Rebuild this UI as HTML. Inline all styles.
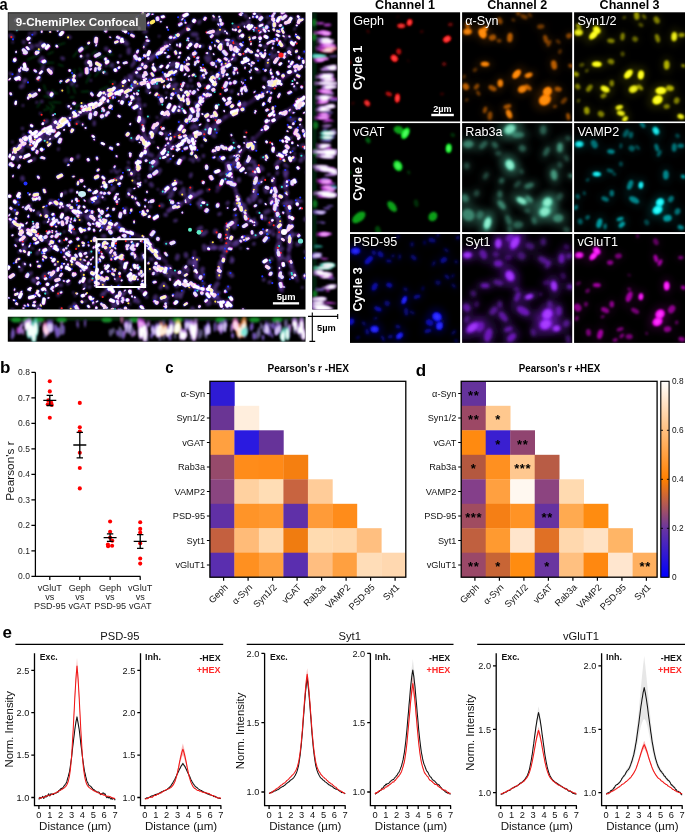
<!DOCTYPE html><html><head><meta charset="utf-8"><title>9-ChemiPlex figure</title>
<style>html,body{margin:0;padding:0;background:#fff}svg{display:block}text{font-family:'Liberation Sans', sans-serif}</style></head><body>
<svg width="685" height="833" viewBox="0 0 685 833">
<defs><filter id="b05" x="-5%" y="-5%" width="110%" height="110%"><feGaussianBlur stdDeviation=".45"/></filter>
<filter id="b07" x="-5%" y="-5%" width="110%" height="110%"><feGaussianBlur stdDeviation=".7"/></filter><filter id="b1" x="-5%" y="-5%" width="110%" height="110%"><feGaussianBlur stdDeviation=".9"/></filter>
<filter id="b15" x="-5%" y="-5%" width="110%" height="110%"><feGaussianBlur stdDeviation="1.3"/></filter><filter id="b3" x="-5%" y="-5%" width="110%" height="110%"><feGaussianBlur stdDeviation="3"/></filter><filter id="b2" x="-5%" y="-5%" width="110%" height="110%"><feGaussianBlur stdDeviation="1.8"/></filter></defs>
<rect width="685" height="833" fill="#fff"/>
<text x="-0.5" y="9.8" font-size="17" font-weight="bold" textLength="8.2" lengthAdjust="spacingAndGlyphs">a</text>
<clipPath id="cm"><rect x="7.8" y="12.3" width="297.7" height="297.2"/></clipPath>
<rect x="7.8" y="12.3" width="297.7" height="297.2" fill="#000"/>
<g clip-path="url(#cm)" fill="none" stroke-linecap="round">
<path d="M40.6 102.5l-3.4 4.8M79.4 68.2l3.4 5.5M77.5 51.4l-4.2 5.4M88.7 91.4l-7.4 .3M52.2 92.1l5.4 1.5M114.3 81.5l-4.7 .2M72.4 84l2.8 9.2M96.5 50.6l-4.8 3.6M74.1 97l-4 .5M53.2 51.7l-5.1 2.6M76.6 76.8l-6.3 4.3M74.8 69.5l-3.4 8.8M52.7 89.8l-1 4.4M113.8 83.4l-.2 4.3M43.9 84.9l1.8 5.5M111.3 98.3l-1.3 10.6M53.8 62.8l-9.8 .1M89.6 108.3l-1.4 5.4M37.3 55.4l-9.9 4.3M101.2 69.1l-6.2 7.3M52.5 102.1l8.4 .7M83.6 111.5l-9.8 .4M97.7 70.5l8.1 .5M88.1 46.7l-8.2 3.7M43.5 48l-5.4 2.5M43.9 96.2l9.2 1.4M39.9 61.4l2.3 4.9M46.4 105.9l4.4 3.5M109.3 111.1l-6.4 7.9M58.3 64.5l4.7 1.5M90 100.6l4.2 4M104.7 56.6l-8.8 .8M99.4 100.3l-3.4 2.4M54.3 106.1l-3.7 6.9M76.6 106.8l-1.6 7.4M67.8 86l.8 7.3M89.7 106.5l4.6 .4M107.7 53.8l5.3 .9M83 104.2l-6.9 1.7M64.9 43l-9.3 3.1M107.9 86.6l-8.1 3.7M48 109l-4.5 1.2M49.4 102.1l3.8 5.1M112.4 65l-5.5 .8M90.3 74l-4 8.9" stroke="#0f6a22" stroke-width="1.1" opacity=".75" filter="url(#b1)"/>
<path d="M12 150L30 137L52 128L74 115L96 104L117 93L139 84L158 80L175 72M36 143L62 121L84 113M273.2 177.5L275.4 203.8L279.8 230L277.6 247.6L279.8 269.5L282 291.4M286.4 171L286.4 203.8L290.8 225.7L288.6 258.5L297.3 280.4M227.3 164.4L238.2 199.4L247 219.1L255.7 223.5M255.7 166.6L255.7 181.9L253.5 199.4M227.3 223.5L227.3 243.2L220.7 262.9L218.5 278.2M155 265.1L172.5 273.9L190 284.8L207.6 291.4L220.7 300.1L229.4 308.9M194.4 252L194.4 265.1L198.8 278.2M207.6 247.6L229.4 247.6L238.2 241L260.1 234.4L273.2 230M161.6 192.8L170.3 186.3L176.9 181.9M168.1 210.4L181.3 203.8L194.4 195L198.8 192.8M139 100L141 118L144 138L147 150M151 166L191 116L217 76L242 45M166 151L212 126L252 101L302 65M217 191L242 151L272 121L302 101M101 101L131 76L166 45L191 25M10 222L50 242L91 272L121 302M50 201L101 222L141 237L166 262M133.5 175.5L154 128.8L171.5 108" stroke="#5a2c92" stroke-width="4" opacity=".42" stroke-linejoin="round" filter="url(#b15)"/>
<g filter="url(#b1)">
<path d="M148 23.4l.6 -.8M152.7 14.2l-.1 .1M160.8 21.6l.1 -.1M182.1 19.6l.7 -.8M180.8 16.4l.7 -.3M180.1 19.7l.2 -.5M185.3 22.9l.3 -.5M213.2 15.9l.8 .9M219.4 16.6l0 .2M218.1 24.1l.5 .9M222.1 23.8l.3 .3M235.7 26.6l.2 .6M244.5 26.3l0 .6M241.7 12.4l.5 1M233.6 24.9l-.1 .5M258.4 25l.4 .3M252.9 16.9l.1 -.2M249.7 18.1l0 0M274.6 20.7l-1 .6M273 21.8l-.3 .2M274.9 23.3l-.3 .7M273 16.4l0 0M287.8 21.5l.5 -.8M278.6 23.8l0 0M284.2 16.9l.7 .6M296.4 25.5l.6 -.1M29.8 33.2l-.4 .6M41.6 31l.1 1.1M50.1 31.7l0 0M57.9 30.4l-.5 .4M110.2 37.3l0 0M131.7 30.9l-.1 .7M146.3 36.8l.6 .5M167 27.3l.1 .1M159.1 36.2l0 0M175 37.3l-1.1 .5M187.8 38.8l.2 -.4M188.2 40.4l.1 -.1M207.3 32.6l.4 -.1M214.5 33.5l.6 -.3M215.7 40.8l.5 -.6M226.7 32.8l.4 .7M232.7 29.2l.4 .7M228.4 34l.3 .2M225 31.3l.2 0M233.2 29.3l0 .5M240.8 35.2l-.7 .8M249.6 39.5l.3 -.5M253.3 29.6l.1 0M254.8 27.7l0 -.1M258.9 34l1 -.4M259.8 41.6l0 .2M259.8 32.6l1 -.6M276.8 39.4l1.1 .3M268.4 30.7l.6 .2M270.2 41.8l.3 .4M283.1 36l.8 .3M282.7 28.5l-1 .6M285.2 39.4l.1 .2M289.1 36.5l.7 .2M295 28.7l-.7 .5M296 34.6l0 0M12.7 42.1l0 .1M16.1 51.7l0 .5M29.5 42.8l.3 .1M39.7 49.3l.7 -.7M96 45.5l.4 -.6M120.3 55.8l-.1 .4M143.7 46.6l.2 .4M144.5 45l-.2 .2M154.9 55.7l.8 -.8M144.8 48.8l0 .1M164.8 53l.7 -.2M169.4 47.6l.1 -.1M160 53.7l.3 -.4M170.7 48.9l.3 -.6M177 44.5l0 .9M179.2 56.6l-.4 1M191.3 55l-.6 .2M195.5 45.2l-.6 .8M202.9 45.8l-.2 .6M193.9 55.7l-.2 .2M209.1 53.1l-.1 .7M214.8 45.3l.2 .6M207.2 52.8l-.1 .6M210 45.8l-.2 1M213.6 54.1l.1 .2M219.1 48l.6 .8M222.4 48.2l.1 .2M245.1 51.7l.3 .2M244.6 54.4l.1 0M238.7 49.2l.2 .4M260.4 54l-.2 .1M251.2 43.5l-.4 .8M273.9 50.1l.2 0M272.6 47.8l-.2 .4M265.2 50.2l-.1 .4M273.4 43.9l-.1 .1M270.7 53.3l.5 -1.1M287.6 48.8l.4 .5M290.9 54.5l0 0M278 51.9l.8 .3M294.8 42.8l.8 -.8M303.8 52.6l.7 -.7M20.9 67.5l-.3 .9M42.8 66.8l.9 -.4M81.4 57.2l1.1 -.3M91.2 68.8l-.8 .8M88.3 67.7l-.4 .9M106 61.1l0 .8M105.8 65.2l-.1 .8M134.6 58.4l.3 .2M134.3 59.4l-.1 .3M153.4 64l-.1 .9M147.3 66.5l0 .4M169.8 62.8l0 0M168.9 66.4l.5 -.9M178.7 67.7l-.3 .9M186.6 59.8l-.1 .2M195.4 62.2l.5 .9M200.7 67.6l.7 .3M215.9 66.1l.2 .5M215.5 63.1l0 .1M217.6 61.3l-.8 .6M228.8 61.1l-.1 .4M219.3 61.6l.7 .1M227.3 67.5l-.2 .8M221.7 63.7l-.2 1.2M231.9 59.5l.7 -.9M244.9 67.9l.2 -.3M234.9 70.9l-.4 .8M234.1 67.7l.8 .3M251.1 69.9l0 0M248.8 63.7l.8 .5M249.6 71.8l.2 .2M251.3 65.4l.2 .5M248.2 60.6l.2 .1M268.5 59.6l-.4 .6M272.6 57.7l-1 .5M270.7 69.9l-.2 .8M276.1 59.5l-.1 1.2M283 57.4l-.1 .5M288.9 61.2l-.2 .3M279.7 57.1l-.9 .7M306.7 58.3l-.9 .6M294.3 71.5l.6 .3M305.9 66.8l0 .1M295.9 67.7l.6 .9M19.7 79.6l-.2 .2M10.1 78.7l-.8 .8M25.2 80l.6 .7M60.5 81.1l1 .2M76.7 85.6l-.3 .3M70.1 78.8l.7 .5M90.8 80.4l.1 0M103.2 72.1l.3 1M105.6 73l.7 .6M114.7 82.7l-.2 .2M125.3 77.6l-.1 .2M142 78.2l.3 .2M135.7 80.8l.7 .9M128.9 75.3l0 0M128.7 79.9l.6 .5M135.1 85.5l.9 .2M167 79.6l.5 .9M168.4 79.2l-.1 .6M169.7 83.7l0 .2M170.9 79.1l.3 1M163.7 86.4l.3 .9M173.5 79.5l.6 -.5M185.2 74l-.4 .9M176.7 83.9l.8 .5M189 76.3l.1 -.1M201 76.4l-.2 .2M192.3 86.1l-.4 .5M204.3 77.2l-.1 .6M204.3 85.3l-.1 0M211.6 72.8l-.1 .1M215.5 81.3l0 0M223.1 76l.5 -.3M223.6 75l-.1 .1M228.9 78.5l.7 -.1M242.7 79.4l0 .1M241.6 82.1l0 0M243.1 83.1l0 .1M237.6 72.8l0 .1M251 77.5l.1 .9M276.5 78.4l0 0M268.6 84.9l-.2 .5M292.1 84.2l.4 -.3M296.8 83.1l.8 -.1M305.6 82.4l.8 .9M294.4 86.1l-.4 .5M294.4 79.4l.2 .3M61.6 90.4l.1 .3M99.7 101.1l0 .2M98.1 95.2l.2 -.2M113.2 96.7l0 .1M118.8 100.9l.1 .1M120.2 94.2l-.1 1M126.8 94.5l.2 0M136.6 90.3l.6 .3M132.7 96.4l.7 .9M131.6 100.3l.1 0M133.9 93.6l.6 .3M153.5 87.1l0 0M150 92.8l-.3 .2M166.2 92.5l.3 .2M166.4 97.4l-.5 .6M160.7 96.4l.9 .5M183.4 91.1l-.2 .3M187.6 91.6l.2 1M197.7 89.4l.3 .5M195.9 93.2l0 .1M209.1 96.1l.1 0M205.5 94.2l.7 .9M204 96.8l.9 .5M206.3 97.2l.5 .6M220.3 94.3l.4 -.3M241.8 93l.3 1.1M238.4 93.7l-.2 .9M254.8 91.8l-.4 .2M269.8 101.9l.4 -.3M268.5 101l.5 -.7M267.2 92.1l.2 -.2M270.9 93.4l.5 -.9M300.5 100.1l.2 -.3M37.1 102.2l-.5 .2M23.1 105.4l-.3 .2M40.2 113.2l.1 .7M53.1 115l.1 .1M82.5 103.7l.6 .2M71 108.4l-.1 .2M93.4 113.7l-.3 .9M83.3 107l-.1 1.1M89.7 111.3l.4 -.2M148.4 116.9l.2 -.1M179 106.4l.5 .8M200.6 103.6l.3 1M202.3 113.9l.3 .4M217.5 105.3l.5 -.4M224.1 110.9l.2 .3M240.1 103.4l.2 -.6M243.4 110.5l.3 -.2M254.9 112.7l0 .1M255.3 110.9l.4 .7M291.2 111.6l.5 -.8M289.4 110.6l.4 -.9M291.4 112.5l.9 -.2M293.5 112.8l.3 -.2M295.8 106.8l.2 .1M304.2 112.5l-.1 .3M52.4 130.9l.2 -.2M64.2 129.6l-.1 .3M73.3 129.8l0 .7M82.6 124.6l.1 .1M85.5 127.7l.2 .4M136.7 119l.6 -.3M130.1 124.4l.3 -.5M143.1 125.9l.1 .4M157 117.1l.3 .6M180.2 127.8l-1 .4M179.6 121.7l.2 .3M197.2 118.8l0 0M199.6 124.9l.8 -.4M193 119.4l.7 -.6M191.4 120.9l1.1 -.3M245.5 131.8l-.2 .1M268.9 120.6l.2 .2M287.3 131.2l.3 .1M295.6 118.2l0 .1M300.1 124.4l0 .2M307.1 130.6l0 .1M12.3 141.8l.3 .4M30.2 144.1l0 .3M26.9 138.6l-.3 .9M27.5 146l-.1 .8M23.6 134.3l-.1 1.1M35.6 138.4l-.4 .6M26.6 139.9l-.1 .1M49.5 134.5l1 -.6M49.8 139.3l.4 -.5M94.1 139.6l.1 0M139.5 142.5l0 0M153.2 141.9l.1 .1M170.2 132.3l.2 -.4M170.4 133.6l0 .4M176.2 145.9l.5 .2M175.5 135.4l.3 -.5M179.7 136.6l-.3 .3M201.9 145.3l-.2 .6M195.5 140.9l.1 .2M232.5 139.6l.5 .8M231.3 134.9l.3 .4M234.8 142.8l.4 .1M247.6 143.3l.7 .8M244.4 136.8l.6 .1M244.2 143l0 0M246.4 139.9l.2 .4M254.6 141.8l.5 .4M272 143.5l.5 1M289.3 139.2l.3 .5M291.1 137.6l.6 -.3M297.9 145.5l0 0M13.2 151.7l-.5 1M24.4 157.7l-.8 .6M23.5 157.3l.1 .1M58.2 149.5l.5 -.9M116.5 155.8l0 .8M143.5 154l.8 .4M150.4 161.3l.9 .2M157.6 147.6l.9 .5M164.3 149.1l.7 -.3M171.1 148.2l.6 .7M161.2 152.4l.1 0M171.4 148.9l.9 -.8M173 156.1l.2 -.2M177.5 150.7l.3 -.5M189.9 158.7l-.2 1M192.3 152.8l-.1 1.1M216 149l1 -.6M216 147.6l.9 -.7M213.9 157.7l.8 -.7M222.6 161.2l.1 -.2M234.2 155.8l.1 -.1M236.9 155.4l.5 -.2M241.3 150l-.1 .2M261.9 157.7l.6 -.4M248.7 161.1l0 .1M250 149.7l.2 .5M248.6 156l-.1 1.1M265.6 159.2l.5 1M272.7 151.5l.5 .4M277.4 153.2l.9 .5M277.1 155.6l.2 .1M290.7 152.2l-.4 .3M286.4 154.5l-.4 .7M294.8 153.6l-.4 .3M9.5 164.6l0 .1M12.9 176.2l.2 -.3M73.1 176.7l.7 -.3M68.1 165.2l.6 -.2M111.1 171.1l.3 .6M115 166.4l-.7 .9M119.9 170.7l-.5 .3M114.4 168.6l-.2 .8M139.7 165.9l.3 .5M128.2 162l.7 1M129.5 169.9l0 .3M136.7 162.7l.2 .4M138.4 174.7l.4 -.2M129.5 174.4l.1 .5M156.9 162.7l.5 -.4M175.7 162.5l.5 .6M245.6 173l.2 -.3M249 162.4l.2 .1M269.4 174.4l-1 .4M71.8 190.5l.3 -.2M90.6 190.3l-.2 .1M84.7 186.4l-.2 .2M101.5 186.7l.3 -.2M116.8 178.1l-.4 1.1M134.3 188.5l.1 0M138.3 186.4l.1 .3M140.4 182.5l-.2 .1M137.9 178.3l1.1 .4M157.9 189.3l.2 .1M145.8 180.4l-.4 1M146.7 191.9l.4 .2M168.9 191.8l-.1 .3M231.7 177.1l.3 .1M230.2 184.6l.5 .2M258.6 182l-.3 .8M261.2 182.1l.5 -.3M280.8 186.6l.3 1.1M19.5 197.5l.6 -.3M30 205l.8 -.2M32.6 198.1l-.1 .2M23.1 207l-.1 .1M29.7 194.2l-.2 .5M46.3 206.6l0 .1M44 206.5l0 0M61.7 202.7l.6 1M69.9 205l-.3 .4M81.9 195.8l-.1 1M77.6 201.1l-.6 .4M75.9 203.8l0 .3M72.2 200.9l-.3 .4M93.1 193.2l.2 .3M84.5 200.2l.2 .5M93.8 201.1l.2 .3M94.7 203.5l.8 -.6M102.3 197l.6 .3M104.3 199.1l.5 -.1M103.9 193.7l.2 .2M98.2 194.9l.9 -.3M117.2 202.9l.1 -.1M119 199.1l-.1 .2M118 200.3l-.2 .3M116.9 193.9l-.7 .6M118 194l-.2 .4M127.7 196.1l.7 -.8M136.2 202.9l.2 .6M135.3 198l.4 .8M139.3 203.2l0 0M144.9 206.7l.3 -.4M148.7 202.3l.2 -.3M145.1 200.3l.7 -.6M178.4 203.1l.4 .1M237.8 205.3l.5 -.2M251.3 195.5l.5 .9M273.5 197.1l0 0M265.5 203.8l.3 .6M277.5 204.8l0 1M278.4 200.1l.6 .6M286 193.4l.9 .7M301.2 200.5l.5 1.1M14.8 211.3l.1 .2M15.2 210.6l1 -.5M9.6 214.7l-.5 .5M31.1 210.6l0 0M34 210.3l-.5 .4M28.5 215.7l-.4 .9M51 219.4l-.3 1.1M40.2 214.7l-.1 .3M48.7 219.2l0 .2M44.5 214.4l-.2 .9M38.5 212.4l-.2 .7M45 221.7l-.8 .6M59.7 207.7l.6 -.8M66 210.5l-.4 .4M74.4 220.4l.6 -.4M71.3 218.5l-.1 1.1M74.3 220.2l1 .4M70.5 221.8l.1 .6M79.9 215.5l.3 -.4M79 216.9l.7 -.3M81.2 212.6l0 .3M94.7 219.8l-.4 .7M86.8 216.3l-.5 .4M92.8 213.5l-.6 .3M90.3 213.7l-.1 .7M107.3 208.6l.7 -.5M98.3 216.5l1.2 .1M125.2 213l-.1 .4M126 213.9l-.1 .1M142.1 213.2l.1 1.1M134 221.4l.2 1.1M182.2 212.6l.2 -.2M227.6 207.9l.1 0M257.6 212l.7 .3M270.5 218.7l.2 -.1M274 211l.9 -.3M282.9 212.4l.7 .6M300.2 208l-.2 .6M21.4 235l-.4 .4M12.8 235.1l-.6 .3M26.7 223l-.3 .4M33.4 223.4l-.1 .4M27.5 229.5l-.7 .5M52.2 230.8l.1 -.1M47.7 222.2l.6 -1M52.3 232.4l0 0M38.2 224.6l0 -.1M52.9 224.5l.1 -.1M55.8 226.4l.6 .2M56.1 231.3l.4 .4M64.1 231.8l.2 -.3M60 233.9l-.2 .6M56.5 225.9l-.1 .9M70.6 231.6l.7 .7M72.7 229.9l.3 -.1M92.8 223.5l1 .6M87.1 229.8l0 .1M96.7 225.6l.1 -.1M85.8 236.8l.1 .6M100.7 229.9l-.6 .9M102.7 222l-.3 .9M101.9 224.2l.1 -.1M104.3 235.1l.2 .1M118.2 224.1l.2 -.5M122.6 235.6l.7 -.5M120.3 230.1l.4 -.3M113.4 231.1l.3 -.3M118.3 228.4l.1 -.2M228.2 228l-.5 .5M254.4 222.4l.2 -.1M254.3 225.3l.1 -.1M267.4 229.8l-.6 .6M291.9 225.1l0 0M281.1 224.5l0 .1M15.3 245.1l.5 1M22.5 244.6l.2 .1M23.2 244.4l-.3 .3M32.7 248.3l-.4 .2M29.6 245.4l-.3 1.2M51 246.4l.4 -.2M39.4 249.9l.2 -.1M60.4 240.2l.1 .1M65.7 248.1l.9 .4M59.3 240.7l.5 .4M61.3 242.2l.1 .1M77.1 247l.2 -.1M68.2 245.8l0 0M78.1 246.1l.1 .8M78.6 238.6l.1 -.2M82.9 245.7l1 -.2M92.2 241.2l-.3 .2M88.8 245.2l-.3 .4M97.9 248.6l-.5 .9M96.1 246.9l-.7 .6M93.7 247.1l-.4 .8M110.5 246.4l-.9 .7M111.8 250.3l-.3 .2M99 250l-.2 .8M127.2 240.8l.4 1.1M114.9 247.7l.5 .8M140.9 240.7l-.2 .6M132.1 241.7l-.8 .6M135.2 242.9l-.1 .1M151.5 246.8l0 .5M221.7 239.4l-.3 1.1M247.4 248.5l.6 .2M240.5 248.1l.1 .1M8.3 266.6l0 .1M16.5 260l-.2 1.1M19.3 266.7l.1 .2M18.9 252.3l.1 0M16.1 261.9l-.1 .5M24.9 263.6l.1 .8M30.4 264.6l0 1.2M37.5 261.4l.1 .4M43.9 253.1l.6 .4M40.2 264.7l.4 .1M50.9 258l.8 .4M42.7 259.4l.6 .4M55.1 264l-.1 1M63.8 263.8l.5 -.1M67.8 264.4l.4 .6M64.2 256.4l.2 .9M66.3 259.4l.1 .1M74.8 259.2l.1 .7M91 264.1l.1 -.1M84 260.1l1.1 .2M93.1 257.3l-.3 .3M90.8 259.9l.3 -.6M86.6 256.7l.6 -.2M101.7 253.8l.3 -.1M104.6 266l.4 -.5M111.2 259.1l.4 -.1M100 261.1l.4 -.4M99.3 259l.9 .6M115.4 255.3l.2 -.4M122.2 264.7l0 .1M125.1 263.3l.6 .1M134.8 257.8l.2 -.1M137.8 265.1l-.8 .3M148.1 263.1l.4 -.4M198.4 259.2l-.9 .6M19.2 267l.1 -.1M28.1 273.9l0 .1M53 273.7l-.2 .6M50.7 272.4l-.1 0M49.2 272.5l-.8 .9M55.8 275.7l-.3 .6M65.6 268.2l.7 .8M63.8 280.9l-.1 .1M73.2 273.1l-.3 .2M80.9 270.6l-.2 .3M68.9 268.4l-.1 .1M94 279.5l0 .2M91.5 279.2l-.1 .2M108.1 277.7l.7 .4M107.4 269.6l.6 1M112.3 269l.6 .4M101 280.4l0 0M108.8 271.3l.1 .1M120.2 267.8l.4 .2M114.8 278.9l0 .1M114.6 270.1l.5 .5M118.4 276.9l1 .5M113.9 270.9l.3 .1M121.6 280.2l.2 .4M118.7 278.7l1.1 .2M136.2 277l.3 -.5M137.5 274.4l.4 -.7M142.2 281.1l.4 -.4M137.9 279.4l0 .1M130.8 281.9l.4 .9M130.5 269.3l.7 .9M132.6 279.7l0 .3M171.9 271.5l0 1.1M169.9 278.7l.1 1.2M270.9 267.5l.1 0M14.6 289.3l-.1 .5M21.5 291.5l-.2 .5M30.3 295.6l-.1 0M29.9 290.4l.3 -.7M35.4 296.3l.1 0M36.8 294.6l-.3 1.1M52.5 290.2l.4 .7M45.5 289.9l.2 .4M60.8 292.5l.9 -.3M77 293.9l.2 -.4M73.3 292.7l.2 -.1M75.2 295.8l0 0M95 285.7l-.1 .1M84.3 288.5l-.6 .5M86.1 293.7l-.3 .6M112.7 291.3l-.3 .2M104.6 294l-.1 .8M101.1 295.2l0 0M109.2 289.5l-.1 .7M122.3 293.5l-.5 .8M125 290.4l-.2 .3M138.5 288.4l.4 .5M132 296.3l0 .4M164.4 285.7l.2 .2M163.8 283l0 .9M183.7 290.3l-.1 .1M173 295.2l-.4 .4M182.6 283.3l-.2 .6M190.2 288l-.3 .6M208.6 286.6l-.6 .9M302.3 287.2l-.1 .6M13.7 300.2l.5 .1M8.7 297.8l.2 .1M23.5 308l.1 .1M27.9 304.7l.6 .8M24.7 305.3l.4 .7M40.5 304.8l-.1 .3M48.7 297.8l-.5 .2M60.5 309.2l.4 -.6M76.4 305.7l-.2 .2M74.2 303.4l.3 .4M86.1 301l-.9 .3M93.6 298.6l-1 .5M97.4 301.3l-.7 .4M93.5 302.3l-.8 .6M103.9 308.4l0 .2M106.8 308l.3 -.3M101 310.5l1.1 -.2M118 304l-.2 1M113.2 308.8l-.3 .7M118.2 297.5l-.1 1.1M136.4 298.4l0 0M129.3 303.2l.6 .9M134.2 300.7l-.1 .6M134.6 297.3l.5 .1M146.4 297.6l.7 -.6M168 303l-.1 .2M164.4 306.6l.3 -.1M170.5 309.3l-.3 1M174.4 310.4l-.3 .3M217.7 302l1 .2M215.3 302.2l-.4 .9M222.9 309.7l.3 -.3M226.4 301.1l.4 -.3M26.3 139.8l.3 -.3M21.6 141.4l.6 -.4M20.6 145.6l.5 -.3M27.4 139.2l.8 -.4M23.1 142.3l.4 -.3M63.7 121.1l0 0M57.2 124l.6 -.2M57.8 123.2l.9 -.3M83.5 108.8l0 0M84.6 106.2l.8 -.6M84.7 109.2l.3 -.3M75.1 115.8l.1 0M102.4 101.8l.7 -.2M104.7 102.5l.8 -.2M112.9 97.8l.3 -.2M128.1 89.4l.3 -.1M132.3 87.8l.3 0M127.5 91.1l.7 -.1M132.5 85.6l.6 -.1M155.6 78.8l0 0M152.2 83.9l.5 0M150 80.7l.8 -.2M149.4 83l.1 0M147.1 81.5l.1 0M163 77.5l.8 -.4M175.4 73.7l1 -.2M161.4 80l.9 -.3M50.1 132.2l0 -.1M50.8 129.6l.1 -.1M57.7 124.5l.7 -.3M48.8 134.2l.8 -.6M62.5 121.8l.3 -.4M53.8 130.3l.4 -.4M73.7 117.8l.4 0M69.6 117.9l.7 -.1M69.8 118.4l.1 0M78.7 115.1l.1 -.1M273.8 178.2l0 .3M275.4 197.9l0 .1M280.5 229.3l0 1.1M279.3 230.7l-.1 .6M280.8 231.7l0 .1M279.2 237.1l-.1 .7M279.4 267.8l.1 .4M277.9 249.7l0 .7M284 286.9l0 .1M286.7 185.7l-.1 .3M291.4 220.1l0 0M287.5 237.7l0 .1M291.2 246.6l0 .3M293.4 271.7l.3 .3M295.4 275.9l.4 .6M235.8 190l.1 .9M229 171.2l.2 .8M237.4 195.9l0 .2M229.9 174.5l.5 .8M236.8 196.2l.2 1.1M252.3 221.8l.5 .3M254.5 179.2l0 .3M254.5 180.6l0 0M255.9 181.1l0 .8M255.8 178.5l0 .2M253.6 191l-.1 1M227.3 237.3l-.1 .7M227.3 237.6l0 .3M221.2 255.9l0 .1M219.1 267.6l0 .8M170.3 268.1l.2 .2M186.4 279.9l.8 .7M219.2 303.9l1 .6M193.3 257.9l0 .3M193.7 262.9l0 0M194.5 258.4l-.2 1.1M193.5 265.5l0 .1M194.6 270.5l.3 .6M244.2 238.3l.4 0M247 238.6l1.1 -.2M243.5 239.9l.8 -.1M268.9 232.4l.9 -.5M169.4 187.1l.4 -.2M165 191.9l.7 -.3M175.3 207.4l.6 -.4M173.1 208l.7 -.3M192.3 195.2l.7 -.6M185.4 200.3l.1 -.1M185.5 202l.3 -.2M140.4 108.6l0 .3M142.5 129.4l0 .5M145 134.2l0 .2M145 147.6l.2 1M167.9 143.7l.5 -.6M160.4 155.1l.2 -.4M165.6 145.5l.2 -.2M179.4 133l.6 -.4M153.1 165.3l.5 -.4M160 156.4l.3 -.5M189.9 113.5l.5 -.9M209.3 85.6l0 0M203 98.7l.4 -.5M220.2 73.1l.3 -.3M221.6 71.3l.1 -.2M224.6 66.9l.8 -.8M206.5 129.5l.2 -.1M202.4 133.5l.6 -.4M172.6 146.8l.9 -.4M235.6 113.2l.1 -.1M224.7 117.1l.9 -.6M218.2 120.1l.3 -.2M298.6 69.4l.4 -.4M275.6 85.8l.3 -.2M273.6 86.8l.2 -.2M262.5 93.8l.6 -.3M255.5 96.8l.8 -.6M269.1 88.9l.8 -.6M239.4 152l.7 -.9M236.8 161l.1 -.2M236.2 156.5l.3 -.6M227.1 175.8l.2 -.5M224.6 180.9l.3 -.4M239.2 156l0 0M217.4 187.2l.2 -.7M252.1 138l.5 -.3M251.4 143.6l.1 -.1M261.7 130.3l.4 -.4M105.6 94.4l.1 -.1M103.7 99.7l.6 -.8M164.8 46.3l0 0M161 49.2l.4 -.3M169.9 44.5l0 0M68.6 251.5l.8 .7M88.7 267.9l.1 0M82.5 263.9l.1 .1M103.9 286.4l.5 .3M101.4 278.4l.4 .2M62.6 206.3l.4 .2M50.6 202.7l.9 .3M146.9 245.8l.7 .5M143.4 236.8l.1 .1M143.7 239.3l.6 .4M135.7 163.2l.2 -1M146.6 141.7l.1 -.5" stroke="#5c3c96" stroke-width="2.6" opacity=".65"/>
<path d="M84.9 25.9l1 -.7M136.4 17.8l-.2 .7M143 13.1l-.5 .6M148.5 14.3l-1.8 1.4M162 16.9l1.7 -.4M179.3 25l2.1 -1.3M199.7 21.4l-.8 1.5M214.1 18.9l-.5 .2M205.4 17.9l-.9 1.4M218.3 19.5l0 .6M220.3 19.5l.2 1.7M245.4 15.2l.5 1.5M240.4 14.4l.4 .3M238.9 26.1l.4 -.2M242.6 23.6l2 .5M256.9 17l.3 -.2M258.7 15.3l.6 -.7M254.2 13.8l.5 -.2M248.3 26.3l1.1 -1.2M259.8 25.9l2.2 -.9M269.4 22.4l-.5 .7M267.6 17l-.4 .3M273 15.5l-.7 1.1M274.5 12.7l-.2 .7M281.5 13.9l.4 -.2M278.8 17.7l2.2 -.7M289.8 19.3l2 -1.4M280.1 25.8l.8 -.6M298.1 16.4l.3 .4M300.7 20.3l1.6 -.7M307.5 18.3l1 1.2M16.5 29.7l.1 0M35 32.7l-1.5 1.4M23.6 41.5l.2 1.2M29 38.3l1.3 .3M68.3 36.7l1.6 .7M106.1 28.9l-.6 2.3M122.6 41.2l.5 .4M122.9 30.4l.6 -.6M117.2 37.1l1.9 1M139.1 27.7l.2 1M131.4 35l2.1 1.1M144 32l2.1 -.4M147.4 40.6l.9 .2M187.7 28.9l.1 .7M197.6 39l.2 -.3M211.1 36.8l1.3 -1.5M217.1 40.7l1.3 .8M226.5 39.9l2.1 .3M223.4 30.4l.9 1.7M222.6 41.7l.5 2M233.3 39.9l-1.4 1.4M247.4 27l1 -1.6M240.1 30.6l-.8 .9M235.7 29.8l-.2 .1M262.4 31.4l1.8 -.6M249.9 37.1l.1 .3M253.2 38.1l1.8 -.6M277 39.2l-.1 .3M277.3 31l1.6 .5M277.1 34.8l1.5 .9M273.7 29.4l.2 .2M271.6 41.2l2.1 .2M263.9 29.5l1.2 1.9M280 41.9l-.5 1.7M286.1 36.5l-.3 .2M282.3 30.3l1.1 2.1M291 40.8l.6 .3M297.3 36.9l1.7 1.1M27.1 47.5l1.4 1.6M36.2 45.5l2.2 .4M23.9 52.9l1 .3M40.9 42.6l-.7 .6M38.3 52.4l-1.8 1.1M44.4 44.3l-1.5 2M56.8 46.1l-.1 .1M81 56.1l0 .1M88.5 43.2l.4 -.2M87.6 55.9l.3 -.4M110.1 51.2l-.4 .4M115.3 42.5l2.2 -.8M137.9 50.9l-.7 1.1M145.2 55l-.1 1.2M144.2 55.5l1.2 .4M165.6 47.1l1.9 -1.2M159 52.5l-.5 1.4M165.4 42.7l.1 0M175.4 51.6l.7 1.8M180 44.5l-.1 1.4M180 53l0 .1M187.8 47.7l0 .2M200.1 45.9l-.3 .7M192 42.4l-.2 .5M193.7 53.2l-.2 1.1M189.6 44.3l-.2 .4M210.2 47.2l.3 1.5M228.5 42.2l0 1.6M227.7 43.4l0 1.5M246 51.1l.3 .2M239.2 54.1l.9 .3M247.6 49.1l1.3 1.3M240.6 44l1.4 1.3M239.6 49.5l.3 .3M251.3 51.7l.5 .5M260 45.2l.7 .2M260.5 53.4l.4 .3M257.8 50.6l.3 .2M249.6 51.3l1.1 .6M256 55l1.9 .7M271.8 55.2l-.2 .1M264.8 46.4l1.2 .2M276.1 54.8l-1 .8M265.1 53.7l-.5 1.7M269.7 42.2l-1.9 1.1M283.2 55.6l1.1 1.8M285.1 55.1l1.2 .9M289.7 48.2l1.7 1.6M284.5 54.2l.4 -.3M296.1 51.5l.6 -.2M19.3 70.1l.3 1M34.9 70.7l.9 .5M42 69.2l.4 -.2M49.8 71.6l1 -.2M62 58l1.2 .6M69.7 70.4l0 .2M95.6 68.5l-.3 2.1M105.5 58.8l.1 .7M118.8 67.7l.3 -.1M124 63.1l2.3 -.6M118 62.4l0 0M134.1 62.5l-.3 .6M132.3 65l-.4 .9M142.3 64.2l0 .7M134 63.2l-.7 .7M167.9 57l.7 -.7M167 67.5l1.2 -1.9M160.6 67l1.2 -1.1M159.1 69.3l.5 -1.2M176.4 63.4l.4 1.5M185.4 65.2l.5 -.5M187.2 64.4l1.4 -.2M195 64.4l0 0M188.3 57.8l.7 .9M197.4 61.3l.7 .6M201.4 70.2l1.3 .3M195.5 62.7l0 .1M197.4 57.9l.5 .1M204.6 69.7l.4 1.3M213.5 63.2l-.1 .6M223.5 68.8l1.2 -2M221.3 69.6l0 1.8M225.1 58.4l1.6 1M226.7 63l1.3 .4M218.5 59.8l1.8 1M224 66.2l.2 .4M234.9 69.8l1.2 -1.3M244.2 59.1l2.1 -1M234.6 59.6l.9 -1.2M243 63.4l.8 -.3M255.8 68.8l1.2 .5M257.1 71l1.8 .5M252.2 62.6l1.3 .5M265.6 70.3l-.2 .1M267.8 59.9l-.5 1M279.8 64.5l1.2 -1.1M292.5 62l-1.4 2.1M289.8 66.3l-.8 .5M299.3 57.4l-.2 .7M297.5 57.4l.4 .7M303.2 60.9l.1 1.9M295.5 70.5l-.1 .3M10.3 73.5l1.1 .7M38 78.3l1 -1M40.2 73.2l1.6 -1.7M80.6 74.7l-1 .6M74.3 75.6l-.5 1.1M68.4 79.9l-1.9 1.5M72.5 83.3l-1 .8M137.8 83.7l2 .6M155.5 81.4l-.5 .8M151.8 73.5l1.3 2M148.1 86.3l.6 1M147.1 85.1l.8 1.8M144 79.8l.8 1.3M150 78.4l-.4 1.2M145.9 78.9l0 0M165 74.1l.9 2.2M161.9 81.8l1.8 -.8M171.8 72.8l0 .1M187.8 85.6l-.2 1M182.9 85l-.8 1.2M173.6 72.8l-.4 .2M183.3 83.3l.3 -.4M190.5 80.6l.4 -.7M201.4 77.4l-.5 1.4M193.7 74.7l-.6 .4M203.5 75.1l-.4 .2M214.7 82.6l-1.5 1.8M214.6 77.9l0 .3M215.9 83.8l-1.2 1.1M206.3 72.8l-.4 .6M230 83.4l.5 -.5M226.9 74.7l.2 -.2M233.8 72.5l.3 .9M277.2 72.3l1.1 1.8M272.8 77l-.2 .1M270.9 72.7l.4 .8M268.1 85.9l1 -.7M281.3 84.1l-.1 .3M279.9 81.2l-.6 2.4M307.9 76.9l.2 .3M297.2 75.3l1.9 1.1M10.8 93.7l.1 .4M15.9 101.9l-.3 1.8M28.1 98.2l.3 -.8M32.5 93.6l.4 -.8M48.2 93l.9 .6M41.8 101.4l0 .1M39.2 90l.1 0M91.3 93.4l1.2 1.5M102.2 100l.1 1.1M101.7 94.8l2.3 .4M108.1 100.5l-.2 .9M103.5 93l.6 -.2M106.8 91.5l.3 1M119.8 93.6l-1.1 .6M117.9 91.5l2.3 .7M125.9 92.7l-1 1.8M127.4 96l-.8 .5M134.4 98.8l-.1 .2M137.1 93.5l.5 .6M138.3 98.4l.3 .5M157 93.7l-1.2 1.4M146.9 90.9l2.2 1.1M171.1 98.1l.1 0M181 89.3l.3 .7M185.3 92.7l1 -1M183.5 95.7l-.3 1.1M178.9 97.4l.5 .6M183 99.2l.7 1.7M178.4 95.5l.2 1.1M173.9 89.5l1.5 -1.7M190.2 91.4l0 0M189.2 100.6l-.1 .9M204 94.2l.5 .4M207.7 87.1l.5 .5M209.2 94.7l1.5 .2M225.3 90.5l1.4 -.8M224.2 87.2l1.3 -1.4M223.3 98.6l1.5 1.8M231.4 91.7l.4 -.7M242 88.7l-.3 1.1M245.1 87l-2 1.2M241.5 89.9l-.2 1M269.3 100l.9 -2.1M263.6 87.1l.6 .4M278.5 96.4l.9 -2M288.6 93.1l2.2 -1.1M295.5 88.9l.1 0M299.1 100.1l-.2 2.1M301.6 87.3l.1 -.2M307.4 90.7l.9 -1.3M81.7 106.3l.2 .4M68.7 106.3l0 0M68.1 106l1.1 1.4M73.5 103.3l1 .4M92 115.2l-.9 1.2M86.5 112.6l1.1 -1.9M86.3 106.8l0 0M107.6 112.8l.9 -.3M105.9 115.3l.8 -1.1M103.2 111.3l1.1 -.5M102.6 108.6l1.3 1.9M118.8 115.9l.8 .5M129.6 104.5l1.3 -1.8M130.5 103.6l.8 -.4M144.6 105.2l.2 -.2M160.3 103.2l.2 -.1M173.1 111.7l1.4 .3M178.6 110.4l0 .3M183.8 110.6l1.3 2.1M195.3 103l.7 1.2M191.6 110l.1 .2M193.9 109.9l-1.3 1.8M211.4 116.2l0 .5M213.3 115.4l.4 .6M273.2 111.4l-.2 1M263.7 103.5l-.5 1.2M274.2 114.9l-.1 .3M267.5 109.8l-1 .6M273 107.7l-.3 1.3M302.7 102.6l-.4 2M296.3 104.3l0 1.8M296.8 106.5l-.1 1.9M295.9 104.4l-.7 1M22.4 128.4l0 .1M31.1 125.5l1 .6M45.2 128.5l-1.9 1.4M42.9 123.5l-.1 .4M62 124.6l-.4 .7M66 120.7l-1.7 1.6M55.9 122.7l-.4 .8M62.4 121.8l1.8 1.5M82.4 124l0 0M76.2 123.1l1.8 -1.2M72.1 129.7l-.5 2M72.4 130l-.2 .8M68.6 119.8l.4 1.5M68.7 123.4l.5 2.1M94.3 122l-.1 2.5M162.4 128.6l1.1 -.3M196.4 126.8l.6 .9M215 131.6l.6 .8M207.3 124.8l0 0M206.4 127.1l.4 1.5M208.1 120l.1 .6M216.3 129.7l1.3 -.3M289.3 127.1l1.4 .4M295 129.7l1 .7M300.7 125.8l.5 1M293.4 123.5l-.1 .4M303.1 130.3l.3 1M22.2 142.9l1.2 .7M27.5 137.9l-1.6 1.8M34.2 142.1l-1 1.3M30.5 146.2l1.6 -1M45.1 140l1.6 -1.5M38.4 133.7l2.3 -.5M48.5 135.3l.6 -.2M48 143.2l1.3 -1.5M48.4 145.4l1.7 -1.6M54.2 136.9l-1.8 1.1M92.9 136.3l.8 .4M101.9 143.2l1.9 .9M117.8 144.4l.3 -.1M130.8 138.9l.3 -.7M132.1 139.5l.4 .2M152 137.3l-.1 .2M166.2 133.1l.1 1.9M170.8 137.8l-.4 1.3M166.7 138.4l.2 .2M179.6 137.6l1.2 -.5M179 144.6l.1 -.1M184.1 136.2l1.7 -.5M180.2 144.9l.9 -1.8M190.4 136l0 0M204.7 139.5l1.1 1M212.9 135.4l1.7 1M203.4 134.5l1.2 1.2M238.5 146.5l.7 .4M255 145.1l-.3 1.6M266.5 141.7l.2 .3M292.3 142.9l0 0M287.3 146.8l.3 .1M286.2 141.2l.7 .7M282.5 140.7l.4 .7M306.4 133.1l.7 -1.5M307 138.1l2.4 -.6M294.9 133.8l1 -1.7M299.4 137.5l-1.1 1.1M22.5 147.1l.1 0M10.1 155l-.5 1.6M20.9 156.7l-.6 .4M17.8 159.9l0 .1M37.2 151.1l-.6 1.6M29 161.5l2 -.9M34.4 158.5l-.5 1M41.9 157.5l2.2 .7M77.7 157.4l.7 -1.4M88 159.2l.5 .9M96.9 158l.2 .5M110.2 147.9l1.7 .6M130 153.7l.4 .1M130.2 155.6l.1 -.2M145.9 160.7l.4 -.3M146 159.2l1 1M167.8 154.6l-.4 .3M163.2 157.6l2.1 -.7M170 153.9l0 .2M168 160.8l1.9 -1.3M181.9 158.6l2.2 -.8M184.7 148.6l2.2 -.8M177 149.7l2 -.7M192.9 159.6l.3 1.8M194.6 147.2l.2 2.1M195.5 155.8l.9 1.5M191.3 153.7l.7 -1.2M213.2 150.4l-.1 .1M214.7 152.6l1 -1.8M203.5 155.6l-.1 .7M213.3 151.2l1.8 -.5M225.9 147.8l.5 .7M230.5 157.5l1.8 -1.1M233.1 148.9l.9 -.5M237.9 152.8l.9 -1.4M254.6 147.7l.3 1M266.1 155.8l1.1 2M283.4 153.5l.4 2M285.7 152.8l.8 -.9M283.7 160.1l.1 -.1M292.9 157.5l-1.3 .9M294.7 158.1l-.5 1.9M301.3 154.7l.3 1.2M305.7 157.4l1.7 .8M304.9 147l0 1.1M294 148.6l-.7 .4M18.6 167.4l.8 -1.8M38.1 176.9l.5 .6M97.9 170.2l.3 -.4M121.9 176.7l-1 1.6M115.9 171.7l1 .8M131.3 173.3l.3 .5M137 162.1l.1 1.6M149.9 176l.8 .4M150.7 169.5l.7 -1.6M191.1 174.2l-.6 2.2M229.5 171.7l2 -1.1M220.6 174.8l1.1 -.9M225.3 172.7l.3 .6M245.2 163.8l.9 -2.2M249.9 174.2l2.4 .4M254.9 171.8l.3 .3M277.1 173.7l.5 -1.2M287.2 166.4l0 .1M284.8 165.1l.6 -.5M297.7 167.5l.7 .9M44 189.9l.7 2.1M78.1 182.4l-.2 1.6M70.6 191l.9 -.5M89.2 189.8l-.4 .3M105.6 187.1l.7 -.3M109.3 181.9l2 -1.2M102.6 177.1l1.5 1.4M119.1 177.4l-.5 2.1M113.4 180.3l-1.2 .9M115.5 179.6l0 .2M118.6 184l1.2 -.6M139.3 184l.6 1M133.3 180.4l1.3 1.8M138 183.7l1.9 .6M180.7 182.7l.3 .2M173.1 190.3l-.3 .3M191.1 188l-1.4 1.9M208.4 189.7l-.3 .4M203.5 182.1l-.4 .8M225.9 180.3l-.1 .3M260.8 181l.1 1M271.5 190.5l-.5 1.7M263.2 178.3l0 .3M286.9 181.7l.1 0M36.9 198.6l-1.7 .9M33.3 199.6l.7 -.5M39.2 197.5l.3 1.6M50.1 203l-.3 .5M65.2 192.8l.2 -.5M56.5 202.4l0 .1M61.6 194l-.3 2M77.2 192.3l0 0M76.4 199l-.1 .9M79.1 206.5l-.6 1.4M97.6 202l.9 -.2M83.9 206.8l.4 .2M108.6 192.8l.7 .5M104.7 193.1l.1 .2M101.1 192.6l.4 .3M116.9 201.4l-.1 .4M116.9 197.5l-.4 .3M115.8 196.7l-1 2.2M128.6 193.8l.2 .3M134.5 197.9l.2 .7M132.4 196.8l.1 .4M137.6 203l1.3 1.9M150.4 206.5l.1 .1M200.4 199.6l1.4 1M200.2 203.2l-.9 1.4M202.6 202.6l1.4 .2M207 203.7l-.1 .5M228 202.5l-.7 .9M236.9 194.7l1.1 1.5M237.7 199l.6 1.2M236.7 203.5l.9 .1M248.8 198.6l0 1M255.1 205.9l.6 -.3M270.5 200.8l.6 2.1M270.5 198.8l.9 1.3M272.2 201.8l-1.2 1.6M283.4 203.3l.5 .7M298.1 200.5l.4 .6M12.8 210.5l0 .1M10.7 208.1l.6 .5M15.9 218.3l.1 .1M10.1 219l.5 .5M16.7 214l.5 -1.2M30.2 208.7l1.1 1.2M37.9 213.6l.8 -.9M67.3 220.6l-.7 2.3M53.1 214l-.5 .6M53.9 218.2l-1 1.4M80.4 220.4l.4 -.2M77.5 215.9l.5 -.5M88.3 216.8l1.5 -1.9M92.1 211.5l.1 1.2M87.1 210.7l-1.2 1M99.5 215.9l-.4 .7M98.8 209.6l.5 1.3M99.7 219.9l1.2 1.4M102.1 211.1l.4 .5M108.3 215.3l-1.8 .8M103.1 219.7l.7 .1M113.5 209.6l.3 -.5M125 210.8l-.4 .4M124.6 211.7l-.1 .2M124.9 209.2l.9 -.7M124.9 210.7l-.7 .6M131.2 210.2l0 .3M142.8 211.3l.9 1.8M147.5 210.7l.1 .2M149.4 216.4l-.4 .4M143.8 215l1.8 -.8M174.8 220.8l1.3 -.4M219 214.3l1 -.6M236.4 219.5l-1.6 1.5M234.8 215.5l1.2 -.8M234.6 209.6l.8 -.6M254.2 219.2l-.1 .3M261.7 215.7l0 1.7M275.8 217l.4 -.6M272.3 220.3l.2 -.1M280.3 222l.3 -.1M278 218l1.5 1M19.3 228.6l.9 -1.9M11.9 226.2l-.3 .4M19.3 224.7l.7 .7M36.9 226.1l-.4 1.4M32.4 230.6l-1.4 1.1M37.7 227.2l.2 -.2M34.1 226.5l-1.4 .9M47.8 233.2l1.6 -1.3M51.6 236.7l.6 -.6M58.8 222.5l-.2 .2M70.5 228.7l-.3 .1M69.5 230.3l.3 .1M73.3 232.2l1.7 .9M72 227l.6 .2M82.6 229.8l2.2 .5M89.4 228.5l-.1 .5M88.8 228.7l.2 .5M88.6 223.3l1.4 1.5M94 230l.1 .3M107.3 228.8l.4 -.1M102.5 236.1l2.3 .6M115.2 224.9l1.5 -1.5M130.8 233.2l1.8 .6M151.4 235.9l.2 -.1M202 233l-.3 1.9M216.3 230.7l-.5 1.7M215.2 230.4l-.5 1.8M242.3 237l-.1 .2M252 231.4l.2 1.9M263 231.5l-.1 .1M275.3 226l-.2 .5M292.8 235.6l-1.9 1.1M291.8 226.1l-.1 .1M298.4 236.1l.8 -.8M296.8 234.9l.4 -.6M19.9 240l.6 -.6M16.6 239.8l1.1 1M20.3 250.6l.2 .3M22.9 242.1l-.1 .3M24 251l.7 .6M35.9 243.3l2.1 -1.1M49.9 244l1.4 -1.5M48.8 250.2l.6 -1.5M63.6 249.7l.2 .3M66.1 239l.3 .2M82.7 242.8l1.1 .6M78.3 238.7l-.7 .5M69.8 242.3l1.2 -.9M90.5 251.6l-.2 .9M108.7 250l-1.9 .9M107.3 243.4l-.2 .1M111.6 250.5l-1.2 2M104.1 242.6l-1 1.4M103 245.8l-.1 .8M109.2 248.5l-1.1 1.3M114.4 241.6l1.5 -1M127.2 248.1l0 1M113.7 238.8l-.5 1.6M118.1 238.5l1.4 -.7M126.8 245.5l.2 0M128.3 245.4l-1.6 1M137.6 244l-.7 1.7M128.8 238l-.1 .1M148.7 248.7l1.7 -1.8M152.1 244.6l.1 .1M150.4 246.9l.7 1.4M166 243.5l.5 -.2M211.9 242.9l.1 .2M221.3 247l-.9 2.2M240.5 240.9l.2 .3M254.1 243.7l-.4 .3M276.1 249.5l.9 -2M289.7 242.5l1.9 .3M282.1 239l1.4 1M299.6 244.1l.4 -.4M297.1 243.1l0 2M307.8 240.9l1.8 -1M305.6 251.5l.3 1M18.6 259.1l.2 -.1M23.5 263.5l.6 1.3M37.6 252.5l-.3 .9M29.1 252.5l-.5 2.2M38.5 266.1l1.2 .2M43.8 256.3l2.1 1.1M42.3 253.1l1.9 .5M61.5 266.4l.1 .9M57.3 261.9l-.2 1.7M67 266.3l.5 .8M72.4 263.7l.2 1M75.6 255.1l1 1.4M72.2 258.2l-.1 .8M68 252.3l1.3 -.7M71.1 260.8l1 1.2M87.8 264.3l.8 -1.4M84.8 253.6l1.1 -.5M110.4 254.9l.5 -.3M101.5 256.6l1.7 1M101 256.6l.8 -1.8M114.8 252.8l0 0M120.9 260.1l-.3 2.1M114.4 253.1l1 1.6M115.2 258.8l1.9 -1.5M126.8 262.9l0 .3M142.4 255.1l.4 -.8M136.6 257.3l.5 2M134.7 254.9l.4 1.6M143 258l-1.5 1.4M150.5 258.8l1.9 .7M143.6 255.2l.7 2.2M157.7 257.9l2.2 .6M165.5 253.5l1.1 1.5M186.1 266.5l-.6 .8M197.7 258.9l-1.9 1.5M231.8 258l1.1 1.7M271.4 258.7l.3 .4M286.8 260.3l.5 .1M283.3 258.6l1.2 .2M288.2 256.9l.9 .8M280.5 253.5l1.2 2M307.7 256.4l2.4 .5M21 270.2l.7 -1.2M34.2 280.6l.3 1.2M37.4 277.9l.4 .4M31.2 272.9l-.7 1.1M46.1 278.5l-1 .4M58.3 268.2l-.6 2.2M61.5 274l-1.2 1.8M56.8 271.1l-1.7 1.1M68.6 280.6l-1.2 .9M82.9 274.3l-.3 .2M94.1 273l-.2 1M90 280.3l-.7 1.5M101.5 272.9l.6 -.8M102.2 280.5l1.8 1.7M112.5 273.9l1.4 .8M108 271.3l.1 0M124.8 270.7l0 0M116.4 280l.4 .5M119.4 273.6l.3 -.4M137.7 267.5l.5 1M141.3 271.1l.1 1.6M129.7 278.4l.1 1.1M139.3 273.6l.2 .8M150.2 269.8l-.1 .1M143.5 274.4l-1.8 1.8M153.6 273l-.2 1M169.6 275.8l-.4 1.3M170.2 267.7l.1 1.5M169.9 268.3l0 1.3M175.1 272.5l.8 -.1M182.5 274.2l.5 -1.2M185.1 275.5l1.5 -1M174.7 281.8l1.4 -.8M188.2 269.5l-.6 1.9M270 281.9l-.7 .4M263.8 279.3l-.2 .6M292.4 277.6l.2 .1M289.8 273.4l1.8 1.4M304.7 275.6l0 0M17.4 293.7l-.1 .3M15.6 294.2l-.1 .5M30.4 288.3l-1.8 1M38.1 291.2l-1.2 1.8M38.6 282.5l-1.1 1.4M38.5 294.7l.9 1M43.8 288.6l.9 .2M51.5 288.8l1.4 -1.8M46.1 292.4l1.1 .7M60.1 292.6l.5 -.8M55.9 285.9l1.5 -1.2M67.9 283.7l.8 -1M58.1 295.2l.6 -1.3M60.6 285.4l.8 -.5M79.8 282.3l.4 -.9M85 284.6l-.6 1.7M89.8 286.8l-.6 .4M111.4 286.8l1 2.2M103 293l-.5 1.9M108.5 289l1.5 -1.6M106.8 290.2l-.8 1.4M117 296l-1 .9M119.5 285.3l-1.6 1.8M124.8 293l-1.7 1.8M119.9 292.3l-.5 .3M141.6 290.5l.5 .3M130.4 292.9l0 0M153.8 282.3l1.5 -.4M161.9 285l2.2 -1M161.1 286.9l-.3 1.1M160.2 287.5l.2 .5M165.8 286l1.3 1.8M176.7 286.4l.1 .4M182.8 292l-1 1.4M178.5 282.8l-.7 .6M202.6 283.3l1.3 .3M198.6 287.4l.2 .4M196.5 286.9l.5 .1M217.5 294.4l1.6 -1.7M209.5 286l-.6 1.6M212.2 292.6l-.2 .2M225.1 291.1l.2 .2M16.4 303.5l.5 .4M12.3 309.5l1.1 1M33.2 305.4l1.3 .3M34.5 302.2l-.2 .1M38.2 309.6l-.2 .2M38.3 306.3l-.9 1.5M79.5 311.3l1.3 1.6M81.8 301.7l.4 .4M94.9 310.9l-.1 .3M93.3 303.8l.4 -.1M96.4 307.8l-.1 .1M88.3 306.1l.4 .6M112 309.4l.2 .5M111.3 310.3l.2 .1M101.4 303.9l.2 .3M117.4 302.1l.4 1.4M118.8 310.2l-.2 1M119.3 310.2l-.6 2.3M117.1 300.9l.5 .8M122.5 298.1l.6 1.9M141.2 307.3l2 1.2M128.3 310.3l.7 .4M140.9 306.4l1.2 .8M139.9 309.5l1.3 .8M154.8 301.3l.1 -.1M165.6 299l2 -1.4M166 306.3l-.1 .9M165.5 303.8l.1 0M165.8 300.6l.2 -.2M186.6 303.6l-1.9 1.2M189.8 311.6l-.5 .6M199.6 306.4l-.3 .3M205.6 301.2l1.2 -1M220.2 302.2l-1.3 .5M226.3 304.3l.3 .2M243.2 309.7l.9 1.9M23 138.4l2.1 -1.2M43.9 131.7l1.7 -1M46.1 131.3l1.9 -.3M31.5 134.7l2.4 -.3M60.8 119.6l.7 -.5M51.6 125.7l1.1 -.9M59.2 125.5l.6 -.2M72.4 113.7l1 -.6M77.4 113.2l1.1 -.4M74.5 114.6l1.2 -.3M102.3 100.9l1.9 -1.5M111.6 94.3l.8 -.6M109.9 96.3l1.9 -1.3M129.3 90.3l1.7 -.4M129.1 90.2l1.9 -.6M128.8 90.5l2.1 -.8M133.4 85.9l1.6 -.6M117.9 93l1.9 -1.1M160.1 79.6l1 -.5M171.9 70.7l1.2 -.5M174.3 72.6l1.7 -1.4M56.7 126.3l2.2 -1.1M73.9 116.3l1.6 -.3M79.9 112.3l.8 0M64.9 119.9l0 0M272.3 180.4l0 .4M273 179l.5 2.4M276 198.8l.4 1M277.2 213.9l.1 1.9M275.6 206.4l.1 .6M276.3 204.1l0 .2M278.2 221.3l.9 2.3M279.5 229.1l.2 .6M279 236.2l-.5 1.1M277.5 245.5l-.2 .8M279.7 242.8l.2 2.4M277.6 248.9l0 .1M280.7 272.7l-.1 1.2M280.3 276.7l-.3 1.9M286.2 203.2l-.1 .5M285.1 174.8l.2 1.3M288.8 213.3l0 .8M289.4 216.4l.2 1.2M289 248.8l-.2 1.2M289.5 236.2l-.5 2M290.1 242.9l-.4 2.1M290.7 264.8l.7 2.2M290.9 261.3l.4 1.2M288.8 260.7l.7 1M294.9 275l.1 .3M234.1 183l.1 1.6M226.9 170.9l0 0M230.1 168.8l.2 .4M231.1 176.6l.9 2M227.3 167.4l.4 .8M228.8 174.6l.3 1.4M240.9 203.9l.5 .6M244.9 216l.4 .5M239.4 202.9l.3 1.2M239 205.6l.5 .9M244.8 212.4l.5 .8M250.6 220.8l.6 .1M256.3 169.9l0 .8M255.7 194.2l.2 2M254.6 190l.1 1M227.7 228.8l-.3 1.4M227.6 235l-.1 .3M227.2 234.3l.6 1.9M228.1 225.1l-.4 1.2M227 250.5l-.8 1.7M219.4 275.2l-.3 1.8M162 271.5l.4 .1M163.7 271.8l.4 .3M178.2 281l1.8 1.4M198.3 290.1l.1 0M198.4 288.3l1.8 .1M213.8 294.8l.3 .3M212 294.3l.9 .3M226.7 307.4l.6 .5M196 261.8l-.2 1.8M195.9 272.8l.7 2.2M195.6 270.2l1 2.1M196 275.8l.3 1.2M229 248.6l2.1 .5M214 248.4l.4 -.1M208.3 248.6l.7 .2M208.6 247.6l.2 0M209.3 248.1l1.8 .1M236.1 242l.1 -.1M254.8 236.5l1 -.2M246.6 239.4l1.7 -.9M263.6 231.7l1.9 -.6M163.8 191.5l.7 -.8M164.4 192.7l.7 -.5M174.5 181.8l1.2 -1.4M177 207.3l1.8 -.7M171.5 208.7l.1 -.1M168.5 210.9l1.5 -1M192.2 197l1.5 -1.5M192.9 195.9l.3 -.2M195 195.7l1 -.4M139.4 105.2l.1 .4M139.8 112.2l0 .8M136.9 103.6l.5 1.5M143.4 128.1l.1 .7M143.8 119.6l.4 2M143.6 130.1l0 .4M146.5 149.1l.5 1.3M145.6 143l0 .1M185.9 120.7l.2 -.5M154.9 161.7l.9 -.8M154.7 164.2l1 -1.9M162.5 152.8l1.5 -1.1M207.3 88l.3 -.9M235.4 51.1l.1 -.2M233.6 55l.3 -.3M178.5 145.1l2.2 -.5M169.5 145.9l.5 -.4M203.3 132.9l1.2 -.7M185.7 138.5l1 -.2M217.7 122.7l.7 -.7M236.6 110.6l1 -.8M214 127.6l2.1 -1.3M277.6 83.7l.1 -.1M237.3 159.4l.2 -.5M236.3 160.3l1.4 -2M266.6 120.9l.3 -.5M247.3 144.8l2.1 -1.1M279.9 113.3l1.2 -.4M284.4 114.5l1.6 -1.3M108.7 95.9l1.6 -.7M102.7 98.3l.6 -.9M140.6 66.3l1.3 -1.4M138.2 69.1l.9 -.6M163.2 48.3l.6 -.5M160.2 52.3l1.1 -1.5M156.7 54.4l1.1 -1.5M148.3 58.5l0 0M140 69l.4 -.4M136.4 72.6l.3 -.2M187.7 27l.1 0M170 37.4l.2 -.2M188.2 29.8l.8 -.5M174.4 37.2l.4 -.3M171 37.5l.2 -.1M20.9 224.5l1.9 .9M36.2 235l1.3 1M82.6 268.4l1.6 1.7M84.6 268.3l.1 .1M102.2 284.6l.2 .3M121.9 301.1l.6 .8M74.6 212.9l1.4 .6M67.6 205.3l.8 .4M69.5 206.8l1 .1M102.7 222.6l1.7 .6M126.3 231.8l2.2 .7M123.3 230.8l.8 .4M120.7 230.6l.3 .1M157.3 250.2l.8 1.6M150.7 136.3l.5 -2.4M141.8 155.2l0 -.1M132.2 173.5l.3 -1.2" stroke="#5c3c96" stroke-width="3.5" opacity=".65"/>
<path d="M17.5 19.2l-1.6 1.2M51.8 22.4l.7 1.4M157.4 18.1l.1 1.3M149.1 23.1l-1 2.3M184.2 15.7l2.8 -1.4M193.8 21.2l.4 -.7M221.4 24l.2 -.2M248.1 22l.6 -.4M260.2 19.2l1.3 -1.4M261.5 24.7l-.9 1.6M273.4 19.2l-.5 .3M266.7 27l-.3 .6M274.2 23.8l0 1.9M282.2 12.1l1.6 -.7M282.6 18.5l2.6 -2.2M285.8 22.8l3.6 -1.2M299.4 20l-.9 2.3M298.1 18.4l-.6 .6M10.6 35.7l1.9 1.3M60.7 34.4l1.5 -1.8M96.2 38.4l-.3 3.5M124.9 41.7l2.1 2.2M124.8 30.8l.7 .6M192.7 34.2l3.7 .4M209.6 32.3l3.4 -.9M217.6 33.6l1.7 -2.6M219.6 30l-.2 1.3M242.1 35.6l-2.5 1.9M242.5 35.5l-.1 .5M259.8 30.8l3 -1M256.5 29.9l3.6 -.7M265.4 36.6l1.3 .7M31.5 45.9l.2 1.6M23.5 50l2.6 2.5M48.2 45.9l-1.9 2M80 50.2l1.7 -1.4M99.2 54.1l-3.3 1.7M106.1 48.8l.1 0M136 54.6l.1 0M128.8 49.5l0 3.1M135 56.4l1.5 2.1M146.1 43.5l.1 0M163.6 48.6l-1.9 1.7M196.8 44.7l-1 1.5M190.6 44.4l-1 1M229.5 43.6l.8 3.2M230.8 46.2l.3 3M223.8 51.6l2.2 2.5M220.6 46.4l-.3 2.4M235.2 43.8l2.9 1.6M236.3 48.9l.7 2.3M291.6 42.7l1.5 1.4M280.5 43.8l1 1.5M289 52.1l.2 .3M282.6 44.6l.6 .8M14.7 59.9l.1 .3M23.7 68.8l3.2 .7M43.3 61.7l1.2 -.5M40.2 60.7l1.9 -2.7M49.1 70.7l2.3 -1.5M89.3 61.9l-.3 .6M86.6 63.1l.6 -1.5M90.3 62.2l.3 2.8M99.2 68.3l.2 .4M112.3 65l-.5 .6M100.1 64.6l-.4 3.5M153.3 67.9l1.3 1.8M145.1 67.2l.5 -.7M173.5 63.3l-1.4 1.8M181.9 66.2l-.4 3.4M185.5 66.9l2.1 2.9M212.2 63.3l.7 1M209.2 57.4l.1 1.7M206.3 57.5l1.6 3.3M245 61.3l2.8 -1.3M257.6 58.3l.8 .5M274.9 62.1l2 -2.9M267.9 62.8l-.5 2.7M18.6 75.2l-.1 .1M22.6 85.8l-1.4 .9M25.1 80.5l-.7 .8M38.2 78.8l.6 .4M131.1 77.2l0 2.1M137.8 75.7l2.6 .4M156.5 84.4l.2 2.6M144 75.3l-.3 1M145.4 72.8l.6 1.4M174.9 84.9l-2.8 1.5M216.9 76.4l.6 .6M210.8 79.5l2.2 2.6M224.9 86.3l1.6 -3.3M235 82l-.3 .6M264.5 78.6l0 .4M272 81.2l1.4 2.5M268.9 81.9l1.6 3.2M32.9 95.9l2.7 -1.7M124.4 97.8l-1.1 .8M122.2 102l-.3 .9M131.7 97.1l.6 1M161.7 99.2l.1 1.9M161 99.4l.5 .8M172.4 94.3l.1 .1M160.5 97.2l-.8 .4M177 92.2l1.4 -.8M187.4 99.6l.4 1.4M199.4 97.2l1.8 3M200.5 98.1l1.8 3.2M188.2 93.7l-.6 1.1M193.3 92.8l.8 -.9M213 89.9l.5 -.3M229 98.9l.8 -.4M245.4 88.9l.4 1.3M303.1 98.6l.8 -1.2M90.4 107.6l-.1 3.2M95.7 112.7l-.5 1.6M90.4 114.4l-.3 3.3M89.5 108.5l.4 .7M102.4 116l-.8 .4M110.2 107.3l.7 -1M134.3 107.8l2.4 -1.5M168 113.4l-.3 3.3M179.8 110.8l.3 0M181 104.9l-1.3 2.7M188.4 102.2l-.3 1.4M197.9 113.5l-.1 2.5M191.6 109.1l1.5 2.5M216.4 106.3l0 1.4M215 115l0 3.3M214.7 112.9l1.5 2.4M231.8 106.4l.5 -.5M227.3 103.7l2.5 -1.7M243.9 104.4l.6 -1M269.7 115.1l2 -1.2M300.9 104.3l-1.9 3.2M45.4 121.7l1.3 -.5M56 121.5l-2.1 1.8M67 121.3l-2 1.1M57.9 127.3l3.1 -1.8M53.5 131.1l.4 -.2M55.6 122.1l-.2 .2M54.2 120l-.1 .8M156.5 127.5l-.7 3.5M192 127.9l2.2 -2.1M194.3 120.2l1.5 -.8M189.6 118.6l1.1 -2.4M210.1 129.2l-.7 3.7M266.3 121.4l.5 -.3M289.4 118.9l3.3 1.1M300 119.4l0 .1M20.7 140.2l.8 .8M30.4 132l0 0M39.1 138.3l2.4 -2.6M56.2 135.9l2.6 -2.6M60.3 139.5l-.8 2.3M137.4 138.3l1 -1.4M145.8 137.9l.4 1.1M160.8 133.3l.6 .2M181.6 144.1l.6 -.8M192.6 139.3l-.4 1.4M193.4 142.6l.4 1.4M190.9 146.2l1.2 2.8M195.5 135.4l.4 1.1M188.3 140.6l.6 1.5M221.9 146.5l2 1.8M252.8 146l0 2.5M286.4 146.2l1.4 1.5M286.3 137.6l1.8 1.3M303 145.7l-.7 .4M305.6 134.1l-.6 1.3M295.3 133.2l1.5 -3M22.1 150.1l-.9 1.2M16.9 155.5l-.5 .8M13.2 157.5l-.6 1.2M33.2 148.6l-.3 .2M41.5 149.3l.2 .3M65.8 160.6l1 -.8M71.6 159.5l-.1 .3M148.3 154.1l3.5 1.3M179.9 160.4l-1.4 2.7M194.4 147.7l-.1 .4M197.9 158.8l.4 .8M217.9 149.3l.8 -1.4M229.7 149.3l1.9 -1.9M222.4 158.4l1.2 -.5M219.5 158.6l2.1 -1.2M247.8 161l1.4 -2.6M251.8 161.6l2.3 .6M273.2 148.4l-.2 1.6M278.4 161.7l-2.1 3.2M279.4 154.7l2.8 1.5M280.3 160.4l-.6 .3M289.6 158l.9 2.1M300.6 160.5l.9 -1M307.2 156.4l.3 1.8M10.8 163.9l-.1 .5M61.4 175.3l-3.3 1.7M128 168.3l-.2 .7M154.9 162.9l1.6 -.4M152.3 162.7l1.2 -1.1M150 175.7l-.8 .4M154 173.7l2.6 -2.1M158.1 172.8l1.6 -2.6M206.6 166.5l0 1.5M210.9 176.8l1 1.8M226.8 163.9l1.9 -.8M241 170.3l2 -1.6M236.6 168.2l1.6 -2M233.7 163.2l-.8 .8M238.1 166.8l1.3 -1.2M255 165.7l.1 0M260.3 167.1l1.9 2M248.9 168.4l1.7 .2M277 167.7l.3 -.2M307.7 172.1l1 .5M22.4 177.7l.2 1.5M96.3 191.5l-1.1 .9M103.8 182.9l.1 -.1M104.9 186.1l.8 -1.1M113.3 187.7l-1.1 1.6M129.7 190.3l-.1 .1M150.9 184.2l.8 1.1M183.4 191.4l-2.6 1.5M174.9 188.9l-.1 .2M183.5 189.2l-.1 .8M231.1 184l1.2 1M232.2 184.3l2.4 .4M228.1 182.4l3.1 .4M238.8 179.4l-.1 1.1M256.2 178.3l-.3 2.8M258.8 183l-.6 .3M255.9 189.5l-1.1 2.1M265.3 188.1l.8 3.5M266.4 187.5l1.2 .4M292.1 181.8l0 2.1M286.6 183.9l-2.1 3M294.2 180.3l.7 1.6M19.2 193.8l-1.2 2.2M17.5 203.2l-.1 .1M9.5 196.1l0 .1M90.3 200.9l2.6 -2.3M92.5 199.2l2.9 -1.1M99.4 195.2l-.7 2.1M151.3 201.3l1.3 -.3M171.7 202.2l.9 .2M161.3 205.4l.9 .2M171.9 194.2l-2.2 2.9M182.1 193.9l2.2 .8M188.6 202.1l.1 0M198.4 203.3l.2 -.2M189.9 193.8l2.9 .3M200.5 206.9l0 .1M217.6 204.9l0 1.1M235.9 203.7l1.2 .8M243.9 204.8l.5 .9M248.5 200l1.2 2.1M260.1 201l.2 .4M290.3 203.8l-.6 3.6M279.9 196.1l1.4 .7M291.3 202.1l.3 .2M297.5 200.8l.1 1M297.2 204l0 .1M26.3 208.4l2.1 -2M46.5 216.1l-.1 .2M44.8 210.3l2.4 2.7M56.5 220.5l-1.5 .5M62.3 214.8l-.9 2.2M67.3 218.1l-1 .6M87.7 218.5l2.9 -1.4M105 221.8l.5 -1.1M101.4 212.3l.5 .9M120.6 213.9l-.5 2.6M157.2 216.4l-2.8 1.7M165.5 214.8l.3 0M206.3 211l.8 -1.1M245 210.2l.7 -.5M248.5 219l1 2.2M268.6 210.9l-3.1 1.5M264.5 217.8l.7 .8M291.7 217.7l.7 .8M305.8 219.1l-.2 .4M20.6 231.7l1 -.7M37.3 224.2l-.2 .6M51.7 224.4l2.6 -2.7M62.1 222.2l.5 2.2M57.5 234.5l-1.3 1.8M80.3 229l1.1 2.1M109.8 231.3l1.1 1.4M102.8 226.6l1.6 1M124.7 235.6l-.2 .4M153.6 232l-2 2.7M201 227.9l-2.3 1.4M204.1 233.8l1.8 -2M229 225.1l-2.6 2.7M219.7 234.9l-.3 1.9M232.1 222.6l-2.3 1.9M235.2 223.9l-1 3.4M243.8 226.3l2.3 -1.5M270.6 223.3l-.7 .7M273.4 234.3l0 -.1M292.7 234.1l-.4 .6M291.9 226.4l-2.4 1.7M280.1 225l-1.5 1.6M279.8 233.3l-.7 3.3M24.9 247.8l-1.4 2.8M23.9 237.1l-1.9 1.8M25.2 238.4l-.1 .6M44.1 250.6l1.5 -.8M45.1 237.3l.7 -.4M94.8 238.5l-.4 1.6M96.7 246.4l1.9 -1.5M103.9 243.5l1.1 -1M113 243l-.3 2.5M132.8 249.2l.8 .3M132.9 245.7l-1.6 2.2M157.9 238.6l-.1 .5M147.2 239.9l.9 2.3M171.3 243.4l2.5 -1M204.1 245.9l.4 3M229.4 242.6l-.4 .4M231.5 237.2l-.6 1.4M264.4 240.6l1.9 -2.6M267.2 239.2l.3 -.3M286.6 237.4l3.1 1.1M279.3 251.1l2.6 -2.4M81.3 259.7l.3 1.4M80.7 252.4l.3 .6M97 261.6l.7 -1.1M108 266l-1.8 2.2M112.2 255.7l3.1 -1.1M125.5 264l-.7 3.4M121.8 257.9l-.3 .3M134.5 265.6l.6 1.7M132.3 253.6l0 .1M156 263.5l.1 0M157.5 256.2l.6 .3M166.6 266.5l2.7 .7M177.7 255.8l-.7 2.6M185.8 254.2l.3 1.7M189.9 260.8l-.5 2.3M194.9 262.1l-1.6 1.2M223.9 256.9l-.4 2.4M231.6 261.3l.1 .2M266.8 266.6l1.7 1.2M266 260.4l-1.8 1.3M267.8 262.5l.5 .2M283.2 263.8l.2 1.4M8.2 268.1l.4 -.9M10.4 277l2.8 -2M27.6 274.9l-.6 1.3M33.4 279.7l-.3 .4M51.3 276.7l-.8 1.5M44.9 274.7l-1.3 1.9M66.8 267.2l2.7 2.2M53.4 272.3l-2 2.3M74.8 274.4l-1.3 .5M83.9 278.5l-1.1 2.5M97.2 269.6l-.8 2.8M106.9 278.3l.4 .1M101.6 278.3l2.5 1.7M134.6 277.1l.1 1.5M131.5 276.2l-1 3.5M156.4 271.5l.2 1.7M166.3 273.1l-.4 1.3M184.5 268.6l.7 -.9M200.7 276.9l-.4 1M202.9 274.1l-.4 2.7M202.7 268.8l-.8 1.8M218.7 270.3l1.3 .8M229.5 273.3l2.4 2.4M270.8 273.4l-.3 .7M281.9 277.2l.2 -.1M291.4 272.7l1.4 1.1M306 275.9l-1.6 1.2M21.1 294.1l-1.4 2.9M47.5 284.2l.1 .1M95.6 282.7l2.5 .9M119.9 293.5l-.2 1M119.4 294.6l-.2 .8M142.1 284.5l2.1 1.3M129.7 291.4l.2 .1M145.6 293.1l-1.1 1.3M177.4 293.4l-1.4 2.7M180.9 295.4l-.5 1.3M193.8 285l.4 .3M194.8 293.4l1.1 1.5M217.5 283.6l-1.8 2.7M215.8 285.6l-1.3 3.4M228.3 287.9l.2 .1M29.6 297.6l3.6 -.9M44 299.2l-.6 3.8M40.4 310.6l-1.1 2.7M70.7 307.7l1.2 2.2M77.8 311.6l2.6 1M76 307l1.3 2.4M74.5 305.4l1.6 1.3M90.3 297.5l.6 1.2M103.7 305.6l1.1 1.3M113 304.9l2.3 .7M120.8 310.6l1 .5M125.5 308.5l0 .2M135.7 300.2l2.6 1.5M156.6 302.9l.2 -.3M154.9 298.4l.7 -1.8M161.4 299.7l1.1 -.6M174.6 311.3l-.8 3.5M176.5 302l-1.1 1M192.5 308.5l.6 1.7M194.3 311.6l-1.3 2.4M207.8 303.9l0 0M214.8 297.6l-1.1 .5M208.9 301.4l.8 1.7M230.7 298l.8 1.1M230 302.1l.5 -.3M25.1 139.2l1.1 -1.1M23.5 144.1l1.2 -.8M20 145.9l.7 -.6M31 141.6l.2 -.1M17.4 149.3l2.1 -1.8M35.2 132.4l1.1 -.6M50.4 130.9l.9 -.6M32.5 133.6l2.6 -.3M39 134.4l2.3 -1.7M47.3 128.6l3.3 -1.6M42.8 131l.3 0M40.4 133.1l.1 0M35.3 136.7l1.3 -.5M63.2 123.7l.2 -.2M60.6 126.2l2.3 -1.6M63.4 120.3l.3 -.1M62.1 121.6l2.8 -2.5M61.5 123.5l.3 -.2M93.3 107.6l.2 0M95.6 106.2l1.1 -1M83.3 110.3l1.9 -1.1M89.6 105.1l2.7 -.9M93.5 105.4l2.6 -2.1M86.8 109.6l1.6 -.7M98.9 104.8l2 -1.7M109.3 94.6l1.5 -1.2M112.6 95.1l1 -.9M108.7 90.4l2.7 -.6M101.1 100.5l.3 -.1M115.8 93.4l2.4 -1.1M120.5 91.3l1.4 -.4M125.6 92.2l3 -2M133.2 84.1l1.1 -.5M156.6 80l3.6 -.2M141.3 83.2l3.5 -.4M152.9 80.9l1 -.4M152.1 82.5l1.9 -.8M141.9 83.8l2.6 -1.4M167.5 75.3l1 -.4M169.8 72.6l1.9 -.5M169.6 73.9l.2 -.2M37.3 141.6l2.7 -2.1M47.4 132.6l2.1 -2.3M60.3 121.6l2.6 -2.7M276.5 201.4l.6 1.5M274.7 188.7l1.2 3.2M273.5 198.9l-.1 1.7M274.8 194.8l.3 .9M275.2 205.5l-.5 3.7M277.4 213.6l.4 .8M276.7 209.9l1 3.6M277.3 251.9l.2 3.3M278.3 252.7l.4 2.2M279.1 255.4l.9 3.3M279.3 252.1l-.5 3M280.4 283.7l.7 2.7M280.4 274.8l.3 .7M280.9 288.8l.1 .2M280.3 274l-.3 1.9M286.9 192.6l0 .1M286.4 172.5l0 .4M285.6 183.2l-.2 3.2M288.9 202.7l.3 1.9M284.9 171.8l.1 1.1M287.3 206.9l1.1 3.5M289.4 206.9l.3 1.1M289.1 226.1l-1 3.6M289.8 238.2l-.3 3.5M289 227.7l-.6 1.8M228.8 165.9l.9 2.9M227.4 167.6l1 2.8M238.2 197l1 2.1M238.5 197l.1 .3M241 207.5l.4 2.5M244.8 213.7l2.3 2.7M239.3 199.7l.7 2.6M245.5 217.5l.4 1M254.9 223l.6 .4M253.8 170.7l.7 3.7M255 182.4l-.2 .7M255.6 186.5l-1.1 3.4M255.3 195l-.3 2.1M253.9 198.6l-.3 .9M227.3 243.8l-1.7 3.3M223.5 259.6l-.3 1.2M225 249.1l-.1 1.4M220.2 262.7l-.4 2M220.3 267.6l-.4 2M217.9 272.3l0 0M219.2 275l-.4 1.6M159.7 268.1l2.6 .5M158.3 266.8l.5 .1M159.1 269l.2 .1M154.7 267.5l2.8 2.6M158.4 268.8l2.3 1.7M185 281.3l.1 .1M179.6 283.7l.4 .5M183.6 284.3l2.1 1.2M179.5 272.3l.1 0M190.9 283.1l1.8 2M187.5 284.5l.8 .5M185.2 280.9l.7 .7M202 288.8l1 .3M195 286.4l2 .7M198 287.4l0 0M197.3 288.6l.8 .2M205.7 291.8l3.7 .3M201.8 293.1l.2 0M210.4 289.6l1.3 1M207.1 294l2 2.5M213 290.5l2.2 1.3M215.9 296.4l1.4 1.1M211.5 293.4l1 .7M226.7 304.9l.6 .9M228 302.9l2.7 2.5M223.2 302l0 .1M195.2 263.7l.7 2.6M213.6 247.2l1.4 .3M224.1 247.4l.8 -.1M234.2 243.9l1.8 -1.1M235.4 244.6l1.6 -.9M245.1 238.1l2.3 -.7M243.8 238.3l.2 0M268.3 232.4l.3 -.2M261 232.9l.2 -.1M166.1 189.2l1.7 -1.4M175 182.9l.9 -.7M173.4 184.3l1.9 -.9M173.7 207.2l1.4 -.7M179.6 204.5l.4 -.3M189.4 198.6l.3 -.3M187.1 199.2l2.7 -1.9M198.7 193.2l2.6 -1.7M139.4 117.6l-.3 2.5M141.7 120.2l1.1 2.4M143.2 140.2l1 3.5M162.6 153.4l.7 -.6M179.6 129.4l1.9 -3M186.3 121l.3 -.8M183.5 131.6l.7 -1.1M154.6 165l.9 -.7M162.3 153.2l2.1 -2.5M197 106.1l.7 -.8M208 87.4l.8 -.9M199.9 102.3l.5 -1.5M214.8 84.5l.2 -.5M219 77.9l1.2 -2.4M197.9 110.5l.4 -1.1M206.9 95.3l.6 -.8M196.9 106.8l1.1 -1M222.9 72.5l1 -1.6M222.4 69.2l.6 -1.3M217.5 75.2l.2 -.3M217.2 76.2l0 0M234.5 49.7l.9 -1.9M198.2 134l1.9 -.5M194.9 133l2.2 -.8M182.9 141.3l1.6 -.9M187.9 140.1l2.9 -2.4M177.8 146.3l1.6 -1.4M182.2 142.6l1.4 -.5M239.1 104.6l.3 -.4M233.2 114.4l3.1 -1.5M231.6 112.4l3 -1M235.4 111.3l1.2 -.3M217.8 122l1.9 -.9M242.3 109.5l.3 -.2M288.8 72.3l1.3 -.5M299 68.7l1.6 -1.9M261.5 96.2l1.1 -.5M257.7 98.2l1.9 -2.3M272.8 85.3l2.3 -1.4M294.9 66.8l2.3 -.9M283 75.8l.1 -.1M277.6 81.3l.3 -.3M299.4 67.4l1.9 -.9M229.6 174.9l.8 -1.2M221.3 183.6l1 -2.8M248 145.7l1.3 -1.5M265.7 127l.4 -.5M249.7 145.1l1.5 -1.3M248 146.8l.5 -.6M265.8 128.8l1.6 -1.3M273 120.5l1 -.5M298.7 105.1l2.1 -2.3M297.9 99.9l1.5 -.8M282.6 113.5l3.2 -1.6M300.9 99.8l1.6 -.9M301.9 104.9l1.4 -1.3M102.5 99.9l1.7 -1.3M103.2 101.7l.4 -.2M123.5 82.2l1.1 -.9M123.3 86l1.6 -1.8M112.6 90l1.5 -1.8M151.1 58.7l1.3 -1.8M175.6 36.9l.8 -.7M177.8 35.2l.2 -.2M30.5 234.3l.4 .1M34.4 238.5l.8 .7M28.6 230.5l2.2 1.5M28.1 233l1.8 1.2M32.2 230l2.2 .5M41.4 239.6l.4 .3M33.9 231.4l1.4 .4M13.8 222l.4 .2M15 223.6l3 1.6M80.6 265.7l2 .9M66.8 253.7l2.1 1.4M77.3 263.3l2.2 1.2M54.8 248.1l2.5 1.5M55.2 246.5l.6 .7M74.1 258.5l.3 .2M85.5 267.2l.5 .3M51.4 241.9l1 .4M98.3 277.9l.2 .2M91.8 273.2l1.2 .7M110.7 288.9l2.3 2.6M101.5 278l.9 .8M96.7 277.1l.7 .8M97.4 275.8l1.6 1.7M92 272.8l0 0M60.9 203.8l.4 .2M97.2 223.3l1.9 .5M90.8 216.5l2.6 1.9M91.9 216.8l.1 0M73.3 211.2l2.5 .3M71.1 207.6l.4 0M55.2 202.2l1.7 1.4M77.7 211.4l1.4 1.1M51.5 201.6l3.4 1.2M121.6 229.3l1.6 .2M104.1 222.8l.1 .1M131.6 233.2l.2 .1M108.9 227.2l.9 .2M109.6 223.2l1.9 1M130.5 232.6l1.7 .9M116.8 225.4l2.5 .7M154.8 250.5l1.6 1.6M148.6 243.2l1.4 1.4M145.9 241.6l.4 .4M155.3 254.2l1.2 1.8M150.6 248.9l2.2 2.4M145 152.6l.2 -.9M139.9 162.2l0 -.1M137.8 166.9l.3 -.5M140.9 155.6l1.2 -2M144.8 143.5l.7 -1.1M137.5 164.6l.7 -3M152.2 135.8l.3 -1.6M137.8 169.3l1.3 -1.5M151 133.4l.4 -.7M168.2 107.3l1.4 -2.5M156.1 125l1.2 -1.2M162.1 113.3l.4 -.8M173.2 110.4l1.7 -3.2M164.4 114.3l3 -2.2M168.1 114.3l.2 -.5M153.3 127.7l1.3 -2.7M28.8 38.3l-.5 .5M36.5 52.5l0 .2M43 45.9l1.3 -.9M48.5 70l2.3 2.7M73.7 79.9l.6 .8M86.8 68.9l.1 3.8M96.7 63.5l3.2 1.9M106.5 62.4l1.1 -.8M115.3 70l.1 .2M121.9 39.4l-.3 1.8M139.4 59.1l.2 .2M148.1 54.7l1.1 -2.7M98.9 95.2l1.6 -2.2M18.9 77.7l-2.9 1.2M24.4 64.6l.5 2.3M51.8 94.1l-.5 .9M29.9 95.2l.4 .7M14.6 148.9l.6 3.1M25.5 156.5l3.2 -1.5M29.9 136.8l.3 2.2M36.5 143.4l-1.2 2.6M51.8 130.2l.1 .7M60.6 121.5l1.9 -1.5M73.7 112.7l2.3 2.8M89 108.4l.4 .3M117.5 93l.8 .5M135 82.1l0 0M148.1 84.3l.7 2.8M141.6 137.9l-.1 1.3M146 145.6l2.8 -2.3M127.3 134.6l.7 -.8M139.4 119.3l-.7 1.6M12.4 165.5l0 0M81.4 180.8l.1 -.1M95.6 177.5l2 -.9M133.9 276.1l-1.2 2.3M130.6 273.9l-2.2 2.1M105.4 247.6l.2 -.1M119.7 257.4l2.2 -1.9M97.8 223.5l1.4 2.2M70.4 225.7l0 2.1M34.3 195l3.1 -.6M14.6 201.6l.5 .5M22.2 232.3l-2.3 1.6M40.8 236.6l-.9 1.1M54 259.6l-.8 .9M80.3 254.2l.5 1.3M43 289.2l-.2 .2M56.2 280.4l2.6 -.9M82.5 295.8l.7 -.3M110.9 300.1l2.6 1.1M127.3 300.1l.1 -.2M284.2 232.3l1.8 -1.1M218.5 170.9l-2.6 .9M238.2 163.3l.1 3.2M257.9 168.8l.7 2.5M190 197.2l.8 -.8M238.2 199.4l-.3 .5M176.9 282.6l-1.6 1.9M161.6 298l3.2 -1.1M214.1 295.8l.7 -.8M165.9 268.4l-.9 3.5M194.4 285.9l-.2 .7M207.6 289.2l1.8 .2M220.7 302.3l.7 3.7M211.9 77.7l.9 -.6M274.3 82.1l2 -1.1M297.3 101.8l1.5 2M229.5 64.6l-2.3 1.5M194.4 53.6l.5 -.5M181.3 99.6l1 -.5M168.1 86.5l.6 -.6M262.3 55.8l1.3 .6M249.2 28.4l2.4 -2.4M277.6 20.8l1.2 -1.9M290.8 18.6l-2 3M220.7 44.8l-1.5 2.2M207.6 114.9l-1.7 1.2M284.2 152.1l1.8 -1.1M297.3 134.6l1.2 1.5M176.9 66.7l.9 -2.4M198.8 84.3l.7 1.3M242.6 62.4l.3 -.1M161.6 51.4l-.3 .6M260.1 38.3l.1 -.1" stroke="#5c3c96" stroke-width="4.5" opacity=".65"/>
</g><g filter="url(#b07)">
<path d="M86.3 24.9h0M184.6 15h0M238.4 27.1h0M279.8 19.7h0M307 17.8h0M11.3 37h0M206.5 32.3h0M233 41.8h0M256.5 28h0M258.9 30.7h0M269 43h0M278.7 41h0M194.3 56.7h0M233.5 43.3h0M243.4 53.7h0M250.7 41.7h0M296.6 43.4h0M25.6 69.9h0M107.6 62h0M107.4 63.2h0M134.3 58.8h0M185.1 66.2h0M198.7 60.9h0M203.5 68.1h0M221.9 67.8h0M236.8 69.8h0M275.9 61.1h0M280.1 62.8h0M306.8 67.1h0M296.9 69.5h0M18.7 78.4h0M38.4 79.7h0M112.7 84h0M145.6 73.9h0M166.8 79h0M169.5 85.5h0M181.2 84.4h0M217.2 74.6h0M307 76.8h0M158.7 95h0M222.6 87.8h0M220.4 94h0M245.1 88.3h0M302.3 86.6h0M41.6 114.8h0M81.4 108h0M90.7 108.4h0M84.6 110.9h0M90.7 110.6h0M103.4 107.7h0M190.1 108.4h0M268.8 109.8h0M268.2 115.7h0M297.3 105.9h0M44.3 120.5h0M55.3 131.8h0M76.7 123.9h0M70.7 130.7h0M142.3 125.1h0M161.1 127.3h0M246.4 132.5h0M266 122.2h0M31.3 145.3h0M174.6 136.7h0M192.4 143.4h0M270.2 142.5h0M13.2 150.4h0M24.4 158.5h0M173 148.9h0M195.1 147h0M273.6 149.7h0M280.4 158.9h0M303.1 146.8h0M131.2 173.5h0M258.8 165.4h0M95.3 192.7h0M114.5 179h0M190.3 187.6h0M209.4 189.5h0M202.4 181.4h0M265.2 179.9h0M81.9 195.2h0M78.8 200.9h0M117.1 203.9h0M153.1 200.5h0M159.5 205.9h0M93.5 211.7h0M150.1 217.2h0M248.2 218.7h0M293.6 217.7h0M302 208.4h0M46.6 231.3h0M51.2 231.7h0M51.7 226.2h0M57.7 236.4h0M80.6 229.3h0M71.9 226.2h0M74.1 229.2h0M108.7 229h0M201.9 231.1h0M216.6 232.4h0M269.4 222.6h0M273.7 225.2h0M22.8 241.5h0M25 237.3h0M64.3 240.2h0M76.1 248.9h0M104.7 243.8h0M103.5 246.5h0M116 243.4h0M125.8 241.1h0M141.8 241.4h0M131.8 247.6h0M68.4 253.8h0M101.3 252.4h0M100.6 256.5h0M111.1 259.7h0M114.3 252.8h0M120.1 259h0M123.5 259.4h0M133.9 267h0M46.1 279.2h0M44.9 276.1h0M75 273.3h0M92.2 279.7h0M119.9 276.5h0M140.9 271.3h0M58.1 293.6h0M102.7 297h0M177 281.4h0M195 284h0M44.1 298.8h0M61.7 308.3h0M141.8 307.3h0M44.3 132h0M85.2 108.1h0M76 115.8h0M110.1 97.9h0M128.3 90h0M149 83.3h0M161.1 78.6h0M49.7 131.1h0M59.9 120.3h0M275.5 202.2h0M275.6 198.3h0M275.1 211.1h0M279.2 232.3h0M277.8 247.8h0M280.7 252.9h0M279.6 276h0M288.2 206.1h0M289.5 261.5h0M253.5 222.2h0M255 181.4h0M253.1 171.6h0M226 234.7h0M225.6 238.6h0M226.6 223.5h0M226.3 243.3h0M226.7 251.4h0M157.7 270h0M199.4 288.3h0M176.1 183.8h0M175 207.6h0M179.9 134.7h0M205.5 88.2h0M204.3 134.2h0M186.4 139h0M239.9 106.5h0M215.8 120.2h0M274.6 88.5h0M238.7 159.2h0M220.1 185.5h0M102.5 101h0M110.2 96.5h0M140.9 67.7h0M164.7 49.6h0M186.9 28.4h0M38.1 233.9h0M102.9 223.9h0M122.4 228.9h0M150.6 250.3h0M174.2 109.7h0M108 62.1h0M121.3 39.1h0M80.1 179.8h0M105.2 246.3h0M120.9 258.8h0M41.8 288.7h0M256.3 169.4h0M190.6 197.8h0M296.4 133.3h0" stroke="#ff2020" stroke-width="2.1"/>
<path d="M241.2 12.2h0M50.1 32h0M68.1 37.4h0M220 29.8h0M249.4 37.6h0M253.9 37.8h0M38.8 49.4h0M81.3 56.2h0M231.3 46.1h0M152.9 64.7h0M168 66.6h0M212.9 63h0M225.7 63.7h0M244.7 61.9h0M275.7 62.5h0M267.8 62.7h0M282.1 56.5h0M37.4 79.1h0M137.5 83.8h0M147.4 85.5h0M171 78.6h0M164.4 85.6h0M269 84.8h0M62.3 90.6h0M133.7 98.4h0M179.3 97.2h0M173.7 89h0M226.2 90.4h0M81.5 103.1h0M55.4 121.8h0M29.9 144.8h0M34.9 139.3h0M47.4 142.4h0M137.3 138.7h0M180.4 136.9h0M178.8 135.8h0M244 136.8h0M294.7 133.6h0M284.6 161h0M11.3 164.6h0M297.6 168.1h0M116.3 180.3h0M132.4 180.6h0M255.5 178.5h0M43.2 207.3h0M182.2 194.6h0M237.2 203.4h0M273.5 196.3h0M286.4 192.5h0M31.1 210.7h0M40.9 215.5h0M79.6 220h0M78.3 217.1h0M100.3 219.3h0M113.1 208.7h0M124.3 213.1h0M245.6 210.6h0M280.2 221.2h0M33.1 231.1h0M37.4 227.9h0M229 227.4h0M266.7 230.8h0M66.4 247.7h0M78.7 245.9h0M91.2 241h0M110.2 247.4h0M111.5 251.2h0M212.8 242.2h0M278.9 251.8h0M64.9 257.3h0M57.9 261.8h0M71.7 264.4h0M72.6 258.6h0M80.5 259.5h0M86.5 257.3h0M112.9 256.2h0M148.8 263.5h0M165.4 252.8h0M197 259.6h0M51.2 272.5h0M83.8 274.9h0M115.5 269.2h0M149.9 269h0M166.4 273.3h0M270.5 274.1h0M37.2 290.5h0M60.7 292.5h0M76.2 293.2h0M86.9 293h0M163.9 285.9h0M189.3 287.3h0M41.1 305.8h0M70.7 308.7h0M110.8 310h0M125.8 307.7h0M128.4 303.2h0M215.3 301.6h0M89.6 105.5h0M93 105.4h0M173.7 73.2h0M36.8 142.4h0M73.6 117.1h0M79.1 111.8h0M277.8 251.4h0M278.9 253h0M289.3 238.2h0M294.2 275.4h0M238.5 197.4h0M244.2 211.5h0M253.9 181.2h0M257 169.7h0M253.9 189.8h0M227.1 229.6h0M219.2 275.4h0M218.5 266.9h0M178.1 281.3h0M194.4 271.4h0M246.1 238.4h0M175 180.9h0M144 128.6h0M145.9 147.4h0M221.8 68.8h0M216.9 74.4h0M233.5 113.9h0M272.8 84.3h0M238.4 155h0M298.2 99.1h0M103.3 102.3h0M122.9 86h0M102.8 284.8h0M61.1 204.1h0M123.8 231.1h0M129.8 233.1h0M142.5 235.9h0M154.8 254.1h0M97.3 62.9h0M24.1 63.7h0M59.9 121.2h0M88.1 109h0M140.8 138h0M33.7 195.7h0M213.8 296.3h0M181.1 99.1h0" stroke="#ffe040" stroke-width="2.1"/>
<path d="M149.4 13.8h0M219 16.8h0M232.5 23.5h0M256.9 16.1h0M283.4 18.3h0M299.4 21.2h0M16.9 30.3h0M146.1 37h0M187 40.3h0M253.9 30.7h0M263.5 27.7h0M282.9 27.6h0M245.9 52.1h0M244.3 58.1h0M249.9 71.3h0M251.5 64.1h0M60.3 82.5h0M104.5 71.9h0M157.3 81.8h0M156.9 83.8h0M195.5 76.3h0M227.9 74.5h0M292.5 81h0M138.5 90.8h0M214.6 91.9h0M228.6 100.8h0M55 114h0M102 111.1h0M147.9 116.5h0M162.3 104.6h0M182.3 108.8h0M198.4 112.6h0M218.6 104.7h0M189.5 121.5h0M33.3 141.9h0M44.7 140.7h0M131.3 138.1h0M233.6 142.8h0M13.2 156.9h0M40.7 157.9h0M149.9 162.7h0M168.3 152.1h0M191.5 154.5h0M234.4 148h0M263.3 157.2h0M301.4 155.8h0M128.2 170h0M149.9 176.3h0M105.6 188.5h0M281.9 186.9h0M170 200.3h0M201.1 205.5h0M207.3 204.7h0M52.5 219.1h0M74.8 218.5h0M101.1 217.6h0M259.5 212.9h0M279.7 216.6h0M32.8 221.7h0M60.5 233.6h0M88.6 228.6h0M103.2 223.8h0M91.4 251.6h0M132.7 243.4h0M166.2 243.8h0M30.9 252.6h0M42.3 253.1h0M75.3 254.8h0M114.1 253.6h0M126.3 265h0M269.7 260.4h0M19.1 266.9h0M27.8 273.5h0M92.6 278.6h0M139.6 267.1h0M175 270.5h0M269.6 268.1h0M292 274.5h0M45.2 293.6h0M38 309.9h0M115 309.2h0M175.7 301.1h0M228.9 297.2h0M227.4 305.3h0M29.3 140.8h0M100.9 99.2h0M131.4 86h0M153.9 84h0M47.9 131.8h0M65.1 121h0M279.1 246.1h0M288.4 227.3h0M291.6 273h0M230.6 169.3h0M219.4 271.9h0M189.1 284.2h0M197.3 290.6h0M255.6 235.3h0M267.4 234.2h0M162.8 191.6h0M152.6 166.6h0M160.2 158.3h0M198.6 106.1h0M219.3 78.6h0M223.8 72.4h0M205.4 129.5h0M183.1 140.7h0M179.3 144.4h0M215.1 129.4h0M226.5 174.2h0M225.4 179.1h0M266.4 120.8h0M302.8 101.8h0M302.8 106.1h0M175.9 35.1h0M43.2 238.1h0M67.4 252.3h0M73.8 259.7h0M143.4 144.2h0M38.4 50.8h0M72.1 226.2h0M229.5 65.6h0M262.4 55.8h0M290.8 19.5h0" stroke="#30e0d0" stroke-width="2.1"/>
<path d="M138.4 15.8h0M157.7 17.7h0M148.5 25.3h0M158.8 19.7h0M184.8 20.2h0M178.1 17.3h0M204.5 18.7h0M220.3 26.6h0M255.2 17h0M269.8 16h0M268.5 27.6h0M299.6 21.2h0M32.3 34.8h0M128.5 33.4h0M168.2 29.9h0M175.7 38h0M188.7 38.4h0M216.5 41.5h0M209.7 32.2h0M254.1 29.4h0M274.4 38.9h0M279.7 29.5h0M295.7 35.9h0M13 39.4h0M137.9 50.9h0M134.6 58.6h0M143.1 57.8h0M157.5 57.7h0M168.2 50.1h0M195 51.4h0M212 42.5h0M209.2 48.2h0M232.5 40.7h0M243.1 42.3h0M240.4 46.6h0M261.5 52.6h0M246.7 49.3h0M269.5 54.5h0M277.8 45.1h0M304.3 51.6h0M19.5 69h0M13.5 61.2h0M41.4 61.7h0M51.2 73.4h0M72.1 73.1h0M101.3 64.8h0M117.5 68.4h0M136.6 57.7h0M136.8 60.4h0M184.4 62.1h0M197.4 62h0M197.2 60.4h0M203 64.8h0M216.3 61.1h0M221.9 62.3h0M258.1 60.7h0M246.1 62.3h0M263.4 69.2h0M279.4 54.6h0M307 59.9h0M302.2 58.5h0M297.3 68.5h0M12.5 74.3h0M28 82.4h0M71.3 80.1h0M162.7 72.4h0M174.2 75h0M205.9 72.2h0M201.8 76h0M245.3 80h0M233.8 71.2h0M244.9 85.1h0M108.5 93.2h0M158.5 97.3h0M175.7 93.1h0M182.6 99.1h0M199.5 97.6h0M209.9 86.8h0M203 95.6h0M269.2 91.5h0M112.1 109.1h0M132.1 107.4h0M128.8 101.9h0M202.7 102.2h0M215.1 114h0M225.8 104.9h0M239.3 101.3h0M265 103.9h0M275.4 106.2h0M293.8 105.2h0M67.5 124.3h0M63.7 125h0M178.8 122h0M197.6 120.4h0M216.7 132.8h0M290.6 117.2h0M287.7 124.9h0M297.8 127.5h0M295.2 121.5h0M28.6 132.5h0M168.7 135.1h0M192.6 140.3h0M204 137.9h0M210.4 133.8h0M253.9 144.6h0M288.8 147.1h0M280 140.6h0M307.4 138.1h0M303.4 134h0M32.2 150.3h0M44 149.3h0M112.2 150h0M182.4 151.1h0M170.5 158.9h0M197.4 150.1h0M212.8 157.6h0M220.1 156.7h0M235.7 156.5h0M250.2 147.1h0M256.3 150.7h0M293.6 158.5h0M292.5 151.3h0M62.5 175.7h0M68.2 164.2h0M122.9 172.7h0M229.8 172.2h0M230.9 164.8h0M235.4 167.1h0M104.2 187.3h0M111.6 184.8h0M119.5 186h0M228.1 180.5h0M258.8 183.3h0M271.9 187.9h0M289 180.3h0M18.8 204.8h0M17.9 198.2h0M39.7 198.2h0M28 193h0M46.6 205.8h0M58.6 199.5h0M76.9 205.1h0M92.4 202.5h0M90.4 191.3h0M103.7 193.6h0M97.7 196.5h0M190.5 204.5h0M188.9 196.2h0M295.8 200.3h0M300.2 197.6h0M13.1 219.5h0M15 210.1h0M28.7 217.1h0M49.4 217.7h0M54.5 215.7h0M89.7 210.5h0M106.8 210.5h0M110.4 216.2h0M123.2 208.3h0M130.2 213.1h0M139.9 212.1h0M235.8 215.3h0M262.1 219.3h0M38.1 226.9h0M55 224.5h0M71.1 230.5h0M85.1 228.8h0M102.2 227.5h0M119.1 227.2h0M125 235h0M238.1 225.3h0M290 234.8h0M34.1 243.6h0M30.5 243.5h0M53 248.6h0M46.1 236.2h0M42.2 252.1h0M61.1 252.4h0M58.6 241.4h0M88.3 242.3h0M97.3 250.1h0M109.7 246h0M99.1 252.9h0M115.5 245.8h0M130.1 236.5h0M146.2 240.6h0M147.5 246.5h0M268.7 237.8h0M13.7 263.3h0M43.2 252.4h0M40.4 266.2h0M51.7 257.2h0M43.3 260.7h0M62.1 263.6h0M107.7 266.2h0M98.1 262.4h0M113.5 257.4h0M270.4 262.4h0M304.8 257.9h0M49.7 277.3h0M61.1 270.5h0M71.7 269h0M94.2 266.9h0M110.3 271.3h0M99.5 276.1h0M168.3 268.6h0M204.1 274.5h0M218.6 268.4h0M230.5 273.1h0M272.3 283.1h0M262.3 276.4h0M289.9 279.2h0M305.4 278.1h0M34.6 295h0M40.4 283.6h0M94.6 281.2h0M118.4 285.9h0M181.8 290.8h0M173.3 294.5h0M202.5 281h0M195.2 290.4h0M218.1 294.4h0M210.9 284.7h0M226.6 292h0M228.1 286.6h0M15.6 300.6h0M30.1 297.7h0M27.5 306h0M73.8 306.3h0M88.1 306.7h0M89.8 297.8h0M92.1 300.5h0M101.7 311.5h0M141.8 305.9h0M154 300.5h0M165 309.4h0M173.4 310.6h0M23.6 145.9h0M18.5 146.6h0M49.4 132.3h0M46.9 130.8h0M47.1 131.4h0M60.8 127.3h0M62.6 121.4h0M75.2 110.8h0M101.1 102.8h0M115.2 97.6h0M130.9 91.1h0M131.7 84.5h0M119 90.4h0M154 78.8h0M141.1 83.4h0M149.6 79.8h0M169.5 73.7h0M70.3 120.1h0M276.3 190.1h0M273.4 203.4h0M280.6 227.8h0M285.3 193.1h0M285.3 170h0M284.2 205.8h0M287.7 185.3h0M289.8 211.1h0M289 237.2h0M292.9 278.2h0M228.2 165.1h0M227.7 173.5h0M228.2 175.2h0M228.2 173.1h0M241.3 204.6h0M258 194.3h0M225 248.6h0M157 268.2h0M203.3 286.2h0M198.3 285.6h0M225.3 302.3h0M192.6 257.6h0M244.6 236.2h0M245.5 241h0M263 229.2h0M267.1 234.2h0M177.5 203.2h0M187.3 123.1h0M218.9 72.7h0M243.8 108h0M261.5 94.6h0M261.9 92.6h0M257.2 95.4h0M280.1 80.8h0M296.1 64.9h0M249.2 143.1h0M261.7 129.4h0M248.2 145.8h0M115.1 90.5h0M161.4 51.8h0M156.9 56.4h0M171.8 37.9h0M15.6 222.6h0M53.9 248h0M53.8 241.1h0M99.9 275h0M104.7 220.3h0M110.8 220.5h0M156.3 250.2h0M146 243.5h0M143.9 242.3h0M140.8 162h0M148.6 141.6h0M145.8 55.6h0M17.5 201.7h0M208.1 291.8h0M273.6 80.9h0M179.8 66.3h0M162.3 50.1h0" stroke="#2030ff" stroke-width="2.1"/>
<path d="M147.7 22.9l.6 -.8M151.8 14.3l-.1 .1M160.2 21.6l.1 -.1M182.5 19l.7 -.8M186 23.3l.3 -.5M213.3 16.6l.8 .9M218.6 16.5l0 .2M218.4 24.6l.5 .9M244.9 26.8l0 .6M240.9 12.3l.5 1M253.1 17.7l.1 -.2M249.3 17.9l0 0M273.8 20.6l-1 .6M274.5 23.7l-.3 .7M296.4 25l.6 -.1M42.1 30.6l.1 1.1M50.9 32.1l0 0M57.6 30.1l-.5 .4M109.5 36.9l0 0M146.5 37.2l.6 .5M166.9 26.8l.1 .1M174.6 37.9l-1.1 .5M187.3 38.6l.2 -.4M188.7 40.6l.1 -.1M207 33.2l.4 -.1M226.6 33.3l.4 .7M233.1 29.2l.4 .7M224.9 30.9l.2 0M240.4 35.6l-.7 .8M249.6 39.9l.3 -.5M254.2 29.9l.1 0M254.3 27.7l0 -.1M260.1 41.1l0 .2M260.2 32.1l1 -.6M268 30.4l.6 .2M269.8 41.7l.3 .4M283.5 36.6l.8 .3M282.1 28.5l-1 .6M289 35.8l.7 .2M295.6 34.1l0 0M16.3 51.2l0 .5M28.9 43.1l.3 .1M96.2 44.9l.4 -.6M143.4 47.4l.2 .4M164 52.7l.7 -.2M159.7 53l.3 -.4M177.2 45l0 .9M178.5 56.8l-.4 1M195.2 44.8l-.6 .8M214.9 45.9l.2 .6M206.3 52.7l-.1 .6M213.4 53.6l.1 .2M219.1 47.6l.6 .8M244.7 51.5l.3 .2M239.2 49.9l.2 .4M261 54.5l-.2 .1M251.3 44l-.4 .8M272.5 48.5l-.2 .4M264.8 50.2l-.1 .4M272.7 43.8l-.1 .1M290.3 54l0 0M277.9 52.3l.8 .3M294.3 42.6l.8 -.8M20.7 68l-.3 .9M91.6 69.1l-.8 .8M105.8 61.6l0 .8M153.1 64.5l-.1 .9M169.4 63.2l0 0M186.8 60.7l-.1 .2M195.1 62.7l.5 .9M201.2 68.3l.7 .3M216.1 66.9l.2 .5M229.2 60.4l-.1 .4M219.6 61.1l.7 .1M222.2 63.5l-.2 1.2M231.2 60l.7 -.9M245.1 68.8l.2 -.3M234.7 68l.8 .3M251.1 70.8l0 0M249.4 63.9l.8 .5M249.8 72.2l.2 .2M251.7 64.9l.2 .5M248.6 60.2l.2 .1M268.9 59.3l-.4 .6M270.9 69.1l-.2 .8M275.4 59.1l-.1 1.2M289.1 61.8l-.2 .3M279.6 56.7l-.9 .7M306.2 66l0 .1M20.4 79.9l-.2 .2M9.5 79.2l-.8 .8M59.7 81.5l1 .2M103.6 71.7l.3 1M128.7 80.5l.6 .5M167.8 78.6l-.1 .6M169.4 84.1l0 .2M170.1 79.2l.3 1M164 85.7l.3 .9M186 73.7l-.4 .9M189.5 76l.1 -.1M203.5 77l-.1 .6M215.9 81.5l0 0M222.8 76.9l.5 -.3M223.1 75.4l-.1 .1M228.5 78.9l.7 -.1M242 82.6l0 0M242.6 83.8l0 .1M237.5 71.9l0 .1M250.5 78.1l.1 .9M276.8 78.9l0 0M268.6 84.4l-.2 .5M292.9 84.2l.4 -.3M296.9 83.6l.8 -.1M294.1 85.8l-.4 .5M294.7 80.1l.2 .3M97.5 95.4l.2 -.2M113.7 97.1l0 .1M119.3 100.5l.1 .1M120.1 94.6l-.1 1M126.3 94.2l.2 0M132.1 96.6l.7 .9M130.9 100.5l.1 0M133.7 92.8l.6 .3M150.5 92.4l-.3 .2M166.1 97.7l-.5 .6M188 90.9l.2 1M198.3 89.9l.3 .5M208.9 96.6l.1 0M242 92.5l.3 1.1M239 94.1l-.2 .9M254.3 92.4l-.4 .2M269.9 101.5l.4 -.3M268.9 100.7l.5 -.7M267.1 92.6l.2 -.2M270.3 93l.5 -.9M53.7 114.5l.1 .1M71.1 107.8l-.1 .2M83.3 107.5l-.1 1.1M179.5 106.3l.5 .8M201.3 103.9l.3 1M202 114.1l.3 .4M224.2 111.4l.2 .3M239.8 102.8l.2 -.6M255.2 113.3l0 .1M255.8 110.5l.4 .7M290 110.3l.4 -.9M292.7 113l.3 -.2M296.1 106.1l.2 .1M303.5 112.9l-.1 .3M51.8 131.2l.2 -.2M63.7 129.8l-.1 .3M73 130.1l0 .7M82.7 123.9l.1 .1M85 127.9l.2 .4M130.1 124l.3 -.5M143.5 125.4l.1 .4M196.8 119.1l0 0M200.2 124.5l.8 -.4M192.6 119.3l.7 -.6M191.2 121.4l1.1 -.3M269.5 120l.2 .2M287.9 131.5l.3 .1M299.8 124.9l0 .2M29.6 144.2l0 .3M26.8 140.6l-.1 .1M49.1 134.5l1 -.6M50.1 139l.4 -.5M94.5 139.9l.1 0M140 142.5l0 0M169.9 133.4l0 .4M176.3 146.4l.5 .2M178.9 136.7l-.3 .3M195.4 141.6l.1 .2M231.1 135.6l.3 .4M248.3 143.6l.7 .8M245.2 136.9l.6 .1M244.8 143.3l0 0M253.9 141.6l.5 .4M272.1 143l.5 1M289.2 139.8l.3 .5M297.6 145.1l0 0M13.2 152.4l-.5 1M24.8 157.7l-.8 .6M117.1 156.1l0 .8M157.6 146.9l.9 .5M164.6 148.8l.7 -.3M170.8 148.5l.6 .7M161.8 152.5l.1 0M171.9 149.2l.9 -.8M173.4 155.8l.2 -.2M177.8 150.2l.3 -.5M191.8 153.2l-.1 1.1M215.3 149.6l1 -.6M215.4 147.7l.9 -.7M213.4 157.4l.8 -.7M235 155.5l.1 -.1M236.2 155.3l.5 -.2M241.5 149.5l-.1 .2M248.9 156.3l-.1 1.1M265.2 158.9l.5 1M273.5 151.6l.5 .4M276.7 155.3l.2 .1M291 152.7l-.4 .3M285.7 154.4l-.4 .7M9.6 164l0 .1M12.9 177l.2 -.3M73.9 176.8l.7 -.3M68.7 164.9l.6 -.2M114.8 165.7l-.7 .9M139.2 166.2l.3 .5M129.1 170.4l0 .3M137.2 162.4l.2 .4M245.1 172.9l.2 -.3M90 189.9l-.2 .1M84 186l-.2 .2M101.1 187.2l.3 -.2M135.1 188.3l.1 0M137.7 186.2l.1 .3M140.9 182.4l-.2 .1M147 191.2l.4 .2M232 176.7l.3 .1M229.6 184.1l.5 .2M261.4 181.7l.5 -.3M19.4 196.9l.6 -.3M33.4 197.8l-.1 .2M22.5 207.3l-.1 .1M30.3 194.2l-.2 .5M43.1 206.5l0 0M69.3 204.4l-.3 .4M81.4 196l-.1 1M77.7 200.3l-.6 .4M72.3 201.7l-.3 .4M93.2 193.7l.2 .3M85.1 200.8l.2 .5M94.1 200.4l.2 .3M102.1 197.7l.6 .3M103.2 193.7l.2 .2M119.3 198.8l-.1 .2M117.1 194.3l-.7 .6M117.9 194.5l-.2 .4M135.1 198.6l.4 .8M145.2 207.5l.3 -.4M148.5 202.6l.2 -.3M144.5 199.7l.7 -.6M177.6 203l.4 .1M273.1 196.5l0 0M266 204.1l.3 .6M277.9 205.2l0 1M278.3 199.3l.6 .6M286.5 194.2l.9 .7M9.1 215.5l-.5 .5M30.4 210.4l0 0M33.9 209.9l-.5 .4M28.6 216.5l-.4 .9M40.8 214.1l-.1 .3M48.8 218.7l0 .2M60 208.1l.6 -.8M73.9 221.1l.6 -.4M71.1 218.9l-.1 1.1M74.8 219.6l1 .4M70.2 221l.1 .6M80.4 212.4l0 .3M94.2 220.1l-.4 .7M107.2 209.2l.7 -.5M125.9 212.8l-.1 .4M142.1 212.4l.1 1.1M134.2 220.6l.2 1.1M182.4 213.1l.2 -.2M227.1 207.9l.1 0M282.5 213l.7 .6M300.9 207.4l-.2 .6M22.3 235l-.4 .4M12.8 235.5l-.6 .3M27.2 222.4l-.3 .4M33.4 223l-.1 .4M27.9 228.7l-.7 .5M52.7 231.1l.1 -.1M48.3 221.8l.6 -1M51.9 231.8l0 0M38.2 225.2l0 -.1M53.5 225l.1 -.1M55.5 226.7l.6 .2M55.6 231.7l.4 .4M59.4 233.2l-.2 .6M70.7 232.2l.7 .7M92.3 223.7l1 .6M96.2 226.1l.1 -.1M101 229.4l-.6 .9M102.2 221.3l-.3 .9M102.3 223.8l.1 -.1M122.1 235l.7 -.5M120.6 229.6l.4 -.3M253.7 222.5l.2 -.1M253.8 225.3l.1 -.1M266.8 229.5l-.6 .6M15.9 245.4l.5 1M22.2 243.9l.2 .1M22.8 245.2l-.3 .3M30.1 244.6l-.3 1.2M51.6 246.9l.4 -.2M39.1 250.6l.2 -.1M65.2 248.6l.9 .4M59 241.5l.5 .4M68.6 245.1l0 0M82.6 245.2l1 -.2M88.4 244.5l-.3 .4M97.4 248.1l-.5 .9M95.5 247.1l-.7 .6M93.6 246.6l-.4 .8M111.3 250.1l-.3 .2M99.7 250l-.2 .8M115.5 248l.5 .8M140.5 240.4l-.2 .6M131.7 241l-.8 .6M248.1 248.5l.6 .2M8.4 267l0 .1M16.3 260.5l-.2 1.1M19 266.2l.1 .2M16.8 261.9l-.1 .5M24.4 263.4l.1 .8M30.7 265l0 1.2M36.7 261.6l.1 .4M43.3 253.4l.6 .4M50.3 257.7l.8 .4M42.8 258.5l.6 .4M55.9 264.1l-.1 1M63.5 264.2l.5 -.1M68 263.6l.4 .6M63.4 256.5l.2 .9M65.7 258.9l.1 .1M75.1 258.7l.1 .7M90.9 264.5l.1 -.1M84.6 260.7l1.1 .2M93 257.7l-.3 .3M91.6 259.6l.3 -.6M87 256.9l.6 -.2M102.1 254.3l.3 -.1M104.6 265.4l.4 -.5M111.4 259.9l.4 -.1M99.6 260.3l.4 -.4M99.1 259.9l.9 .6M115.2 254.6l.2 -.4M135 257.4l.2 -.1M137.1 265.1l-.8 .3M147.8 263.8l.4 -.4M20 267.3l.1 -.1M28.5 274.6l0 .1M53 274.2l-.2 .6M50.4 272.7l-.1 0M49.5 273.2l-.8 .9M66.2 267.9l.7 .8M64.5 281.3l-.1 .1M72.8 273l-.3 .2M81.1 271.4l-.2 .3M68.4 268.3l-.1 .1M112.2 269.6l.6 .4M101.2 279.8l0 0M115.1 279.4l0 .1M114.9 270.7l.5 .5M114.6 270.5l.3 .1M121.1 280.6l.2 .4M135.7 276.9l.3 -.5M142.5 280.5l.4 -.4M138 278.5l0 .1M131 269.2l.7 .9M170.4 278.9l.1 1.2M14.5 290l-.1 .5M20.7 291.7l-.2 .5M29.5 289.8l.3 -.7M35.1 296.1l.1 0M53.2 290.3l.4 .7M45.5 289.2l.2 .4M60.7 293.3l.9 -.3M76.4 293.9l.2 -.4M95.4 285.9l-.1 .1M83.7 288.8l-.6 .5M85.9 294.1l-.3 .6M112.3 291.5l-.3 .2M109.8 289.1l-.1 .7M124.4 290.8l-.2 .3M139.3 288.3l.4 .5M131.9 295.6l0 .4M173.3 295.9l-.4 .4M13.2 299.8l.5 .1M8.1 297.6l.2 .1M22.7 308.2l.1 .1M27.8 303.9l.6 .8M23.9 305.3l.4 .7M40.6 304l-.1 .3M49.1 297.7l-.5 .2M76.2 305l-.2 .2M93.4 299.3l-1 .5M96.7 301.5l-.7 .4M93.7 303.1l-.8 .6M104.3 307.9l0 .2M106.4 307.7l.3 -.3M112.7 308.1l-.3 .7M118.4 298.3l-.1 1.1M134.5 297.7l.5 .1M163.8 306.2l.3 -.1M218.2 302.6l1 .2M222.6 310.4l.3 -.3M21 141.3l.6 -.4M21.3 146.1l.5 -.3M23.1 142.8l.4 -.3M63.3 121.3l0 0M57.2 123.6l.6 -.2M57.9 123.9l.9 -.3M84.8 106.6l.8 -.6M84.3 108.9l.3 -.3M74.5 116.2l.1 0M102 102.5l.7 -.2M113 98.6l.3 -.2M132.1 87.4l.3 0M127.6 90.2l.7 -.1M152.6 84.2l.5 0M147.9 81.2l.1 0M161.5 79.4l.9 -.3M50 131.4l0 -.1M51.2 130.1l.1 -.1M58.4 124.3l.7 -.3M48 134.1l.8 -.6M62.6 122.6l.3 -.4M70.1 117.7l.7 -.1M69.6 118l.1 0M78.6 114.5l.1 -.1M274.3 178.5l0 .3M275 197.5l0 .1M279.3 268.4l.1 .4M278.6 249.7l0 .7M283.2 286.6l0 .1M287 186l-.1 .3M236.8 195.8l0 .2M236.2 196.2l.2 1.1M252.2 221.2l.5 .3M254.9 179.1l0 .3M256 180.5l0 .8M255.4 178l0 .2M253.2 190.9l-.1 1M226.8 237.6l0 .3M218.3 267.2l0 .8M170.9 268.1l.2 .2M193.5 257.4l0 .3M193.9 265.9l0 .1M195.1 270.3l.3 .6M243.9 240.4l.8 -.1M165.3 191.1l.7 -.3M175.2 208l.6 -.4M185.3 200.8l.1 -.1M186 202.6l.3 -.2M140.6 109.2l0 .3M142 129l0 .5M145.1 148.3l.2 1M167.3 143.2l.5 -.6M165.1 146.1l.2 -.2M202.5 98.2l.4 -.5M221.5 71l.1 -.2M224.2 67.1l.8 -.8M172.1 146.7l.9 -.4M218.6 120.3l.3 -.2M276 86.5l.3 -.2M261.7 93.9l.6 -.3M255 96.6l.8 -.6M240.1 152.5l.7 -.9M236.3 161.1l.1 -.2M236.5 155.7l.3 -.6M227.2 175.4l.2 -.5M239.6 156.6l0 0M251.8 143.2l.1 -.1M261 130.2l.4 -.4M105.5 94.9l.1 -.1M165.3 46.7l0 0M160.9 48.4l.4 -.3M169.5 44.2l0 0M68.1 251.9l.8 .7M103 286.1l.5 .3M101.9 279l.4 .2M62.8 206.8l.4 .2M51.5 202.9l.9 .3M146.1 245.5l.7 .5M143.6 236.3l.1 .1M135.2 163.1l.2 -1" stroke="#d040e8" stroke-width="1.5" opacity=".8"/>
<path d="M148.2 24l.6 -.8M153.5 14.1l-.1 .1M161.4 21.6l.1 -.1M181.6 20.1l.7 -.8M184.5 22.4l.3 -.5M213.2 15.3l.8 .9M220.2 16.8l0 .2M217.8 23.6l.5 .9M244.1 25.9l0 .6M242.6 12.5l.5 1M252.8 16.1l.1 -.2M250.2 18.3l0 0M275.3 20.8l-1 .6M275.3 22.9l-.3 .7M296.5 25.9l.6 -.1M41.1 31.3l.1 1.1M49.3 31.3l0 0M58.3 30.8l-.5 .4M111 37.7l0 0M146.1 36.4l.6 .5M167.1 27.8l.1 .1M175.4 36.7l-1.1 .5M188.3 39l.2 -.4M187.8 40.2l.1 -.1M207.6 32l.4 -.1M226.8 32.2l.4 .7M232.3 29.1l.4 .7M225.1 31.7l.2 0M241.3 34.7l-.7 .8M249.6 39.1l.3 -.5M252.5 29.3l.1 0M255.2 27.6l0 -.1M259.5 42.1l0 .2M259.4 33.1l1 -.6M268.8 30.9l.6 .2M270.6 42l.3 .4M282.6 35.4l.8 .3M283.2 28.4l-1 .6M289.1 37.2l.7 .2M296.4 35.2l0 0M15.9 52.2l0 .5M30.2 42.5l.3 .1M95.9 46.1l.4 -.6M144.1 45.9l.2 .4M165.7 53.2l.7 -.2M160.3 54.5l.3 -.4M176.9 43.9l0 .9M179.9 56.4l-.4 1M195.7 45.5l-.6 .8M214.8 44.6l.2 .6M208 53l-.1 .6M213.9 54.6l.1 .2M219 48.4l.6 .8M245.5 51.8l.3 .2M238.1 48.6l.2 .4M259.9 53.5l-.2 .1M251 43l-.4 .8M272.7 47.1l-.2 .4M265.6 50.1l-.1 .4M274.1 43.9l-.1 .1M291.5 55.1l0 0M278.2 51.5l.8 .3M295.3 43l.8 -.8M21 67l-.3 .9M90.7 68.4l-.8 .8M106.2 60.6l0 .8M153.6 63.5l-.1 .9M170.2 62.4l0 0M186.4 59l-.1 .2M195.8 61.6l.5 .9M200.2 66.9l.7 .3M215.8 65.2l.2 .5M228.3 61.8l-.1 .4M219.1 62.1l.7 .1M221.2 64l-.2 1.2M232.7 59.1l.7 -.9M244.7 67l.2 -.3M233.5 67.5l.8 .3M251 69.1l0 0M248.1 63.5l.8 .5M249.3 71.3l.2 .2M250.9 65.9l.2 .5M247.8 61l.2 .1M268.1 59.8l-.4 .6M270.5 70.7l-.2 .8M276.7 59.9l-.1 1.2M288.7 60.6l-.2 .3M279.9 57.5l-.9 .7M305.6 67.5l0 .1M19 79.3l-.2 .2M10.6 78.2l-.8 .8M61.3 80.6l1 .2M102.9 72.4l.3 1M128.7 79.3l.6 .5M169 79.7l-.1 .6M170 83.3l0 .2M171.7 79l.3 1M163.4 87.2l.3 .9M184.5 74.4l-.4 .9M188.5 76.6l.1 -.1M205.1 77.5l-.1 .6M215 81l0 0M223.4 75.2l.5 -.3M224.1 74.7l-.1 .1M229.2 78.1l.7 -.1M241.3 81.6l0 0M243.5 82.5l0 .1M237.7 73.6l0 .1M251.4 76.9l.1 .9M276.2 77.9l0 0M268.6 85.3l-.2 .5M291.3 84.2l.4 -.3M296.7 82.6l.8 -.1M294.7 86.5l-.4 .5M294.1 78.8l.2 .3M98.7 95l.2 -.2M112.7 96.4l0 .1M118.2 101.3l.1 .1M120.3 93.7l-.1 1M127.2 94.7l.2 0M133.4 96.1l.7 .9M132.3 100l.1 0M134 94.4l.6 .3M149.5 93.1l-.3 .2M166.7 97l-.5 .6M187.3 92.3l.2 1M197.2 88.8l.3 .5M209.4 95.7l.1 0M241.7 93.4l.3 1.1M237.8 93.3l-.2 .9M255.4 91.1l-.4 .2M269.8 102.3l.4 -.3M268.1 101.3l.5 -.7M267.4 91.5l.2 -.2M271.5 93.8l.5 -.9M52.5 115.4l.1 .1M70.9 109.1l-.1 .2M83.2 106.5l-.1 1.1M178.4 106.5l.5 .8M200 103.3l.3 1M202.6 113.6l.3 .4M224.1 110.4l.2 .3M240.3 104.1l.2 -.6M254.5 112.1l0 .1M254.8 111.4l.4 .7M288.8 111l.4 -.9M294.4 112.7l.3 -.2M295.5 107.5l.2 .1M304.9 112l-.1 .3M53 130.6l.2 -.2M64.6 129.5l-.1 .3M73.6 129.5l0 .7M82.5 125.4l.1 .1M86.1 127.4l.2 .4M130.2 124.9l.3 -.5M142.7 126.5l.1 .4M197.5 118.5l0 0M199 125.4l.8 -.4M193.5 119.6l.7 -.6M191.6 120.4l1.1 -.3M268.3 121.2l.2 .2M286.7 130.8l.3 .1M300.4 123.9l0 .2M30.9 144.1l0 .3M26.5 139.2l-.1 .1M49.9 134.5l1 -.6M49.4 139.6l.4 -.5M93.7 139.4l.1 0M139 142.5l0 0M170.8 133.8l0 .4M176 145.4l.5 .2M180.5 136.4l-.3 .3M195.7 140.2l.1 .2M231.4 134.2l.3 .4M247 142.9l.7 .8M243.7 136.8l.6 .1M243.6 142.8l0 0M255.4 142l.5 .4M271.9 144.1l.5 1M289.4 138.6l.3 .5M298.3 145.9l0 0M13.3 151l-.5 1M24 157.7l-.8 .6M115.9 155.6l0 .8M157.7 148.3l.9 .5M164 149.3l.7 -.3M171.4 147.9l.6 .7M160.6 152.2l.1 0M170.9 148.6l.9 -.8M172.7 156.5l.2 -.2M177.2 151.2l.3 -.5M192.8 152.3l-.1 1.1M216.7 148.5l1 -.6M216.6 147.4l.9 -.7M214.5 158l.8 -.7M233.4 156.2l.1 -.1M237.6 155.4l.5 -.2M241.2 150.5l-.1 .2M248.3 155.7l-.1 1.1M265.9 159.5l.5 1M272 151.4l.5 .4M277.5 155.8l.2 .1M290.3 151.7l-.4 .3M287 154.6l-.4 .7M9.4 165.1l0 .1M13 175.4l.2 -.3M72.3 176.5l.7 -.3M67.4 165.5l.6 -.2M115.2 167.1l-.7 .9M140.3 165.5l.3 .5M130 169.3l0 .3M136.3 163.1l.2 .4M246.1 173.2l.2 -.3M91.2 190.7l-.2 .1M85.4 186.8l-.2 .2M101.9 186.2l.3 -.2M133.5 188.7l.1 0M139 186.7l.1 .3M139.9 182.7l-.2 .1M146.5 192.6l.4 .2M231.3 177.4l.3 .1M230.8 185.1l.5 .2M261 182.5l.5 -.3M19.5 198.1l.6 -.3M31.8 198.4l-.1 .2M23.7 206.7l-.1 .1M29 194.3l-.2 .5M44.8 206.4l0 0M70.5 205.5l-.3 .4M82.3 195.5l-.1 1M77.4 201.8l-.6 .4M72.1 200l-.3 .4M93.1 192.6l.2 .3M83.9 199.7l.2 .5M93.5 201.9l.2 .3M102.4 196.4l.6 .3M104.6 193.8l.2 .2M118.6 199.3l-.1 .2M116.6 193.6l-.7 .6M118 193.5l-.2 .4M135.5 197.4l.4 .8M144.6 205.8l.3 -.4M148.9 201.9l.2 -.3M145.7 200.9l.7 -.6M179.3 203.2l.4 .1M273.8 197.6l0 0M265 203.5l.3 .6M277.1 204.4l0 1M278.5 200.9l.6 .6M285.5 192.7l.9 .7M10 214l-.5 .5M31.8 210.7l0 0M34 210.8l-.5 .4M28.5 214.9l-.4 .9M39.7 215.4l-.1 .3M48.6 219.7l0 .2M59.4 207.3l.6 -.8M74.9 219.6l.6 -.4M71.5 218.1l-.1 1.1M73.8 220.7l1 .4M70.8 222.6l.1 .6M82.1 212.9l0 .3M95.2 219.6l-.4 .7M107.5 208l.7 -.5M124.5 213.2l-.1 .4M142 214l.1 1.1M133.8 222.2l.2 1.1M182 212.2l.2 -.2M228.1 208l.1 0M283.3 211.7l.7 .6M299.6 208.5l-.2 .6M20.5 235.1l-.4 .4M12.7 234.7l-.6 .3M26.2 223.6l-.3 .4M33.5 223.8l-.1 .4M27.1 230.3l-.7 .5M51.6 230.6l.1 -.1M47 222.6l.6 -1M52.7 233.1l0 0M38.3 223.9l0 -.1M52.4 224.1l.1 -.1M56.1 226.1l.6 .2M56.6 230.8l.4 .4M60.6 234.5l-.2 .6M70.6 231l.7 .7M93.4 223.4l1 .6M97.1 225l.1 -.1M100.3 230.3l-.6 .9M103.1 222.7l-.3 .9M101.5 224.5l.1 -.1M123.2 236.1l.7 -.5M120 230.6l.4 -.3M255 222.3l.2 -.1M254.8 225.4l.1 -.1M267.9 230.1l-.6 .6M14.6 244.7l.5 1M22.7 245.2l.2 .1M23.6 243.7l-.3 .3M29.1 246.1l-.3 1.2M50.4 245.9l.4 -.2M39.7 249.1l.2 -.1M66.1 247.6l.9 .4M59.5 239.9l.5 .4M67.7 246.5l0 0M83.1 246.3l1 -.2M89.2 245.9l-.3 .4M98.4 249.2l-.5 .9M96.6 246.6l-.7 .6M93.8 247.6l-.4 .8M112.3 250.5l-.3 .2M98.3 250.1l-.2 .8M114.3 247.5l.5 .8M141.2 240.9l-.2 .6M132.4 242.5l-.8 .6M246.7 248.5l.6 .2M8.2 266.2l0 .1M16.6 259.5l-.2 1.1M19.6 267.1l.1 .2M15.3 261.9l-.1 .5M25.4 263.8l.1 .8M30.2 264.1l0 1.2M38.3 261.2l.1 .4M44.5 252.8l.6 .4M51.5 258.3l.8 .4M42.5 260.3l.6 .4M54.3 263.9l-.1 1M64.1 263.5l.5 -.1M67.5 265.1l.4 .6M64.9 256.2l.2 .9M66.9 260l.1 .1M74.5 259.6l.1 .7M91.2 263.6l.1 -.1M83.4 259.5l1.1 .2M93.2 256.9l-.3 .3M90.1 260.2l.3 -.6M86.2 256.5l.6 -.2M101.2 253.2l.3 -.1M104.6 266.5l.4 -.5M110.9 258.3l.4 -.1M100.3 262l.4 -.4M99.4 258.1l.9 .6M115.5 256l.2 -.4M134.6 258.2l.2 -.1M138.6 265.2l-.8 .3M148.4 262.3l.4 -.4M18.5 266.8l.1 -.1M27.8 273.2l0 .1M53 273.2l-.2 .6M50.9 272.1l-.1 0M48.9 271.8l-.8 .9M65.1 268.5l.7 .8M63.1 280.4l-.1 .1M73.6 273.1l-.3 .2M80.6 269.8l-.2 .3M69.3 268.6l-.1 .1M112.5 268.3l.6 .4M100.8 281l0 0M114.4 278.3l0 .1M114.3 269.4l.5 .5M113.2 271.2l.3 .1M122.1 279.9l.2 .4M136.7 277.1l.3 -.5M141.8 281.7l.4 -.4M137.9 280.3l0 .1M130 269.5l.7 .9M169.4 278.6l.1 1.2M14.7 288.5l-.1 .5M22.2 291.2l-.2 .5M30.3 291l.3 -.7M35.8 296.6l.1 0M51.9 290.1l.4 .7M45.5 290.6l.2 .4M60.8 291.7l.9 -.3M77.5 293.8l.2 -.4M94.6 285.4l-.1 .1M85 288.1l-.6 .5M86.2 293.3l-.3 .6M113.1 291.1l-.3 .2M108.6 290l-.1 .7M125.5 290l-.2 .3M137.7 288.5l.4 .5M132.2 296.9l0 .4M172.7 294.6l-.4 .4M14.1 300.6l.5 .1M9.2 298l.2 .1M24.3 307.8l.1 .1M28 305.4l.6 .8M25.6 305.3l.4 .7M40.5 305.7l-.1 .3M48.3 297.9l-.5 .2M76.5 306.4l-.2 .2M93.8 297.8l-1 .5M98.1 301.1l-.7 .4M93.3 301.5l-.8 .6M103.5 308.8l0 .2M107.3 308.3l.3 -.3M113.8 309.4l-.3 .7M118.1 296.8l-.1 1.1M134.8 296.8l.5 .1M165 307l.3 -.1M217.3 301.4l1 .2M223.1 309l.3 -.3M22.2 141.5l.6 -.4M20 145l.5 -.3M23.1 141.9l.4 -.3M64.1 121l0 0M57.2 124.5l.6 -.2M57.8 122.5l.9 -.3M84.3 105.7l.8 -.6M85.1 109.5l.3 -.3M75.7 115.5l.1 0M102.7 101.1l.7 -.2M112.8 97l.3 -.2M132.6 88.2l.3 0M127.3 92l.7 -.1M151.8 83.6l.5 0M146.3 81.7l.1 0M161.2 80.7l.9 -.3M50.2 133l0 -.1M50.4 129.1l.1 -.1M56.9 124.7l.7 -.3M49.6 134.4l.8 -.6M62.4 121l.3 -.4M69.1 118.1l.7 -.1M70 118.8l.1 0M78.7 115.6l.1 -.1M273.2 177.9l0 .3M275.8 198.4l0 .1M279.5 267.2l.1 .4M277.3 249.8l0 .7M284.8 287.2l0 .1M286.3 185.4l-.1 .3M237.9 196.1l0 .2M237.3 196.2l.2 1.1M252.4 222.4l.5 .3M254.1 179.2l0 .3M255.9 181.7l0 .8M256.2 178.9l0 .2M254 191.2l-.1 1M227.8 237.5l0 .3M219.9 268l0 .8M169.7 268.2l.2 .2M193.1 258.4l0 .3M193.1 265.2l0 .1M194.1 270.8l.3 .6M243.1 239.5l.8 -.1M164.7 192.7l.7 -.3M175.3 206.8l.6 -.4M185.5 199.9l.1 -.1M185 201.4l.3 -.2M140.2 108l0 .3M142.9 129.8l0 .5M145 147l.2 1M168.5 144.2l.5 -.6M166.1 144.9l.2 -.2M203.4 99.2l.4 -.5M221.8 71.7l.1 -.2M225.1 66.7l.8 -.8M173.2 147l.9 -.4M217.8 120l.3 -.2M275.3 85.2l.3 -.2M263.4 93.6l.6 -.3M256 97l.8 -.6M238.8 151.5l.7 -.9M237.3 160.9l.1 -.2M235.9 157.3l.3 -.6M227 176.2l.2 -.5M238.8 155.4l0 0M250.9 143.9l.1 -.1M262.4 130.5l.4 -.4M105.6 93.9l.1 -.1M164.2 45.9l0 0M161.1 50l.4 -.3M170.3 44.8l0 0M69.1 251.1l.8 .7M104.8 286.6l.5 .3M100.9 277.8l.4 .2M62.3 205.8l.4 .2M49.8 202.5l.9 .3M147.8 246.1l.7 .5M143.1 237.2l.1 .1M136.2 163.2l.2 -1" stroke="#5048ff" stroke-width="1.5" opacity=".7"/>
<path d="M136.1 18.4l-.2 .7M142.8 12.7l-.5 .6M148.1 14.1l-1.8 1.4M162.5 17.5l1.7 -.4M178.9 24.2l2.1 -1.3M205.9 18.3l-.9 1.4M220.6 19.9l.2 1.7M239.6 14.3l.4 .3M256.7 16.5l.3 -.2M253.6 13.7l.5 -.2M247.7 26.5l1.1 -1.2M260.4 25.4l2.2 -.9M272.6 15.2l-.7 1.1M273.8 13.1l-.2 .7M279.4 17.3l2.2 -.7M279.6 25.7l.8 -.6M297.7 16.1l.3 .4M300 20.8l1.6 -.7M307 17.9l1 1.2M106.8 29.3l-.6 2.3M122.6 41.7l.5 .4M123.1 30.7l.6 -.6M117.8 36.5l1.9 1M139.6 27.6l.2 1M131.4 35.6l2.1 1.1M146.6 40.5l.9 .2M187.2 29.4l.1 .7M211.6 37.3l1.3 -1.5M217.2 41.1l1.3 .8M225.7 40.1l2.1 .3M247.9 26.4l1 -1.6M239.5 30.3l-.8 .9M235.2 30l-.2 .1M253.3 37.7l1.8 -.6M277.3 39.9l-.1 .3M277.9 31.4l1.6 .5M276.3 34.6l1.5 .9M273.9 30.1l.2 .2M272.4 40.9l2.1 .2M263.3 29.3l1.2 1.9M280.2 41.1l-.5 1.7M282.4 30.9l1.1 2.1M297.4 37.6l1.7 1.1M26.3 47.3l1.4 1.6M23.9 53.6l1 .3M38.4 51.8l-1.8 1.1M57.4 46.8l-.1 .1M81.3 55.7l0 .1M88.7 42.7l.4 -.2M109.5 50.6l-.4 .4M115.3 42l2.2 -.8M137.8 51.7l-.7 1.1M144.2 56l1.2 .4M164.8 46.8l1.9 -1.2M158.7 51.8l-.5 1.4M174.9 52.2l.7 1.8M179.9 45.4l-.1 1.4M180.4 52.7l0 .1M187.1 47.1l0 .2M199.4 45.7l-.3 .7M193.3 53.2l-.2 1.1M210.1 46.7l.3 1.5M228 43.8l0 1.5M246.6 51.4l.3 .2M239.9 54.2l.9 .3M247.2 49.5l1.3 1.3M240.2 43.9l1.4 1.3M250.8 51.4l.5 .5M259.5 45.5l.7 .2M260 53.5l.4 .3M257.7 51.2l.3 .2M249.8 50.8l1.1 .6M256.2 55.6l1.9 .7M265 53.2l-.5 1.7M269.3 42.8l-1.9 1.1M283.8 55l1.1 1.8M284.1 54.7l.4 -.3M296.3 50.7l.6 -.2M19.4 69.5l.3 1M34.4 70.1l.9 .5M50.4 71.6l1 -.2M69 70.4l0 .2M95.2 68.5l-.3 2.1M106.2 58.5l.1 .7M119.2 67.2l.3 -.1M124.6 63.2l2.3 -.6M118.6 62.5l0 0M142.6 63.4l0 .7M168.7 57.1l.7 -.7M166.6 67.6l1.2 -1.9M161.3 67l1.2 -1.1M176.6 62.9l.4 1.5M186.9 64l1.4 -.2M195 63.9l0 0M188.3 58.2l.7 .9M197.8 60.9l.7 .6M201.9 69.9l1.3 .3M195.4 61.9l0 .1M198 57.4l.5 .1M205.2 69.9l.4 1.3M212.9 63l-.1 .6M224.4 58.7l1.6 1M218.4 59.4l1.8 1M235.4 70.1l1.2 -1.3M244.2 59.5l2.1 -1M256.5 69.4l1.2 .5M252.7 62.5l1.3 .5M265.3 70.7l-.2 .1M279.2 64.5l1.2 -1.1M293.1 62.4l-1.4 2.1M289 66.2l-.8 .5M299 56.6l-.2 .7M303.7 60.6l.1 1.9M295.4 69.7l-.1 .3M37.2 78.5l1 -1M39.7 73.3l1.6 -1.7M74.9 76.1l-.5 1.1M68.8 80.2l-1.9 1.5M155.9 81l-.5 .8M151 73.5l1.3 2M143.9 79.4l.8 1.3M145.5 78.8l0 0M165.6 74.3l.9 2.2M161.7 82.1l1.8 -.8M171.5 72.5l0 .1M183 85.4l-.8 1.2M173.1 73l-.4 .2M183.9 83.5l.3 -.4M192.9 75l-.6 .4M203.7 75.6l-.4 .2M215.4 82.1l-1.5 1.8M215.3 78.5l0 .3M215.6 84.2l-1.2 1.1M206.3 72.4l-.4 .6M230.5 84.1l.5 -.5M226.6 74.4l.2 -.2M233.9 71.6l.3 .9M277.9 71.7l1.1 1.8M273 77.7l-.2 .1M271.3 73.4l.4 .8M281.1 84.5l-.1 .3M279.5 81.2l-.6 2.4M308.3 77.3l.2 .3M296.8 76l1.9 1.1M10.4 93.2l.1 .4M15.9 102.3l-.3 1.8M28.2 98.7l.3 -.8M39.4 90.5l.1 0M91.2 94l1.2 1.5M102.5 99.3l.1 1.1M107.5 100l-.2 .9M103.3 92.4l.6 -.2M120.7 93.8l-1.1 .6M127 96.4l-.8 .5M136.7 93.7l.5 .6M156.6 93.4l-1.2 1.4M171.2 98.5l.1 0M180.6 88.9l.3 .7M184.8 93.1l1 -1M183.7 96.2l-.3 1.1M178.9 96.8l.5 .6M183.1 99.7l.7 1.7M179.1 95.8l.2 1.1M190.3 91l0 0M203.7 94l.5 .4M209 95.2l1.5 .2M225.4 90l1.4 -.8M223.6 98.1l1.5 1.8M241.5 87.9l-.3 1.1M245.3 86.5l-2 1.2M242 89.9l-.2 1M270 99.8l.9 -2.1M263.3 86.6l.6 .4M278.2 97.2l.9 -2M288 92.7l2.2 -1.1M298.8 99.5l-.2 2.1M301.2 86.6l.1 -.2M82.2 106.5l.2 .4M69.3 106.1l0 0M74 102.7l1 .4M86.2 107.5l0 0M107.3 112.4l.9 -.3M106.5 115.6l.8 -1.1M102.3 109l1.3 1.9M118.4 115.8l.8 .5M129.8 104l1.3 -1.8M179.5 110.4l0 .3M184.5 110.7l1.3 2.1M210.8 116.4l0 .5M213 116.1l.4 .6M273.9 111.1l-.2 1M264 102.9l-.5 1.2M273.6 115.5l-.1 .3M267.1 109.6l-1 .6M272.8 107.1l-.3 1.3M303.1 102.7l-.4 2M295.9 104.1l0 1.8M297.1 107l-.1 1.9M295.4 103.8l-.7 1M31.1 124.9l1 .6M44.5 128.1l-1.9 1.4M42.5 123.7l-.1 .4M61.4 124.7l-.4 .7M65.2 120.6l-1.7 1.6M62.5 121.3l1.8 1.5M72.4 129.3l-.5 2M71.7 130.6l-.2 .8M69.1 123l.5 2.1M162.3 129.1l1.1 -.3M208.9 120.2l.1 .6M288.6 126.9l1.4 .4M293 123.7l-.1 .4M302.7 130.6l.3 1M22.7 142.8l1.2 .7M26.8 138l-1.6 1.8M34.7 142.3l-1 1.3M48.2 145.7l1.7 -1.6M92.3 135.7l.8 .4M102.2 143.4l1.9 .9M118.4 144.6l.3 -.1M151.5 137.2l-.1 .2M170.6 138.4l-.4 1.3M166.4 139.1l.2 .2M179 137.8l1.2 -.5M179.1 145l.1 -.1M183.4 135.8l1.7 -.5M179.9 145.6l.9 -1.8M204.5 139.1l1.1 1M238.8 146l.7 .4M266.7 142.1l.2 .3M292.3 142.2l0 0M287.9 147.4l.3 .1M285.7 141.3l.7 .7M283 140.8l.4 .7M306.8 133.5l.7 -1.5M307.1 138.8l2.4 -.6M294.8 134.5l1 -1.7M299.3 138l-1.1 1.1M10.2 155.7l-.5 1.6M21.3 157l-.6 .4M37.9 151.7l-.6 1.6M29.8 161.4l2 -.9M41.3 157.5l2.2 .7M87.4 159.5l.5 .9M97 158.9l.2 .5M110 148.4l1.7 .6M130.3 154.1l.4 .1M130.2 156.5l.1 -.2M146.1 161l.4 -.3M168.1 155l-.4 .3M162.7 157.8l2.1 -.7M184.8 149.3l2.2 -.8M177.6 149.5l2 -.7M195.1 146.9l.2 2.1M195.9 156.1l.9 1.5M191.9 153.4l.7 -1.2M213.4 149.9l-.1 .1M212.5 151.4l1.8 -.5M226 148.6l.5 .7M265.6 156.3l1.1 2M286.1 152.3l.8 -.9M283.9 159.7l.1 -.1M293.7 157.1l-1.3 .9M305.4 146.6l0 1.1M18.8 167l.8 -1.8M38.4 177.6l.5 .6M98.6 169.8l.3 -.4M121.7 176.1l-1 1.6M131.2 174.1l.3 .5M137.8 162.3l.1 1.6M149.3 175.4l.8 .4M254.8 172.2l.3 .3M298.3 167.2l.7 .9M44.7 190l.7 2.1M78.3 181.7l-.2 1.6M89.6 190l-.4 .3M105.2 186.9l.7 -.3M109.5 181.5l2 -1.2M102.5 177.8l1.5 1.4M113 180.6l-1.2 .9M119 184.1l1.2 -.6M139.1 183.7l.6 1M137.7 184.1l1.9 .6M203.9 182.3l-.4 .8M271.8 189.8l-.5 1.7M287.2 181l.1 0M36.6 198.1l-1.7 .9M33.2 198.8l.7 -.5M38.9 197.9l.3 1.6M49.7 203.7l-.3 .5M56.1 201.7l0 .1M61.9 193.5l-.3 2M77.1 192.8l0 0M77 199.3l-.1 .9M79.4 205.9l-.6 1.4M84.3 207.3l.4 .2M109.3 192.4l.7 .5M104.1 192.9l.1 .2M100.5 193l.4 .3M116.4 200.7l-.1 .4M115.5 195.9l-1 2.2M129.1 194.5l.2 .3M132.2 196.2l.1 .4M136.9 202.4l1.3 1.9M203 202.2l1.4 .2M254.5 206.2l.6 -.3M272.1 200.9l-1.2 1.6M10.7 208.6l.6 .5M16 218.8l.1 .1M9.5 218.9l.5 .5M17.3 213.9l.5 -1.2M30 209.2l1.1 1.2M67.1 221.2l-.7 2.3M53.9 214.2l-.5 .6M54.3 218.9l-1 1.4M78.3 216.2l.5 -.5M91.5 211.7l.1 1.2M86.6 210.8l-1.2 1M99.4 215.4l-.4 .7M98.6 209.1l.5 1.3M99.9 219.3l1.2 1.4M101.4 210.6l.4 .5M108.3 214.7l-1.8 .8M103.5 219.3l.7 .1M113.9 209.3l.3 -.5M124.9 209.9l-.4 .4M125.1 212l-.1 .2M124.5 211.5l-.7 .6M131.4 209.3l0 .3M143.4 210.8l.9 1.8M147.5 210l.1 .2M149.8 216.1l-.4 .4M143.2 215.2l1.8 -.8M235.1 209.4l.8 -.6M261.7 216.5l0 1.7M272.1 220.8l.2 -.1M19 228.3l.9 -1.9M19.6 225l.7 .7M36.2 225.9l-.4 1.4M32.4 229.8l-1.4 1.1M37.2 227.3l.2 -.2M33.5 227l-1.4 .9M47.7 232.6l1.6 -1.3M52.3 236.6l.6 -.6M58.9 223.1l-.2 .2M69.7 228.6l-.3 .1M69.6 229.9l.3 .1M71.4 227.6l.6 .2M81.9 229.9l2.2 .5M89 228.1l-.1 .5M88.5 229.1l.2 .5M88.2 223.7l1.4 1.5M94.2 230.7l.1 .3M106.9 229.5l.4 -.1M114.7 225.3l1.5 -1.5M130.7 233.7l1.8 .6M243 236.5l-.1 .2M251.5 231.6l.2 1.9M291.5 226.3l-.1 .1M298 235.4l.8 -.8M20.1 240.8l.6 -.6M20.9 250.9l.2 .3M24.4 251.3l.7 .6M35.6 242.8l2.1 -1.1M49.5 244.4l1.4 -1.5M63.6 250.4l.2 .3M66.2 238.4l.3 .2M82.3 242.2l1.1 .6M77.7 238l-.7 .5M69.2 241.8l1.2 -.9M106.7 243.1l-.2 .1M112.3 250.1l-1.2 2M104.4 243l-1 1.4M103.9 245.7l-.1 .8M114.7 241.2l1.5 -1M126.7 248l0 1M114.3 239.2l-.5 1.6M118.3 238.1l1.4 -.7M126.6 245.9l.2 0M127.8 246l-1.6 1M136.8 244.3l-.7 1.7M149.4 249.1l1.7 -1.8M241 241.1l.2 .3M282.4 239.3l1.4 1M17.7 259.2l.2 -.1M28.8 252.1l-.5 2.2M38.1 266.7l1.2 .2M43.4 256.1l2.1 1.1M61.1 267.2l.1 .9M75.8 254.7l1 1.4M71.9 257.7l-.1 .8M70.8 260.5l1 1.2M87.7 263.5l.8 -1.4M84.4 253.9l1.1 -.5M102 256l1.7 1M114.3 253.1l0 0M114.2 253.6l1 1.6M114.9 258.3l1.9 -1.5M127.5 262.4l0 .3M135 254.6l.4 1.6M144.2 254.6l.7 2.2M157.7 257.3l2.2 .6M164.8 252.9l1.1 1.5M186.1 267l-.6 .8M36.6 277.8l.4 .4M45.6 278l-1 .4M59.1 268.1l-.6 2.2M62 273.8l-1.2 1.8M69.3 280.7l-1.2 .9M93.8 273.3l-.2 1M101.1 273.3l.6 -.8M112.1 273.1l1.4 .8M108.5 271.1l.1 0M119.7 274.3l.3 -.4M137.7 266.7l.5 1M140.7 271l.1 1.6M128.9 278.6l.1 1.1M138.9 273.4l.2 .8M143.9 274.6l-1.8 1.8M153 273.1l-.2 1M185.7 275.3l1.5 -1M292.1 277.3l.2 .1M304.7 276.4l0 0M16.9 293.8l-.1 .3M15.1 294.4l-.1 .5M30.8 288l-1.8 1M37.4 291.6l-1.2 1.8M38.2 282.2l-1.1 1.4M38.3 294.1l.9 1M43.3 288.2l.9 .2M52.1 289l1.4 -1.8M56.4 285.7l1.5 -1.2M80.1 281.7l.4 -.9M111.1 287.2l1 2.2M109.3 288.8l1.5 -1.6M116.9 296.6l-1 .9M119.7 293.1l-.5 .3M129.9 293.3l0 0M154.4 282.5l1.5 -.4M209.9 285.8l-.6 1.6M224.9 292l.2 .2M16.7 303.7l.5 .4M33.4 305l1.3 .3M35.2 301.7l-.2 .1M38.6 308.8l-.2 .2M80 311.8l1.3 1.6M81.8 301.2l.4 .4M95.1 310.5l-.1 .3M96.3 307.1l-.1 .1M88.9 306.5l.4 .6M111.5 309.2l.2 .5M101.4 304.6l.2 .3M117.7 302.3l.4 1.4M118.2 309.7l-.2 1M119.3 310.7l-.6 2.3M117.9 301l.5 .8M123.2 297.9l.6 1.9M140.8 306.6l2 1.2M128.7 310.7l.7 .4M141.7 306.3l1.2 .8M153.9 301.5l.1 -.1M165.9 305.7l-.1 .9M165.3 304.2l.1 0M187 303.1l-1.9 1.2M190 312.4l-.5 .6M199.7 306l-.3 .3M205.8 301.8l1.2 -1M242.7 309.5l.9 1.9M23.5 137.8l2.1 -1.2M44.1 131.3l1.7 -1M45.9 131.9l1.9 -.3M31.9 135l2.4 -.3M58.4 125.5l.6 -.2M74 113.9l1.2 -.3M101.6 101.4l1.9 -1.5M112.2 94.4l.8 -.6M128.7 90.8l1.7 -.4M160.3 79.2l1 -.5M174.5 72.3l1.7 -1.4M73.9 116.8l1.6 -.3M80.3 112.2l.8 0M272.5 180l0 .4M275.9 199.6l.4 1M276.7 213.5l.1 1.9M275.7 204.2l0 .2M280.4 273.1l-.1 1.2M288.8 216.6l.2 1.2M289.6 237l-.5 2M290.5 260.8l.4 1.2M294.6 274.7l.1 .3M229.4 174.4l.3 1.4M245.2 215.3l.4 .5M239.7 203.4l.3 1.2M239.7 205.8l.5 .9M245.3 213.1l.5 .8M251.1 220.9l.6 .1M227.2 224.9l-.4 1.2M163.2 271.1l.4 .3M178.1 280.2l1.8 1.4M198.1 288l1.8 .1M213.5 295.4l.3 .3M196 270.8l1 2.1M229.6 248l2.1 .5M208.4 249.3l.7 .2M247.1 239.2l1.7 -.9M177.7 207.3l1.8 -.7M143.4 127.5l.1 .7M143.4 130.7l0 .4M146.1 143.2l0 .1M186.1 120.2l.2 -.5M162.9 152.4l1.5 -1.1M206.9 87.5l.3 -.9M236 50.7l.1 -.2M233.7 55.8l.3 -.3M178.5 145.6l2.2 -.5M185.3 138.6l1 -.2M236 110.4l1 -.8M277.2 83.1l.1 -.1M236.6 160.8l1.4 -2M266.1 120.4l.3 -.5M246.8 144.9l2.1 -1.1M280.2 112.8l1.2 -.4M284.9 114.8l1.6 -1.3M109.4 95.7l1.6 -.7M102.1 98.4l.6 -.9M138.8 69.6l.9 -.6M160.4 52.9l1.1 -1.5M157.2 53.6l1.1 -1.5M148.6 58.7l0 0M139.5 69.2l.4 -.4M135.9 72.3l.3 -.2M170.4 36.8l.2 -.2M187.6 29.6l.8 -.5M171.2 36.8l.2 -.1M20.8 223.8l1.9 .9M37.1 235l1.3 1M83.2 268.1l1.6 1.7M84 268l.1 .1M122.1 301.6l.6 .8M75 213.1l1.4 .6M68.4 205.1l.8 .4M102.1 222.7l1.7 .6M125.9 232.1l2.2 .7M123.6 230.2l.8 .4M120.1 231.2l.3 .1" stroke="#d040e8" stroke-width="2.4" opacity=".8"/>
<path d="M136.7 17.2l-.2 .7M143.3 13.5l-.5 .6M148.9 14.6l-1.8 1.4M161.4 16.3l1.7 -.4M179.7 25.8l2.1 -1.3M204.8 17.5l-.9 1.4M220 19.1l.2 1.7M241.2 14.6l.4 .3M257.2 17.5l.3 -.2M254.8 14l.5 -.2M249 26l1.1 -1.2M259.3 26.4l2.2 -.9M273.5 15.8l-.7 1.1M275.1 12.3l-.2 .7M278.1 18.1l2.2 -.7M280.7 25.8l.8 -.6M298.6 16.7l.3 .4M301.3 19.8l1.6 -.7M308.1 18.6l1 1.2M105.4 28.5l-.6 2.3M122.6 40.8l.5 .4M122.6 30l.6 -.6M116.7 37.7l1.9 1M138.7 27.8l.2 1M131.5 34.3l2.1 1.1M148.2 40.7l.9 .2M188.2 28.5l.1 .7M210.5 36.3l1.3 -1.5M217 40.2l1.3 .8M227.2 39.6l2.1 .3M247 27.6l1 -1.6M240.6 30.8l-.8 .9M236.2 29.5l-.2 .1M253.2 38.5l1.8 -.6M276.7 38.4l-.1 .3M276.8 30.5l1.6 .5M278 35l1.5 .9M273.4 28.6l.2 .2M270.9 41.5l2.1 .2M264.5 29.8l1.2 1.9M279.8 42.6l-.5 1.7M282.2 29.6l1.1 2.1M297.2 36.2l1.7 1.1M27.9 47.6l1.4 1.6M24 52.3l1 .3M38.2 53l-1.8 1.1M56.3 45.4l-.1 .1M80.7 56.5l0 .1M88.2 43.7l.4 -.2M110.7 51.8l-.4 .4M115.2 43l2.2 -.8M138.1 50.1l-.7 1.1M144.2 54.9l1.2 .4M166.4 47.4l1.9 -1.2M159.2 53.2l-.5 1.4M175.8 51.1l.7 1.8M180.2 43.6l-.1 1.4M179.6 53.3l0 .1M188.5 48.2l0 .2M200.8 46l-.3 .7M194.1 53.2l-.2 1.1M210.3 47.6l.3 1.5M227.3 43l0 1.5M245.5 50.7l.3 .2M238.4 54.1l.9 .3M247.9 48.7l1.3 1.3M241.1 44l1.4 1.3M251.8 52l.5 .5M260.5 45l.7 .2M260.9 53.3l.4 .3M257.9 50.1l.3 .2M249.4 51.8l1.1 .6M255.7 54.4l1.9 .7M265.3 54.2l-.5 1.7M270.2 41.5l-1.9 1.1M282.7 56.1l1.1 1.8M285 53.6l.4 -.3M295.9 52.3l.6 -.2M19.3 70.7l.3 1M35.3 71.3l.9 .5M49.2 71.7l1 -.2M70.3 70.4l0 .2M96.1 68.5l-.3 2.1M104.8 59.2l.1 .7M118.4 68.2l.3 -.1M123.5 62.9l2.3 -.6M117.5 62.2l0 0M141.9 65l0 .7M167.2 57l.7 -.7M167.4 67.4l1.2 -1.9M160 66.9l1.2 -1.1M176.3 64l.4 1.5M187.6 64.8l1.4 -.2M195 65l0 0M188.3 57.4l.7 .9M196.9 61.7l.7 .6M200.9 70.5l1.3 .3M195.6 63.5l0 .1M196.7 58.4l.5 .1M204 69.5l.4 1.3M214 63.5l-.1 .6M225.8 58l1.6 1M218.6 60.3l1.8 1M234.4 69.4l1.2 -1.3M244.2 58.6l2.1 -1M255.2 68.2l1.2 .5M251.7 62.7l1.3 .5M265.9 69.9l-.2 .1M280.3 64.5l1.2 -1.1M291.8 61.6l-1.4 2.1M290.6 66.4l-.8 .5M299.5 58.2l-.2 .7M302.6 61.1l.1 1.9M295.6 71.3l-.1 .3M38.8 78.2l1 -1M40.8 73.2l1.6 -1.7M73.7 75.1l-.5 1.1M68.1 79.7l-1.9 1.5M155.2 81.8l-.5 .8M152.6 73.5l1.3 2M144.1 80.3l.8 1.3M146.3 79l0 0M164.4 73.9l.9 2.2M162.2 81.4l1.8 -.8M172.1 73.1l0 .1M182.8 84.5l-.8 1.2M174 72.7l-.4 .2M182.8 83.1l.3 -.4M194.4 74.5l-.6 .4M203.4 74.7l-.4 .2M214 83.1l-1.5 1.8M214 77.4l0 .3M216.2 83.3l-1.2 1.1M206.3 73.2l-.4 .6M229.5 82.7l.5 -.5M227.3 75l.2 -.2M233.7 73.3l.3 .9M276.6 72.9l1.1 1.8M272.7 76.3l-.2 .1M270.6 72.1l.4 .8M281.5 83.7l-.1 .3M280.3 81.3l-.6 2.4M307.4 76.5l.2 .3M297.6 74.5l1.9 1.1M11.1 94.3l.1 .4M15.9 101.5l-.3 1.8M28 97.7l.3 -.8M39 89.5l.1 0M91.5 92.8l1.2 1.5M101.9 100.8l.1 1.1M108.6 101.1l-.2 .9M103.8 93.5l.6 -.2M119 93.5l-1.1 .6M127.8 95.5l-.8 .5M137.5 93.4l.5 .6M157.5 93.9l-1.2 1.4M171 97.7l.1 0M181.3 89.6l.3 .7M185.7 92.3l1 -1M183.3 95.1l-.3 1.1M178.9 98l.5 .6M182.9 98.7l.7 1.7M177.7 95.2l.2 1.1M190.1 91.8l0 0M204.4 94.4l.5 .4M209.4 94.2l1.5 .2M225.3 91l1.4 -.8M223 99l1.5 1.8M242.4 89.5l-.3 1.1M244.9 87.6l-2 1.2M241.1 89.9l-.2 1M268.5 100.3l.9 -2.1M263.9 87.5l.6 .4M278.8 95.7l.9 -2M289.3 93.6l2.2 -1.1M299.5 100.7l-.2 2.1M302 88l.1 -.2M81.2 106l.2 .4M68.2 106.5l0 0M73 103.9l1 .4M86.4 106l0 0M108 113.3l.9 -.3M105.4 114.9l.8 -1.1M102.9 108.3l1.3 1.9M119.3 116.1l.8 .5M129.4 105l1.3 -1.8M177.8 110.4l0 .3M183.1 110.4l1.3 2.1M212.1 116l0 .5M213.6 114.7l.4 .6M272.5 111.7l-.2 1M263.4 104.1l-.5 1.2M274.8 114.3l-.1 .3M267.9 110.1l-1 .6M273.3 108.3l-.3 1.3M302.2 102.4l-.4 2M296.7 104.4l0 1.8M296.6 106l-.1 1.9M296.3 105.1l-.7 1M31.1 126.1l1 .6M45.9 128.9l-1.9 1.4M43.3 123.3l-.1 .4M62.6 124.4l-.4 .7M66.8 120.9l-1.7 1.6M62.3 122.3l1.8 1.5M71.7 130l-.5 2M73.1 129.5l-.2 .8M68.4 123.8l.5 2.1M162.5 128.1l1.1 -.3M207.4 119.7l.1 .6M290 127.3l1.4 .4M293.8 123.4l-.1 .4M303.4 129.9l.3 1M21.6 143.1l1.2 .7M28.2 137.8l-1.6 1.8M33.8 142l-1 1.3M48.6 145l1.7 -1.6M93.4 136.8l.8 .4M101.5 143l1.9 .9M117.1 144.3l.3 -.1M152.4 137.4l-.1 .2M171 137.2l-.4 1.3M166.9 137.8l.2 .2M180.3 137.3l1.2 -.5M178.8 144.2l.1 -.1M184.7 136.6l1.7 -.5M180.6 144.3l.9 -1.8M204.8 139.9l1.1 1M238.3 146.9l.7 .4M266.2 141.3l.2 .3M292.2 143.6l0 0M286.8 146.2l.3 .1M286.7 141.1l.7 .7M282 140.5l.4 .7M306 132.7l.7 -1.5M306.9 137.4l2.4 -.6M295.1 133.1l1 -1.7M299.5 137.1l-1.1 1.1M10 154.4l-.5 1.6M20.5 156.4l-.6 .4M36.6 150.5l-.6 1.6M28.1 161.6l2 -.9M42.4 157.4l2.2 .7M88.5 159l.5 .9M96.8 157.1l.2 .5M110.4 147.3l1.7 .6M129.8 153.3l.4 .1M130.2 154.7l.1 -.2M145.6 160.3l.4 -.3M167.5 154.3l-.4 .3M163.6 157.4l2.1 -.7M184.6 147.8l2.2 -.8M176.4 149.9l2 -.7M194 147.5l.2 2.1M195.1 155.5l.9 1.5M190.6 153.9l.7 -1.2M213 150.9l-.1 .1M214 150.9l1.8 -.5M225.9 147l.5 .7M266.5 155.3l1.1 2M285.3 153.2l.8 -.9M283.5 160.5l.1 -.1M292.2 158l-1.3 .9M304.5 147.4l0 1.1M18.3 167.8l.8 -1.8M37.8 176.2l.5 .6M97.1 170.7l.3 -.4M122.2 177.2l-1 1.6M131.5 172.6l.3 .5M136.3 161.9l.1 1.6M150.5 176.5l.8 .4M255.1 171.4l.3 .3M297.1 167.8l.7 .9M43.3 189.8l.7 2.1M77.8 183.1l-.2 1.6M88.8 189.6l-.4 .3M105.9 187.3l.7 -.3M109 182.4l2 -1.2M102.7 176.3l1.5 1.4M113.8 179.9l-1.2 .9M118.2 183.9l1.2 -.6M139.6 184.4l.6 1M138.3 183.4l1.9 .6M203.1 182l-.4 .8M271.2 191.2l-.5 1.7M286.7 182.4l.1 0M37.2 199l-1.7 .9M33.4 200.3l.7 -.5M39.5 197.1l.3 1.6M50.5 202.4l-.3 .5M57 203.1l0 .1M61.4 194.5l-.3 2M77.4 191.7l0 0M75.7 198.8l-.1 .9M78.8 207l-.6 1.4M83.5 206.4l.4 .2M107.9 193.3l.7 .5M105.3 193.3l.1 .2M101.6 192.3l.4 .3M117.3 202.1l-.1 .4M116.1 197.5l-1 2.2M128.2 193.1l.2 .3M132.7 197.4l.1 .4M138.3 203.5l1.3 1.9M202.2 203.1l1.4 .2M255.7 205.6l.6 -.3M272.3 202.7l-1.2 1.6M10.7 207.6l.6 .5M15.8 217.8l.1 .1M10.7 219.1l.5 .5M16 214.1l.5 -1.2M30.4 208.3l1.1 1.2M67.5 219.9l-.7 2.3M52.4 213.8l-.5 .6M53.4 217.5l-1 1.4M76.7 215.5l.5 -.5M92.6 211.2l.1 1.2M87.5 210.5l-1.2 1M99.6 216.4l-.4 .7M99 210.1l.5 1.3M99.6 220.5l1.2 1.4M102.7 211.6l.4 .5M108.3 215.8l-1.8 .8M102.6 220.1l.7 .1M113.1 209.9l.3 -.5M125.2 211.6l-.4 .4M124.1 211.4l-.1 .2M125.3 210l-.7 .6M131.1 211l0 .3M142.1 211.8l.9 1.8M147.6 211.3l.1 .2M149 216.6l-.4 .4M144.4 214.9l1.8 -.8M234.1 209.9l.8 -.6M261.6 214.9l0 1.7M272.4 219.8l.2 -.1M19.6 228.9l.9 -1.9M18.9 224.3l.7 .7M37.6 226.4l-.4 1.4M32.4 231.4l-1.4 1.1M38.2 227.2l.2 -.2M34.7 225.9l-1.4 .9M48 233.8l1.6 -1.3M50.9 236.9l.6 -.6M58.7 222l-.2 .2M71.4 228.8l-.3 .1M69.4 230.8l.3 .1M72.6 226.4l.6 .2M83.2 229.8l2.2 .5M89.8 228.8l-.1 .5M89 228.4l.2 .5M88.9 222.8l1.4 1.5M93.8 229.4l.1 .3M107.7 228.1l.4 -.1M115.7 224.5l1.5 -1.5M131 232.7l1.8 .6M241.7 237.4l-.1 .2M252.4 231.2l.2 1.9M292.2 225.9l-.1 .1M298.8 236.9l.8 -.8M19.8 239.1l.6 -.6M19.8 250.3l.2 .3M23.7 250.6l.7 .6M36.1 243.8l2.1 -1.1M50.2 243.6l1.4 -1.5M63.6 249l.2 .3M66 239.6l.3 .2M83.1 243.4l1.1 .6M78.9 239.3l-.7 .5M70.4 242.9l1.2 -.9M108 243.8l-.2 .1M111 250.9l-1.2 2M103.7 242.3l-1 1.4M102.1 245.8l-.1 .8M114 241.9l1.5 -1M127.7 248.1l0 1M113 238.3l-.5 1.6M118 238.9l1.4 -.7M126.9 245.1l.2 0M128.7 244.7l-1.6 1M138.3 243.7l-.7 1.7M147.9 248.3l1.7 -1.8M240.1 240.6l.2 .3M281.8 238.7l1.4 1M19.4 259l.2 -.1M29.5 252.8l-.5 2.2M38.8 265.5l1.2 .2M44.2 256.6l2.1 1.1M61.9 265.6l.1 .9M75.5 255.5l1 1.4M72.6 258.6l-.1 .8M71.3 261.1l1 1.2M87.8 265.1l.8 -1.4M85.3 253.4l1.1 -.5M101 257.2l1.7 1M115.3 252.5l0 0M114.5 252.5l1 1.6M115.5 259.2l1.9 -1.5M126.1 263.4l0 .3M134.3 255.3l.4 1.6M142.9 255.8l.7 2.2M157.6 258.5l2.2 .6M166.1 254l1.1 1.5M186.1 266.1l-.6 .8M38.3 278l.4 .4M46.5 279l-1 .4M57.4 268.4l-.6 2.2M61 274.1l-1.2 1.8M67.9 280.4l-1.2 .9M94.3 272.6l-.2 1M101.9 272.6l.6 -.8M112.9 274.7l1.4 .8M107.5 271.5l.1 0M119.1 272.9l.3 -.4M137.6 268.2l.5 1M142 271.2l.1 1.6M130.5 278.2l.1 1.1M139.6 273.9l.2 .8M143.1 274.1l-1.8 1.8M154.2 272.9l-.2 1M184.5 275.6l1.5 -1M292.8 277.9l.2 .1M304.8 274.8l0 0M17.9 293.6l-.1 .3M16.1 294.1l-.1 .5M30 288.6l-1.8 1M38.7 290.8l-1.2 1.8M39.1 282.7l-1.1 1.4M38.7 295.3l.9 1M44.3 288.9l.9 .2M50.9 288.7l1.4 -1.8M55.4 286l1.5 -1.2M79.5 282.9l.4 -.9M111.6 286.4l1 2.2M107.6 289.2l1.5 -1.6M117 295.3l-1 .9M120.1 291.5l-.5 .3M131 292.5l0 0M153.3 282l1.5 -.4M209 286.2l-.6 1.6M225.3 290.3l.2 .2M16 303.2l.5 .4M32.9 305.9l1.3 .3M33.8 302.7l-.2 .1M37.7 310.4l-.2 .2M79 310.7l1.3 1.6M81.7 302.3l.4 .4M94.6 311.4l-.1 .3M96.6 308.5l-.1 .1M87.6 305.8l.4 .6M112.5 309.5l.2 .5M101.4 303.3l.2 .3M117 301.8l.4 1.4M119.5 310.7l-.2 1M119.2 309.7l-.6 2.3M116.4 300.9l.5 .8M121.8 298.3l.6 1.9M141.7 308l2 1.2M127.9 310l.7 .4M140.1 306.6l1.2 .8M155.6 301.2l.1 -.1M166.1 307l-.1 .9M165.7 303.3l.1 0M186.2 304.1l-1.9 1.2M189.7 310.8l-.5 .6M199.4 306.9l-.3 .3M205.3 300.5l1.2 -1M243.6 309.9l.9 1.9M22.5 138.9l2.1 -1.2M43.6 132l1.7 -1M46.4 130.8l1.9 -.3M31 134.5l2.4 -.3M60 125.5l.6 -.2M75.1 115.3l1.2 -.3M103.1 100.4l1.9 -1.5M110.9 94.1l.8 -.6M129.9 89.8l1.7 -.4M159.9 80l1 -.5M174 73l1.7 -1.4M73.9 115.9l1.6 -.3M79.5 112.4l.8 0M272.1 180.8l0 .4M276 197.9l.4 1M277.7 214.3l.1 1.9M276.8 204.1l0 .2M280.9 272.3l-.1 1.2M290 216.3l.2 1.2M289.3 235.4l-.5 2M291.2 261.9l.4 1.2M295.2 275.4l.1 .3M228.1 174.8l.3 1.4M244.6 216.7l.4 .5M239.2 202.4l.3 1.2M238.3 205.4l.5 .9M244.3 211.7l.5 .8M250 220.7l.6 .1M228.9 225.4l-.4 1.2M164.1 272.5l.4 .3M178.3 281.8l1.8 1.4M198.8 288.6l1.8 .1M214.1 294.2l.3 .3M195.1 269.6l1 2.1M228.3 249.2l2.1 .5M208.3 247.9l.7 .2M246.1 239.5l1.7 -.9M176.4 207.3l1.8 -.7M143.4 128.7l.1 .7M143.7 129.4l0 .4M145.1 142.8l0 .1M185.8 121.3l.2 -.5M162.1 153.3l1.5 -1.1M207.7 88.6l.3 -.9M234.7 51.6l.1 -.2M233.5 54.2l.3 -.3M178.6 144.6l2.2 -.5M186.1 138.4l1 -.2M237.1 110.8l1 -.8M278.1 84.2l.1 -.1M236 159.7l1.4 -2M267.2 121.3l.3 -.5M247.8 144.6l2.1 -1.1M279.6 113.8l1.2 -.4M283.9 114.2l1.6 -1.3M108 96l1.6 -.7M103.3 98.3l.6 -.9M137.6 68.6l.9 -.6M159.9 51.6l1.1 -1.5M156.3 55.1l1.1 -1.5M147.9 58.3l0 0M140.5 68.8l.4 -.4M136.9 73l.3 -.2M169.7 38.1l.2 -.2M188.8 30.1l.8 -.5M170.8 38.1l.2 -.1M21.1 225.3l1.9 .9M35.4 234.9l1.3 1M82 268.8l1.6 1.7M85.2 268.6l.1 .1M121.7 300.6l.6 .8M74.1 212.8l1.4 .6M66.9 205.5l.8 .4M103.3 222.4l1.7 .6M126.7 231.4l2.2 .7M123 231.4l.8 .4M121.3 230l.3 .1" stroke="#5048ff" stroke-width="2.4" opacity=".7"/>
<path d="M18 19.2l-1.6 1.2M158 17.8l.1 1.3M183.6 15.4l2.8 -1.4M194.4 21.6l.4 -.7M222.2 24l.2 -.2M259.8 18.8l1.3 -1.4M273 18.5l-.5 .3M266.6 27.7l-.3 .6M274.8 23.7l0 1.9M282.1 12.9l1.6 -.7M283.3 18.2l2.6 -2.2M285.4 23.1l3.6 -1.2M299.2 20.5l-.9 2.3M61.4 34.1l1.5 -1.8M96.7 38.7l-.3 3.5M125 31.2l.7 .6M210 32.4l3.4 -.9M242.8 34.9l-.1 .5M264.7 36.3l1.3 .7M23.6 50.4l2.6 2.5M48.8 46.6l-1.9 2M80.1 51.1l1.7 -1.4M98.6 54.5l-3.3 1.7M135.2 56l1.5 2.1M163.1 48.2l-1.9 1.7M197 45.2l-1 1.5M190.1 44.8l-1 1M230.8 45.6l.3 3M224.4 51.3l2.2 2.5M221.3 46.5l-.3 2.4M235.9 48.1l.7 2.3M291.8 43.4l1.5 1.4M280.9 44.1l1 1.5M289.5 52.2l.2 .3M15.1 59.1l.1 .3M24.1 68.5l3.2 .7M42.5 61.4l1.2 -.5M88.9 61.4l-.3 .6M90.3 62.7l.3 2.8M99.5 67.6l.2 .4M153.4 68.8l1.3 1.8M145.3 67.6l.5 -.7M182.5 66.6l-.4 3.4M186.3 67.1l2.1 2.9M211.4 63.4l.7 1M244.3 61.6l2.8 -1.3M275 61.7l2 -2.9M143.8 75.7l-.3 1M144.8 72.8l.6 1.4M211.2 79.9l2.2 2.6M224.5 85.9l1.6 -3.3M234.3 82.1l-.3 .6M272.4 80.8l1.4 2.5M269.4 81.6l1.6 3.2M33.3 96l2.7 -1.7M121.7 102.1l-.3 .9M131.4 96.4l.6 1M161.5 99.7l.1 1.9M161.4 99.2l.5 .8M173 93.8l.1 .1M187.9 98.8l.4 1.4M201.1 97.6l1.8 3.2M188.9 94.3l-.6 1.1M192.7 93.1l.8 -.9M213.5 90.2l.5 -.3M228.6 99.1l.8 -.4M245.1 88.1l.4 1.3M303.6 98.4l.8 -1.2M96.2 113l-.5 1.6M90.5 113.6l-.3 3.3M89.1 108.1l.4 .7M102.3 115.4l-.8 .4M109.7 107.4l.7 -1M133.5 107.6l2.4 -1.5M188.8 101.8l-.3 1.4M197.8 114.3l-.1 2.5M192.5 108.9l1.5 2.5M216.5 106.7l0 1.4M215 112.2l1.5 2.4M232.4 105.9l.5 -.5M227 104l2.5 -1.7M269.5 115.6l2 -1.2M300.4 103.7l-1.9 3.2M66.4 121l-2 1.1M57.4 127.4l3.1 -1.8M53.9 130.5l.4 -.2M55.2 122.2l-.2 .2M193.5 120.6l1.5 -.8M189.1 118.7l1.1 -2.4M210.6 129.3l-.7 3.7M266.3 122.1l.5 -.3M300.6 119.8l0 .1M21 140.9l.8 .8M29.9 131.4l0 0M55.8 135.6l2.6 -2.6M60.9 139.3l-.8 2.3M137.8 137.5l1 -1.4M161.5 133.6l.6 .2M180.9 143.8l.6 -.8M193 140l-.4 1.4M193.7 142.1l.4 1.4M190.9 146.7l1.2 2.8M195.6 135.8l.4 1.1M188.6 140.9l.6 1.5M222.5 146.6l2 1.8M252.5 146.5l0 2.5M286.8 145.6l1.4 1.5M286.1 138l1.8 1.3M305.4 134.8l-.6 1.3M294.6 133.1l1.5 -3M12.6 157.4l-.6 1.2M33.7 148.9l-.3 .2M41.6 149.7l.2 .3M71.9 158.8l-.1 .3M180.8 160.5l-1.4 2.7M195.1 147.9l-.1 .4M218.4 149.3l.8 -1.4M229.1 148.8l1.9 -1.9M221.7 158l1.2 -.5M248.2 160.5l1.4 -2.6M273.1 147.8l-.2 1.6M279.3 155.5l2.8 1.5M289.7 158.6l.9 2.1M11.4 163.6l-.1 .5M61.6 175.7l-3.3 1.7M152.8 162.8l1.2 -1.1M149.8 176.4l-.8 .4M154 174.5l2.6 -2.1M206.4 165.9l0 1.5M210.1 176.8l1 1.8M240.8 169.7l2 -1.6M238.4 166.2l1.3 -1.2M277.1 167l.3 -.2M96.7 191.3l-1.1 .9M103.6 182.1l.1 -.1M104.8 186.5l.8 -1.1M175.4 188.4l-.1 .2M232.8 183.8l2.4 .4M227.5 182.8l3.1 .4M256.3 177.7l-.3 2.8M266.8 187.7l1.2 .4M292.6 182.1l0 2.1M293.5 180.6l.7 1.6M18.9 193.5l-1.2 2.2M10.3 196.1l0 .1M91.7 198.8l2.9 -1.1M151.8 200.9l1.3 -.3M171.6 201.3l.9 .2M218.2 204.3l0 1.1M279.2 196.5l1.4 .7M297.6 204.7l0 .1M26.7 208.1l2.1 -2M45.9 216.2l-.1 .2M56 220.7l-1.5 .5M62.2 214.1l-.9 2.2M68.1 217.8l-1 .6M104.3 222.3l.5 -1.1M101.8 211.7l.5 .9M120.4 213.2l-.5 2.6M157.2 217.1l-2.8 1.7M205.5 210.7l.8 -1.1M292 217.9l.7 .8M20.7 230.9l1 -.7M37.4 224.7l-.2 .6M50.9 224.5l2.6 -2.7M62.4 222l.5 2.2M57.4 235.1l-1.3 1.8M80.4 229.5l1.1 2.1M109.9 230.5l1.1 1.4M124 235.2l-.2 .4M153 231.7l-2 2.7M220.3 234.9l-.3 1.9M232.8 222.9l-2.3 1.9M244.3 226.3l2.3 -1.5M291.5 227l-2.4 1.7M280.5 225.1l-1.5 1.6M23.7 237.8l-1.9 1.8M43.8 250.1l1.5 -.8M45.8 237l.7 -.4M95.1 238.8l-.4 1.6M95.9 246.8l1.9 -1.5M104 244l1.1 -1M113.2 242.3l-.3 2.5M133.6 249l.8 .3M133 246.4l-1.6 2.2M158.3 239l-.1 .5M146.8 240l.9 2.3M170.9 243.2l2.5 -1M231.9 237.3l-.6 1.4M264.2 240.1l1.9 -2.6M107.7 266.5l-1.8 2.2M125.8 264.6l-.7 3.4M121.8 258.4l-.3 .3M135.2 265.9l.6 1.7M133.2 253.3l0 .1M156.1 262.9l.1 0M266.4 266.4l1.7 1.2M266.7 260.2l-1.8 1.3M282.7 263.5l.2 1.4M8.1 268.5l.4 -.9M9.9 276.9l2.8 -2M27.1 275l-.6 1.3M67.2 267.3l2.7 2.2M53.7 271.5l-2 2.3M74.9 273.8l-1.3 .5M84.2 279l-1.1 2.5M97.3 270.1l-.8 2.8M106.4 277.6l.4 .1M101.7 277.9l2.5 1.7M134.2 277.5l.1 1.5M132 276l-1 3.5M200.9 277.5l-.4 1M218.3 270.2l1.3 .8M270.2 273.8l-.3 .7M281.7 276.9l.2 -.1M20.9 293.5l-1.4 2.9M46.9 284.4l.1 .1M95.7 283.1l2.5 .9M120.2 294.4l-.2 1M118.9 295.3l-.2 .8M141.7 285.2l2.1 1.3M129.9 290.7l.2 .1M145.5 292.4l-1.1 1.3M194.5 284.5l.4 .3M194.9 294l1.1 1.5M29.5 298.1l3.6 -.9M44.3 299.8l-.6 3.8M40.4 311.3l-1.1 2.7M77.8 312.1l2.6 1M76.8 306.8l1.3 2.4M89.5 297.1l.6 1.2M104.1 305.8l1.1 1.3M121.1 311.1l1 .5M125.7 309.1l0 .2M157.2 302.8l.2 -.3M175.7 302.2l-1.1 1M230.8 298.7l.8 1.1M25.5 140l1.1 -1.1M23.5 144.7l1.2 -.8M20.4 145.7l.7 -.6M31.7 141l.2 -.1M18.3 149.2l2.1 -1.8M35.8 132.5l1.1 -.6M50.1 131.5l.9 -.6M31.8 133.9l2.6 -.3M39.6 134.7l2.3 -1.7M47.1 128.2l3.3 -1.6M43.2 131.4l.3 0M40.1 132.8l.1 0M34.9 136l1.3 -.5M63.7 123.5l.2 -.2M59.9 125.9l2.3 -1.6M63.9 120.4l.3 -.1M62.7 122.1l2.8 -2.5M62 124l.3 -.2M92.7 107.4l.2 0M95.1 106l1.1 -1M82.5 110l1.9 -1.1M88.8 104.9l2.7 -.9M94 105.5l2.6 -2.1M86.7 110l1.6 -.7M99.4 104.6l2 -1.7M109 94.1l1.5 -1.2M108.5 90.9l2.7 -.6M100.9 101l.3 -.1M115.2 93.8l2.4 -1.1M121.1 91.4l1.4 -.4M125 92.3l3 -2M156.9 79.5l3.6 -.2M142.1 83.2l3.5 -.4M153.7 80.4l1 -.4M151.4 82l1.9 -.8M141.5 84l2.6 -1.4M167.9 75.1l1 -.4M169.4 73.2l1.9 -.5M168.8 73.7l.2 -.2M36.7 141.2l2.7 -2.1M47.5 132l2.1 -2.3M59.9 121.3l2.6 -2.7M276.2 201.7l.6 1.5M274.9 187.9l1.2 3.2M275.4 194.8l.3 .9M274.7 205.1l-.5 3.7M277.9 213.4l.4 .8M278.8 253.3l.4 2.2M281.1 283.5l.7 2.7M280.1 273.2l-.3 1.9M289.6 206.5l.3 1.1M289.9 225.8l-1 3.6M289.8 238.7l-.3 3.5M288.6 228.3l-.6 1.8M228.3 165.7l.9 2.9M240.3 206.9l.4 2.5M245.5 218.2l.4 1M255.3 181.8l-.2 .7M223.6 258.8l-.3 1.2M159.5 268.7l2.6 .5M158.3 266.1l.5 .1M159.1 269.9l.2 .1M154.4 267.8l2.8 2.6M158.1 269.3l2.3 1.7M185.5 281.9l.1 .1M179.2 283.8l.4 .5M183.8 283.9l2.1 1.2M178.9 272.7l.1 0M190.4 283.4l1.8 2M186.7 284.2l.8 .5M185.4 281.3l.7 .7M202.9 288.7l1 .3M194.3 286.2l2 .7M198.3 287l0 0M201.6 292.5l.2 0M210 289l1.3 1M207.3 293.2l2 2.5M211.5 293.9l1 .7M226.4 304.7l.6 .9M227.4 302.2l2.7 2.5M222.7 302.1l0 .1M261.4 232.9l.2 -.1M166.4 189.8l1.7 -1.4M173.9 183.7l1.9 -.9M173.7 207.6l1.4 -.7M139 117.1l-.3 2.5M142.9 139.7l1 3.5M162.1 153.4l.7 -.6M180.5 129.5l1.9 -3M186.8 121.3l.3 -.8M183.9 131.5l.7 -1.1M162.1 152.8l2.1 -2.5M197.4 106.9l.7 -.8M207.6 86.8l.8 -.9M199.4 102.3l.5 -1.5M214.7 83.9l.2 -.5M198.4 110.3l.4 -1.1M206.3 95.9l.6 -.8M197.3 106.4l1.1 -1M222.9 71.7l1 -1.6M222.1 68.4l.6 -1.3M217.9 75.5l.2 -.3M217.2 76.7l0 0M233.9 49.7l.9 -1.9M197.8 133.9l1.9 -.5M194.1 133.3l2.2 -.8M182.9 142l1.6 -.9M178.2 146l1.6 -1.4M239.5 105.2l.3 -.4M233.4 114.8l3.1 -1.5M231.7 111.8l3 -1M235.7 111.8l1.2 -.3M217.7 122.6l1.9 -.9M241.9 109.4l.3 -.2M289.4 72.4l1.3 -.5M299.6 68.4l1.6 -1.9M261.3 95.5l1.1 -.5M257.4 97.9l1.9 -2.3M272.2 85.6l2.3 -1.4M295.1 67.4l2.3 -.9M282.8 76.7l.1 -.1M278 81l.3 -.3M299.4 67.8l1.9 -.9M230.4 175.2l.8 -1.2M220.8 184.2l1 -2.8M248.3 145.2l1.3 -1.5M265 127.1l.4 -.5M249.1 144.5l1.5 -1.3M247.5 146.5l.5 -.6M265.5 129.4l1.6 -1.3M272.7 120.7l1 -.5M299.2 105.5l2.1 -2.3M283.1 113.6l3.2 -1.6M300.5 99.5l1.6 -.9M301.7 104.4l1.4 -1.3M102.7 99.6l1.7 -1.3M123 82.4l1.1 -.9M112.2 90.6l1.5 -1.8M178.2 34.8l.2 -.2M30 234.8l.4 .1M33.9 238.6l.8 .7M28.3 229.8l2.2 1.5M28.1 232.4l1.8 1.2M31.5 229.8l2.2 .5M40.7 239.2l.4 .3M34.3 231.1l1.4 .4M14.6 221.6l.4 .2M14.5 223.3l3 1.6M80.1 265.9l2 .9M67.5 254l2.1 1.4M77.1 262.8l2.2 1.2M54.2 247.9l2.5 1.5M54.4 246.7l.6 .7M74 259.2l.3 .2M85.8 267.5l.5 .3M51.2 241.4l1 .4M97.7 278.1l.2 .2M91.7 272.5l1.2 .7M110.2 289.5l2.3 2.6M101.8 277.5l.9 .8M96.6 276.5l.7 .8M97.7 276.5l1.6 1.7M92.7 273l0 0M61 204.6l.4 .2M97.4 222.7l1.9 .5M91.2 216.6l2.6 1.9M91.9 217.3l.1 0M72.7 210.7l2.5 .3M70.4 207.2l.4 0M55.7 201.8l1.7 1.4M77.1 212l1.4 1.1M122.2 229.9l1.6 .2M103.5 222.7l.1 .1M131.1 233.5l.2 .1M108.1 227.2l.9 .2M109.8 223.7l1.9 1M130.3 232l1.7 .9M154 250.3l1.6 1.6M148.9 242.7l1.4 1.4M145.8 242.3l.4 .4M155.4 253.8l1.2 1.8M150.8 248.1l2.2 2.4M144.9 151.8l.2 -.9M140.4 161.8l0 -.1M137.1 167.2l.3 -.5M141.1 155.3l1.2 -2M145 142.8l.7 -1.1M137.5 165.2l.7 -3M152.1 136.4l.3 -1.6M138.3 170l1.3 -1.5M151.6 133.8l.4 -.7M168.4 107.8l1.4 -2.5M156.2 124.6l1.2 -1.2M162.5 113.3l.4 -.8M173 109.7l1.7 -3.2M163.7 114.3l3 -2.2M168.4 114.9l.2 -.5M152.7 127.7l1.3 -2.7M28.3 38.6l-.5 .5M36.1 53.3l0 .2M43.3 46.7l1.3 -.9M48.8 70.5l2.3 2.7M73.5 79.2l.6 .8M86 69l.1 3.8M96.6 62.9l3.2 1.9M106.5 63.2l1.1 -.8M115.9 70.3l.1 .2M121.6 40l-.3 1.8M139.1 59.7l.2 .2M148.2 54.3l1.1 -2.7M98.6 95.5l1.6 -2.2M19.6 78.2l-2.9 1.2M24.4 63.8l.5 2.3M51.6 93.3l-.5 .9M29.4 95.6l.4 .7M15 148.9l.6 3.1M26 156.6l3.2 -1.5M30.3 137l.3 2.2M36.5 143.9l-1.2 2.6M51.5 130.6l.1 .7M60.3 121.8l1.9 -1.5M74 113l2.3 2.8M89.4 108.2l.4 .3M117 93.2l.8 .5M135.5 82.1l0 0M148.4 83.7l.7 2.8M142.2 138.4l-.1 1.3M146.3 146.3l2.8 -2.3M127.3 135.2l.7 -.8M139.7 119.8l-.7 1.6M13.2 165.1l0 0M81.9 180.7l.1 -.1M95.8 176.7l2 -.9M133.1 276.3l-1.2 2.3M130.9 274.4l-2.2 2.1M105.7 247.9l.2 -.1M120.4 257.6l2.2 -1.9M97 223.8l1.4 2.2M70.9 226.4l0 2.1M34.1 195.9l3.1 -.6M14.6 200.8l.5 .5M22.5 231.7l-2.3 1.6M40.2 236.6l-.9 1.1M53.7 260l-.8 .9M80.5 254.6l.5 1.3M43.7 289l-.2 .2M55.6 280.3l2.6 -.9M83.1 295.8l.7 -.3M110.4 300.4l2.6 1.1M128.2 300.2l.1 -.2M284.7 232.4l1.8 -1.1M219.3 170.9l-2.6 .9M238.6 163.2l.1 3.2M258.6 169.2l.7 2.5M190.7 197.6l.8 -.8M237.3 199.5l-.3 .5M177.1 282.2l-1.6 1.9M162 297.7l3.2 -1.1M213.8 295.2l.7 -.8M165.2 268.1l-.9 3.5M193.7 285.9l-.2 .7M208.1 288.7l1.8 .2M221 302.7l.7 3.7M211.6 78.3l.9 -.6M274.5 82.9l2 -1.1M296.7 101.3l1.5 2M229 64l-2.3 1.5M193.6 53.7l.5 -.5M181.9 99.6l1 -.5M168.5 86.9l.6 -.6M262.3 56.3l1.3 .6M248.8 28.8l2.4 -2.4M278.1 21.4l1.2 -1.9M290.4 18.8l-2 3M220.3 45.5l-1.5 2.2M207.8 115.5l-1.7 1.2M284.4 151.5l1.8 -1.1M296.6 134.8l1.2 1.5M177.3 66l.9 -2.4M198.5 83.6l.7 1.3M243.4 62.5l.3 -.1M161.2 51.8l-.3 .6M259.9 37.4l.1 -.1" stroke="#d040e8" stroke-width="3.4" opacity=".8"/>
<path d="M17 19.2l-1.6 1.2M156.7 18.4l.1 1.3M184.8 16l2.8 -1.4M193.2 20.8l.4 -.7M220.6 24.1l.2 -.2M260.6 19.7l1.3 -1.4M273.7 19.9l-.5 .3M266.8 26.2l-.3 .6M273.5 24l0 1.9M282.3 11.2l1.6 -.7M281.9 18.8l2.6 -2.2M286.2 22.6l3.6 -1.2M299.5 19.6l-.9 2.3M60 34.7l1.5 -1.8M95.6 38.2l-.3 3.5M124.5 30.3l.7 .6M209.1 32.3l3.4 -.9M242.2 36.1l-.1 .5M266.2 36.8l1.3 .7M23.5 49.6l2.6 2.5M47.6 45.3l-1.9 2M80 49.4l1.7 -1.4M99.8 53.7l-3.3 1.7M134.9 56.9l1.5 2.1M164.1 49l-1.9 1.7M196.6 44.2l-1 1.5M191 44.1l-1 1M230.9 46.7l.3 3M223.1 52l2.2 2.5M219.9 46.3l-.3 2.4M236.7 49.6l.7 2.3M291.4 41.9l1.5 1.4M280 43.4l1 1.5M288.6 52l.2 .3M14.3 60.7l.1 .3M23.4 69.1l3.2 .7M44.1 62.1l1.2 -.5M89.7 62.5l-.3 .6M90.3 61.7l.3 2.8M98.9 69l.2 .4M153.2 67.1l1.3 1.8M144.9 66.8l.5 -.7M181.3 65.8l-.4 3.4M184.7 66.8l2.1 2.9M212.9 63.2l.7 1M245.7 61l2.8 -1.3M274.8 62.5l2 -2.9M144.3 75l-.3 1M146 72.9l.6 1.4M210.4 79.1l2.2 2.6M225.3 86.7l1.6 -3.3M235.7 82l-.3 .6M271.5 81.7l1.4 2.5M268.5 82.1l1.6 3.2M32.5 95.8l2.7 -1.7M122.7 101.9l-.3 .9M132 97.7l.6 1M161.9 98.8l.1 1.9M160.5 99.6l.5 .8M171.7 94.9l.1 .1M187 100.3l.4 1.4M199.9 98.6l1.8 3.2M187.5 93.2l-.6 1.1M193.9 92.5l.8 -.9M212.6 89.6l.5 -.3M229.4 98.7l.8 -.4M245.7 89.7l.4 1.3M302.6 98.9l.8 -1.2M95.2 112.4l-.5 1.6M90.2 115.2l-.3 3.3M89.9 109l.4 .7M102.6 116.5l-.8 .4M110.6 107.2l.7 -1M135 108l2.4 -1.5M188.1 102.7l-.3 1.4M198.1 112.7l-.1 2.5M190.8 109.2l1.5 2.5M216.4 105.8l0 1.4M214.4 113.6l1.5 2.4M231.2 107l.5 -.5M227.5 103.4l2.5 -1.7M270 114.7l2 -1.2M301.3 104.9l-1.9 3.2M67.7 121.5l-2 1.1M58.4 127.1l3.1 -1.8M53.2 131.6l.4 -.2M56 122l-.2 .2M195.2 119.9l1.5 -.8M190.1 118.4l1.1 -2.4M209.6 129.1l-.7 3.7M266.4 120.7l.5 -.3M299.4 119l0 .1M20.4 139.5l.8 .8M30.9 132.6l0 0M56.6 136.1l2.6 -2.6M59.7 139.7l-.8 2.3M137 139l1 -1.4M160 133l.6 .2M182.3 144.4l.6 -.8M192.1 138.7l-.4 1.4M193 143.1l.4 1.4M191 145.7l1.2 2.8M195.4 134.9l.4 1.1M188.1 140.2l.6 1.5M221.3 146.4l2 1.8M253 145.6l0 2.5M286.1 146.7l1.4 1.5M286.5 137.2l1.8 1.3M305.7 133.4l-.6 1.3M295.9 133.3l1.5 -3M13.8 157.6l-.6 1.2M32.7 148.3l-.3 .2M41.4 148.9l.2 .3M71.3 160.2l-.1 .3M179.1 160.4l-1.4 2.7M193.6 147.6l-.1 .4M217.5 149.3l.8 -1.4M230.2 149.7l1.9 -1.9M223.1 158.9l1.2 -.5M247.3 161.5l1.4 -2.6M273.4 148.9l-.2 1.6M279.6 153.8l2.8 1.5M289.5 157.3l.9 2.1M10.2 164.3l-.1 .5M61.2 174.9l-3.3 1.7M151.8 162.6l1.2 -1.1M150.3 175l-.8 .4M154.1 173l2.6 -2.1M206.8 167.1l0 1.5M211.6 176.8l1 1.8M241.1 171l2 -1.6M237.8 167.5l1.3 -1.2M276.9 168.3l.3 -.2M95.9 191.7l-1.1 .9M104 183.8l.1 -.1M104.9 185.6l.8 -1.1M174.4 189.3l-.1 .2M231.6 184.8l2.4 .4M228.8 181.9l3.1 .4M256.1 178.9l-.3 2.8M266.1 187.3l1.2 .4M291.6 181.5l0 2.1M294.9 180.1l.7 1.6M19.5 194.2l-1.2 2.2M8.8 196.1l0 .1M93.3 199.6l2.9 -1.1M150.9 201.7l1.3 -.3M171.8 203l.9 .2M217 205.5l0 1.1M280.5 195.7l1.4 .7M296.9 203.3l0 .1M25.9 208.7l2.1 -2M47 216l-.1 .2M57 220.3l-1.5 .5M62.4 215.5l-.9 2.2M66.5 218.3l-1 .6M105.6 221.3l.5 -1.1M100.9 212.9l.5 .9M120.7 214.5l-.5 2.6M157.2 215.6l-2.8 1.7M207 211.4l.8 -1.1M291.3 217.5l.7 .8M20.5 232.6l1 -.7M37.3 223.7l-.2 .6M52.5 224.3l2.6 -2.7M61.7 222.5l.5 2.2M57.5 233.9l-1.3 1.8M80.2 228.5l1.1 2.1M109.7 232.1l1.1 1.4M125.3 236.1l-.2 .4M154.2 232.2l-2 2.7M219.2 235l-.3 1.9M231.3 222.2l-2.3 1.9M243.3 226.4l2.3 -1.5M292.3 225.7l-2.4 1.7M279.7 225l-1.5 1.6M24 236.4l-1.9 1.8M44.5 251l1.5 -.8M44.4 237.7l.7 -.4M94.5 238.1l-.4 1.6M97.5 246.1l1.9 -1.5M103.9 242.9l1.1 -1M112.9 243.8l-.3 2.5M132 249.5l.8 .3M132.8 245.1l-1.6 2.2M157.5 238.2l-.1 .5M147.7 239.8l.9 2.3M171.7 243.5l2.5 -1M231 237.1l-.6 1.4M264.7 241.1l1.9 -2.6M108.2 265.6l-1.8 2.2M125.2 263.4l-.7 3.4M121.8 257.4l-.3 .3M133.7 265.2l.6 1.7M131.5 254l0 .1M156 264l.1 0M267.2 266.8l1.7 1.2M265.3 260.5l-1.8 1.3M283.6 264.2l.2 1.4M8.3 267.7l.4 -.9M10.8 277.1l2.8 -2M28.1 274.9l-.6 1.3M66.5 267.1l2.7 2.2M53.1 273l-2 2.3M74.7 275l-1.3 .5M83.5 278l-1.1 2.5M97.1 269.2l-.8 2.8M107.4 279l.4 .1M101.6 278.7l2.5 1.7M134.9 276.8l.1 1.5M130.9 276.4l-1 3.5M200.4 276.4l-.4 1M219.1 270.5l1.3 .8M271.4 273.1l-.3 .7M282.2 277.5l.2 -.1M21.2 294.7l-1.4 2.9M48.1 284l.1 .1M95.4 282.3l2.5 .9M119.7 292.6l-.2 1M119.9 294l-.2 .8M142.5 283.8l2.1 1.3M129.6 292.1l.2 .1M145.7 293.7l-1.1 1.3M193.1 285.4l.4 .3M194.8 292.7l1.1 1.5M29.6 297.2l3.6 -.9M43.7 298.6l-.6 3.8M40.4 309.8l-1.1 2.7M77.7 311l2.6 1M75.3 307.2l1.3 2.4M91.1 297.8l.6 1.2M103.3 305.4l1.1 1.3M120.5 310.2l1 .5M125.2 307.8l0 .2M156 303.1l.2 -.3M177.2 301.8l-1.1 1M230.6 297.3l.8 1.1M24.8 138.5l1.1 -1.1M23.5 143.5l1.2 -.8M19.5 146.1l.7 -.6M30.3 142.2l.2 -.1M16.5 149.4l2.1 -1.8M34.6 132.4l1.1 -.6M50.7 130.3l.9 -.6M33.2 133.4l2.6 -.3M38.4 134l2.3 -1.7M47.6 129l3.3 -1.6M42.5 130.6l.3 0M40.8 133.4l.1 0M35.7 137.5l1.3 -.5M62.8 124l.2 -.2M61.4 126.4l2.3 -1.6M62.9 120.3l.3 -.1M61.5 121.1l2.8 -2.5M61.1 122.9l.3 -.2M94 107.7l.2 0M96.2 106.3l1.1 -1M84 110.5l1.9 -1.1M90.5 105.2l2.7 -.9M93 105.2l2.6 -2.1M87 109.2l1.6 -.7M98.3 105l2 -1.7M109.7 95.1l1.5 -1.2M108.8 90l2.7 -.6M101.3 100l.3 -.1M116.4 92.9l2.4 -1.1M119.8 91.1l1.4 -.4M126.2 92.1l3 -2M156.2 80.5l3.6 -.2M140.4 83.2l3.5 -.4M152.2 81.3l1 -.4M152.7 83l1.9 -.8M142.3 83.5l2.6 -1.4M167.1 75.4l1 -.4M170.3 71.9l1.9 -.5M170.5 74.1l.2 -.2M37.8 142l2.7 -2.1M47.3 133.2l2.1 -2.3M60.6 122l2.6 -2.7M276.8 201.1l.6 1.5M274.6 189.6l1.2 3.2M274.2 194.8l.3 .9M275.8 206l-.5 3.7M276.9 213.9l.4 .8M277.9 252.1l.4 2.2M279.7 283.9l.7 2.7M280.4 274.9l-.3 1.9M289.2 207.3l.3 1.1M288.4 226.4l-1 3.6M289.9 237.6l-.3 3.5M289.5 227.1l-.6 1.8M229.3 166l.9 2.9M241.6 208.1l.4 2.5M245.4 216.8l.4 1M254.6 182.9l-.2 .7M223.3 260.4l-.3 1.2M159.9 267.4l2.6 .5M158.3 267.6l.5 .1M159.2 268.1l.2 .1M155.1 267.2l2.8 2.6M158.7 268.4l2.3 1.7M184.5 280.8l.1 .1M180 283.6l.4 .5M183.3 284.7l2.1 1.2M180.1 271.8l.1 0M191.4 282.9l1.8 2M188.3 284.8l.8 .5M184.9 280.4l.7 .7M201.1 288.8l1 .3M195.7 286.6l2 .7M197.7 287.7l0 0M202 293.7l.2 0M210.9 290.3l1.3 1M206.8 294.8l2 2.5M211.5 293l1 .7M227.1 305.1l.6 .9M228.7 303.5l2.7 2.5M223.7 301.9l0 .1M260.5 233l.2 -.1M165.8 188.5l1.7 -1.4M172.9 184.9l1.9 -.9M173.7 206.8l1.4 -.7M139.7 118.1l-.3 2.5M143.6 140.6l1 3.5M163.2 153.4l.7 -.6M178.8 129.3l1.9 -3M185.7 120.8l.3 -.8M183.1 131.6l.7 -1.1M162.6 153.6l2.1 -2.5M196.7 105.3l.7 -.8M208.4 87.9l.8 -.9M200.5 102.3l.5 -1.5M214.9 85.1l.2 -.5M197.5 110.6l.4 -1.1M207.5 94.7l.6 -.8M196.6 107.2l1.1 -1M222.8 73.2l1 -1.6M222.6 70.1l.6 -1.3M217.1 74.9l.2 -.3M217.2 75.6l0 0M235 49.8l.9 -1.9M198.6 134l1.9 -.5M195.6 132.6l2.2 -.8M182.8 140.5l1.6 -.9M177.4 146.5l1.6 -1.4M238.7 104.1l.3 -.4M233 114l3.1 -1.5M231.6 113.1l3 -1M235.1 110.7l1.2 -.3M217.9 121.5l1.9 -.9M242.8 109.6l.3 -.2M288.1 72.1l1.3 -.5M298.3 69.1l1.6 -1.9M261.6 97l1.1 -.5M258 98.6l1.9 -2.3M273.4 85l2.3 -1.4M294.7 66.1l2.3 -.9M283.2 75l.1 -.1M277.1 81.6l.3 -.3M299.4 66.9l1.9 -.9M228.8 174.5l.8 -1.2M221.7 182.9l1 -2.8M247.8 146.1l1.3 -1.5M266.5 127l.4 -.5M250.2 145.7l1.5 -1.3M248.5 147.1l.5 -.6M266 128.1l1.6 -1.3M273.3 120.3l1 -.5M298.2 104.6l2.1 -2.3M282.1 113.4l3.2 -1.6M301.3 100.2l1.6 -.9M302 105.5l1.4 -1.3M102.3 100.3l1.7 -1.3M124 81.9l1.1 -.9M113 89.5l1.5 -1.8M177.5 35.7l.2 -.2M31 233.7l.4 .1M35 238.4l.8 .7M28.8 231.3l2.2 1.5M28.1 233.7l1.8 1.2M33 230.2l2.2 .5M42 240l.4 .3M33.5 231.7l1.4 .4M13.1 222.4l.4 .2M15.5 224l3 1.6M81 265.4l2 .9M66.1 253.5l2.1 1.4M77.4 263.7l2.2 1.2M55.3 248.4l2.5 1.5M55.9 246.3l.6 .7M74.1 257.7l.3 .2M85.1 266.8l.5 .3M51.6 242.3l1 .4M98.9 277.7l.2 .2M92 273.9l1.2 .7M111.1 288.4l2.3 2.6M101.2 278.4l.9 .8M96.7 277.8l.7 .8M97.1 275l1.6 1.7M91.4 272.6l0 0M60.8 203.1l.4 .2M97 223.8l1.9 .5M90.4 216.5l2.6 1.9M92 216.2l.1 0M73.8 211.8l2.5 .3M71.8 207.9l.4 0M54.7 202.7l1.7 1.4M78.3 210.8l1.4 1.1M121 228.7l1.6 .2M104.8 223l.1 .1M132.2 232.9l.2 .1M109.8 227.3l.9 .2M109.3 222.8l1.9 1M130.6 233.2l1.7 .9M155.5 250.7l1.6 1.6M148.2 243.7l1.4 1.4M146 240.8l.4 .4M155.1 254.5l1.2 1.8M150.3 249.6l2.2 2.4M145.1 153.4l.2 -.9M139.3 162.6l0 -.1M138.4 166.5l.3 -.5M140.7 156l1.2 -2M144.6 144.3l.7 -1.1M137.4 164.1l.7 -3M152.3 135.2l.3 -1.6M137.3 168.6l1.3 -1.5M150.4 133l.4 -.7M168 106.8l1.4 -2.5M156 125.4l1.2 -1.2M161.6 113.4l.4 -.8M173.4 111.2l1.7 -3.2M165.2 114.3l3 -2.2M167.7 113.8l.2 -.5M154 127.7l1.3 -2.7M29.3 38l-.5 .5M36.8 51.8l0 .2M42.8 45.1l1.3 -.9M48.3 69.5l2.3 2.7M73.9 80.6l.6 .8M87.7 68.8l.1 3.8M96.8 64l3.2 1.9M106.5 61.5l1.1 -.8M114.7 69.8l.1 .2M122.1 38.8l-.3 1.8M139.7 58.5l.2 .2M148.1 55.1l1.1 -2.7M99.2 94.9l1.6 -2.2M18.2 77.2l-2.9 1.2M24.4 65.3l.5 2.3M52 94.9l-.5 .9M30.4 94.8l.4 .7M14.1 148.8l.6 3.1M25 156.4l3.2 -1.5M29.5 136.7l.3 2.2M36.4 142.9l-1.2 2.6M52.1 129.9l.1 .7M60.8 121.2l1.9 -1.5M73.4 112.4l2.3 2.8M88.6 108.5l.4 .3M118 92.9l.8 .5M134.5 82l0 0M147.9 84.8l.7 2.8M140.9 137.4l-.1 1.3M145.6 144.8l2.8 -2.3M127.4 134l.7 -.8M139.1 118.8l-.7 1.6M11.6 165.8l0 0M80.8 180.9l.1 -.1M95.4 178.4l2 -.9M134.7 275.8l-1.2 2.3M130.4 273.4l-2.2 2.1M105.2 247.3l.2 -.1M118.9 257.3l2.2 -1.9M98.5 223.2l1.4 2.2M69.9 225l0 2.1M34.5 194.2l3.1 -.6M14.5 202.4l.5 .5M22 232.8l-2.3 1.6M41.5 236.7l-.9 1.1M54.3 259.3l-.8 .9M80 253.8l.5 1.3M42.3 289.4l-.2 .2M56.8 280.6l2.6 -.9M81.8 295.8l.7 -.3M111.4 299.9l2.6 1.1M126.5 300l.1 -.2M283.7 232.1l1.8 -1.1M217.7 171l-2.6 .9M237.8 163.3l.1 3.2M257.3 168.3l.7 2.5M189.4 196.8l.8 -.8M239.1 199.3l-.3 .5M176.7 283.1l-1.6 1.9M161.1 298.2l3.2 -1.1M214.5 296.4l.7 -.8M166.7 268.7l-.9 3.5M195.1 285.9l-.2 .7M207 289.7l1.8 .2M220.4 301.9l.7 3.7M212.3 77.1l.9 -.6M274.2 81.2l2 -1.1M297.9 102.2l1.5 2M229.9 65.1l-2.3 1.5M195.2 53.5l.5 -.5M180.7 99.6l1 -.5M167.8 86l.6 -.6M262.3 55.3l1.3 .6M249.6 28.1l2.4 -2.4M277.2 20.1l1.2 -1.9M291.1 18.3l-2 3M221 44.2l-1.5 2.2M207.3 114.3l-1.7 1.2M284 152.8l1.8 -1.1M298 134.4l1.2 1.5M176.5 67.4l.9 -2.4M199.1 84.9l.7 1.3M241.8 62.3l.3 -.1M162 51l-.3 .6M260.3 39.1l.1 -.1" stroke="#5048ff" stroke-width="3.4" opacity=".7"/>
<path d="M148 23.4l.6 -.8M152.7 14.2l-.1 .1M160.8 21.6l.1 -.1M182.1 19.6l.7 -.8M185.3 22.9l.3 -.5M213.2 15.9l.8 .9M219.4 16.6l0 .2M218.1 24.1l.5 .9M244.5 26.3l0 .6M241.7 12.4l.5 1M252.9 16.9l.1 -.2M249.7 18.1l0 0M274.6 20.7l-1 .6M274.9 23.3l-.3 .7M296.4 25.5l.6 -.1M41.6 31l.1 1.1M50.1 31.7l0 0M57.9 30.4l-.5 .4M110.2 37.3l0 0M146.3 36.8l.6 .5M167 27.3l.1 .1M175 37.3l-1.1 .5M187.8 38.8l.2 -.4M188.2 40.4l.1 -.1M207.3 32.6l.4 -.1M226.7 32.8l.4 .7M232.7 29.2l.4 .7M225 31.3l.2 0M240.8 35.2l-.7 .8M249.6 39.5l.3 -.5M253.3 29.6l.1 0M254.8 27.7l0 -.1M259.8 41.6l0 .2M259.8 32.6l1 -.6M268.4 30.7l.6 .2M270.2 41.8l.3 .4M283.1 36l.8 .3M282.7 28.5l-1 .6M289.1 36.5l.7 .2M296 34.6l0 0M16.1 51.7l0 .5M29.5 42.8l.3 .1M96 45.5l.4 -.6M143.7 46.6l.2 .4M164.8 53l.7 -.2M160 53.7l.3 -.4M177 44.5l0 .9M179.2 56.6l-.4 1M195.5 45.2l-.6 .8M214.8 45.3l.2 .6M207.2 52.8l-.1 .6M213.6 54.1l.1 .2M219.1 48l.6 .8M245.1 51.7l.3 .2M238.7 49.2l.2 .4M260.4 54l-.2 .1M251.2 43.5l-.4 .8M272.6 47.8l-.2 .4M265.2 50.2l-.1 .4M273.4 43.9l-.1 .1M290.9 54.5l0 0M278 51.9l.8 .3M294.8 42.8l.8 -.8M20.9 67.5l-.3 .9M91.2 68.8l-.8 .8M106 61.1l0 .8M153.4 64l-.1 .9M169.8 62.8l0 0M186.6 59.8l-.1 .2M195.4 62.2l.5 .9M200.7 67.6l.7 .3M215.9 66.1l.2 .5M228.8 61.1l-.1 .4M219.3 61.6l.7 .1M221.7 63.7l-.2 1.2M231.9 59.5l.7 -.9M244.9 67.9l.2 -.3M234.1 67.7l.8 .3M251.1 69.9l0 0M248.8 63.7l.8 .5M249.6 71.8l.2 .2M251.3 65.4l.2 .5M248.2 60.6l.2 .1M268.5 59.6l-.4 .6M270.7 69.9l-.2 .8M276.1 59.5l-.1 1.2M288.9 61.2l-.2 .3M279.7 57.1l-.9 .7M305.9 66.8l0 .1M19.7 79.6l-.2 .2M10.1 78.7l-.8 .8M60.5 81.1l1 .2M103.2 72.1l.3 1M128.7 79.9l.6 .5M168.4 79.2l-.1 .6M169.7 83.7l0 .2M170.9 79.1l.3 1M163.7 86.4l.3 .9M185.2 74l-.4 .9M189 76.3l.1 -.1M204.3 77.2l-.1 .6M215.5 81.3l0 0M223.1 76l.5 -.3M223.6 75l-.1 .1M228.9 78.5l.7 -.1M241.6 82.1l0 0M243.1 83.1l0 .1M237.6 72.8l0 .1M251 77.5l.1 .9M276.5 78.4l0 0M268.6 84.9l-.2 .5M292.1 84.2l.4 -.3M296.8 83.1l.8 -.1M294.4 86.1l-.4 .5M294.4 79.4l.2 .3M98.1 95.2l.2 -.2M113.2 96.7l0 .1M118.8 100.9l.1 .1M120.2 94.2l-.1 1M126.8 94.5l.2 0M132.7 96.4l.7 .9M131.6 100.3l.1 0M133.9 93.6l.6 .3M150 92.8l-.3 .2M166.4 97.4l-.5 .6M187.6 91.6l.2 1M197.7 89.4l.3 .5M209.1 96.1l.1 0M241.8 93l.3 1.1M238.4 93.7l-.2 .9M254.8 91.8l-.4 .2M269.8 101.9l.4 -.3M268.5 101l.5 -.7M267.2 92.1l.2 -.2M270.9 93.4l.5 -.9M53.1 115l.1 .1M71 108.4l-.1 .2M83.3 107l-.1 1.1M179 106.4l.5 .8M200.6 103.6l.3 1M202.3 113.9l.3 .4M224.1 110.9l.2 .3M240.1 103.4l.2 -.6M254.9 112.7l0 .1M255.3 110.9l.4 .7M289.4 110.6l.4 -.9M293.5 112.8l.3 -.2M295.8 106.8l.2 .1M304.2 112.5l-.1 .3M52.4 130.9l.2 -.2M64.2 129.6l-.1 .3M73.3 129.8l0 .7M82.6 124.6l.1 .1M85.5 127.7l.2 .4M130.1 124.4l.3 -.5M143.1 125.9l.1 .4M197.2 118.8l0 0M199.6 124.9l.8 -.4M193 119.4l.7 -.6M191.4 120.9l1.1 -.3M268.9 120.6l.2 .2M287.3 131.2l.3 .1M300.1 124.4l0 .2M30.2 144.1l0 .3M26.6 139.9l-.1 .1M49.5 134.5l1 -.6M49.8 139.3l.4 -.5M94.1 139.6l.1 0M139.5 142.5l0 0M170.4 133.6l0 .4M176.2 145.9l.5 .2M179.7 136.6l-.3 .3M195.5 140.9l.1 .2M231.3 134.9l.3 .4M247.6 143.3l.7 .8M244.4 136.8l.6 .1M244.2 143l0 0M254.6 141.8l.5 .4M272 143.5l.5 1M289.3 139.2l.3 .5M297.9 145.5l0 0M13.2 151.7l-.5 1M24.4 157.7l-.8 .6M116.5 155.8l0 .8M157.6 147.6l.9 .5M164.3 149.1l.7 -.3M171.1 148.2l.6 .7M161.2 152.4l.1 0M171.4 148.9l.9 -.8M173 156.1l.2 -.2M177.5 150.7l.3 -.5M192.3 152.8l-.1 1.1M216 149l1 -.6M216 147.6l.9 -.7M213.9 157.7l.8 -.7M234.2 155.8l.1 -.1M236.9 155.4l.5 -.2M241.3 150l-.1 .2M248.6 156l-.1 1.1M265.6 159.2l.5 1M272.7 151.5l.5 .4M277.1 155.6l.2 .1M290.7 152.2l-.4 .3M286.4 154.5l-.4 .7M9.5 164.6l0 .1M12.9 176.2l.2 -.3M73.1 176.7l.7 -.3M68.1 165.2l.6 -.2M115 166.4l-.7 .9M139.7 165.9l.3 .5M129.5 169.9l0 .3M136.7 162.7l.2 .4M245.6 173l.2 -.3M90.6 190.3l-.2 .1M84.7 186.4l-.2 .2M101.5 186.7l.3 -.2M134.3 188.5l.1 0M138.3 186.4l.1 .3M140.4 182.5l-.2 .1M146.7 191.9l.4 .2M231.7 177.1l.3 .1M230.2 184.6l.5 .2M261.2 182.1l.5 -.3M19.5 197.5l.6 -.3M32.6 198.1l-.1 .2M23.1 207l-.1 .1M29.7 194.2l-.2 .5M44 206.5l0 0M69.9 205l-.3 .4M81.9 195.8l-.1 1M77.6 201.1l-.6 .4M72.2 200.9l-.3 .4M93.1 193.2l.2 .3M84.5 200.2l.2 .5M93.8 201.1l.2 .3M102.3 197l.6 .3M103.9 193.7l.2 .2M119 199.1l-.1 .2M116.9 193.9l-.7 .6M118 194l-.2 .4M135.3 198l.4 .8M144.9 206.7l.3 -.4M148.7 202.3l.2 -.3M145.1 200.3l.7 -.6M178.4 203.1l.4 .1M273.5 197.1l0 0M265.5 203.8l.3 .6M277.5 204.8l0 1M278.4 200.1l.6 .6M286 193.4l.9 .7M9.6 214.7l-.5 .5M31.1 210.6l0 0M34 210.3l-.5 .4M28.5 215.7l-.4 .9M40.2 214.7l-.1 .3M48.7 219.2l0 .2M59.7 207.7l.6 -.8M74.4 220.4l.6 -.4M71.3 218.5l-.1 1.1M74.3 220.2l1 .4M70.5 221.8l.1 .6M81.2 212.6l0 .3M94.7 219.8l-.4 .7M107.3 208.6l.7 -.5M125.2 213l-.1 .4M142.1 213.2l.1 1.1M134 221.4l.2 1.1M182.2 212.6l.2 -.2M227.6 207.9l.1 0M282.9 212.4l.7 .6M300.2 208l-.2 .6M21.4 235l-.4 .4M12.8 235.1l-.6 .3M26.7 223l-.3 .4M33.4 223.4l-.1 .4M27.5 229.5l-.7 .5M52.2 230.8l.1 -.1M47.7 222.2l.6 -1M52.3 232.4l0 0M38.2 224.6l0 -.1M52.9 224.5l.1 -.1M55.8 226.4l.6 .2M56.1 231.3l.4 .4M60 233.9l-.2 .6M70.6 231.6l.7 .7M92.8 223.5l1 .6M96.7 225.6l.1 -.1M100.7 229.9l-.6 .9M102.7 222l-.3 .9M101.9 224.2l.1 -.1M122.6 235.6l.7 -.5M120.3 230.1l.4 -.3M254.4 222.4l.2 -.1M254.3 225.3l.1 -.1M267.4 229.8l-.6 .6M15.3 245.1l.5 1M22.5 244.6l.2 .1M23.2 244.4l-.3 .3M29.6 245.4l-.3 1.2M51 246.4l.4 -.2M39.4 249.9l.2 -.1M65.7 248.1l.9 .4M59.3 240.7l.5 .4M68.2 245.8l0 0M82.9 245.7l1 -.2M88.8 245.2l-.3 .4M97.9 248.6l-.5 .9M96.1 246.9l-.7 .6M93.7 247.1l-.4 .8M111.8 250.3l-.3 .2M99 250l-.2 .8M114.9 247.7l.5 .8M140.9 240.7l-.2 .6M132.1 241.7l-.8 .6M247.4 248.5l.6 .2M8.3 266.6l0 .1M16.5 260l-.2 1.1M19.3 266.7l.1 .2M16.1 261.9l-.1 .5M24.9 263.6l.1 .8M30.4 264.6l0 1.2M37.5 261.4l.1 .4M43.9 253.1l.6 .4M50.9 258l.8 .4M42.7 259.4l.6 .4M55.1 264l-.1 1M63.8 263.8l.5 -.1M67.8 264.4l.4 .6M64.2 256.4l.2 .9M66.3 259.4l.1 .1M74.8 259.2l.1 .7M91 264.1l.1 -.1M84 260.1l1.1 .2M93.1 257.3l-.3 .3M90.8 259.9l.3 -.6M86.6 256.7l.6 -.2M101.7 253.8l.3 -.1M104.6 266l.4 -.5M111.2 259.1l.4 -.1M100 261.1l.4 -.4M99.3 259l.9 .6M115.4 255.3l.2 -.4M134.8 257.8l.2 -.1M137.8 265.1l-.8 .3M148.1 263.1l.4 -.4M19.2 267l.1 -.1M28.1 273.9l0 .1M53 273.7l-.2 .6M50.7 272.4l-.1 0M49.2 272.5l-.8 .9M65.6 268.2l.7 .8M63.8 280.9l-.1 .1M73.2 273.1l-.3 .2M80.9 270.6l-.2 .3M68.9 268.4l-.1 .1M112.3 269l.6 .4M101 280.4l0 0M114.8 278.9l0 .1M114.6 270.1l.5 .5M113.9 270.9l.3 .1M121.6 280.2l.2 .4M136.2 277l.3 -.5M142.2 281.1l.4 -.4M137.9 279.4l0 .1M130.5 269.3l.7 .9M169.9 278.7l.1 1.2M14.6 289.3l-.1 .5M21.5 291.5l-.2 .5M29.9 290.4l.3 -.7M35.4 296.3l.1 0M52.5 290.2l.4 .7M45.5 289.9l.2 .4M60.8 292.5l.9 -.3M77 293.9l.2 -.4M95 285.7l-.1 .1M84.3 288.5l-.6 .5M86.1 293.7l-.3 .6M112.7 291.3l-.3 .2M109.2 289.5l-.1 .7M125 290.4l-.2 .3M138.5 288.4l.4 .5M132 296.3l0 .4M173 295.2l-.4 .4M13.7 300.2l.5 .1M8.7 297.8l.2 .1M23.5 308l.1 .1M27.9 304.7l.6 .8M24.7 305.3l.4 .7M40.5 304.8l-.1 .3M48.7 297.8l-.5 .2M76.4 305.7l-.2 .2M93.6 298.6l-1 .5M97.4 301.3l-.7 .4M93.5 302.3l-.8 .6M103.9 308.4l0 .2M106.8 308l.3 -.3M113.2 308.8l-.3 .7M118.2 297.5l-.1 1.1M134.6 297.3l.5 .1M164.4 306.6l.3 -.1M217.7 302l1 .2M222.9 309.7l.3 -.3M21.6 141.4l.6 -.4M20.6 145.6l.5 -.3M23.1 142.3l.4 -.3M63.7 121.1l0 0M57.2 124l.6 -.2M57.8 123.2l.9 -.3M84.6 106.2l.8 -.6M84.7 109.2l.3 -.3M75.1 115.8l.1 0M102.4 101.8l.7 -.2M112.9 97.8l.3 -.2M132.3 87.8l.3 0M127.5 91.1l.7 -.1M152.2 83.9l.5 0M147.1 81.5l.1 0M161.4 80l.9 -.3M50.1 132.2l0 -.1M50.8 129.6l.1 -.1M57.7 124.5l.7 -.3M48.8 134.2l.8 -.6M62.5 121.8l.3 -.4M69.6 117.9l.7 -.1M69.8 118.4l.1 0M78.7 115.1l.1 -.1M273.8 178.2l0 .3M275.4 197.9l0 .1M279.4 267.8l.1 .4M277.9 249.7l0 .7M284 286.9l0 .1M286.7 185.7l-.1 .3M237.4 195.9l0 .2M236.8 196.2l.2 1.1M252.3 221.8l.5 .3M254.5 179.2l0 .3M255.9 181.1l0 .8M255.8 178.5l0 .2M253.6 191l-.1 1M227.3 237.6l0 .3M219.1 267.6l0 .8M170.3 268.1l.2 .2M193.3 257.9l0 .3M193.5 265.5l0 .1M194.6 270.5l.3 .6M243.5 239.9l.8 -.1M165 191.9l.7 -.3M175.3 207.4l.6 -.4M185.4 200.3l.1 -.1M185.5 202l.3 -.2M140.4 108.6l0 .3M142.5 129.4l0 .5M145 147.6l.2 1M167.9 143.7l.5 -.6M165.6 145.5l.2 -.2M203 98.7l.4 -.5M221.6 71.3l.1 -.2M224.6 66.9l.8 -.8M172.6 146.8l.9 -.4M218.2 120.1l.3 -.2M275.6 85.8l.3 -.2M262.5 93.8l.6 -.3M255.5 96.8l.8 -.6M239.4 152l.7 -.9M236.8 161l.1 -.2M236.2 156.5l.3 -.6M227.1 175.8l.2 -.5M239.2 156l0 0M251.4 143.6l.1 -.1M261.7 130.3l.4 -.4M105.6 94.4l.1 -.1M164.8 46.3l0 0M161 49.2l.4 -.3M169.9 44.5l0 0M68.6 251.5l.8 .7M103.9 286.4l.5 .3M101.4 278.4l.4 .2M62.6 206.3l.4 .2M50.6 202.7l.9 .3M146.9 245.8l.7 .5M143.4 236.8l.1 .1M135.7 163.2l.2 -1" stroke="#ece0f8" stroke-width="1.5"/>
<path d="M136.4 17.8l-.2 .7M143 13.1l-.5 .6M148.5 14.3l-1.8 1.4M162 16.9l1.7 -.4M179.3 25l2.1 -1.3M205.4 17.9l-.9 1.4M220.3 19.5l.2 1.7M240.4 14.4l.4 .3M256.9 17l.3 -.2M254.2 13.8l.5 -.2M248.3 26.3l1.1 -1.2M259.8 25.9l2.2 -.9M273 15.5l-.7 1.1M274.5 12.7l-.2 .7M278.8 17.7l2.2 -.7M280.1 25.8l.8 -.6M298.1 16.4l.3 .4M300.7 20.3l1.6 -.7M307.5 18.3l1 1.2M106.1 28.9l-.6 2.3M122.6 41.2l.5 .4M122.9 30.4l.6 -.6M117.2 37.1l1.9 1M139.1 27.7l.2 1M131.4 35l2.1 1.1M147.4 40.6l.9 .2M187.7 28.9l.1 .7M211.1 36.8l1.3 -1.5M217.1 40.7l1.3 .8M226.5 39.9l2.1 .3M247.4 27l1 -1.6M240.1 30.6l-.8 .9M235.7 29.8l-.2 .1M253.2 38.1l1.8 -.6M277 39.2l-.1 .3M277.3 31l1.6 .5M277.1 34.8l1.5 .9M273.7 29.4l.2 .2M271.6 41.2l2.1 .2M263.9 29.5l1.2 1.9M280 41.9l-.5 1.7M282.3 30.3l1.1 2.1M297.3 36.9l1.7 1.1M27.1 47.5l1.4 1.6M23.9 52.9l1 .3M38.3 52.4l-1.8 1.1M56.8 46.1l-.1 .1M81 56.1l0 .1M88.5 43.2l.4 -.2M110.1 51.2l-.4 .4M115.3 42.5l2.2 -.8M137.9 50.9l-.7 1.1M144.2 55.5l1.2 .4M165.6 47.1l1.9 -1.2M159 52.5l-.5 1.4M175.4 51.6l.7 1.8M180 44.5l-.1 1.4M180 53l0 .1M187.8 47.7l0 .2M200.1 45.9l-.3 .7M193.7 53.2l-.2 1.1M210.2 47.2l.3 1.5M227.7 43.4l0 1.5M246 51.1l.3 .2M239.2 54.1l.9 .3M247.6 49.1l1.3 1.3M240.6 44l1.4 1.3M251.3 51.7l.5 .5M260 45.2l.7 .2M260.5 53.4l.4 .3M257.8 50.6l.3 .2M249.6 51.3l1.1 .6M256 55l1.9 .7M265.1 53.7l-.5 1.7M269.7 42.2l-1.9 1.1M283.2 55.6l1.1 1.8M284.5 54.2l.4 -.3M296.1 51.5l.6 -.2M19.3 70.1l.3 1M34.9 70.7l.9 .5M49.8 71.6l1 -.2M69.7 70.4l0 .2M95.6 68.5l-.3 2.1M105.5 58.8l.1 .7M118.8 67.7l.3 -.1M124 63.1l2.3 -.6M118 62.4l0 0M142.3 64.2l0 .7M167.9 57l.7 -.7M167 67.5l1.2 -1.9M160.6 67l1.2 -1.1M176.4 63.4l.4 1.5M187.2 64.4l1.4 -.2M195 64.4l0 0M188.3 57.8l.7 .9M197.4 61.3l.7 .6M201.4 70.2l1.3 .3M195.5 62.7l0 .1M197.4 57.9l.5 .1M204.6 69.7l.4 1.3M213.5 63.2l-.1 .6M225.1 58.4l1.6 1M218.5 59.8l1.8 1M234.9 69.8l1.2 -1.3M244.2 59.1l2.1 -1M255.8 68.8l1.2 .5M252.2 62.6l1.3 .5M265.6 70.3l-.2 .1M279.8 64.5l1.2 -1.1M292.5 62l-1.4 2.1M289.8 66.3l-.8 .5M299.3 57.4l-.2 .7M303.2 60.9l.1 1.9M295.5 70.5l-.1 .3M38 78.3l1 -1M40.2 73.2l1.6 -1.7M74.3 75.6l-.5 1.1M68.4 79.9l-1.9 1.5M155.5 81.4l-.5 .8M151.8 73.5l1.3 2M144 79.8l.8 1.3M145.9 78.9l0 0M165 74.1l.9 2.2M161.9 81.8l1.8 -.8M171.8 72.8l0 .1M182.9 85l-.8 1.2M173.6 72.8l-.4 .2M183.3 83.3l.3 -.4M193.7 74.7l-.6 .4M203.5 75.1l-.4 .2M214.7 82.6l-1.5 1.8M214.6 77.9l0 .3M215.9 83.8l-1.2 1.1M206.3 72.8l-.4 .6M230 83.4l.5 -.5M226.9 74.7l.2 -.2M233.8 72.5l.3 .9M277.2 72.3l1.1 1.8M272.8 77l-.2 .1M270.9 72.7l.4 .8M281.3 84.1l-.1 .3M279.9 81.2l-.6 2.4M307.9 76.9l.2 .3M297.2 75.3l1.9 1.1M10.8 93.7l.1 .4M15.9 101.9l-.3 1.8M28.1 98.2l.3 -.8M39.2 90l.1 0M91.3 93.4l1.2 1.5M102.2 100l.1 1.1M108.1 100.5l-.2 .9M103.5 93l.6 -.2M119.8 93.6l-1.1 .6M127.4 96l-.8 .5M137.1 93.5l.5 .6M157 93.7l-1.2 1.4M171.1 98.1l.1 0M181 89.3l.3 .7M185.3 92.7l1 -1M183.5 95.7l-.3 1.1M178.9 97.4l.5 .6M183 99.2l.7 1.7M178.4 95.5l.2 1.1M190.2 91.4l0 0M204 94.2l.5 .4M209.2 94.7l1.5 .2M225.3 90.5l1.4 -.8M223.3 98.6l1.5 1.8M242 88.7l-.3 1.1M245.1 87l-2 1.2M241.5 89.9l-.2 1M269.3 100l.9 -2.1M263.6 87.1l.6 .4M278.5 96.4l.9 -2M288.6 93.1l2.2 -1.1M299.1 100.1l-.2 2.1M301.6 87.3l.1 -.2M81.7 106.3l.2 .4M68.7 106.3l0 0M73.5 103.3l1 .4M86.3 106.8l0 0M107.6 112.8l.9 -.3M105.9 115.3l.8 -1.1M102.6 108.6l1.3 1.9M118.8 115.9l.8 .5M129.6 104.5l1.3 -1.8M178.6 110.4l0 .3M183.8 110.6l1.3 2.1M211.4 116.2l0 .5M213.3 115.4l.4 .6M273.2 111.4l-.2 1M263.7 103.5l-.5 1.2M274.2 114.9l-.1 .3M267.5 109.8l-1 .6M273 107.7l-.3 1.3M302.7 102.6l-.4 2M296.3 104.3l0 1.8M296.8 106.5l-.1 1.9M295.9 104.4l-.7 1M31.1 125.5l1 .6M45.2 128.5l-1.9 1.4M42.9 123.5l-.1 .4M62 124.6l-.4 .7M66 120.7l-1.7 1.6M62.4 121.8l1.8 1.5M72.1 129.7l-.5 2M72.4 130l-.2 .8M68.7 123.4l.5 2.1M162.4 128.6l1.1 -.3M208.1 120l.1 .6M289.3 127.1l1.4 .4M293.4 123.5l-.1 .4M303.1 130.3l.3 1M22.2 142.9l1.2 .7M27.5 137.9l-1.6 1.8M34.2 142.1l-1 1.3M48.4 145.4l1.7 -1.6M92.9 136.3l.8 .4M101.9 143.2l1.9 .9M117.8 144.4l.3 -.1M152 137.3l-.1 .2M170.8 137.8l-.4 1.3M166.7 138.4l.2 .2M179.6 137.6l1.2 -.5M179 144.6l.1 -.1M184.1 136.2l1.7 -.5M180.2 144.9l.9 -1.8M204.7 139.5l1.1 1M238.5 146.5l.7 .4M266.5 141.7l.2 .3M292.3 142.9l0 0M287.3 146.8l.3 .1M286.2 141.2l.7 .7M282.5 140.7l.4 .7M306.4 133.1l.7 -1.5M307 138.1l2.4 -.6M294.9 133.8l1 -1.7M299.4 137.5l-1.1 1.1M10.1 155l-.5 1.6M20.9 156.7l-.6 .4M37.2 151.1l-.6 1.6M29 161.5l2 -.9M41.9 157.5l2.2 .7M88 159.2l.5 .9M96.9 158l.2 .5M110.2 147.9l1.7 .6M130 153.7l.4 .1M130.2 155.6l.1 -.2M145.9 160.7l.4 -.3M167.8 154.6l-.4 .3M163.2 157.6l2.1 -.7M184.7 148.6l2.2 -.8M177 149.7l2 -.7M194.6 147.2l.2 2.1M195.5 155.8l.9 1.5M191.3 153.7l.7 -1.2M213.2 150.4l-.1 .1M213.3 151.2l1.8 -.5M225.9 147.8l.5 .7M266.1 155.8l1.1 2M285.7 152.8l.8 -.9M283.7 160.1l.1 -.1M292.9 157.5l-1.3 .9M304.9 147l0 1.1M18.6 167.4l.8 -1.8M38.1 176.9l.5 .6M97.9 170.2l.3 -.4M121.9 176.7l-1 1.6M131.3 173.3l.3 .5M137 162.1l.1 1.6M149.9 176l.8 .4M254.9 171.8l.3 .3M297.7 167.5l.7 .9M44 189.9l.7 2.1M78.1 182.4l-.2 1.6M89.2 189.8l-.4 .3M105.6 187.1l.7 -.3M109.3 181.9l2 -1.2M102.6 177.1l1.5 1.4M113.4 180.3l-1.2 .9M118.6 184l1.2 -.6M139.3 184l.6 1M138 183.7l1.9 .6M203.5 182.1l-.4 .8M271.5 190.5l-.5 1.7M286.9 181.7l.1 0M36.9 198.6l-1.7 .9M33.3 199.6l.7 -.5M39.2 197.5l.3 1.6M50.1 203l-.3 .5M56.5 202.4l0 .1M61.6 194l-.3 2M77.2 192.3l0 0M76.4 199l-.1 .9M79.1 206.5l-.6 1.4M83.9 206.8l.4 .2M108.6 192.8l.7 .5M104.7 193.1l.1 .2M101.1 192.6l.4 .3M116.9 201.4l-.1 .4M115.8 196.7l-1 2.2M128.6 193.8l.2 .3M132.4 196.8l.1 .4M137.6 203l1.3 1.9M202.6 202.6l1.4 .2M255.1 205.9l.6 -.3M272.2 201.8l-1.2 1.6M10.7 208.1l.6 .5M15.9 218.3l.1 .1M10.1 219l.5 .5M16.7 214l.5 -1.2M30.2 208.7l1.1 1.2M67.3 220.6l-.7 2.3M53.1 214l-.5 .6M53.9 218.2l-1 1.4M77.5 215.9l.5 -.5M92.1 211.5l.1 1.2M87.1 210.7l-1.2 1M99.5 215.9l-.4 .7M98.8 209.6l.5 1.3M99.7 219.9l1.2 1.4M102.1 211.1l.4 .5M108.3 215.3l-1.8 .8M103.1 219.7l.7 .1M113.5 209.6l.3 -.5M125 210.8l-.4 .4M124.6 211.7l-.1 .2M124.9 210.7l-.7 .6M131.2 210.2l0 .3M142.8 211.3l.9 1.8M147.5 210.7l.1 .2M149.4 216.4l-.4 .4M143.8 215l1.8 -.8M234.6 209.6l.8 -.6M261.7 215.7l0 1.7M272.3 220.3l.2 -.1M19.3 228.6l.9 -1.9M19.3 224.7l.7 .7M36.9 226.1l-.4 1.4M32.4 230.6l-1.4 1.1M37.7 227.2l.2 -.2M34.1 226.5l-1.4 .9M47.8 233.2l1.6 -1.3M51.6 236.7l.6 -.6M58.8 222.5l-.2 .2M70.5 228.7l-.3 .1M69.5 230.3l.3 .1M72 227l.6 .2M82.6 229.8l2.2 .5M89.4 228.5l-.1 .5M88.8 228.7l.2 .5M88.6 223.3l1.4 1.5M94 230l.1 .3M107.3 228.8l.4 -.1M115.2 224.9l1.5 -1.5M130.8 233.2l1.8 .6M242.3 237l-.1 .2M252 231.4l.2 1.9M291.8 226.1l-.1 .1M298.4 236.1l.8 -.8M19.9 240l.6 -.6M20.3 250.6l.2 .3M24 251l.7 .6M35.9 243.3l2.1 -1.1M49.9 244l1.4 -1.5M63.6 249.7l.2 .3M66.1 239l.3 .2M82.7 242.8l1.1 .6M78.3 238.7l-.7 .5M69.8 242.3l1.2 -.9M107.3 243.4l-.2 .1M111.6 250.5l-1.2 2M104.1 242.6l-1 1.4M103 245.8l-.1 .8M114.4 241.6l1.5 -1M127.2 248.1l0 1M113.7 238.8l-.5 1.6M118.1 238.5l1.4 -.7M126.8 245.5l.2 0M128.3 245.4l-1.6 1M137.6 244l-.7 1.7M148.7 248.7l1.7 -1.8M240.5 240.9l.2 .3M282.1 239l1.4 1M18.6 259.1l.2 -.1M29.1 252.5l-.5 2.2M38.5 266.1l1.2 .2M43.8 256.3l2.1 1.1M61.5 266.4l.1 .9M75.6 255.1l1 1.4M72.2 258.2l-.1 .8M71.1 260.8l1 1.2M87.8 264.3l.8 -1.4M84.8 253.6l1.1 -.5M101.5 256.6l1.7 1M114.8 252.8l0 0M114.4 253.1l1 1.6M115.2 258.8l1.9 -1.5M126.8 262.9l0 .3M134.7 254.9l.4 1.6M143.6 255.2l.7 2.2M157.7 257.9l2.2 .6M165.5 253.5l1.1 1.5M186.1 266.5l-.6 .8M37.4 277.9l.4 .4M46.1 278.5l-1 .4M58.3 268.2l-.6 2.2M61.5 274l-1.2 1.8M68.6 280.6l-1.2 .9M94.1 273l-.2 1M101.5 272.9l.6 -.8M112.5 273.9l1.4 .8M108 271.3l.1 0M119.4 273.6l.3 -.4M137.7 267.5l.5 1M141.3 271.1l.1 1.6M129.7 278.4l.1 1.1M139.3 273.6l.2 .8M143.5 274.4l-1.8 1.8M153.6 273l-.2 1M185.1 275.5l1.5 -1M292.4 277.6l.2 .1M304.7 275.6l0 0M17.4 293.7l-.1 .3M15.6 294.2l-.1 .5M30.4 288.3l-1.8 1M38.1 291.2l-1.2 1.8M38.6 282.5l-1.1 1.4M38.5 294.7l.9 1M43.8 288.6l.9 .2M51.5 288.8l1.4 -1.8M55.9 285.9l1.5 -1.2M79.8 282.3l.4 -.9M111.4 286.8l1 2.2M108.5 289l1.5 -1.6M117 296l-1 .9M119.9 292.3l-.5 .3M130.4 292.9l0 0M153.8 282.3l1.5 -.4M209.5 286l-.6 1.6M225.1 291.1l.2 .2M16.4 303.5l.5 .4M33.2 305.4l1.3 .3M34.5 302.2l-.2 .1M38.2 309.6l-.2 .2M79.5 311.3l1.3 1.6M81.8 301.7l.4 .4M94.9 310.9l-.1 .3M96.4 307.8l-.1 .1M88.3 306.1l.4 .6M112 309.4l.2 .5M101.4 303.9l.2 .3M117.4 302.1l.4 1.4M118.8 310.2l-.2 1M119.3 310.2l-.6 2.3M117.1 300.9l.5 .8M122.5 298.1l.6 1.9M141.2 307.3l2 1.2M128.3 310.3l.7 .4M140.9 306.4l1.2 .8M154.8 301.3l.1 -.1M166 306.3l-.1 .9M165.5 303.8l.1 0M186.6 303.6l-1.9 1.2M189.8 311.6l-.5 .6M199.6 306.4l-.3 .3M205.6 301.2l1.2 -1M243.2 309.7l.9 1.9M23 138.4l2.1 -1.2M43.9 131.7l1.7 -1M46.1 131.3l1.9 -.3M31.5 134.7l2.4 -.3M59.2 125.5l.6 -.2M74.5 114.6l1.2 -.3M102.3 100.9l1.9 -1.5M111.6 94.3l.8 -.6M129.3 90.3l1.7 -.4M160.1 79.6l1 -.5M174.3 72.6l1.7 -1.4M73.9 116.3l1.6 -.3M79.9 112.3l.8 0M272.3 180.4l0 .4M276 198.8l.4 1M277.2 213.9l.1 1.9M276.3 204.1l0 .2M280.7 272.7l-.1 1.2M289.4 216.4l.2 1.2M289.5 236.2l-.5 2M290.9 261.3l.4 1.2M294.9 275l.1 .3M228.8 174.6l.3 1.4M244.9 216l.4 .5M239.4 202.9l.3 1.2M239 205.6l.5 .9M244.8 212.4l.5 .8M250.6 220.8l.6 .1M228.1 225.1l-.4 1.2M163.7 271.8l.4 .3M178.2 281l1.8 1.4M198.4 288.3l1.8 .1M213.8 294.8l.3 .3M195.6 270.2l1 2.1M229 248.6l2.1 .5M208.3 248.6l.7 .2M246.6 239.4l1.7 -.9M177 207.3l1.8 -.7M143.4 128.1l.1 .7M143.6 130.1l0 .4M145.6 143l0 .1M185.9 120.7l.2 -.5M162.5 152.8l1.5 -1.1M207.3 88l.3 -.9M235.4 51.1l.1 -.2M233.6 55l.3 -.3M178.5 145.1l2.2 -.5M185.7 138.5l1 -.2M236.6 110.6l1 -.8M277.6 83.7l.1 -.1M236.3 160.3l1.4 -2M266.6 120.9l.3 -.5M247.3 144.8l2.1 -1.1M279.9 113.3l1.2 -.4M284.4 114.5l1.6 -1.3M108.7 95.9l1.6 -.7M102.7 98.3l.6 -.9M138.2 69.1l.9 -.6M160.2 52.3l1.1 -1.5M156.7 54.4l1.1 -1.5M148.3 58.5l0 0M140 69l.4 -.4M136.4 72.6l.3 -.2M170 37.4l.2 -.2M188.2 29.8l.8 -.5M171 37.5l.2 -.1M20.9 224.5l1.9 .9M36.2 235l1.3 1M82.6 268.4l1.6 1.7M84.6 268.3l.1 .1M121.9 301.1l.6 .8M74.6 212.9l1.4 .6M67.6 205.3l.8 .4M102.7 222.6l1.7 .6M126.3 231.8l2.2 .7M123.3 230.8l.8 .4M120.7 230.6l.3 .1" stroke="#ece0f8" stroke-width="2.4"/>
<path d="M17.5 19.2l-1.6 1.2M157.4 18.1l.1 1.3M184.2 15.7l2.8 -1.4M193.8 21.2l.4 -.7M221.4 24l.2 -.2M260.2 19.2l1.3 -1.4M273.4 19.2l-.5 .3M266.7 27l-.3 .6M274.2 23.8l0 1.9M282.2 12.1l1.6 -.7M282.6 18.5l2.6 -2.2M285.8 22.8l3.6 -1.2M299.4 20l-.9 2.3M60.7 34.4l1.5 -1.8M96.2 38.4l-.3 3.5M124.8 30.8l.7 .6M209.6 32.3l3.4 -.9M242.5 35.5l-.1 .5M265.4 36.6l1.3 .7M23.5 50l2.6 2.5M48.2 45.9l-1.9 2M80 50.2l1.7 -1.4M99.2 54.1l-3.3 1.7M135 56.4l1.5 2.1M163.6 48.6l-1.9 1.7M196.8 44.7l-1 1.5M190.6 44.4l-1 1M230.8 46.2l.3 3M223.8 51.6l2.2 2.5M220.6 46.4l-.3 2.4M236.3 48.9l.7 2.3M291.6 42.7l1.5 1.4M280.5 43.8l1 1.5M289 52.1l.2 .3M14.7 59.9l.1 .3M23.7 68.8l3.2 .7M43.3 61.7l1.2 -.5M89.3 61.9l-.3 .6M90.3 62.2l.3 2.8M99.2 68.3l.2 .4M153.3 67.9l1.3 1.8M145.1 67.2l.5 -.7M181.9 66.2l-.4 3.4M185.5 66.9l2.1 2.9M212.2 63.3l.7 1M245 61.3l2.8 -1.3M274.9 62.1l2 -2.9M144 75.3l-.3 1M145.4 72.8l.6 1.4M210.8 79.5l2.2 2.6M224.9 86.3l1.6 -3.3M235 82l-.3 .6M272 81.2l1.4 2.5M268.9 81.9l1.6 3.2M32.9 95.9l2.7 -1.7M122.2 102l-.3 .9M131.7 97.1l.6 1M161.7 99.2l.1 1.9M161 99.4l.5 .8M172.4 94.3l.1 .1M187.4 99.6l.4 1.4M200.5 98.1l1.8 3.2M188.2 93.7l-.6 1.1M193.3 92.8l.8 -.9M213 89.9l.5 -.3M229 98.9l.8 -.4M245.4 88.9l.4 1.3M303.1 98.6l.8 -1.2M95.7 112.7l-.5 1.6M90.4 114.4l-.3 3.3M89.5 108.5l.4 .7M102.4 116l-.8 .4M110.2 107.3l.7 -1M134.3 107.8l2.4 -1.5M188.4 102.2l-.3 1.4M197.9 113.5l-.1 2.5M191.6 109.1l1.5 2.5M216.4 106.3l0 1.4M214.7 112.9l1.5 2.4M231.8 106.4l.5 -.5M227.3 103.7l2.5 -1.7M269.7 115.1l2 -1.2M300.9 104.3l-1.9 3.2M67 121.3l-2 1.1M57.9 127.3l3.1 -1.8M53.5 131.1l.4 -.2M55.6 122.1l-.2 .2M194.3 120.2l1.5 -.8M189.6 118.6l1.1 -2.4M210.1 129.2l-.7 3.7M266.3 121.4l.5 -.3M300 119.4l0 .1M20.7 140.2l.8 .8M30.4 132l0 0M56.2 135.9l2.6 -2.6M60.3 139.5l-.8 2.3M137.4 138.3l1 -1.4M160.8 133.3l.6 .2M181.6 144.1l.6 -.8M192.6 139.3l-.4 1.4M193.4 142.6l.4 1.4M190.9 146.2l1.2 2.8M195.5 135.4l.4 1.1M188.3 140.6l.6 1.5M221.9 146.5l2 1.8M252.8 146l0 2.5M286.4 146.2l1.4 1.5M286.3 137.6l1.8 1.3M305.6 134.1l-.6 1.3M295.3 133.2l1.5 -3M13.2 157.5l-.6 1.2M33.2 148.6l-.3 .2M41.5 149.3l.2 .3M71.6 159.5l-.1 .3M179.9 160.4l-1.4 2.7M194.4 147.7l-.1 .4M217.9 149.3l.8 -1.4M229.7 149.3l1.9 -1.9M222.4 158.4l1.2 -.5M247.8 161l1.4 -2.6M273.2 148.4l-.2 1.6M279.4 154.7l2.8 1.5M289.6 158l.9 2.1M10.8 163.9l-.1 .5M61.4 175.3l-3.3 1.7M152.3 162.7l1.2 -1.1M150 175.7l-.8 .4M154 173.7l2.6 -2.1M206.6 166.5l0 1.5M210.9 176.8l1 1.8M241 170.3l2 -1.6M238.1 166.8l1.3 -1.2M277 167.7l.3 -.2M96.3 191.5l-1.1 .9M103.8 182.9l.1 -.1M104.9 186.1l.8 -1.1M174.9 188.9l-.1 .2M232.2 184.3l2.4 .4M228.1 182.4l3.1 .4M256.2 178.3l-.3 2.8M266.4 187.5l1.2 .4M292.1 181.8l0 2.1M294.2 180.3l.7 1.6M19.2 193.8l-1.2 2.2M9.5 196.1l0 .1M92.5 199.2l2.9 -1.1M151.3 201.3l1.3 -.3M171.7 202.2l.9 .2M217.6 204.9l0 1.1M279.9 196.1l1.4 .7M297.2 204l0 .1M26.3 208.4l2.1 -2M46.5 216.1l-.1 .2M56.5 220.5l-1.5 .5M62.3 214.8l-.9 2.2M67.3 218.1l-1 .6M105 221.8l.5 -1.1M101.4 212.3l.5 .9M120.6 213.9l-.5 2.6M157.2 216.4l-2.8 1.7M206.3 211l.8 -1.1M291.7 217.7l.7 .8M20.6 231.7l1 -.7M37.3 224.2l-.2 .6M51.7 224.4l2.6 -2.7M62.1 222.2l.5 2.2M57.5 234.5l-1.3 1.8M80.3 229l1.1 2.1M109.8 231.3l1.1 1.4M124.7 235.6l-.2 .4M153.6 232l-2 2.7M219.7 234.9l-.3 1.9M232.1 222.6l-2.3 1.9M243.8 226.3l2.3 -1.5M291.9 226.4l-2.4 1.7M280.1 225l-1.5 1.6M23.9 237.1l-1.9 1.8M44.1 250.6l1.5 -.8M45.1 237.3l.7 -.4M94.8 238.5l-.4 1.6M96.7 246.4l1.9 -1.5M103.9 243.5l1.1 -1M113 243l-.3 2.5M132.8 249.2l.8 .3M132.9 245.7l-1.6 2.2M157.9 238.6l-.1 .5M147.2 239.9l.9 2.3M171.3 243.4l2.5 -1M231.5 237.2l-.6 1.4M264.4 240.6l1.9 -2.6M108 266l-1.8 2.2M125.5 264l-.7 3.4M121.8 257.9l-.3 .3M134.5 265.6l.6 1.7M132.3 253.6l0 .1M156 263.5l.1 0M266.8 266.6l1.7 1.2M266 260.4l-1.8 1.3M283.2 263.8l.2 1.4M8.2 268.1l.4 -.9M10.4 277l2.8 -2M27.6 274.9l-.6 1.3M66.8 267.2l2.7 2.2M53.4 272.3l-2 2.3M74.8 274.4l-1.3 .5M83.9 278.5l-1.1 2.5M97.2 269.6l-.8 2.8M106.9 278.3l.4 .1M101.6 278.3l2.5 1.7M134.6 277.1l.1 1.5M131.5 276.2l-1 3.5M200.7 276.9l-.4 1M218.7 270.3l1.3 .8M270.8 273.4l-.3 .7M281.9 277.2l.2 -.1M21.1 294.1l-1.4 2.9M47.5 284.2l.1 .1M95.6 282.7l2.5 .9M119.9 293.5l-.2 1M119.4 294.6l-.2 .8M142.1 284.5l2.1 1.3M129.7 291.4l.2 .1M145.6 293.1l-1.1 1.3M193.8 285l.4 .3M194.8 293.4l1.1 1.5M29.6 297.6l3.6 -.9M44 299.2l-.6 3.8M40.4 310.6l-1.1 2.7M77.8 311.6l2.6 1M76 307l1.3 2.4M90.3 297.5l.6 1.2M103.7 305.6l1.1 1.3M120.8 310.6l1 .5M125.5 308.5l0 .2M156.6 302.9l.2 -.3M176.5 302l-1.1 1M230.7 298l.8 1.1M25.1 139.2l1.1 -1.1M23.5 144.1l1.2 -.8M20 145.9l.7 -.6M31 141.6l.2 -.1M17.4 149.3l2.1 -1.8M35.2 132.4l1.1 -.6M50.4 130.9l.9 -.6M32.5 133.6l2.6 -.3M39 134.4l2.3 -1.7M47.3 128.6l3.3 -1.6M42.8 131l.3 0M40.4 133.1l.1 0M35.3 136.7l1.3 -.5M63.2 123.7l.2 -.2M60.6 126.2l2.3 -1.6M63.4 120.3l.3 -.1M62.1 121.6l2.8 -2.5M61.5 123.5l.3 -.2M93.3 107.6l.2 0M95.6 106.2l1.1 -1M83.3 110.3l1.9 -1.1M89.6 105.1l2.7 -.9M93.5 105.4l2.6 -2.1M86.8 109.6l1.6 -.7M98.9 104.8l2 -1.7M109.3 94.6l1.5 -1.2M108.7 90.4l2.7 -.6M101.1 100.5l.3 -.1M115.8 93.4l2.4 -1.1M120.5 91.3l1.4 -.4M125.6 92.2l3 -2M156.6 80l3.6 -.2M141.3 83.2l3.5 -.4M152.9 80.9l1 -.4M152.1 82.5l1.9 -.8M141.9 83.8l2.6 -1.4M167.5 75.3l1 -.4M169.8 72.6l1.9 -.5M169.6 73.9l.2 -.2M37.3 141.6l2.7 -2.1M47.4 132.6l2.1 -2.3M60.3 121.6l2.6 -2.7M276.5 201.4l.6 1.5M274.7 188.7l1.2 3.2M274.8 194.8l.3 .9M275.2 205.5l-.5 3.7M277.4 213.6l.4 .8M278.3 252.7l.4 2.2M280.4 283.7l.7 2.7M280.3 274l-.3 1.9M289.4 206.9l.3 1.1M289.1 226.1l-1 3.6M289.8 238.2l-.3 3.5M289 227.7l-.6 1.8M228.8 165.9l.9 2.9M241 207.5l.4 2.5M245.5 217.5l.4 1M255 182.4l-.2 .7M223.5 259.6l-.3 1.2M159.7 268.1l2.6 .5M158.3 266.8l.5 .1M159.1 269l.2 .1M154.7 267.5l2.8 2.6M158.4 268.8l2.3 1.7M185 281.3l.1 .1M179.6 283.7l.4 .5M183.6 284.3l2.1 1.2M179.5 272.3l.1 0M190.9 283.1l1.8 2M187.5 284.5l.8 .5M185.2 280.9l.7 .7M202 288.8l1 .3M195 286.4l2 .7M198 287.4l0 0M201.8 293.1l.2 0M210.4 289.6l1.3 1M207.1 294l2 2.5M211.5 293.4l1 .7M226.7 304.9l.6 .9M228 302.9l2.7 2.5M223.2 302l0 .1M261 232.9l.2 -.1M166.1 189.2l1.7 -1.4M173.4 184.3l1.9 -.9M173.7 207.2l1.4 -.7M139.4 117.6l-.3 2.5M143.2 140.2l1 3.5M162.6 153.4l.7 -.6M179.6 129.4l1.9 -3M186.3 121l.3 -.8M183.5 131.6l.7 -1.1M162.3 153.2l2.1 -2.5M197 106.1l.7 -.8M208 87.4l.8 -.9M199.9 102.3l.5 -1.5M214.8 84.5l.2 -.5M197.9 110.5l.4 -1.1M206.9 95.3l.6 -.8M196.9 106.8l1.1 -1M222.9 72.5l1 -1.6M222.4 69.2l.6 -1.3M217.5 75.2l.2 -.3M217.2 76.2l0 0M234.5 49.7l.9 -1.9M198.2 134l1.9 -.5M194.9 133l2.2 -.8M182.9 141.3l1.6 -.9M177.8 146.3l1.6 -1.4M239.1 104.6l.3 -.4M233.2 114.4l3.1 -1.5M231.6 112.4l3 -1M235.4 111.3l1.2 -.3M217.8 122l1.9 -.9M242.3 109.5l.3 -.2M288.8 72.3l1.3 -.5M299 68.7l1.6 -1.9M261.5 96.2l1.1 -.5M257.7 98.2l1.9 -2.3M272.8 85.3l2.3 -1.4M294.9 66.8l2.3 -.9M283 75.8l.1 -.1M277.6 81.3l.3 -.3M299.4 67.4l1.9 -.9M229.6 174.9l.8 -1.2M221.3 183.6l1 -2.8M248 145.7l1.3 -1.5M265.7 127l.4 -.5M249.7 145.1l1.5 -1.3M248 146.8l.5 -.6M265.8 128.8l1.6 -1.3M273 120.5l1 -.5M298.7 105.1l2.1 -2.3M282.6 113.5l3.2 -1.6M300.9 99.8l1.6 -.9M301.9 104.9l1.4 -1.3M102.5 99.9l1.7 -1.3M123.5 82.2l1.1 -.9M112.6 90l1.5 -1.8M177.8 35.2l.2 -.2M30.5 234.3l.4 .1M34.4 238.5l.8 .7M28.6 230.5l2.2 1.5M28.1 233l1.8 1.2M32.2 230l2.2 .5M41.4 239.6l.4 .3M33.9 231.4l1.4 .4M13.8 222l.4 .2M15 223.6l3 1.6M80.6 265.7l2 .9M66.8 253.7l2.1 1.4M77.3 263.3l2.2 1.2M54.8 248.1l2.5 1.5M55.2 246.5l.6 .7M74.1 258.5l.3 .2M85.5 267.2l.5 .3M51.4 241.9l1 .4M98.3 277.9l.2 .2M91.8 273.2l1.2 .7M110.7 288.9l2.3 2.6M101.5 278l.9 .8M96.7 277.1l.7 .8M97.4 275.8l1.6 1.7M92 272.8l0 0M60.9 203.8l.4 .2M97.2 223.3l1.9 .5M90.8 216.5l2.6 1.9M91.9 216.8l.1 0M73.3 211.2l2.5 .3M71.1 207.6l.4 0M55.2 202.2l1.7 1.4M77.7 211.4l1.4 1.1M121.6 229.3l1.6 .2M104.1 222.8l.1 .1M131.6 233.2l.2 .1M108.9 227.2l.9 .2M109.6 223.2l1.9 1M130.5 232.6l1.7 .9M154.8 250.5l1.6 1.6M148.6 243.2l1.4 1.4M145.9 241.6l.4 .4M155.3 254.2l1.2 1.8M150.6 248.9l2.2 2.4M145 152.6l.2 -.9M139.9 162.2l0 -.1M137.8 166.9l.3 -.5M140.9 155.6l1.2 -2M144.8 143.5l.7 -1.1M137.5 164.6l.7 -3M152.2 135.8l.3 -1.6M137.8 169.3l1.3 -1.5M151 133.4l.4 -.7M168.2 107.3l1.4 -2.5M156.1 125l1.2 -1.2M162.1 113.3l.4 -.8M173.2 110.4l1.7 -3.2M164.4 114.3l3 -2.2M168.1 114.3l.2 -.5M153.3 127.7l1.3 -2.7M28.8 38.3l-.5 .5M36.5 52.5l0 .2M43 45.9l1.3 -.9M48.5 70l2.3 2.7M73.7 79.9l.6 .8M86.8 68.9l.1 3.8M96.7 63.5l3.2 1.9M106.5 62.4l1.1 -.8M115.3 70l.1 .2M121.9 39.4l-.3 1.8M139.4 59.1l.2 .2M148.1 54.7l1.1 -2.7M98.9 95.2l1.6 -2.2M18.9 77.7l-2.9 1.2M24.4 64.6l.5 2.3M51.8 94.1l-.5 .9M29.9 95.2l.4 .7M14.6 148.9l.6 3.1M25.5 156.5l3.2 -1.5M29.9 136.8l.3 2.2M36.5 143.4l-1.2 2.6M51.8 130.2l.1 .7M60.6 121.5l1.9 -1.5M73.7 112.7l2.3 2.8M89 108.4l.4 .3M117.5 93l.8 .5M135 82.1l0 0M148.1 84.3l.7 2.8M141.6 137.9l-.1 1.3M146 145.6l2.8 -2.3M127.3 134.6l.7 -.8M139.4 119.3l-.7 1.6M12.4 165.5l0 0M81.4 180.8l.1 -.1M95.6 177.5l2 -.9M133.9 276.1l-1.2 2.3M130.6 273.9l-2.2 2.1M105.4 247.6l.2 -.1M119.7 257.4l2.2 -1.9M97.8 223.5l1.4 2.2M70.4 225.7l0 2.1M34.3 195l3.1 -.6M14.6 201.6l.5 .5M22.2 232.3l-2.3 1.6M40.8 236.6l-.9 1.1M54 259.6l-.8 .9M80.3 254.2l.5 1.3M43 289.2l-.2 .2M56.2 280.4l2.6 -.9M82.5 295.8l.7 -.3M110.9 300.1l2.6 1.1M127.3 300.1l.1 -.2M284.2 232.3l1.8 -1.1M218.5 170.9l-2.6 .9M238.2 163.3l.1 3.2M257.9 168.8l.7 2.5M190 197.2l.8 -.8M238.2 199.4l-.3 .5M176.9 282.6l-1.6 1.9M161.6 298l3.2 -1.1M214.1 295.8l.7 -.8M165.9 268.4l-.9 3.5M194.4 285.9l-.2 .7M207.6 289.2l1.8 .2M220.7 302.3l.7 3.7M211.9 77.7l.9 -.6M274.3 82.1l2 -1.1M297.3 101.8l1.5 2M229.5 64.6l-2.3 1.5M194.4 53.6l.5 -.5M181.3 99.6l1 -.5M168.1 86.5l.6 -.6M262.3 55.8l1.3 .6M249.2 28.4l2.4 -2.4M277.6 20.8l1.2 -1.9M290.8 18.6l-2 3M220.7 44.8l-1.5 2.2M207.6 114.9l-1.7 1.2M284.2 152.1l1.8 -1.1M297.3 134.6l1.2 1.5M176.9 66.7l.9 -2.4M198.8 84.3l.7 1.3M242.6 62.4l.3 -.1M161.6 51.4l-.3 .6M260.1 38.3l.1 -.1" stroke="#ece0f8" stroke-width="3.4"/>
<path d="M185.3 22.9l.3 -.5M219.4 16.6l0 .2M244.5 26.3l0 .6M252.9 16.9l.1 -.2M249.7 18.1l0 0M274.6 20.7l-1 .6M296.4 25.5l.6 -.1M57.9 30.4l-.5 .4M146.3 36.8l.6 .5M167 27.3l.1 .1M187.8 38.8l.2 -.4M207.3 32.6l.4 -.1M226.7 32.8l.4 .7M225 31.3l.2 0M249.6 39.5l.3 -.5M259.8 41.6l0 .2M268.4 30.7l.6 .2M282.7 28.5l-1 .6M296 34.6l0 0M16.1 51.7l0 .5M29.5 42.8l.3 .1M164.8 53l.7 -.2M160 53.7l.3 -.4M207.2 52.8l-.1 .6M213.6 54.1l.1 .2M238.7 49.2l.2 .4M272.6 47.8l-.2 .4M265.2 50.2l-.1 .4M290.9 54.5l0 0M278 51.9l.8 .3M294.8 42.8l.8 -.8M186.6 59.8l-.1 .2M200.7 67.6l.7 .3M234.1 67.7l.8 .3M248.8 63.7l.8 .5M249.6 71.8l.2 .2M288.9 61.2l-.2 .3M19.7 79.6l-.2 .2M128.7 79.9l.6 .5M185.2 74l-.4 .9M204.3 77.2l-.1 .6M223.6 75l-.1 .1M228.9 78.5l.7 -.1M251 77.5l.1 .9M292.1 84.2l.4 -.3M98.1 95.2l.2 -.2M126.8 94.5l.2 0M131.6 100.3l.1 0M133.9 93.6l.6 .3M150 92.8l-.3 .2M166.4 97.4l-.5 .6M187.6 91.6l.2 1M269.8 101.9l.4 -.3M71 108.4l-.1 .2M202.3 113.9l.3 .4M224.1 110.9l.2 .3M240.1 103.4l.2 -.6M254.9 112.7l0 .1M255.3 110.9l.4 .7M304.2 112.5l-.1 .3M64.2 129.6l-.1 .3M85.5 127.7l.2 .4M130.1 124.4l.3 -.5M199.6 124.9l.8 -.4M268.9 120.6l.2 .2M300.1 124.4l0 .2M26.6 139.9l-.1 .1M139.5 142.5l0 0M195.5 140.9l.1 .2M231.3 134.9l.3 .4M244.4 136.8l.6 .1M244.2 143l0 0M254.6 141.8l.5 .4M272 143.5l.5 1M289.3 139.2l.3 .5M297.9 145.5l0 0M164.3 149.1l.7 -.3M173 156.1l.2 -.2M192.3 152.8l-.1 1.1M216 147.6l.9 -.7M234.2 155.8l.1 -.1M241.3 150l-.1 .2M290.7 152.2l-.4 .3M129.5 169.9l0 .3M136.7 162.7l.2 .4M84.7 186.4l-.2 .2M134.3 188.5l.1 0M19.5 197.5l.6 -.3M29.7 194.2l-.2 .5M44 206.5l0 0M69.9 205l-.3 .4M77.6 201.1l-.6 .4M93.1 193.2l.2 .3M93.8 201.1l.2 .3M119 199.1l-.1 .2M118 194l-.2 .4M135.3 198l.4 .8M144.9 206.7l.3 -.4M265.5 203.8l.3 .6M286 193.4l.9 .7M34 210.3l-.5 .4M28.5 215.7l-.4 .9M48.7 219.2l0 .2M74.3 220.2l1 .4M81.2 212.6l0 .3M94.7 219.8l-.4 .7M125.2 213l-.1 .4M142.1 213.2l.1 1.1M21.4 235l-.4 .4M12.8 235.1l-.6 .3M26.7 223l-.3 .4M33.4 223.4l-.1 .4M38.2 224.6l0 -.1M52.9 224.5l.1 -.1M60 233.9l-.2 .6M100.7 229.9l-.6 .9M122.6 235.6l.7 -.5M120.3 230.1l.4 -.3M254.4 222.4l.2 -.1M22.5 244.6l.2 .1M23.2 244.4l-.3 .3M29.6 245.4l-.3 1.2M51 246.4l.4 -.2M68.2 245.8l0 0M82.9 245.7l1 -.2M96.1 246.9l-.7 .6M132.1 241.7l-.8 .6M19.3 266.7l.1 .2M30.4 264.6l0 1.2M37.5 261.4l.1 .4M43.9 253.1l.6 .4M50.9 258l.8 .4M63.8 263.8l.5 -.1M67.8 264.4l.4 .6M66.3 259.4l.1 .1M74.8 259.2l.1 .7M90.8 259.9l.3 -.6M99.3 259l.9 .6M49.2 272.5l-.8 .9M73.2 273.1l-.3 .2M121.6 280.2l.2 .4M136.2 277l.3 -.5M142.2 281.1l.4 -.4M137.9 279.4l0 .1M21.5 291.5l-.2 .5M29.9 290.4l.3 -.7M35.4 296.3l.1 0M52.5 290.2l.4 .7M60.8 292.5l.9 -.3M77 293.9l.2 -.4M84.3 288.5l-.6 .5M86.1 293.7l-.3 .6M109.2 289.5l-.1 .7M132 296.3l0 .4M13.7 300.2l.5 .1M93.6 298.6l-1 .5M97.4 301.3l-.7 .4M103.9 308.4l0 .2M106.8 308l.3 -.3M118.2 297.5l-.1 1.1M134.6 297.3l.5 .1M21.6 141.4l.6 -.4M23.1 142.3l.4 -.3M63.7 121.1l0 0M84.6 106.2l.8 -.6M132.3 87.8l.3 0M127.5 91.1l.7 -.1M147.1 81.5l.1 0M69.6 117.9l.7 -.1M284 286.9l0 .1M286.7 185.7l-.1 .3M252.3 221.8l.5 .3M255.8 178.5l0 .2M185.5 202l.3 -.2M142.5 129.4l0 .5M167.9 143.7l.5 -.6M203 98.7l.4 -.5M218.2 120.1l.3 -.2M255.5 96.8l.8 -.6M239.4 152l.7 -.9M236.2 156.5l.3 -.6M227.1 175.8l.2 -.5M251.4 143.6l.1 -.1M261.7 130.3l.4 -.4M169.9 44.5l0 0M143.4 236.8l.1 .1M135.7 163.2l.2 -1" stroke="#fff" stroke-width=".9"/>
<path d="M148 23.4l.6 -.8M213.2 15.9l.8 .9M175 37.3l-1.1 .5M232.7 29.2l.4 .7M270.2 41.8l.3 .4M283.1 36l.8 .3M143.7 46.6l.2 .4M214.8 45.3l.2 .6M219.1 48l.6 .8M251.2 43.5l-.4 .8M106 61.1l0 .8M195.4 62.2l.5 .9M228.8 61.1l-.1 .4M10.1 78.7l-.8 .8M103.2 72.1l.3 1M189 76.3l.1 -.1M215.5 81.3l0 0M296.8 83.1l.8 -.1M241.8 93l.3 1.1M238.4 93.7l-.2 .9M268.5 101l.5 -.7M267.2 92.1l.2 -.2M289.4 110.6l.4 -.9M73.3 129.8l0 .7M82.6 124.6l.1 .1M143.1 125.9l.1 .4M287.3 131.2l.3 .1M176.2 145.9l.5 .2M247.6 143.3l.7 .8M24.4 157.7l-.8 .6M157.6 147.6l.9 .5M73.1 176.7l.7 -.3M68.1 165.2l.6 -.2M90.6 190.3l-.2 .1M146.7 191.9l.4 .2M32.6 198.1l-.1 .2M107.3 208.6l.7 -.5M134 221.4l.2 1.1M52.2 230.8l.1 -.1M52.3 232.4l0 0M55.8 226.4l.6 .2M254.3 225.3l.1 -.1M39.4 249.9l.2 -.1M59.3 240.7l.5 .4M97.9 248.6l-.5 .9M8.3 266.6l0 .1M16.5 260l-.2 1.1M55.1 264l-.1 1M65.6 268.2l.7 .8M112.3 269l.6 .4M114.6 270.1l.5 .5M130.5 269.3l.7 .9M23.5 308l.1 .1M40.5 304.8l-.1 .3M76.4 305.7l-.2 .2M113.2 308.8l-.3 .7M112.9 97.8l.3 -.2M161.4 80l.9 -.3M57.7 124.5l.7 -.3M62.5 121.8l.3 -.4M275.4 197.9l0 .1M236.8 196.2l.2 1.1M255.9 181.1l0 .8M243.5 239.9l.8 -.1M175.3 207.4l.6 -.4M185.4 200.3l.1 -.1M145 147.6l.2 1M164.8 46.3l0 0M103.9 286.4l.5 .3M101.4 278.4l.4 .2" stroke="#fff4b8" stroke-width=".9"/>
<path d="M152.7 14.2l-.1 .1M41.6 31l.1 1.1M110.2 37.3l0 0M240.8 35.2l-.7 .8M254.8 27.7l0 -.1M179.2 56.6l-.4 1M195.5 45.2l-.6 .8M245.1 51.7l.3 .2M153.4 64l-.1 .9M244.9 67.9l.2 -.3M251.1 69.9l0 0M251.3 65.4l.2 .5M248.2 60.6l.2 .1M270.7 69.9l-.2 .8M276.1 59.5l-.1 1.2M305.9 66.8l0 .1M60.5 81.1l1 .2M169.7 83.7l0 .2M170.9 79.1l.3 1M223.1 76l.5 -.3M237.6 72.8l0 .1M132.7 96.4l.7 .9M197.7 89.4l.3 .5M209.1 96.1l.1 0M197.2 118.8l0 0M170.4 133.6l0 .4M179.7 136.6l-.3 .3M248.6 156l-.1 1.1M277.1 155.6l.2 .1M286.4 154.5l-.4 .7M9.5 164.6l0 .1M12.9 176.2l.2 -.3M245.6 173l.2 -.3M72.2 200.9l-.3 .4M103.9 193.7l.2 .2M116.9 193.9l-.7 .6M31.1 210.6l0 0M70.5 221.8l.1 .6M282.9 212.4l.7 .6M47.7 222.2l.6 -1M56.1 231.3l.4 .4M70.6 231.6l.7 .7M102.7 222l-.3 .9M101.9 224.2l.1 -.1M93.7 247.1l-.4 .8M99 250l-.2 .8M140.9 240.7l-.2 .6M16.1 261.9l-.1 .5M64.2 256.4l.2 .9M93.1 257.3l-.3 .3M101.7 253.8l.3 -.1M104.6 266l.4 -.5M134.8 257.8l.2 -.1M137.8 265.1l-.8 .3M63.8 280.9l-.1 .1M114.8 278.9l0 .1M45.5 289.9l.2 .4M95 285.7l-.1 .1M27.9 304.7l.6 .8M20.6 145.6l.5 -.3M57.2 124l.6 -.2M84.7 109.2l.3 -.3M50.8 129.6l.1 -.1M69.8 118.4l.1 0M227.3 237.6l0 .3M170.3 268.1l.2 .2M193.3 257.9l0 .3M262.5 93.8l.6 -.3M239.2 156l0 0M161 49.2l.4 -.3" stroke="#ffd8ec" stroke-width=".9"/>
<path d="M136.4 17.8l-.2 .7M162 16.9l1.7 -.4M220.3 19.5l.2 1.7M256.9 17l.3 -.2M254.2 13.8l.5 -.2M248.3 26.3l1.1 -1.2M259.8 25.9l2.2 -.9M298.1 16.4l.3 .4M122.6 41.2l.5 .4M139.1 27.7l.2 1M247.4 27l1 -1.6M235.7 29.8l-.2 .1M277.1 34.8l1.5 .9M263.9 29.5l1.2 1.9M280 41.9l-.5 1.7M27.1 47.5l1.4 1.6M38.3 52.4l-1.8 1.1M56.8 46.1l-.1 .1M110.1 51.2l-.4 .4M159 52.5l-.5 1.4M180 44.5l-.1 1.4M180 53l0 .1M187.8 47.7l0 .2M200.1 45.9l-.3 .7M193.7 53.2l-.2 1.1M246 51.1l.3 .2M247.6 49.1l1.3 1.3M256 55l1.9 .7M49.8 71.6l1 -.2M69.7 70.4l0 .2M105.5 58.8l.1 .7M118.8 67.7l.3 -.1M118 62.4l0 0M167 67.5l1.2 -1.9M160.6 67l1.2 -1.1M176.4 63.4l.4 1.5M188.3 57.8l.7 .9M201.4 70.2l1.3 .3M218.5 59.8l1.8 1M244.2 59.1l2.1 -1M255.8 68.8l1.2 .5M279.8 64.5l1.2 -1.1M292.5 62l-1.4 2.1M303.2 60.9l.1 1.9M295.5 70.5l-.1 .3M40.2 73.2l1.6 -1.7M155.5 81.4l-.5 .8M144 79.8l.8 1.3M214.7 82.6l-1.5 1.8M226.9 74.7l.2 -.2M277.2 72.3l1.1 1.8M270.9 72.7l.4 .8M281.3 84.1l-.1 .3M279.9 81.2l-.6 2.4M307.9 76.9l.2 .3M15.9 101.9l-.3 1.8M39.2 90l.1 0M108.1 100.5l-.2 .9M185.3 92.7l1 -1M183.5 95.7l-.3 1.1M178.9 97.4l.5 .6M183 99.2l.7 1.7M204 94.2l.5 .4M223.3 98.6l1.5 1.8M242 88.7l-.3 1.1M263.6 87.1l.6 .4M299.1 100.1l-.2 2.1M129.6 104.5l1.3 -1.8M183.8 110.6l1.3 2.1M273.2 111.4l-.2 1M263.7 103.5l-.5 1.2M274.2 114.9l-.1 .3M296.3 104.3l0 1.8M295.9 104.4l-.7 1M31.1 125.5l1 .6M45.2 128.5l-1.9 1.4M42.9 123.5l-.1 .4M72.4 130l-.2 .8M68.7 123.4l.5 2.1M22.2 142.9l1.2 .7M34.2 142.1l-1 1.3M92.9 136.3l.8 .4M101.9 143.2l1.9 .9M117.8 144.4l.3 -.1M180.2 144.9l.9 -1.8M266.5 141.7l.2 .3M292.3 142.9l0 0M286.2 141.2l.7 .7M282.5 140.7l.4 .7M306.4 133.1l.7 -1.5M307 138.1l2.4 -.6M299.4 137.5l-1.1 1.1M10.1 155l-.5 1.6M29 161.5l2 -.9M88 159.2l.5 .9M167.8 154.6l-.4 .3M163.2 157.6l2.1 -.7M177 149.7l2 -.7M213.2 150.4l-.1 .1M285.7 152.8l.8 -.9M297.7 167.5l.7 .9M105.6 187.1l.7 -.3M109.3 181.9l2 -1.2M102.6 177.1l1.5 1.4M118.6 184l1.2 -.6M139.3 184l.6 1M138 183.7l1.9 .6M271.5 190.5l-.5 1.7M286.9 181.7l.1 0M36.9 198.6l-1.7 .9M50.1 203l-.3 .5M56.5 202.4l0 .1M61.6 194l-.3 2M77.2 192.3l0 0M76.4 199l-.1 .9M83.9 206.8l.4 .2M115.8 196.7l-1 2.2M202.6 202.6l1.4 .2M53.1 214l-.5 .6M53.9 218.2l-1 1.4M87.1 210.7l-1.2 1M98.8 209.6l.5 1.3M99.7 219.9l1.2 1.4M102.1 211.1l.4 .5M108.3 215.3l-1.8 .8M125 210.8l-.4 .4M124.6 211.7l-.1 .2M142.8 211.3l.9 1.8M149.4 216.4l-.4 .4M272.3 220.3l.2 -.1M19.3 228.6l.9 -1.9M32.4 230.6l-1.4 1.1M37.7 227.2l.2 -.2M58.8 222.5l-.2 .2M69.5 230.3l.3 .1M89.4 228.5l-.1 .5M88.8 228.7l.2 .5M242.3 237l-.1 .2M19.9 240l.6 -.6M35.9 243.3l2.1 -1.1M66.1 239l.3 .2M78.3 238.7l-.7 .5M69.8 242.3l1.2 -.9M107.3 243.4l-.2 .1M104.1 242.6l-1 1.4M113.7 238.8l-.5 1.6M137.6 244l-.7 1.7M148.7 248.7l1.7 -1.8M29.1 252.5l-.5 2.2M61.5 266.4l.1 .9M72.2 258.2l-.1 .8M71.1 260.8l1 1.2M87.8 264.3l.8 -1.4M101.5 256.6l1.7 1M115.2 258.8l1.9 -1.5M126.8 262.9l0 .3M46.1 278.5l-1 .4M58.3 268.2l-.6 2.2M68.6 280.6l-1.2 .9M101.5 272.9l.6 -.8M137.7 267.5l.5 1M129.7 278.4l.1 1.1M17.4 293.7l-.1 .3M30.4 288.3l-1.8 1M38.1 291.2l-1.2 1.8M38.5 294.7l.9 1M43.8 288.6l.9 .2M55.9 285.9l1.5 -1.2M111.4 286.8l1 2.2M108.5 289l1.5 -1.6M117 296l-1 .9M209.5 286l-.6 1.6M33.2 305.4l1.3 .3M38.2 309.6l-.2 .2M79.5 311.3l1.3 1.6M94.9 310.9l-.1 .3M96.4 307.8l-.1 .1M88.3 306.1l.4 .6M141.2 307.3l2 1.2M140.9 306.4l1.2 .8M205.6 301.2l1.2 -1M43.9 131.7l1.7 -1M59.2 125.5l.6 -.2M74.5 114.6l1.2 -.3M160.1 79.6l1 -.5M174.3 72.6l1.7 -1.4M79.9 112.3l.8 0M276.3 204.1l0 .2M294.9 275l.1 .3M178.2 281l1.8 1.4M195.6 270.2l1 2.1M208.3 248.6l.7 .2M143.4 128.1l.1 .7M207.3 88l.3 -.9M233.6 55l.3 -.3M185.7 138.5l1 -.2M236.6 110.6l1 -.8M277.6 83.7l.1 -.1M266.6 120.9l.3 -.5M279.9 113.3l1.2 -.4M108.7 95.9l1.6 -.7M102.7 98.3l.6 -.9M148.3 58.5l0 0M140 69l.4 -.4M136.4 72.6l.3 -.2M171 37.5l.2 -.1M20.9 224.5l1.9 .9M84.6 268.3l.1 .1M102.7 222.6l1.7 .6M126.3 231.8l2.2 .7M123.3 230.8l.8 .4M120.7 230.6l.3 .1" stroke="#fff" stroke-width="1.7"/>
<path d="M143 13.1l-.5 .6M278.8 17.7l2.2 -.7M300.7 20.3l1.6 -.7M187.7 28.9l.1 .7M217.1 40.7l1.3 .8M240.1 30.6l-.8 .9M277.3 31l1.6 .5M273.7 29.4l.2 .2M282.3 30.3l1.1 2.1M297.3 36.9l1.7 1.1M88.5 43.2l.4 -.2M115.3 42.5l2.2 -.8M175.4 51.6l.7 1.8M239.2 54.1l.9 .3M251.3 51.7l.5 .5M296.1 51.5l.6 -.2M187.2 64.4l1.4 -.2M204.6 69.7l.4 1.3M74.3 75.6l-.5 1.1M68.4 79.9l-1.9 1.5M151.8 73.5l1.3 2M161.9 81.8l1.8 -.8M193.7 74.7l-.6 .4M214.6 77.9l0 .3M297.2 75.3l1.9 1.1M103.5 93l.6 -.2M157 93.7l-1.2 1.4M181 89.3l.3 .7M178.4 95.5l.2 1.1M178.6 110.4l0 .3M273 107.7l-.3 1.3M66 120.7l-1.7 1.6M62.4 121.8l1.8 1.5M72.1 129.7l-.5 2M289.3 127.1l1.4 .4M48.4 145.4l1.7 -1.6M170.8 137.8l-.4 1.3M204.7 139.5l1.1 1M287.3 146.8l.3 .1M195.5 155.8l.9 1.5M191.3 153.7l.7 -1.2M225.9 147.8l.5 .7M266.1 155.8l1.1 2M292.9 157.5l-1.3 .9M97.9 170.2l.3 -.4M131.3 173.3l.3 .5M44 189.9l.7 2.1M78.1 182.4l-.2 1.6M89.2 189.8l-.4 .3M113.4 180.3l-1.2 .9M33.3 199.6l.7 -.5M132.4 196.8l.1 .4M16.7 214l.5 -1.2M131.2 210.2l0 .3M147.5 210.7l.1 .2M143.8 215l1.8 -.8M19.3 224.7l.7 .7M70.5 228.7l-.3 .1M82.6 229.8l2.2 .5M24 251l.7 .6M82.7 242.8l1.1 .6M18.6 259.1l.2 -.1M38.5 266.1l1.2 .2M43.8 256.3l2.1 1.1M112.5 273.9l1.4 .8M119.4 273.6l.3 -.4M141.3 271.1l.1 1.6M185.1 275.5l1.5 -1M15.6 294.2l-.1 .5M81.8 301.7l.4 .4M112 309.4l.2 .5M186.6 303.6l-1.9 1.2M73.9 116.3l1.6 -.3M272.3 180.4l0 .4M244.9 216l.4 .5M239.4 202.9l.3 1.2M213.8 294.8l.3 .3M177 207.3l1.8 -.7M145.6 143l0 .1M162.5 152.8l1.5 -1.1M178.5 145.1l2.2 -.5" stroke="#fff4b8" stroke-width="1.7"/>
<path d="M205.4 17.9l-.9 1.4M240.4 14.4l.4 .3M280.1 25.8l.8 -.6M307.5 18.3l1 1.2M131.4 35l2.1 1.1M271.6 41.2l2.1 .2M144.2 55.5l1.2 .4M165.6 47.1l1.9 -1.2M210.2 47.2l.3 1.5M257.8 50.6l.3 .2M249.6 51.3l1.1 .6M265.1 53.7l-.5 1.7M283.2 55.6l1.1 1.8M213.5 63.2l-.1 .6M225.1 58.4l1.6 1M252.2 62.6l1.3 .5M203.5 75.1l-.4 .2M215.9 83.8l-1.2 1.1M102.2 100l.1 1.1M137.1 93.5l.5 .6M269.3 100l.9 -2.1M278.5 96.4l.9 -2M213.3 115.4l.4 .6M302.7 102.6l-.4 2M162.4 128.6l1.1 -.3M303.1 130.3l.3 1M27.5 137.9l-1.6 1.8M184.1 136.2l1.7 -.5M20.9 156.7l-.6 .4M37.2 151.1l-.6 1.6M41.9 157.5l2.2 .7M130 153.7l.4 .1M213.3 151.2l1.8 -.5M304.9 147l0 1.1M108.6 192.8l.7 .5M116.9 201.4l-.1 .4M10.7 208.1l.6 .5M15.9 218.3l.1 .1M30.2 208.7l1.1 1.2M36.9 226.1l-.4 1.4M51.6 236.7l.6 -.6M63.6 249.7l.2 .3M111.6 250.5l-1.2 2M103 245.8l-.1 .8M128.3 245.4l-1.6 1M282.1 239l1.4 1M114.4 253.1l1 1.6M134.7 254.9l.4 1.6M37.4 277.9l.4 .4M61.5 274l-1.2 1.8M94.1 273l-.2 1M304.7 275.6l0 0M119.9 292.3l-.5 .3M16.4 303.5l.5 .4M34.5 302.2l-.2 .1M166 306.3l-.1 .9M199.6 306.4l-.3 .3M23 138.4l2.1 -1.2M111.6 94.3l.8 -.6M290.9 261.3l.4 1.2M36.2 235l1.3 1M74.6 212.9l1.4 .6" stroke="#ffd8ec" stroke-width="1.7"/>
<path d="M184.2 15.7l2.8 -1.4M193.8 21.2l.4 -.7M282.2 12.1l1.6 -.7M60.7 34.4l1.5 -1.8M124.8 30.8l.7 .6M242.5 35.5l-.1 .5M265.4 36.6l1.3 .7M48.2 45.9l-1.9 2M190.6 44.4l-1 1M236.3 48.9l.7 2.3M291.6 42.7l1.5 1.4M14.7 59.9l.1 .3M43.3 61.7l1.2 -.5M89.3 61.9l-.3 .6M153.3 67.9l1.3 1.8M181.9 66.2l-.4 3.4M245 61.3l2.8 -1.3M210.8 79.5l2.2 2.6M122.2 102l-.3 .9M131.7 97.1l.6 1M229 98.9l.8 -.4M303.1 98.6l.8 -1.2M89.5 108.5l.4 .7M134.3 107.8l2.4 -1.5M191.6 109.1l1.5 2.5M216.4 106.3l0 1.4M269.7 115.1l2 -1.2M67 121.3l-2 1.1M55.6 122.1l-.2 .2M210.1 129.2l-.7 3.7M266.3 121.4l.5 -.3M30.4 132l0 0M56.2 135.9l2.6 -2.6M181.6 144.1l.6 -.8M192.6 139.3l-.4 1.4M193.4 142.6l.4 1.4M190.9 146.2l1.2 2.8M286.3 137.6l1.8 1.3M305.6 134.1l-.6 1.3M13.2 157.5l-.6 1.2M33.2 148.6l-.3 .2M41.5 149.3l.2 .3M179.9 160.4l-1.4 2.7M194.4 147.7l-.1 .4M229.7 149.3l1.9 -1.9M222.4 158.4l1.2 -.5M273.2 148.4l-.2 1.6M279.4 154.7l2.8 1.5M289.6 158l.9 2.1M241 170.3l2 -1.6M96.3 191.5l-1.1 .9M104.9 186.1l.8 -1.1M294.2 180.3l.7 1.6M19.2 193.8l-1.2 2.2M9.5 196.1l0 .1M92.5 199.2l2.9 -1.1M297.2 204l0 .1M62.3 214.8l-.9 2.2M157.2 216.4l-2.8 1.7M291.7 217.7l.7 .8M51.7 224.4l2.6 -2.7M80.3 229l1.1 2.1M44.1 250.6l1.5 -.8M96.7 246.4l1.9 -1.5M113 243l-.3 2.5M108 266l-1.8 2.2M125.5 264l-.7 3.4M134.5 265.6l.6 1.7M156 263.5l.1 0M266 260.4l-1.8 1.3M283.2 263.8l.2 1.4M8.2 268.1l.4 -.9M66.8 267.2l2.7 2.2M83.9 278.5l-1.1 2.5M97.2 269.6l-.8 2.8M21.1 294.1l-1.4 2.9M47.5 284.2l.1 .1M119.4 294.6l-.2 .8M142.1 284.5l2.1 1.3M129.7 291.4l.2 .1M145.6 293.1l-1.1 1.3M193.8 285l.4 .3M29.6 297.6l3.6 -.9M44 299.2l-.6 3.8M40.4 310.6l-1.1 2.7M90.3 297.5l.6 1.2M176.5 302l-1.1 1M230.7 298l.8 1.1M25.1 139.2l1.1 -1.1M35.2 132.4l1.1 -.6M50.4 130.9l.9 -.6M32.5 133.6l2.6 -.3M39 134.4l2.3 -1.7M47.3 128.6l3.3 -1.6M40.4 133.1l.1 0M35.3 136.7l1.3 -.5M63.2 123.7l.2 -.2M60.6 126.2l2.3 -1.6M61.5 123.5l.3 -.2M83.3 110.3l1.9 -1.1M89.6 105.1l2.7 -.9M93.5 105.4l2.6 -2.1M98.9 104.8l2 -1.7M115.8 93.4l2.4 -1.1M120.5 91.3l1.4 -.4M152.9 80.9l1 -.4M141.9 83.8l2.6 -1.4M167.5 75.3l1 -.4M169.6 73.9l.2 -.2M37.3 141.6l2.7 -2.1M47.4 132.6l2.1 -2.3M60.3 121.6l2.6 -2.7M289.4 206.9l.3 1.1M159.1 269l.2 .1M158.4 268.8l2.3 1.7M185 281.3l.1 .1M179.6 283.7l.4 .5M187.5 284.5l.8 .5M185.2 280.9l.7 .7M202 288.8l1 .3M195 286.4l2 .7M198 287.4l0 0M207.1 294l2 2.5M211.5 293.4l1 .7M226.7 304.9l.6 .9M228 302.9l2.7 2.5M223.2 302l0 .1M166.1 189.2l1.7 -1.4M173.4 184.3l1.9 -.9M139.4 117.6l-.3 2.5M162.6 153.4l.7 -.6M179.6 129.4l1.9 -3M162.3 153.2l2.1 -2.5M197 106.1l.7 -.8M208 87.4l.8 -.9M199.9 102.3l.5 -1.5M217.5 75.2l.2 -.3M194.9 133l2.2 -.8M182.9 141.3l1.6 -.9M177.8 146.3l1.6 -1.4M239.1 104.6l.3 -.4M231.6 112.4l3 -1M235.4 111.3l1.2 -.3M288.8 72.3l1.3 -.5M257.7 98.2l1.9 -2.3M277.6 81.3l.3 -.3M299.4 67.4l1.9 -.9M229.6 174.9l.8 -1.2M221.3 183.6l1 -2.8M248 146.8l.5 -.6M265.8 128.8l1.6 -1.3M273 120.5l1 -.5M300.9 99.8l1.6 -.9M301.9 104.9l1.4 -1.3M102.5 99.9l1.7 -1.3M123.5 82.2l1.1 -.9M112.6 90l1.5 -1.8M30.5 234.3l.4 .1M28.1 233l1.8 1.2M32.2 230l2.2 .5M13.8 222l.4 .2M80.6 265.7l2 .9M66.8 253.7l2.1 1.4M54.8 248.1l2.5 1.5M55.2 246.5l.6 .7M85.5 267.2l.5 .3M91.8 273.2l1.2 .7M110.7 288.9l2.3 2.6M101.5 278l.9 .8M60.9 203.8l.4 .2M97.2 223.3l1.9 .5M91.9 216.8l.1 0M73.3 211.2l2.5 .3M77.7 211.4l1.4 1.1M121.6 229.3l1.6 .2M104.1 222.8l.1 .1M131.6 233.2l.2 .1M109.6 223.2l1.9 1M130.5 232.6l1.7 .9M154.8 250.5l1.6 1.6M148.6 243.2l1.4 1.4M145.9 241.6l.4 .4M145 152.6l.2 -.9M139.9 162.2l0 -.1M140.9 155.6l1.2 -2M144.8 143.5l.7 -1.1M137.5 164.6l.7 -3M151 133.4l.4 -.7M168.2 107.3l1.4 -2.5M162.1 113.3l.4 -.8M173.2 110.4l1.7 -3.2M28.8 38.3l-.5 .5M43 45.9l1.3 -.9M73.7 79.9l.6 .8M106.5 62.4l1.1 -.8M115.3 70l.1 .2M121.9 39.4l-.3 1.8M139.4 59.1l.2 .2M148.1 54.7l1.1 -2.7M98.9 95.2l1.6 -2.2M18.9 77.7l-2.9 1.2M24.4 64.6l.5 2.3M51.8 94.1l-.5 .9M25.5 156.5l3.2 -1.5M29.9 136.8l.3 2.2M36.5 143.4l-1.2 2.6M51.8 130.2l.1 .7M60.6 121.5l1.9 -1.5M73.7 112.7l2.3 2.8M117.5 93l.8 .5M148.1 84.3l.7 2.8M146 145.6l2.8 -2.3M139.4 119.3l-.7 1.6M12.4 165.5l0 0M133.9 276.1l-1.2 2.3M130.6 273.9l-2.2 2.1M97.8 223.5l1.4 2.2M70.4 225.7l0 2.1M14.6 201.6l.5 .5M40.8 236.6l-.9 1.1M54 259.6l-.8 .9M80.3 254.2l.5 1.3M43 289.2l-.2 .2M82.5 295.8l.7 -.3M110.9 300.1l2.6 1.1M127.3 300.1l.1 -.2M218.5 170.9l-2.6 .9M238.2 163.3l.1 3.2M257.9 168.8l.7 2.5M190 197.2l.8 -.8M238.2 199.4l-.3 .5M176.9 282.6l-1.6 1.9M165.9 268.4l-.9 3.5M194.4 285.9l-.2 .7M207.6 289.2l1.8 .2M220.7 302.3l.7 3.7M297.3 101.8l1.5 2M229.5 64.6l-2.3 1.5M168.1 86.5l.6 -.6M262.3 55.8l1.3 .6M249.2 28.4l2.4 -2.4M277.6 20.8l1.2 -1.9M290.8 18.6l-2 3M220.7 44.8l-1.5 2.2M284.2 152.1l1.8 -1.1M176.9 66.7l.9 -2.4M242.6 62.4l.3 -.1M161.6 51.4l-.3 .6M260.1 38.3l.1 -.1" stroke="#fff" stroke-width="2.7"/>
<path d="M274.2 23.8l0 1.9M220.6 46.4l-.3 2.4M280.5 43.8l1 1.5M188.2 93.7l-.6 1.1M188.4 102.2l-.3 1.4M214.7 112.9l1.5 2.4M231.8 106.4l.5 -.5M57.9 127.3l3.1 -1.8M300 119.4l0 .1M195.5 135.4l.4 1.1M252.8 146l0 2.5M61.4 175.3l-3.3 1.7M103.8 182.9l.1 -.1M279.9 196.1l1.4 .7M46.5 216.1l-.1 .2M105 221.8l.5 -1.1M20.6 231.7l1 -.7M280.1 225l-1.5 1.6M103.9 243.5l1.1 -1M231.5 237.2l-.6 1.4M106.9 278.3l.4 .1M134.6 277.1l.1 1.5M17.4 149.3l2.1 -1.8M42.8 131l.3 0M63.4 120.3l.3 -.1M62.1 121.6l2.8 -2.5M93.3 107.6l.2 0M86.8 109.6l1.6 -.7M109.3 94.6l1.5 -1.2M108.7 90.4l2.7 -.6M125.6 92.2l3 -2M156.6 80l3.6 -.2M169.8 72.6l1.9 -.5M289.8 238.2l-.3 3.5M241 207.5l.4 2.5M223.5 259.6l-.3 1.2M159.7 268.1l2.6 .5M210.4 289.6l1.3 1M143.2 140.2l1 3.5M186.3 121l.3 -.8M183.5 131.6l.7 -1.1M214.8 84.5l.2 -.5M233.2 114.4l3.1 -1.5M242.3 109.5l.3 -.2M272.8 85.3l2.3 -1.4M283 75.8l.1 -.1M248 145.7l1.3 -1.5M249.7 145.1l1.5 -1.3M177.8 35.2l.2 -.2M34.4 238.5l.8 .7M33.9 231.4l1.4 .4M15 223.6l3 1.6M74.1 258.5l.3 .2M51.4 241.9l1 .4M98.3 277.9l.2 .2M96.7 277.1l.7 .8M97.4 275.8l1.6 1.7M92 272.8l0 0M71.1 207.6l.4 0M55.2 202.2l1.7 1.4M108.9 227.2l.9 .2M155.3 254.2l1.2 1.8M150.6 248.9l2.2 2.4M137.8 166.9l.3 -.5M152.2 135.8l.3 -1.6M137.8 169.3l1.3 -1.5M96.7 63.5l3.2 1.9M29.9 95.2l.4 .7M14.6 148.9l.6 3.1M89 108.4l.4 .3M135 82.1l0 0M127.3 134.6l.7 -.8M95.6 177.5l2 -.9M105.4 247.6l.2 -.1M119.7 257.4l2.2 -1.9M34.3 195l3.1 -.6M161.6 298l3.2 -1.1M211.9 77.7l.9 -.6M274.3 82.1l2 -1.1M181.3 99.6l1 -.5M207.6 114.9l-1.7 1.2" stroke="#fff4b8" stroke-width="2.7"/>
<path d="M273.4 19.2l-.5 .3M285.8 22.8l3.6 -1.2M299.4 20l-.9 2.3M96.2 38.4l-.3 3.5M209.6 32.3l3.4 -.9M163.6 48.6l-1.9 1.7M196.8 44.7l-1 1.5M230.8 46.2l.3 3M289 52.1l.2 .3M145.1 67.2l.5 -.7M185.5 66.9l2.1 2.9M274.9 62.1l2 -2.9M145.4 72.8l.6 1.4M161.7 99.2l.1 1.9M187.4 99.6l.4 1.4M213 89.9l.5 -.3M110.2 107.3l.7 -1M227.3 103.7l2.5 -1.7M300.9 104.3l-1.9 3.2M20.7 140.2l.8 .8M137.4 138.3l1 -1.4M286.4 146.2l1.4 1.5M295.3 133.2l1.5 -3M71.6 159.5l-.1 .3M217.9 149.3l.8 -1.4M210.9 176.8l1 1.8M238.1 166.8l1.3 -1.2M67.3 218.1l-1 .6M37.3 224.2l-.2 .6M62.1 222.2l.5 2.2M291.9 226.4l-2.4 1.7M23.9 237.1l-1.9 1.8M94.8 238.5l-.4 1.6M266.8 266.6l1.7 1.2M10.4 277l2.8 -2M53.4 272.3l-2 2.3M74.8 274.4l-1.3 .5M101.6 278.3l2.5 1.7M218.7 270.3l1.3 .8M95.6 282.7l2.5 .9M119.9 293.5l-.2 1M103.7 305.6l1.1 1.3M120.8 310.6l1 .5M125.5 308.5l0 .2M156.6 302.9l.2 -.3M23.5 144.1l1.2 -.8M20 145.9l.7 -.6M31 141.6l.2 -.1M95.6 106.2l1.1 -1M101.1 100.5l.3 -.1M141.3 83.2l3.5 -.4M152.1 82.5l1.9 -.8M274.8 194.8l.3 .9M289 227.7l-.6 1.8M158.3 266.8l.5 .1M183.6 284.3l2.1 1.2M179.5 272.3l.1 0M190.9 283.1l1.8 2M201.8 293.1l.2 0M261 232.9l.2 -.1M197.9 110.5l.4 -1.1M206.9 95.3l.6 -.8M222.9 72.5l1 -1.6M217.2 76.2l0 0M234.5 49.7l.9 -1.9M198.2 134l1.9 -.5M217.8 122l1.9 -.9M299 68.7l1.6 -1.9M261.5 96.2l1.1 -.5M294.9 66.8l2.3 -.9M265.7 127l.4 -.5M298.7 105.1l2.1 -2.3M282.6 113.5l3.2 -1.6M28.6 230.5l2.2 1.5M41.4 239.6l.4 .3M77.3 263.3l2.2 1.2M90.8 216.5l2.6 1.9M156.1 125l1.2 -1.2M164.4 114.3l3 -2.2M168.1 114.3l.2 -.5M153.3 127.7l1.3 -2.7M36.5 52.5l0 .2M48.5 70l2.3 2.7M86.8 68.9l.1 3.8M141.6 137.9l-.1 1.3M81.4 180.8l.1 -.1M22.2 232.3l-2.3 1.6M56.2 280.4l2.6 -.9M284.2 232.3l1.8 -1.1M214.1 295.8l.7 -.8M194.4 53.6l.5 -.5M297.3 134.6l1.2 1.5M198.8 84.3l.7 1.3" stroke="#ffd8ec" stroke-width="2.7"/>
</g>
<g filter="url(#b05)" stroke="none">
<circle cx="190" cy="229.7" r="2" fill="#60f0c8"/><circle cx="199" cy="232.3" r="2.4" fill="#60f0c8"/>
<circle cx="281" cy="55" r="2.6" fill="#ff2020"/><circle cx="25.5" cy="183.5" r="2" fill="#2030ff"/>
<circle cx="300.5" cy="241" r="2.6" fill="#70e0d0"/><circle cx="284" cy="232" r="3" fill="#fff"/>
<ellipse cx="82" cy="194" rx="4" ry="3" fill="#c8f0f4"/><ellipse cx="152.5" cy="22" rx="3" ry="2" fill="#ffe860" transform="rotate(-30 152.5 22)"/>
</g></g>
<rect x="8.3" y="13.2" width="137.8" height="17.4" fill="#5e5e5e" fill-opacity=".9"/>
<text x="15.8" y="25.9" font-size="11.5" font-weight="bold" fill="#fff" textLength="122.7" lengthAdjust="spacingAndGlyphs">9-ChemiPlex Confocal</text>
<rect x="96.5" y="239.2" width="48.6" height="47.8" fill="none" stroke="#fff" stroke-width="2"/>
<rect x="272.9" y="302.2" width="26.2" height="2.3" fill="#fff"/>
<text x="286.1" y="299.9" font-size="9" font-weight="bold" text-anchor="middle" fill="#fff" textLength="18.9" lengthAdjust="spacingAndGlyphs">5µm</text>
<clipPath id="cr"><rect x="312.2" y="12.3" width="25.3" height="297.2"/></clipPath>
<rect x="312.2" y="12.3" width="25.3" height="297.2" fill="#000"/>
<g clip-path="url(#cr)"><g filter="url(#b15)">
<rect x="312.2" y="12.3" width="4.5" height="297.2" fill="#083812" opacity=".6"/>
<ellipse cx="314" cy="22.6" rx="2.5" ry="3.5" fill="#128a28" opacity=".8"/>
<ellipse cx="314" cy="37" rx="2.5" ry="3.5" fill="#128a28" opacity=".8"/>
<ellipse cx="315.8" cy="125.3" rx="2.5" ry="3.5" fill="#128a28" opacity=".8"/>
<ellipse cx="315.8" cy="152.3" rx="2.5" ry="3.5" fill="#128a28" opacity=".8"/>
<ellipse cx="315" cy="203.8" rx="2.5" ry="3.5" fill="#128a28" opacity=".8"/>
<ellipse cx="315.9" cy="269.5" rx="2.5" ry="3.5" fill="#128a28" opacity=".8"/>
<ellipse cx="315" cy="294.1" rx="2.5" ry="3.5" fill="#128a28" opacity=".8"/>
<ellipse cx="327.6" cy="24.2" rx="3.8" ry="0.8" fill="#c040d8" opacity=".85" transform="rotate(-2.2 327.6 24.2)"/><ellipse cx="327.4" cy="25.3" rx="3.8" ry="1.1" fill="#c040d8" opacity=".85" transform="rotate(-2 327.4 25.3)"/><ellipse cx="319.9" cy="32.6" rx="6.5" ry="1.2" fill="#c040d8" opacity=".85" transform="rotate(-2.6 319.9 32.6)"/><ellipse cx="325.6" cy="34" rx="5.6" ry="1.7" fill="#c040d8" opacity=".85" transform="rotate(-1.4 325.6 34)"/><ellipse cx="324.1" cy="32.2" rx="5.6" ry="1.6" fill="#c040d8" opacity=".85" transform="rotate(3.3 324.1 32.2)"/><ellipse cx="325.4" cy="33" rx="6.1" ry="1.2" fill="#c040d8" opacity=".85" transform="rotate(-2.9 325.4 33)"/><ellipse cx="325.7" cy="42.2" rx="8.3" ry="1.8" fill="#b880e0" opacity=".85" transform="rotate(3.6 325.7 42.2)"/><ellipse cx="324.1" cy="39.1" rx="6.6" ry="1.4" fill="#b880e0" opacity=".85" transform="rotate(-2.3 324.1 39.1)"/><ellipse cx="325.1" cy="41.2" rx="6.8" ry="1.5" fill="#b880e0" opacity=".85" transform="rotate(2.7 325.1 41.2)"/><ellipse cx="329.3" cy="40.4" rx="5" ry="1.2" fill="#b880e0" opacity=".85" transform="rotate(3 329.3 40.4)"/><ellipse cx="325.5" cy="45.9" rx="6.1" ry="1.2" fill="#c040d8" opacity=".85" transform="rotate(2.3 325.5 45.9)"/><ellipse cx="325.4" cy="43.7" rx="5.7" ry="1" fill="#c040d8" opacity=".85" transform="rotate(2.6 325.4 43.7)"/><ellipse cx="326.8" cy="43.7" rx="4.2" ry="1.5" fill="#c040d8" opacity=".85" transform="rotate(-0.4 326.8 43.7)"/><ellipse cx="329.2" cy="45.7" rx="7" ry="1.8" fill="#c040d8" opacity=".85" transform="rotate(1.5 329.2 45.7)"/><ellipse cx="324.5" cy="50.4" rx="5.2" ry="1.1" fill="#e04868" opacity=".85" transform="rotate(-0.2 324.5 50.4)"/><ellipse cx="328.1" cy="49.1" rx="5.6" ry="1.4" fill="#e04868" opacity=".85" transform="rotate(1.6 328.1 49.1)"/><ellipse cx="326.8" cy="51" rx="7.5" ry="1.5" fill="#e04868" opacity=".85" transform="rotate(2.3 326.8 51)"/><ellipse cx="329.5" cy="48.7" rx="8.2" ry="1.8" fill="#e04868" opacity=".85" transform="rotate(-3 329.5 48.7)"/><ellipse cx="318.2" cy="55.5" rx="6.5" ry="1.2" fill="#30b0a0" opacity=".85" transform="rotate(0.6 318.2 55.5)"/><ellipse cx="320.6" cy="56.1" rx="6.6" ry="1.2" fill="#30b0a0" opacity=".85" transform="rotate(1.2 320.6 56.1)"/><ellipse cx="316.9" cy="55.8" rx="6.2" ry="1.3" fill="#30b0a0" opacity=".85" transform="rotate(1.7 316.9 55.8)"/><ellipse cx="316.9" cy="56.4" rx="6.7" ry="1.6" fill="#30b0a0" opacity=".85" transform="rotate(0.3 316.9 56.4)"/><ellipse cx="322.8" cy="58.9" rx="6.5" ry="1.5" fill="#c040d8" opacity=".85" transform="rotate(-1.2 322.8 58.9)"/><ellipse cx="318.9" cy="59.3" rx="5.4" ry="1.4" fill="#c040d8" opacity=".85" transform="rotate(-0.1 318.9 59.3)"/><ellipse cx="318.6" cy="60.6" rx="3.8" ry="1.5" fill="#c040d8" opacity=".85" transform="rotate(-2.6 318.6 60.6)"/><ellipse cx="320.3" cy="60.5" rx="4" ry="1" fill="#c040d8" opacity=".85" transform="rotate(0.1 320.3 60.5)"/><ellipse cx="331.5" cy="68.8" rx="5.8" ry="1.6" fill="#b880e0" opacity=".85" transform="rotate(-0.1 331.5 68.8)"/><ellipse cx="332.7" cy="66.2" rx="4.3" ry="1.3" fill="#b880e0" opacity=".85" transform="rotate(-1.7 332.7 66.2)"/><ellipse cx="331.5" cy="68.1" rx="5.3" ry="1.5" fill="#b880e0" opacity=".85" transform="rotate(0.5 331.5 68.1)"/><ellipse cx="329.2" cy="67.2" rx="6.3" ry="1.5" fill="#b880e0" opacity=".85" transform="rotate(-2.3 329.2 67.2)"/><ellipse cx="327.8" cy="80" rx="7.9" ry="1.9" fill="#b880e0" opacity=".85" transform="rotate(-2.4 327.8 80)"/><ellipse cx="325.1" cy="77.5" rx="8.3" ry="1.3" fill="#b880e0" opacity=".85" transform="rotate(3.8 325.1 77.5)"/><ellipse cx="324.9" cy="77" rx="9.2" ry="1.9" fill="#b880e0" opacity=".85" transform="rotate(-0.1 324.9 77)"/><ellipse cx="326.4" cy="75.2" rx="8" ry="1.8" fill="#b880e0" opacity=".85" transform="rotate(3.7 326.4 75.2)"/><ellipse cx="330.5" cy="83.4" rx="8.3" ry="1.6" fill="#b880e0" opacity=".85" transform="rotate(-0.5 330.5 83.4)"/><ellipse cx="329.5" cy="87" rx="8.3" ry="1.8" fill="#b880e0" opacity=".85" transform="rotate(-2.5 329.5 87)"/><ellipse cx="327.7" cy="87.2" rx="6.5" ry="2.3" fill="#b880e0" opacity=".85" transform="rotate(-3.8 327.7 87.2)"/><ellipse cx="323.8" cy="83.2" rx="9.4" ry="1.8" fill="#b880e0" opacity=".85" transform="rotate(-1.2 323.8 83.2)"/><ellipse cx="325.6" cy="90.4" rx="6.7" ry="1.1" fill="#c040d8" opacity=".85" transform="rotate(0.1 325.6 90.4)"/><ellipse cx="323.2" cy="90.7" rx="6" ry="1.3" fill="#c040d8" opacity=".85" transform="rotate(-1 323.2 90.7)"/><ellipse cx="324.3" cy="92.1" rx="4.6" ry="1.2" fill="#c040d8" opacity=".85" transform="rotate(1.1 324.3 92.1)"/><ellipse cx="325.7" cy="92.1" rx="7.1" ry="1.5" fill="#c040d8" opacity=".85" transform="rotate(2.9 325.7 92.1)"/><ellipse cx="323.1" cy="98.3" rx="7" ry="1.7" fill="#b880e0" opacity=".85" transform="rotate(-1.5 323.1 98.3)"/><ellipse cx="323.6" cy="99" rx="4.8" ry="1.8" fill="#b880e0" opacity=".85" transform="rotate(3.1 323.6 99)"/><ellipse cx="322.5" cy="96.3" rx="6.7" ry="1.2" fill="#b880e0" opacity=".85" transform="rotate(-3.2 322.5 96.3)"/><ellipse cx="326.9" cy="97" rx="6.9" ry="1.1" fill="#b880e0" opacity=".85" transform="rotate(-0.8 326.9 97)"/><ellipse cx="322.2" cy="101" rx="4.2" ry="1.4" fill="#c040d8" opacity=".85" transform="rotate(3.3 322.2 101)"/><ellipse cx="323.8" cy="101.4" rx="5.2" ry="1.4" fill="#c040d8" opacity=".85" transform="rotate(0 323.8 101.4)"/><ellipse cx="322.2" cy="101.6" rx="3.8" ry="1" fill="#c040d8" opacity=".85" transform="rotate(-3.7 322.2 101.6)"/><ellipse cx="321.5" cy="102.8" rx="5.4" ry="1" fill="#c040d8" opacity=".85" transform="rotate(-2.5 321.5 102.8)"/><ellipse cx="328.6" cy="106.6" rx="6.8" ry="1.5" fill="#b880e0" opacity=".85" transform="rotate(-3.2 328.6 106.6)"/><ellipse cx="327.8" cy="107" rx="5.1" ry="1.4" fill="#b880e0" opacity=".85" transform="rotate(-1.4 327.8 107)"/><ellipse cx="330" cy="105.5" rx="5" ry="1.3" fill="#b880e0" opacity=".85" transform="rotate(-3.9 330 105.5)"/><ellipse cx="331.3" cy="106.7" rx="4.2" ry="1.2" fill="#b880e0" opacity=".85" transform="rotate(1.9 331.3 106.7)"/><ellipse cx="322.5" cy="107.6" rx="4.1" ry="1.2" fill="#b880e0" opacity=".85" transform="rotate(-3.9 322.5 107.6)"/><ellipse cx="325.2" cy="109.7" rx="5.9" ry="1.5" fill="#b880e0" opacity=".85" transform="rotate(1 325.2 109.7)"/><ellipse cx="322.5" cy="109" rx="5.2" ry="1.6" fill="#b880e0" opacity=".85" transform="rotate(2.4 322.5 109)"/><ellipse cx="321.7" cy="110.1" rx="6" ry="1.4" fill="#b880e0" opacity=".85" transform="rotate(2.5 321.7 110.1)"/><ellipse cx="322.4" cy="117.8" rx="7.2" ry="1.6" fill="#c040d8" opacity=".85" transform="rotate(2.1 322.4 117.8)"/><ellipse cx="324.7" cy="115.9" rx="6.7" ry="1" fill="#c040d8" opacity=".85" transform="rotate(-1.3 324.7 115.9)"/><ellipse cx="322.8" cy="114.3" rx="5.3" ry="1.5" fill="#c040d8" opacity=".85" transform="rotate(1 322.8 114.3)"/><ellipse cx="321.3" cy="118" rx="6.4" ry="1.3" fill="#c040d8" opacity=".85" transform="rotate(1.3 321.3 118)"/><ellipse cx="328.7" cy="120.3" rx="3.6" ry="1.2" fill="#c040d8" opacity=".85" transform="rotate(1.1 328.7 120.3)"/><ellipse cx="329.3" cy="120.9" rx="5.1" ry="0.7" fill="#c040d8" opacity=".85" transform="rotate(0.9 329.3 120.9)"/><ellipse cx="328.4" cy="134" rx="6.7" ry="1.3" fill="#60d0c0" opacity=".85" transform="rotate(-2.4 328.4 134)"/><ellipse cx="325.7" cy="133.2" rx="6.1" ry="2.1" fill="#60d0c0" opacity=".85" transform="rotate(0.4 325.7 133.2)"/><ellipse cx="326.7" cy="137.4" rx="7.4" ry="2.2" fill="#60d0c0" opacity=".85" transform="rotate(1.1 326.7 137.4)"/><ellipse cx="329" cy="133.1" rx="7.6" ry="2" fill="#60d0c0" opacity=".85" transform="rotate(-3.6 329 133.1)"/><ellipse cx="325.7" cy="145.5" rx="5.7" ry="1.1" fill="#b880e0" opacity=".85" transform="rotate(-0 325.7 145.5)"/><ellipse cx="323.7" cy="145.1" rx="7.5" ry="1.3" fill="#b880e0" opacity=".85" transform="rotate(0.2 323.7 145.1)"/><ellipse cx="323.6" cy="146.3" rx="5.1" ry="1.5" fill="#b880e0" opacity=".85" transform="rotate(0.5 323.6 146.3)"/><ellipse cx="321.6" cy="147.7" rx="5.1" ry="1" fill="#b880e0" opacity=".85" transform="rotate(-2 321.6 147.7)"/><ellipse cx="321.5" cy="152.1" rx="9.8" ry="1.9" fill="#b880e0" opacity=".85" transform="rotate(3.2 321.5 152.1)"/><ellipse cx="328" cy="151.5" rx="11" ry="2.5" fill="#b880e0" opacity=".85" transform="rotate(-3.4 328 151.5)"/><ellipse cx="329.4" cy="153.7" rx="8.3" ry="2.6" fill="#b880e0" opacity=".85" transform="rotate(-2.1 329.4 153.7)"/><ellipse cx="325.9" cy="156.6" rx="9.6" ry="2" fill="#b880e0" opacity=".85" transform="rotate(3.8 325.9 156.6)"/><ellipse cx="326.1" cy="169.7" rx="6.4" ry="2.2" fill="#b880e0" opacity=".85" transform="rotate(-0.4 326.1 169.7)"/><ellipse cx="320.6" cy="166.6" rx="8.6" ry="1.6" fill="#b880e0" opacity=".85" transform="rotate(-0.5 320.6 166.6)"/><ellipse cx="324.8" cy="168.9" rx="7.2" ry="2.1" fill="#b880e0" opacity=".85" transform="rotate(-0.6 324.8 168.9)"/><ellipse cx="325.8" cy="169.3" rx="11" ry="2.5" fill="#b880e0" opacity=".85" transform="rotate(1.9 325.8 169.3)"/><ellipse cx="330.7" cy="170.3" rx="7.3" ry="1.6" fill="#b880e0" opacity=".85" transform="rotate(1 330.7 170.3)"/><ellipse cx="331.5" cy="171" rx="6.5" ry="1.4" fill="#b880e0" opacity=".85" transform="rotate(0.7 331.5 171)"/><ellipse cx="333.2" cy="172.9" rx="4.7" ry="1.2" fill="#b880e0" opacity=".85" transform="rotate(3.8 333.2 172.9)"/><ellipse cx="335" cy="173.4" rx="4.2" ry="1" fill="#b880e0" opacity=".85" transform="rotate(-1.8 335 173.4)"/><ellipse cx="326.4" cy="182.4" rx="4.4" ry="1.4" fill="#c040d8" opacity=".85" transform="rotate(-3.4 326.4 182.4)"/><ellipse cx="324.3" cy="182.6" rx="6" ry="1.5" fill="#c040d8" opacity=".85" transform="rotate(-1 324.3 182.6)"/><ellipse cx="326.8" cy="180.8" rx="5.3" ry="1.6" fill="#c040d8" opacity=".85" transform="rotate(2.7 326.8 180.8)"/><ellipse cx="324.2" cy="180.4" rx="7" ry="1.5" fill="#c040d8" opacity=".85" transform="rotate(2.2 324.2 180.4)"/><ellipse cx="326.9" cy="188" rx="5" ry="1.6" fill="#c040d8" opacity=".85" transform="rotate(-1 326.9 188)"/><ellipse cx="329.7" cy="190.2" rx="5.2" ry="1.4" fill="#c040d8" opacity=".85" transform="rotate(2 329.7 190.2)"/><ellipse cx="331.4" cy="188" rx="5.4" ry="1.1" fill="#c040d8" opacity=".85" transform="rotate(3 331.4 188)"/><ellipse cx="326.1" cy="186.6" rx="6.1" ry="1.4" fill="#c040d8" opacity=".85" transform="rotate(1.5 326.1 186.6)"/><ellipse cx="334.4" cy="188" rx="2.4" ry="0.6" fill="#20d0e0" opacity=".85" transform="rotate(1.3 334.4 188)"/><ellipse cx="333.6" cy="186.9" rx="3.7" ry="0.9" fill="#20d0e0" opacity=".85" transform="rotate(-1.7 333.6 186.9)"/><ellipse cx="322.7" cy="192.9" rx="9.6" ry="1.9" fill="#b880e0" opacity=".85" transform="rotate(-3.1 322.7 192.9)"/><ellipse cx="327.9" cy="194.2" rx="10.6" ry="2.5" fill="#b880e0" opacity=".85" transform="rotate(3.3 327.9 194.2)"/><ellipse cx="325.4" cy="195.5" rx="7.4" ry="1.8" fill="#b880e0" opacity=".85" transform="rotate(-0.8 325.4 195.5)"/><ellipse cx="329.9" cy="196" rx="7.1" ry="1.9" fill="#b880e0" opacity=".85" transform="rotate(-1.1 329.9 196)"/><ellipse cx="317.9" cy="211.6" rx="4.8" ry="1" fill="#7858c0" opacity=".85" transform="rotate(0.5 317.9 211.6)"/><ellipse cx="320.3" cy="212.2" rx="6.3" ry="1.3" fill="#7858c0" opacity=".85" transform="rotate(-2.6 320.3 212.2)"/><ellipse cx="320.1" cy="213.3" rx="4.5" ry="0.9" fill="#7858c0" opacity=".85" transform="rotate(0.1 320.1 213.3)"/><ellipse cx="318.9" cy="212.2" rx="6.7" ry="1.3" fill="#7858c0" opacity=".85" transform="rotate(2.4 318.9 212.2)"/><ellipse cx="320.8" cy="222.1" rx="3.8" ry="0.6" fill="#7858c0" opacity=".85" transform="rotate(-3.3 320.8 222.1)"/><ellipse cx="323.2" cy="222.9" rx="2.4" ry="0.8" fill="#7858c0" opacity=".85" transform="rotate(-2.8 323.2 222.9)"/><ellipse cx="323.9" cy="234.5" rx="4.9" ry="1.2" fill="#c040d8" opacity=".85" transform="rotate(2.1 323.9 234.5)"/><ellipse cx="322.5" cy="235" rx="5.5" ry="1.3" fill="#c040d8" opacity=".85" transform="rotate(3.7 322.5 235)"/><ellipse cx="323.4" cy="233.9" rx="6" ry="1.6" fill="#c040d8" opacity=".85" transform="rotate(1.7 323.4 233.9)"/><ellipse cx="325" cy="233.6" rx="7" ry="1.5" fill="#c040d8" opacity=".85" transform="rotate(2.8 325 233.6)"/><ellipse cx="318.8" cy="246.5" rx="4" ry="1" fill="#30b0a0" opacity=".85" transform="rotate(1.1 318.8 246.5)"/><ellipse cx="317.9" cy="246.2" rx="3.9" ry="0.7" fill="#30b0a0" opacity=".85" transform="rotate(-0.6 317.9 246.2)"/><ellipse cx="315.8" cy="256.7" rx="6.8" ry="1.2" fill="#7858c0" opacity=".85" transform="rotate(-2.7 315.8 256.7)"/><ellipse cx="316.1" cy="255.5" rx="4.5" ry="1.6" fill="#7858c0" opacity=".85" transform="rotate(-3.5 316.1 255.5)"/><ellipse cx="316.7" cy="254.4" rx="5.7" ry="1.4" fill="#7858c0" opacity=".85" transform="rotate(-2.6 316.7 254.4)"/><ellipse cx="315.3" cy="255.7" rx="5.5" ry="1.5" fill="#7858c0" opacity=".85" transform="rotate(-3.7 315.3 255.7)"/><ellipse cx="323.4" cy="258.6" rx="3.2" ry="0.8" fill="#c040d8" opacity=".85" transform="rotate(1.7 323.4 258.6)"/><ellipse cx="325.5" cy="258.7" rx="3.1" ry="0.8" fill="#c040d8" opacity=".85" transform="rotate(-2.6 325.5 258.7)"/><ellipse cx="327.2" cy="264.8" rx="8" ry="2.2" fill="#60d0c0" opacity=".85" transform="rotate(-0.2 327.2 264.8)"/><ellipse cx="323.1" cy="267.9" rx="9.8" ry="1.7" fill="#60d0c0" opacity=".85" transform="rotate(0.4 323.1 267.9)"/><ellipse cx="328.9" cy="265.7" rx="6.5" ry="1.4" fill="#60d0c0" opacity=".85" transform="rotate(3.6 328.9 265.7)"/><ellipse cx="327.6" cy="265.2" rx="7.9" ry="1.9" fill="#60d0c0" opacity=".85" transform="rotate(-1.8 327.6 265.2)"/><ellipse cx="323.6" cy="272.9" rx="4.9" ry="1" fill="#b880e0" opacity=".85" transform="rotate(-0.2 323.6 272.9)"/><ellipse cx="319.7" cy="273.4" rx="6.6" ry="1.5" fill="#b880e0" opacity=".85" transform="rotate(-2.7 319.7 273.4)"/><ellipse cx="318.3" cy="271.5" rx="5" ry="1.7" fill="#b880e0" opacity=".85" transform="rotate(0.1 318.3 271.5)"/><ellipse cx="321.4" cy="274.2" rx="5" ry="1.4" fill="#b880e0" opacity=".85" transform="rotate(-2.8 321.4 274.2)"/><ellipse cx="326.6" cy="273.6" rx="6.2" ry="1.5" fill="#b880e0" opacity=".85" transform="rotate(2.6 326.6 273.6)"/><ellipse cx="322.7" cy="274.5" rx="5.9" ry="0.9" fill="#b880e0" opacity=".85" transform="rotate(-0.2 322.7 274.5)"/><ellipse cx="324.9" cy="276.9" rx="5.5" ry="1.5" fill="#b880e0" opacity=".85" transform="rotate(-1.6 324.9 276.9)"/><ellipse cx="326.7" cy="275" rx="6.5" ry="0.9" fill="#b880e0" opacity=".85" transform="rotate(2.6 326.7 275)"/><ellipse cx="331.1" cy="278.7" rx="4" ry="0.7" fill="#7858c0" opacity=".85" transform="rotate(2.7 331.1 278.7)"/><ellipse cx="331.6" cy="278.1" rx="2.9" ry="0.8" fill="#7858c0" opacity=".85" transform="rotate(-0.3 331.6 278.1)"/><ellipse cx="331.8" cy="285.4" rx="5.8" ry="1" fill="#b880e0" opacity=".85" transform="rotate(-0.8 331.8 285.4)"/><ellipse cx="330.3" cy="287.6" rx="6.3" ry="1.4" fill="#b880e0" opacity=".85" transform="rotate(-3.9 330.3 287.6)"/><ellipse cx="329.9" cy="286.7" rx="4.4" ry="1.3" fill="#b880e0" opacity=".85" transform="rotate(-0.3 329.9 286.7)"/><ellipse cx="327.8" cy="287.6" rx="6.2" ry="1" fill="#b880e0" opacity=".85" transform="rotate(0.9 327.8 287.6)"/><ellipse cx="320.4" cy="289.2" rx="4.7" ry="1" fill="#7858c0" opacity=".85" transform="rotate(-1.3 320.4 289.2)"/><ellipse cx="320.9" cy="290.1" rx="3.9" ry="0.9" fill="#7858c0" opacity=".85" transform="rotate(1.9 320.9 290.1)"/><ellipse cx="317.4" cy="302.7" rx="7.4" ry="1.9" fill="#b880e0" opacity=".85" transform="rotate(-1.3 317.4 302.7)"/><ellipse cx="321.2" cy="298.5" rx="5.6" ry="1.3" fill="#b880e0" opacity=".85" transform="rotate(1.4 321.2 298.5)"/><ellipse cx="320.3" cy="299" rx="6.7" ry="2" fill="#b880e0" opacity=".85" transform="rotate(0.7 320.3 299)"/><ellipse cx="315.5" cy="299.2" rx="5.6" ry="1.3" fill="#b880e0" opacity=".85" transform="rotate(-0.7 315.5 299.2)"/><ellipse cx="319.4" cy="309.3" rx="8.1" ry="2" fill="#b880e0" opacity=".85" transform="rotate(1.2 319.4 309.3)"/><ellipse cx="325.7" cy="308.7" rx="7.9" ry="1.8" fill="#b880e0" opacity=".85" transform="rotate(-0.7 325.7 308.7)"/><ellipse cx="318.8" cy="306.3" rx="9.5" ry="2.6" fill="#b880e0" opacity=".85" transform="rotate(2.3 318.8 306.3)"/><ellipse cx="324.7" cy="307.5" rx="5.9" ry="1.8" fill="#b880e0" opacity=".85" transform="rotate(-1.3 324.7 307.5)"/><ellipse cx="328.4" cy="148" rx="3.4" ry="0.9" fill="#c040d8" opacity=".85" transform="rotate(2.3 328.4 148)"/><ellipse cx="329.1" cy="149.2" rx="2.9" ry="1" fill="#c040d8" opacity=".85" transform="rotate(3.2 329.1 149.2)"/><ellipse cx="328.7" cy="155.3" rx="2.8" ry="0.5" fill="#7858c0" opacity=".85" transform="rotate(1.7 328.7 155.3)"/><ellipse cx="330.1" cy="155.6" rx="3.2" ry="0.8" fill="#7858c0" opacity=".85" transform="rotate(-2.4 330.1 155.6)"/><ellipse cx="323.2" cy="106.8" rx="3.3" ry="0.7" fill="#b880e0" opacity=".85" transform="rotate(-2 323.2 106.8)"/><ellipse cx="321.6" cy="107" rx="3.6" ry="1.2" fill="#b880e0" opacity=".85" transform="rotate(-1.1 321.6 107)"/><ellipse cx="325.4" cy="188.7" rx="5.3" ry="0.8" fill="#c040d8" opacity=".85" transform="rotate(3.2 325.4 188.7)"/><ellipse cx="325.7" cy="189.9" rx="4.2" ry="0.8" fill="#c040d8" opacity=".85" transform="rotate(3.3 325.7 189.9)"/><ellipse cx="324.6" cy="196.4" rx="4.8" ry="0.8" fill="#c040d8" opacity=".85" transform="rotate(2.6 324.6 196.4)"/><ellipse cx="321.2" cy="196.6" rx="3.8" ry="1.1" fill="#c040d8" opacity=".85" transform="rotate(2.6 321.2 196.6)"/><ellipse cx="319.2" cy="38.1" rx="2.9" ry="0.7" fill="#7858c0" opacity=".85" transform="rotate(-2.6 319.2 38.1)"/><ellipse cx="322.6" cy="39.2" rx="4.4" ry="0.8" fill="#7858c0" opacity=".85" transform="rotate(1.4 322.6 39.2)"/><ellipse cx="329.2" cy="112.7" rx="4" ry="1.1" fill="#7858c0" opacity=".85" transform="rotate(-3.9 329.2 112.7)"/><ellipse cx="327" cy="112.9" rx="3" ry="0.8" fill="#7858c0" opacity=".85" transform="rotate(0.6 327 112.9)"/><ellipse cx="332.5" cy="99.3" rx="3.6" ry="1" fill="#c040d8" opacity=".85" transform="rotate(-1.3 332.5 99.3)"/><ellipse cx="334.6" cy="98" rx="4.7" ry="0.8" fill="#c040d8" opacity=".85" transform="rotate(3.7 334.6 98)"/><ellipse cx="323.5" cy="109.8" rx="2.5" ry="0.7" fill="#7858c0" opacity=".85" transform="rotate(1.5 323.5 109.8)"/><ellipse cx="324" cy="110.3" rx="2.6" ry="0.8" fill="#7858c0" opacity=".85" transform="rotate(2.7 324 110.3)"/><ellipse cx="323.2" cy="180.2" rx="4.3" ry="1.1" fill="#c040d8" opacity=".85" transform="rotate(3.2 323.2 180.2)"/><ellipse cx="321.6" cy="180.6" rx="4.3" ry="1.3" fill="#c040d8" opacity=".85" transform="rotate(-1.4 321.6 180.6)"/><ellipse cx="332.2" cy="130.6" rx="3.2" ry="0.7" fill="#b880e0" opacity=".85" transform="rotate(0.8 332.2 130.6)"/><ellipse cx="334.1" cy="129.8" rx="2.8" ry="0.5" fill="#b880e0" opacity=".85" transform="rotate(-3 334.1 129.8)"/><ellipse cx="332.5" cy="79.8" rx="3.2" ry="0.6" fill="#c040d8" opacity=".85" transform="rotate(1.6 332.5 79.8)"/><ellipse cx="332.8" cy="79.2" rx="3" ry="0.8" fill="#c040d8" opacity=".85" transform="rotate(-2.1 332.8 79.2)"/><ellipse cx="325.9" cy="140.9" rx="5.6" ry="1.1" fill="#7858c0" opacity=".85" transform="rotate(2.9 325.9 140.9)"/><ellipse cx="327.6" cy="140.5" rx="3.6" ry="1.2" fill="#7858c0" opacity=".85" transform="rotate(0.5 327.6 140.5)"/><ellipse cx="322.4" cy="96.2" rx="3.1" ry="0.5" fill="#7858c0" opacity=".85" transform="rotate(0.3 322.4 96.2)"/><ellipse cx="322.5" cy="96" rx="2.2" ry="0.6" fill="#7858c0" opacity=".85" transform="rotate(-1.4 322.5 96)"/><ellipse cx="331.4" cy="137.7" rx="3.8" ry="0.7" fill="#7858c0" opacity=".85" transform="rotate(-1.1 331.4 137.7)"/><ellipse cx="333.2" cy="135.9" rx="2.2" ry="0.9" fill="#7858c0" opacity=".85" transform="rotate(-1.5 333.2 135.9)"/><ellipse cx="320.8" cy="49.7" rx="3.9" ry="0.7" fill="#c040d8" opacity=".85" transform="rotate(-2.3 320.8 49.7)"/><ellipse cx="320.2" cy="49.7" rx="3.7" ry="0.6" fill="#c040d8" opacity=".85" transform="rotate(2.7 320.2 49.7)"/><ellipse cx="325.5" cy="179.3" rx="3.9" ry="1.4" fill="#7858c0" opacity=".85" transform="rotate(4 325.5 179.3)"/><ellipse cx="324.7" cy="179.8" rx="3.9" ry="1.4" fill="#7858c0" opacity=".85" transform="rotate(-3.6 324.7 179.8)"/><ellipse cx="324.4" cy="129.8" rx="2.3" ry="0.8" fill="#7858c0" opacity=".85" transform="rotate(3 324.4 129.8)"/><ellipse cx="326.1" cy="128.7" rx="2.9" ry="0.8" fill="#7858c0" opacity=".85" transform="rotate(-0.4 326.1 128.7)"/><ellipse cx="326.9" cy="265.8" rx="2.7" ry="0.8" fill="#c040d8" opacity=".85" transform="rotate(-2.4 326.9 265.8)"/><ellipse cx="327.2" cy="265.8" rx="3.4" ry="0.9" fill="#c040d8" opacity=".85" transform="rotate(-1 327.2 265.8)"/><ellipse cx="332.6" cy="133.4" rx="4.1" ry="0.8" fill="#b880e0" opacity=".85" transform="rotate(-1.6 332.6 133.4)"/><ellipse cx="333.8" cy="132.8" rx="3.4" ry="1" fill="#b880e0" opacity=".85" transform="rotate(-3.3 333.8 132.8)"/><ellipse cx="323.7" cy="31.9" rx="3.2" ry="0.8" fill="#c040d8" opacity=".85" transform="rotate(-3.6 323.7 31.9)"/><ellipse cx="322.4" cy="31.5" rx="2.7" ry="0.9" fill="#c040d8" opacity=".85" transform="rotate(-3.3 322.4 31.5)"/><ellipse cx="323.5" cy="114.2" rx="2.3" ry="0.6" fill="#c040d8" opacity=".85" transform="rotate(0.4 323.5 114.2)"/><ellipse cx="323.2" cy="114.5" rx="3.6" ry="0.5" fill="#c040d8" opacity=".85" transform="rotate(-0.3 323.2 114.5)"/><ellipse cx="330" cy="79.2" rx="5" ry="0.9" fill="#c040d8" opacity=".85" transform="rotate(-2.6 330 79.2)"/><ellipse cx="329.2" cy="79.9" rx="3.6" ry="1" fill="#c040d8" opacity=".85" transform="rotate(2.3 329.2 79.9)"/><ellipse cx="326.4" cy="125.9" rx="4.5" ry="1" fill="#b880e0" opacity=".85" transform="rotate(0.2 326.4 125.9)"/><ellipse cx="328.1" cy="125.1" rx="4.3" ry="0.7" fill="#b880e0" opacity=".85" transform="rotate(0.9 328.1 125.1)"/><ellipse cx="331" cy="183.6" rx="4.7" ry="1.1" fill="#7858c0" opacity=".85" transform="rotate(2.3 331 183.6)"/><ellipse cx="331" cy="183.7" rx="3.3" ry="1" fill="#7858c0" opacity=".85" transform="rotate(-0 331 183.7)"/><ellipse cx="321.6" cy="108.8" rx="3.6" ry="0.8" fill="#b880e0" opacity=".85" transform="rotate(3 321.6 108.8)"/><ellipse cx="322.1" cy="107.8" rx="2.2" ry="0.8" fill="#b880e0" opacity=".85" transform="rotate(-0.5 322.1 107.8)"/><ellipse cx="330.2" cy="73.6" rx="3.6" ry="0.5" fill="#b880e0" opacity=".85" transform="rotate(3.3 330.2 73.6)"/><ellipse cx="330.6" cy="74.2" rx="3.6" ry="0.6" fill="#b880e0" opacity=".85" transform="rotate(-2.8 330.6 74.2)"/><ellipse cx="327.9" cy="289.9" rx="2.4" ry="0.7" fill="#c040d8" opacity=".85" transform="rotate(0.2 327.9 289.9)"/><ellipse cx="327.8" cy="291" rx="2" ry="0.8" fill="#c040d8" opacity=".85" transform="rotate(-2.6 327.8 291)"/><ellipse cx="326.3" cy="50.4" rx="3.5" ry="0.9" fill="#7858c0" opacity=".85" transform="rotate(2.3 326.3 50.4)"/><ellipse cx="325.7" cy="50.9" rx="2.9" ry="0.6" fill="#7858c0" opacity=".85" transform="rotate(3.8 325.7 50.9)"/><ellipse cx="329.7" cy="93.2" rx="4.3" ry="1.1" fill="#b880e0" opacity=".85" transform="rotate(-2.8 329.7 93.2)"/><ellipse cx="331.4" cy="93.9" rx="2.7" ry="0.8" fill="#b880e0" opacity=".85" transform="rotate(3.1 331.4 93.9)"/><ellipse cx="331.9" cy="168" rx="2.5" ry="0.7" fill="#c040d8" opacity=".85" transform="rotate(-3.4 331.9 168)"/><ellipse cx="331.6" cy="169.2" rx="3.4" ry="0.8" fill="#c040d8" opacity=".85" transform="rotate(-2.2 331.6 169.2)"/><ellipse cx="328.1" cy="156.7" rx="3.4" ry="0.9" fill="#b880e0" opacity=".85" transform="rotate(3.5 328.1 156.7)"/><ellipse cx="328.6" cy="156.2" rx="5.2" ry="1" fill="#b880e0" opacity=".85" transform="rotate(-3.7 328.6 156.2)"/><ellipse cx="332.4" cy="100.3" rx="3.1" ry="0.9" fill="#7858c0" opacity=".85" transform="rotate(1.6 332.4 100.3)"/><ellipse cx="334.5" cy="100.1" rx="5.3" ry="1" fill="#7858c0" opacity=".85" transform="rotate(-0.9 334.5 100.1)"/><ellipse cx="326.8" cy="39.5" rx="3.2" ry="0.5" fill="#7858c0" opacity=".85" transform="rotate(-1.2 326.8 39.5)"/><ellipse cx="324.8" cy="39.8" rx="2.2" ry="0.5" fill="#7858c0" opacity=".85" transform="rotate(-2.3 324.8 39.8)"/><ellipse cx="325" cy="69.6" rx="4.7" ry="1.5" fill="#b880e0" opacity=".85" transform="rotate(1.4 325 69.6)"/><ellipse cx="327" cy="69.3" rx="4.5" ry="0.9" fill="#b880e0" opacity=".85" transform="rotate(1.5 327 69.3)"/><ellipse cx="321.2" cy="45.5" rx="3.4" ry="0.9" fill="#c040d8" opacity=".85" transform="rotate(-1.9 321.2 45.5)"/><ellipse cx="321.4" cy="47.7" rx="5.5" ry="1" fill="#c040d8" opacity=".85" transform="rotate(-1.1 321.4 47.7)"/><ellipse cx="326.7" cy="208.4" rx="3.6" ry="1.1" fill="#7858c0" opacity=".85" transform="rotate(1.8 326.7 208.4)"/><ellipse cx="329.9" cy="205.9" rx="3.5" ry="0.9" fill="#7858c0" opacity=".85" transform="rotate(-3.3 329.9 205.9)"/><ellipse cx="325.5" cy="121.6" rx="3.1" ry="0.6" fill="#c040d8" opacity=".85" transform="rotate(-3.6 325.5 121.6)"/><ellipse cx="324.1" cy="121.4" rx="1.9" ry="0.5" fill="#c040d8" opacity=".85" transform="rotate(0.8 324.1 121.4)"/><ellipse cx="328.2" cy="175.1" rx="4.1" ry="1" fill="#b880e0" opacity=".85" transform="rotate(-2.9 328.2 175.1)"/><ellipse cx="331.3" cy="174.9" rx="4.9" ry="1.1" fill="#b880e0" opacity=".85" transform="rotate(-2.8 331.3 174.9)"/><ellipse cx="332.4" cy="56.4" rx="3.8" ry="0.8" fill="#7858c0" opacity=".85" transform="rotate(-0.9 332.4 56.4)"/><ellipse cx="334.8" cy="56.3" rx="3" ry="0.7" fill="#7858c0" opacity=".85" transform="rotate(-2.3 334.8 56.3)"/><ellipse cx="323.6" cy="275.3" rx="4.9" ry="1.1" fill="#c040d8" opacity=".85" transform="rotate(2.5 323.6 275.3)"/><ellipse cx="328.2" cy="276.1" rx="5" ry="1.4" fill="#c040d8" opacity=".85" transform="rotate(-2.3 328.2 276.1)"/><ellipse cx="329.5" cy="183.6" rx="4.4" ry="1" fill="#c040d8" opacity=".85" transform="rotate(-2.1 329.5 183.6)"/><ellipse cx="329.2" cy="182.3" rx="3.3" ry="0.8" fill="#c040d8" opacity=".85" transform="rotate(-3.5 329.2 182.3)"/><ellipse cx="320.5" cy="23.1" rx="4" ry="0.8" fill="#c040d8" opacity=".85" transform="rotate(-2.7 320.5 23.1)"/><ellipse cx="320.6" cy="23.5" rx="3.2" ry="1.1" fill="#c040d8" opacity=".85" transform="rotate(-2.1 320.6 23.5)"/><ellipse cx="328.1" cy="302.6" rx="4.5" ry="0.9" fill="#c040d8" opacity=".85" transform="rotate(0.7 328.1 302.6)"/><ellipse cx="331.2" cy="303.3" rx="5.3" ry="0.8" fill="#c040d8" opacity=".85" transform="rotate(-0.9 331.2 303.3)"/><ellipse cx="326.1" cy="149.6" rx="2.6" ry="0.5" fill="#b880e0" opacity=".85" transform="rotate(-0 326.1 149.6)"/><ellipse cx="326.7" cy="150.4" rx="2.5" ry="0.6" fill="#b880e0" opacity=".85" transform="rotate(-3.8 326.7 150.4)"/>
</g><g filter="url(#b1)">
<ellipse cx="320.9" cy="32.6" rx="4.4" ry="0.8" fill="#f0a0f8" transform="rotate(-2.6 319.9 32.6)"/><ellipse cx="326.6" cy="34" rx="3.8" ry="1.2" fill="#f0a0f8" transform="rotate(-1.4 325.6 34)"/><ellipse cx="325.1" cy="32.2" rx="3.8" ry="1.1" fill="#f0a0f8" transform="rotate(3.3 324.1 32.2)"/><ellipse cx="326.4" cy="33" rx="4.2" ry="0.8" fill="#f0a0f8" transform="rotate(-2.9 325.4 33)"/><ellipse cx="326.7" cy="42.2" rx="5.6" ry="1.2" fill="#fff" transform="rotate(3.6 325.7 42.2)"/><ellipse cx="325.1" cy="39.1" rx="4.5" ry="1" fill="#fff" transform="rotate(-2.3 324.1 39.1)"/><ellipse cx="326.1" cy="41.2" rx="4.6" ry="1" fill="#fff" transform="rotate(2.7 325.1 41.2)"/><ellipse cx="330.3" cy="40.4" rx="3.4" ry="0.8" fill="#fff" transform="rotate(3 329.3 40.4)"/><ellipse cx="326.5" cy="45.9" rx="4.2" ry="0.8" fill="#f0a0f8" transform="rotate(2.3 325.5 45.9)"/><ellipse cx="326.4" cy="43.7" rx="3.9" ry="0.7" fill="#f0a0f8" transform="rotate(2.6 325.4 43.7)"/><ellipse cx="327.8" cy="43.7" rx="2.9" ry="1" fill="#f0a0f8" transform="rotate(-0.4 326.8 43.7)"/><ellipse cx="330.2" cy="45.7" rx="4.7" ry="1.2" fill="#f0a0f8" transform="rotate(1.5 329.2 45.7)"/><ellipse cx="325.5" cy="50.4" rx="3.5" ry="0.8" fill="#ffd8d8" transform="rotate(-0.2 324.5 50.4)"/><ellipse cx="329.1" cy="49.1" rx="3.8" ry="1" fill="#ffd8d8" transform="rotate(1.6 328.1 49.1)"/><ellipse cx="327.8" cy="51" rx="5.1" ry="1" fill="#ffd8d8" transform="rotate(2.3 326.8 51)"/><ellipse cx="330.5" cy="48.7" rx="5.6" ry="1.2" fill="#ffd8d8" transform="rotate(-3 329.5 48.7)"/><ellipse cx="319.2" cy="55.5" rx="4.4" ry="0.8" fill="#80e8d8" transform="rotate(0.6 318.2 55.5)"/><ellipse cx="321.6" cy="56.1" rx="4.5" ry="0.8" fill="#80e8d8" transform="rotate(1.2 320.6 56.1)"/><ellipse cx="317.9" cy="55.8" rx="4.2" ry="0.9" fill="#80e8d8" transform="rotate(1.7 316.9 55.8)"/><ellipse cx="317.9" cy="56.4" rx="4.6" ry="1.1" fill="#80e8d8" transform="rotate(0.3 316.9 56.4)"/><ellipse cx="323.8" cy="58.9" rx="4.4" ry="1" fill="#f0a0f8" transform="rotate(-1.2 322.8 58.9)"/><ellipse cx="319.9" cy="59.3" rx="3.6" ry="1" fill="#f0a0f8" transform="rotate(-0.1 318.9 59.3)"/><ellipse cx="319.6" cy="60.6" rx="2.6" ry="1" fill="#f0a0f8" transform="rotate(-2.6 318.6 60.6)"/><ellipse cx="321.3" cy="60.5" rx="2.8" ry="0.7" fill="#f0a0f8" transform="rotate(0.1 320.3 60.5)"/><ellipse cx="332.5" cy="68.8" rx="3.9" ry="1.1" fill="#fff" transform="rotate(-0.1 331.5 68.8)"/><ellipse cx="333.7" cy="66.2" rx="2.9" ry="0.9" fill="#fff" transform="rotate(-1.7 332.7 66.2)"/><ellipse cx="332.5" cy="68.1" rx="3.6" ry="1" fill="#fff" transform="rotate(0.5 331.5 68.1)"/><ellipse cx="330.2" cy="67.2" rx="4.3" ry="1" fill="#fff" transform="rotate(-2.3 329.2 67.2)"/><ellipse cx="328.8" cy="80" rx="5.4" ry="1.3" fill="#fff" transform="rotate(-2.4 327.8 80)"/><ellipse cx="326.1" cy="77.5" rx="5.6" ry="0.9" fill="#fff" transform="rotate(3.8 325.1 77.5)"/><ellipse cx="325.9" cy="77" rx="6.3" ry="1.3" fill="#fff" transform="rotate(-0.1 324.9 77)"/><ellipse cx="327.4" cy="75.2" rx="5.4" ry="1.2" fill="#fff" transform="rotate(3.7 326.4 75.2)"/><ellipse cx="331.5" cy="83.4" rx="5.7" ry="1.1" fill="#fff" transform="rotate(-0.5 330.5 83.4)"/><ellipse cx="330.5" cy="87" rx="5.7" ry="1.2" fill="#fff" transform="rotate(-2.5 329.5 87)"/><ellipse cx="328.7" cy="87.2" rx="4.4" ry="1.6" fill="#fff" transform="rotate(-3.8 327.7 87.2)"/><ellipse cx="324.8" cy="83.2" rx="6.4" ry="1.2" fill="#fff" transform="rotate(-1.2 323.8 83.2)"/><ellipse cx="326.6" cy="90.4" rx="4.5" ry="0.7" fill="#f0a0f8" transform="rotate(0.1 325.6 90.4)"/><ellipse cx="324.2" cy="90.7" rx="4.1" ry="0.9" fill="#f0a0f8" transform="rotate(-1 323.2 90.7)"/><ellipse cx="325.3" cy="92.1" rx="3.1" ry="0.8" fill="#f0a0f8" transform="rotate(1.1 324.3 92.1)"/><ellipse cx="326.7" cy="92.1" rx="4.8" ry="1" fill="#f0a0f8" transform="rotate(2.9 325.7 92.1)"/><ellipse cx="324.1" cy="98.3" rx="4.7" ry="1.2" fill="#fff" transform="rotate(-1.5 323.1 98.3)"/><ellipse cx="324.6" cy="99" rx="3.3" ry="1.2" fill="#fff" transform="rotate(3.1 323.6 99)"/><ellipse cx="323.5" cy="96.3" rx="4.5" ry="0.8" fill="#fff" transform="rotate(-3.2 322.5 96.3)"/><ellipse cx="327.9" cy="97" rx="4.7" ry="0.7" fill="#fff" transform="rotate(-0.8 326.9 97)"/><ellipse cx="323.2" cy="101" rx="2.9" ry="0.9" fill="#f0a0f8" transform="rotate(3.3 322.2 101)"/><ellipse cx="324.8" cy="101.4" rx="3.5" ry="1" fill="#f0a0f8" transform="rotate(0 323.8 101.4)"/><ellipse cx="323.2" cy="101.6" rx="2.6" ry="0.7" fill="#f0a0f8" transform="rotate(-3.7 322.2 101.6)"/><ellipse cx="322.5" cy="102.8" rx="3.7" ry="0.7" fill="#f0a0f8" transform="rotate(-2.5 321.5 102.8)"/><ellipse cx="329.6" cy="106.6" rx="4.6" ry="1.1" fill="#fff" transform="rotate(-3.2 328.6 106.6)"/><ellipse cx="328.8" cy="107" rx="3.5" ry="1" fill="#fff" transform="rotate(-1.4 327.8 107)"/><ellipse cx="331" cy="105.5" rx="3.4" ry="0.9" fill="#fff" transform="rotate(-3.9 330 105.5)"/><ellipse cx="332.3" cy="106.7" rx="2.8" ry="0.8" fill="#fff" transform="rotate(1.9 331.3 106.7)"/><ellipse cx="323.5" cy="107.6" rx="2.8" ry="0.8" fill="#fff" transform="rotate(-3.9 322.5 107.6)"/><ellipse cx="326.2" cy="109.7" rx="4" ry="1" fill="#fff" transform="rotate(1 325.2 109.7)"/><ellipse cx="323.5" cy="109" rx="3.5" ry="1.1" fill="#fff" transform="rotate(2.4 322.5 109)"/><ellipse cx="322.7" cy="110.1" rx="4.1" ry="1" fill="#fff" transform="rotate(2.5 321.7 110.1)"/><ellipse cx="323.4" cy="117.8" rx="4.9" ry="1.1" fill="#f0a0f8" transform="rotate(2.1 322.4 117.8)"/><ellipse cx="325.7" cy="115.9" rx="4.5" ry="0.7" fill="#f0a0f8" transform="rotate(-1.3 324.7 115.9)"/><ellipse cx="323.8" cy="114.3" rx="3.6" ry="1" fill="#f0a0f8" transform="rotate(1 322.8 114.3)"/><ellipse cx="322.3" cy="118" rx="4.4" ry="0.9" fill="#f0a0f8" transform="rotate(1.3 321.3 118)"/><ellipse cx="329.4" cy="134" rx="4.6" ry="0.9" fill="#f4fffa" transform="rotate(-2.4 328.4 134)"/><ellipse cx="326.7" cy="133.2" rx="4.1" ry="1.4" fill="#f4fffa" transform="rotate(0.4 325.7 133.2)"/><ellipse cx="327.7" cy="137.4" rx="5.1" ry="1.5" fill="#f4fffa" transform="rotate(1.1 326.7 137.4)"/><ellipse cx="330" cy="133.1" rx="5.2" ry="1.3" fill="#f4fffa" transform="rotate(-3.6 329 133.1)"/><ellipse cx="326.7" cy="145.5" rx="3.9" ry="0.8" fill="#fff" transform="rotate(-0 325.7 145.5)"/><ellipse cx="324.7" cy="145.1" rx="5.1" ry="0.9" fill="#fff" transform="rotate(0.2 323.7 145.1)"/><ellipse cx="324.6" cy="146.3" rx="3.5" ry="1" fill="#fff" transform="rotate(0.5 323.6 146.3)"/><ellipse cx="322.6" cy="147.7" rx="3.5" ry="0.7" fill="#fff" transform="rotate(-2 321.6 147.7)"/><ellipse cx="322.5" cy="152.1" rx="6.6" ry="1.3" fill="#fff" transform="rotate(3.2 321.5 152.1)"/><ellipse cx="329" cy="151.5" rx="7.5" ry="1.7" fill="#fff" transform="rotate(-3.4 328 151.5)"/><ellipse cx="330.4" cy="153.7" rx="5.7" ry="1.7" fill="#fff" transform="rotate(-2.1 329.4 153.7)"/><ellipse cx="326.9" cy="156.6" rx="6.5" ry="1.3" fill="#fff" transform="rotate(3.8 325.9 156.6)"/><ellipse cx="327.1" cy="169.7" rx="4.4" ry="1.5" fill="#fff" transform="rotate(-0.4 326.1 169.7)"/><ellipse cx="321.6" cy="166.6" rx="5.8" ry="1.1" fill="#fff" transform="rotate(-0.5 320.6 166.6)"/><ellipse cx="325.8" cy="168.9" rx="4.9" ry="1.4" fill="#fff" transform="rotate(-0.6 324.8 168.9)"/><ellipse cx="326.8" cy="169.3" rx="7.5" ry="1.7" fill="#fff" transform="rotate(1.9 325.8 169.3)"/><ellipse cx="331.7" cy="170.3" rx="4.9" ry="1.1" fill="#fff" transform="rotate(1 330.7 170.3)"/><ellipse cx="332.5" cy="171" rx="4.4" ry="1" fill="#fff" transform="rotate(0.7 331.5 171)"/><ellipse cx="334.2" cy="172.9" rx="3.2" ry="0.8" fill="#fff" transform="rotate(3.8 333.2 172.9)"/><ellipse cx="336" cy="173.4" rx="2.9" ry="0.7" fill="#fff" transform="rotate(-1.8 335 173.4)"/><ellipse cx="327.4" cy="182.4" rx="3" ry="1" fill="#f0a0f8" transform="rotate(-3.4 326.4 182.4)"/><ellipse cx="325.3" cy="182.6" rx="4.1" ry="1" fill="#f0a0f8" transform="rotate(-1 324.3 182.6)"/><ellipse cx="327.8" cy="180.8" rx="3.6" ry="1.1" fill="#f0a0f8" transform="rotate(2.7 326.8 180.8)"/><ellipse cx="325.2" cy="180.4" rx="4.7" ry="1" fill="#f0a0f8" transform="rotate(2.2 324.2 180.4)"/><ellipse cx="327.9" cy="188" rx="3.4" ry="1.1" fill="#f0a0f8" transform="rotate(-1 326.9 188)"/><ellipse cx="330.7" cy="190.2" rx="3.6" ry="1" fill="#f0a0f8" transform="rotate(2 329.7 190.2)"/><ellipse cx="332.4" cy="188" rx="3.7" ry="0.7" fill="#f0a0f8" transform="rotate(3 331.4 188)"/><ellipse cx="327.1" cy="186.6" rx="4.1" ry="0.9" fill="#f0a0f8" transform="rotate(1.5 326.1 186.6)"/><ellipse cx="323.7" cy="192.9" rx="6.5" ry="1.3" fill="#fff" transform="rotate(-3.1 322.7 192.9)"/><ellipse cx="328.9" cy="194.2" rx="7.2" ry="1.7" fill="#fff" transform="rotate(3.3 327.9 194.2)"/><ellipse cx="326.4" cy="195.5" rx="5.1" ry="1.2" fill="#fff" transform="rotate(-0.8 325.4 195.5)"/><ellipse cx="330.9" cy="196" rx="4.9" ry="1.3" fill="#fff" transform="rotate(-1.1 329.9 196)"/><ellipse cx="318.9" cy="211.6" rx="3.3" ry="0.7" fill="#d8c8f4" transform="rotate(0.5 317.9 211.6)"/><ellipse cx="321.3" cy="212.2" rx="4.3" ry="0.9" fill="#d8c8f4" transform="rotate(-2.6 320.3 212.2)"/><ellipse cx="321.1" cy="213.3" rx="3.1" ry="0.6" fill="#d8c8f4" transform="rotate(0.1 320.1 213.3)"/><ellipse cx="319.9" cy="212.2" rx="4.6" ry="0.9" fill="#d8c8f4" transform="rotate(2.4 318.9 212.2)"/><ellipse cx="324.9" cy="234.5" rx="3.4" ry="0.8" fill="#f0a0f8" transform="rotate(2.1 323.9 234.5)"/><ellipse cx="323.5" cy="235" rx="3.7" ry="0.9" fill="#f0a0f8" transform="rotate(3.7 322.5 235)"/><ellipse cx="324.4" cy="233.9" rx="4.1" ry="1.1" fill="#f0a0f8" transform="rotate(1.7 323.4 233.9)"/><ellipse cx="326" cy="233.6" rx="4.8" ry="1" fill="#f0a0f8" transform="rotate(2.8 325 233.6)"/><ellipse cx="316.8" cy="256.7" rx="4.6" ry="0.8" fill="#d8c8f4" transform="rotate(-2.7 315.8 256.7)"/><ellipse cx="317.1" cy="255.5" rx="3.1" ry="1.1" fill="#d8c8f4" transform="rotate(-3.5 316.1 255.5)"/><ellipse cx="317.7" cy="254.4" rx="3.9" ry="1" fill="#d8c8f4" transform="rotate(-2.6 316.7 254.4)"/><ellipse cx="316.3" cy="255.7" rx="3.7" ry="1" fill="#d8c8f4" transform="rotate(-3.7 315.3 255.7)"/><ellipse cx="328.2" cy="264.8" rx="5.5" ry="1.5" fill="#f4fffa" transform="rotate(-0.2 327.2 264.8)"/><ellipse cx="324.1" cy="267.9" rx="6.7" ry="1.1" fill="#f4fffa" transform="rotate(0.4 323.1 267.9)"/><ellipse cx="329.9" cy="265.7" rx="4.4" ry="0.9" fill="#f4fffa" transform="rotate(3.6 328.9 265.7)"/><ellipse cx="328.6" cy="265.2" rx="5.4" ry="1.3" fill="#f4fffa" transform="rotate(-1.8 327.6 265.2)"/><ellipse cx="324.6" cy="272.9" rx="3.3" ry="0.7" fill="#fff" transform="rotate(-0.2 323.6 272.9)"/><ellipse cx="320.7" cy="273.4" rx="4.5" ry="1" fill="#fff" transform="rotate(-2.7 319.7 273.4)"/><ellipse cx="319.3" cy="271.5" rx="3.4" ry="1.2" fill="#fff" transform="rotate(0.1 318.3 271.5)"/><ellipse cx="322.4" cy="274.2" rx="3.4" ry="1" fill="#fff" transform="rotate(-2.8 321.4 274.2)"/><ellipse cx="327.6" cy="273.6" rx="4.2" ry="1" fill="#fff" transform="rotate(2.6 326.6 273.6)"/><ellipse cx="323.7" cy="274.5" rx="4" ry="0.6" fill="#fff" transform="rotate(-0.2 322.7 274.5)"/><ellipse cx="325.9" cy="276.9" rx="3.7" ry="1" fill="#fff" transform="rotate(-1.6 324.9 276.9)"/><ellipse cx="327.7" cy="275" rx="4.4" ry="0.6" fill="#fff" transform="rotate(2.6 326.7 275)"/><ellipse cx="332.8" cy="285.4" rx="3.9" ry="0.7" fill="#fff" transform="rotate(-0.8 331.8 285.4)"/><ellipse cx="331.3" cy="287.6" rx="4.3" ry="0.9" fill="#fff" transform="rotate(-3.9 330.3 287.6)"/><ellipse cx="330.9" cy="286.7" rx="3" ry="0.9" fill="#fff" transform="rotate(-0.3 329.9 286.7)"/><ellipse cx="328.8" cy="287.6" rx="4.2" ry="0.7" fill="#fff" transform="rotate(0.9 327.8 287.6)"/><ellipse cx="318.4" cy="302.7" rx="5" ry="1.3" fill="#fff" transform="rotate(-1.3 317.4 302.7)"/><ellipse cx="322.2" cy="298.5" rx="3.8" ry="0.9" fill="#fff" transform="rotate(1.4 321.2 298.5)"/><ellipse cx="321.3" cy="299" rx="4.6" ry="1.4" fill="#fff" transform="rotate(0.7 320.3 299)"/><ellipse cx="316.5" cy="299.2" rx="3.8" ry="0.9" fill="#fff" transform="rotate(-0.7 315.5 299.2)"/><ellipse cx="320.4" cy="309.3" rx="5.5" ry="1.4" fill="#fff" transform="rotate(1.2 319.4 309.3)"/><ellipse cx="326.7" cy="308.7" rx="5.3" ry="1.2" fill="#fff" transform="rotate(-0.7 325.7 308.7)"/><ellipse cx="319.8" cy="306.3" rx="6.5" ry="1.8" fill="#fff" transform="rotate(2.3 318.8 306.3)"/><ellipse cx="325.7" cy="307.5" rx="4" ry="1.2" fill="#fff" transform="rotate(-1.3 324.7 307.5)"/>
</g></g>
<clipPath id="cb"><rect x="7.8" y="316.8" width="297.7" height="24.9"/></clipPath>
<rect x="7.8" y="316.8" width="297.7" height="24.9" fill="#000"/>
<g clip-path="url(#cb)"><g filter="url(#b15)">
<rect x="7.8" y="316.8" width="297.7" height="3.6" fill="#0a4216" opacity=".7"/>
<ellipse cx="16.3" cy="320" rx="5" ry="2.6" fill="#18a830" opacity=".8"/>
<ellipse cx="27.6" cy="320" rx="5" ry="2.6" fill="#18a830" opacity=".8"/>
<ellipse cx="38.9" cy="320" rx="5" ry="2.6" fill="#18a830" opacity=".8"/>
<ellipse cx="61.6" cy="320" rx="5" ry="2.6" fill="#18a830" opacity=".8"/>
<ellipse cx="106.8" cy="320" rx="5" ry="2.6" fill="#18a830" opacity=".8"/>
<ellipse cx="134" cy="320" rx="5" ry="2.6" fill="#18a830" opacity=".8"/>
<ellipse cx="177.6" cy="320" rx="5" ry="2.6" fill="#18a830" opacity=".8"/>
<ellipse cx="220.6" cy="320" rx="5" ry="2.6" fill="#18a830" opacity=".8"/>
<ellipse cx="254.6" cy="320" rx="5" ry="2.6" fill="#18a830" opacity=".8"/>
<ellipse cx="277.2" cy="320" rx="5" ry="2.6" fill="#18a830" opacity=".8"/>
<ellipse cx="35.7" cy="327.4" rx="2.8" ry="9.2" fill="#60d0c0" opacity=".85" transform="rotate(-2.4 35.7 327.4)"/><ellipse cx="33.7" cy="334.2" rx="2.8" ry="9.9" fill="#60d0c0" opacity=".85" transform="rotate(-1.5 33.7 334.2)"/><ellipse cx="29.3" cy="329.6" rx="2.9" ry="9.3" fill="#60d0c0" opacity=".85" transform="rotate(2.6 29.3 329.6)"/><ellipse cx="31.8" cy="329.7" rx="3.8" ry="8.7" fill="#60d0c0" opacity=".85" transform="rotate(-1.2 31.8 329.7)"/><ellipse cx="26.4" cy="325.6" rx="1.5" ry="5.2" fill="#b880e0" opacity=".85" transform="rotate(3 26.4 325.6)"/><ellipse cx="29.3" cy="323.8" rx="1.7" ry="5.5" fill="#b880e0" opacity=".85" transform="rotate(3.5 29.3 323.8)"/><ellipse cx="28.7" cy="324.2" rx="1.7" ry="5.2" fill="#b880e0" opacity=".85" transform="rotate(-3.5 28.7 324.2)"/><ellipse cx="26.6" cy="324.3" rx="2.2" ry="4.8" fill="#b880e0" opacity=".85" transform="rotate(-1.7 26.6 324.3)"/><ellipse cx="19.2" cy="329.9" rx="1.2" ry="3.1" fill="#c040d8" opacity=".85" transform="rotate(-2.9 19.2 329.9)"/><ellipse cx="17.7" cy="330.6" rx="1.2" ry="3.5" fill="#c040d8" opacity=".85" transform="rotate(2.6 17.7 330.6)"/><ellipse cx="46.2" cy="331" rx="1.5" ry="5.7" fill="#d070b0" opacity=".85" transform="rotate(3.2 46.2 331)"/><ellipse cx="45" cy="327.2" rx="2.2" ry="5.1" fill="#d070b0" opacity=".85" transform="rotate(1.4 45 327.2)"/><ellipse cx="47.8" cy="328.4" rx="1.4" ry="7.1" fill="#d070b0" opacity=".85" transform="rotate(1.1 47.8 328.4)"/><ellipse cx="45" cy="329.1" rx="1.7" ry="5.4" fill="#d070b0" opacity=".85" transform="rotate(1.4 45 329.1)"/><ellipse cx="51.3" cy="326.3" rx="2.2" ry="6.4" fill="#7858c0" opacity=".85" transform="rotate(-0.8 51.3 326.3)"/><ellipse cx="49.8" cy="327.3" rx="2.2" ry="5.6" fill="#7858c0" opacity=".85" transform="rotate(-3.5 49.8 327.3)"/><ellipse cx="48.7" cy="325.7" rx="1.5" ry="5.4" fill="#7858c0" opacity=".85" transform="rotate(3.9 48.7 325.7)"/><ellipse cx="48.5" cy="324.5" rx="1.6" ry="3.9" fill="#7858c0" opacity=".85" transform="rotate(1.9 48.5 324.5)"/><ellipse cx="57" cy="331.2" rx="1.4" ry="4" fill="#7858c0" opacity=".85" transform="rotate(1.9 57 331.2)"/><ellipse cx="59.2" cy="331.8" rx="1.5" ry="4.2" fill="#7858c0" opacity=".85" transform="rotate(-3 59.2 331.8)"/><ellipse cx="12.4" cy="334.8" rx="1.6" ry="4.5" fill="#7858c0" opacity=".85" transform="rotate(3.2 12.4 334.8)"/><ellipse cx="13.5" cy="333.3" rx="1.3" ry="3.8" fill="#7858c0" opacity=".85" transform="rotate(-3.1 13.5 333.3)"/><ellipse cx="78" cy="325.5" rx="0.8" ry="3.1" fill="#7858c0" opacity=".85" transform="rotate(0.5 78 325.5)"/><ellipse cx="77.4" cy="323.7" rx="1" ry="3.1" fill="#7858c0" opacity=".85" transform="rotate(2.2 77.4 323.7)"/><ellipse cx="85.1" cy="322.9" rx="0.9" ry="2.2" fill="#7858c0" opacity=".85" transform="rotate(-0.4 85.1 322.9)"/><ellipse cx="85.2" cy="323.7" rx="0.8" ry="3.8" fill="#7858c0" opacity=".85" transform="rotate(2.8 85.2 323.7)"/><ellipse cx="121.8" cy="319.2" rx="1" ry="3.1" fill="#d070b0" opacity=".85" transform="rotate(0.9 121.8 319.2)"/><ellipse cx="121.7" cy="321.2" rx="0.8" ry="2.9" fill="#d070b0" opacity=".85" transform="rotate(-2.8 121.7 321.2)"/><ellipse cx="129.4" cy="328.4" rx="1.4" ry="5.6" fill="#7858c0" opacity=".85" transform="rotate(0.2 129.4 328.4)"/><ellipse cx="126.5" cy="324.9" rx="2.2" ry="4.3" fill="#7858c0" opacity=".85" transform="rotate(1.1 126.5 324.9)"/><ellipse cx="126.3" cy="328.5" rx="1.3" ry="4.7" fill="#7858c0" opacity=".85" transform="rotate(-1.9 126.3 328.5)"/><ellipse cx="130.2" cy="325.2" rx="1.7" ry="4.4" fill="#7858c0" opacity=".85" transform="rotate(1.2 130.2 325.2)"/><ellipse cx="145.2" cy="334.3" rx="2.8" ry="8.4" fill="#b880e0" opacity=".85" transform="rotate(3.2 145.2 334.3)"/><ellipse cx="140.4" cy="330.7" rx="2.4" ry="9.2" fill="#b880e0" opacity=".85" transform="rotate(-1.1 140.4 330.7)"/><ellipse cx="141.7" cy="331" rx="2.7" ry="7.3" fill="#b880e0" opacity=".85" transform="rotate(-0.4 141.7 331)"/><ellipse cx="144.4" cy="328.2" rx="2.9" ry="5.9" fill="#b880e0" opacity=".85" transform="rotate(0.4 144.4 328.2)"/><ellipse cx="139.5" cy="323.1" rx="1.6" ry="3.7" fill="#c040d8" opacity=".85" transform="rotate(-1.5 139.5 323.1)"/><ellipse cx="139.5" cy="323.5" rx="1.7" ry="5.7" fill="#c040d8" opacity=".85" transform="rotate(-3.9 139.5 323.5)"/><ellipse cx="142.9" cy="323.2" rx="1.8" ry="3.4" fill="#c040d8" opacity=".85" transform="rotate(3.7 142.9 323.2)"/><ellipse cx="141.2" cy="323" rx="1.5" ry="4.5" fill="#c040d8" opacity=".85" transform="rotate(0.9 141.2 323)"/><ellipse cx="153.5" cy="330.8" rx="1.8" ry="4.9" fill="#7858c0" opacity=".85" transform="rotate(2 153.5 330.8)"/><ellipse cx="152.5" cy="328.4" rx="1.5" ry="4.2" fill="#7858c0" opacity=".85" transform="rotate(2.4 152.5 328.4)"/><ellipse cx="156" cy="330" rx="1.5" ry="4.6" fill="#7858c0" opacity=".85" transform="rotate(1.4 156 330)"/><ellipse cx="156.6" cy="328.5" rx="1.6" ry="5.9" fill="#7858c0" opacity=".85" transform="rotate(-1.5 156.6 328.5)"/><ellipse cx="159.9" cy="332" rx="1.5" ry="6" fill="#b880e0" opacity=".85" transform="rotate(2.1 159.9 332)"/><ellipse cx="159" cy="328.1" rx="2.4" ry="5.7" fill="#b880e0" opacity=".85" transform="rotate(1.1 159 328.1)"/><ellipse cx="160.6" cy="328" rx="2" ry="6.4" fill="#b880e0" opacity=".85" transform="rotate(-4 160.6 328)"/><ellipse cx="158" cy="331.6" rx="2.5" ry="6.2" fill="#b880e0" opacity=".85" transform="rotate(3.3 158 331.6)"/><ellipse cx="165.2" cy="329.1" rx="2.5" ry="5.9" fill="#e08040" opacity=".85" transform="rotate(-1 165.2 329.1)"/><ellipse cx="163.2" cy="331.2" rx="1.9" ry="4.7" fill="#e08040" opacity=".85" transform="rotate(1.9 163.2 331.2)"/><ellipse cx="161.4" cy="329.1" rx="2.4" ry="7.4" fill="#e08040" opacity=".85" transform="rotate(0.4 161.4 329.1)"/><ellipse cx="161.4" cy="329.3" rx="2.7" ry="5.5" fill="#e08040" opacity=".85" transform="rotate(0.5 161.4 329.3)"/><ellipse cx="168.1" cy="331.6" rx="2.2" ry="5.9" fill="#b880e0" opacity=".85" transform="rotate(2.7 168.1 331.6)"/><ellipse cx="171.8" cy="327.1" rx="1.6" ry="6.1" fill="#b880e0" opacity=".85" transform="rotate(-0.5 171.8 327.1)"/><ellipse cx="170.7" cy="328.5" rx="2.2" ry="7.8" fill="#b880e0" opacity=".85" transform="rotate(1.5 170.7 328.5)"/><ellipse cx="171.3" cy="328.6" rx="2.5" ry="4.7" fill="#b880e0" opacity=".85" transform="rotate(-2.7 171.3 328.6)"/><ellipse cx="175.8" cy="327.5" rx="1.9" ry="6.1" fill="#d0c060" opacity=".85" transform="rotate(-1.2 175.8 327.5)"/><ellipse cx="177.8" cy="327.5" rx="2.5" ry="6.3" fill="#d0c060" opacity=".85" transform="rotate(2.7 177.8 327.5)"/><ellipse cx="178.2" cy="326.1" rx="3.1" ry="6.7" fill="#d0c060" opacity=".85" transform="rotate(-1.4 178.2 326.1)"/><ellipse cx="176" cy="328.2" rx="2.7" ry="5.8" fill="#d0c060" opacity=".85" transform="rotate(0.6 176 328.2)"/><ellipse cx="181" cy="333.7" rx="1.8" ry="6.7" fill="#b880e0" opacity=".85" transform="rotate(1.7 181 333.7)"/><ellipse cx="183.9" cy="334.6" rx="2.5" ry="5.8" fill="#b880e0" opacity=".85" transform="rotate(3.3 183.9 334.6)"/><ellipse cx="183.2" cy="334.7" rx="2.2" ry="4.6" fill="#b880e0" opacity=".85" transform="rotate(-3.2 183.2 334.7)"/><ellipse cx="185.1" cy="333.9" rx="2.2" ry="4" fill="#b880e0" opacity=".85" transform="rotate(0.5 185.1 333.9)"/><ellipse cx="187" cy="323.8" rx="2.2" ry="3.9" fill="#7858c0" opacity=".85" transform="rotate(2.1 187 323.8)"/><ellipse cx="186" cy="324.9" rx="1.5" ry="5.8" fill="#7858c0" opacity=".85" transform="rotate(-2.4 186 324.9)"/><ellipse cx="188.3" cy="323.7" rx="2" ry="3.8" fill="#7858c0" opacity=".85" transform="rotate(0.7 188.3 323.7)"/><ellipse cx="189.8" cy="325.4" rx="1.6" ry="5.5" fill="#7858c0" opacity=".85" transform="rotate(3.6 189.8 325.4)"/><ellipse cx="193.7" cy="332" rx="3.2" ry="9.8" fill="#b880e0" opacity=".85" transform="rotate(-1.9 193.7 332)"/><ellipse cx="191.7" cy="328.5" rx="2.4" ry="8.2" fill="#b880e0" opacity=".85" transform="rotate(-1.7 191.7 328.5)"/><ellipse cx="192.5" cy="328.6" rx="2.4" ry="8" fill="#b880e0" opacity=".85" transform="rotate(-1.7 192.5 328.6)"/><ellipse cx="195.3" cy="328.7" rx="2.3" ry="9.9" fill="#b880e0" opacity=".85" transform="rotate(2.9 195.3 328.7)"/><ellipse cx="207.5" cy="329.7" rx="2" ry="5.1" fill="#7858c0" opacity=".85" transform="rotate(0.3 207.5 329.7)"/><ellipse cx="209" cy="328.8" rx="1.5" ry="5.8" fill="#7858c0" opacity=".85" transform="rotate(-3.6 209 328.8)"/><ellipse cx="206.4" cy="330.1" rx="1.5" ry="5.8" fill="#7858c0" opacity=".85" transform="rotate(-0.4 206.4 330.1)"/><ellipse cx="208.1" cy="327.5" rx="1.7" ry="6.3" fill="#7858c0" opacity=".85" transform="rotate(0.5 208.1 327.5)"/><ellipse cx="215.2" cy="326.5" rx="1" ry="4.7" fill="#7858c0" opacity=".85" transform="rotate(3.5 215.2 326.5)"/><ellipse cx="214.6" cy="327.5" rx="1" ry="4.6" fill="#7858c0" opacity=".85" transform="rotate(0.5 214.6 327.5)"/><ellipse cx="225.1" cy="324.1" rx="2.1" ry="4.4" fill="#7858c0" opacity=".85" transform="rotate(-3.5 225.1 324.1)"/><ellipse cx="220.9" cy="326.6" rx="1.8" ry="3.5" fill="#7858c0" opacity=".85" transform="rotate(3.9 220.9 326.6)"/><ellipse cx="224.5" cy="326.7" rx="1.8" ry="5.8" fill="#7858c0" opacity=".85" transform="rotate(-3.4 224.5 326.7)"/><ellipse cx="221.4" cy="326" rx="1.6" ry="5" fill="#7858c0" opacity=".85" transform="rotate(-0 221.4 326)"/><ellipse cx="236.3" cy="323.4" rx="1.7" ry="4.7" fill="#d070b0" opacity=".85" transform="rotate(-3.4 236.3 323.4)"/><ellipse cx="235.6" cy="324.7" rx="1.8" ry="6.4" fill="#d070b0" opacity=".85" transform="rotate(-2.9 235.6 324.7)"/><ellipse cx="234.6" cy="323.8" rx="2.2" ry="5.6" fill="#d070b0" opacity=".85" transform="rotate(3.8 234.6 323.8)"/><ellipse cx="237.3" cy="326.7" rx="2.2" ry="6" fill="#d070b0" opacity=".85" transform="rotate(-3.8 237.3 326.7)"/><ellipse cx="242.7" cy="328" rx="2.8" ry="8.3" fill="#e08040" opacity=".85" transform="rotate(0.9 242.7 328)"/><ellipse cx="239.3" cy="331" rx="3.3" ry="7.5" fill="#e08040" opacity=".85" transform="rotate(-3.7 239.3 331)"/><ellipse cx="244.7" cy="325.5" rx="1.9" ry="9.5" fill="#e08040" opacity=".85" transform="rotate(-3.7 244.7 325.5)"/><ellipse cx="243.4" cy="330.3" rx="2.7" ry="7.5" fill="#e08040" opacity=".85" transform="rotate(2.1 243.4 330.3)"/><ellipse cx="242.7" cy="331" rx="2.5" ry="4.5" fill="#30b0a0" opacity=".85" transform="rotate(3.8 242.7 331)"/><ellipse cx="245" cy="331.1" rx="2" ry="5.6" fill="#30b0a0" opacity=".85" transform="rotate(-3.9 245 331.1)"/><ellipse cx="244.2" cy="330.7" rx="2.2" ry="6.5" fill="#30b0a0" opacity=".85" transform="rotate(-1.3 244.2 330.7)"/><ellipse cx="245.3" cy="330.2" rx="2.7" ry="5.2" fill="#30b0a0" opacity=".85" transform="rotate(-2.6 245.3 330.2)"/><ellipse cx="253.7" cy="336" rx="1.5" ry="3.7" fill="#7858c0" opacity=".85" transform="rotate(-1.3 253.7 336)"/><ellipse cx="255.1" cy="336.3" rx="1.3" ry="3.2" fill="#7858c0" opacity=".85" transform="rotate(-2 255.1 336.3)"/><ellipse cx="265.6" cy="329.8" rx="1.5" ry="4.1" fill="#7858c0" opacity=".85" transform="rotate(-1.4 265.6 329.8)"/><ellipse cx="267.8" cy="329.1" rx="1.8" ry="5.8" fill="#7858c0" opacity=".85" transform="rotate(-3.4 267.8 329.1)"/><ellipse cx="265.8" cy="329.3" rx="1.6" ry="4.1" fill="#7858c0" opacity=".85" transform="rotate(3.9 265.8 329.3)"/><ellipse cx="266.4" cy="327.5" rx="2.2" ry="6.2" fill="#7858c0" opacity=".85" transform="rotate(-0.9 266.4 327.5)"/><ellipse cx="279.7" cy="327.6" rx="1.6" ry="5.8" fill="#7858c0" opacity=".85" transform="rotate(2.3 279.7 327.6)"/><ellipse cx="277.4" cy="328.7" rx="2" ry="5.2" fill="#7858c0" opacity=".85" transform="rotate(-0.2 277.4 328.7)"/><ellipse cx="276.1" cy="330.7" rx="1.6" ry="4.9" fill="#7858c0" opacity=".85" transform="rotate(-3.5 276.1 330.7)"/><ellipse cx="276.7" cy="331.1" rx="2.1" ry="4" fill="#7858c0" opacity=".85" transform="rotate(3.7 276.7 331.1)"/><ellipse cx="283.4" cy="335.3" rx="1.9" ry="8.6" fill="#60d0c0" opacity=".85" transform="rotate(1.7 283.4 335.3)"/><ellipse cx="282.5" cy="335.4" rx="2.6" ry="5.3" fill="#60d0c0" opacity=".85" transform="rotate(3.1 282.5 335.4)"/><ellipse cx="287.3" cy="334" rx="2.2" ry="6.6" fill="#60d0c0" opacity=".85" transform="rotate(-3 287.3 334)"/><ellipse cx="287.2" cy="331.2" rx="2" ry="5" fill="#60d0c0" opacity=".85" transform="rotate(-1.2 287.2 331.2)"/><ellipse cx="294.3" cy="322.4" rx="1.5" ry="4.5" fill="#b880e0" opacity=".85" transform="rotate(0.2 294.3 322.4)"/><ellipse cx="295.7" cy="324.9" rx="2" ry="6.5" fill="#b880e0" opacity=".85" transform="rotate(3.6 295.7 324.9)"/><ellipse cx="293.9" cy="322.6" rx="1.7" ry="4.1" fill="#b880e0" opacity=".85" transform="rotate(2.1 293.9 322.6)"/><ellipse cx="295.3" cy="326.8" rx="1.8" ry="4.4" fill="#b880e0" opacity=".85" transform="rotate(0.5 295.3 326.8)"/><ellipse cx="301.7" cy="325.7" rx="2.3" ry="8.8" fill="#b880e0" opacity=".85" transform="rotate(0.8 301.7 325.7)"/><ellipse cx="299.6" cy="329.1" rx="3" ry="5.5" fill="#b880e0" opacity=".85" transform="rotate(3.8 299.6 329.1)"/><ellipse cx="301.5" cy="324" rx="1.8" ry="6.4" fill="#b880e0" opacity=".85" transform="rotate(-2.7 301.5 324)"/><ellipse cx="301.3" cy="325" rx="1.7" ry="5.6" fill="#b880e0" opacity=".85" transform="rotate(-2.2 301.3 325)"/><ellipse cx="303.2" cy="334.1" rx="1.9" ry="6.1" fill="#b880e0" opacity=".85" transform="rotate(-2.5 303.2 334.1)"/><ellipse cx="302.2" cy="330.2" rx="1.7" ry="4" fill="#b880e0" opacity=".85" transform="rotate(1 302.2 330.2)"/><ellipse cx="303.1" cy="332" rx="1.7" ry="6" fill="#b880e0" opacity=".85" transform="rotate(-1.1 303.1 332)"/><ellipse cx="303.6" cy="334.6" rx="2" ry="5.3" fill="#b880e0" opacity=".85" transform="rotate(-0.3 303.6 334.6)"/><ellipse cx="113.1" cy="330.9" rx="1.6" ry="3.1" fill="#6a6090" opacity=".85" transform="rotate(2.8 113.1 330.9)"/><ellipse cx="110.5" cy="332.8" rx="1.7" ry="3.7" fill="#6a6090" opacity=".85" transform="rotate(-1.7 110.5 332.8)"/><ellipse cx="270.6" cy="331.6" rx="1.2" ry="2.8" fill="#7858c0" opacity=".85" transform="rotate(-2.7 270.6 331.6)"/><ellipse cx="269.2" cy="334" rx="1.3" ry="2.5" fill="#7858c0" opacity=".85" transform="rotate(-1.2 269.2 334)"/><ellipse cx="289.7" cy="328.6" rx="1.2" ry="4.4" fill="#b880e0" opacity=".85" transform="rotate(-1 289.7 328.6)"/><ellipse cx="289.7" cy="326.9" rx="1.3" ry="3" fill="#b880e0" opacity=".85" transform="rotate(1.1 289.7 326.9)"/><ellipse cx="22.9" cy="331" rx="1" ry="2.9" fill="#b880e0" opacity=".85" transform="rotate(1.1 22.9 331)"/><ellipse cx="23.4" cy="332.4" rx="0.8" ry="2.8" fill="#b880e0" opacity=".85" transform="rotate(2.4 23.4 332.4)"/><ellipse cx="268.4" cy="328.2" rx="0.7" ry="2.6" fill="#7858c0" opacity=".85" transform="rotate(3.2 268.4 328.2)"/><ellipse cx="267.6" cy="328.7" rx="1" ry="2.3" fill="#7858c0" opacity=".85" transform="rotate(-0.1 267.6 328.7)"/><ellipse cx="49.2" cy="330.6" rx="1.1" ry="3.7" fill="#6a6090" opacity=".85" transform="rotate(-1.3 49.2 330.6)"/><ellipse cx="49" cy="329.8" rx="1.3" ry="3.7" fill="#6a6090" opacity=".85" transform="rotate(3.8 49 329.8)"/><ellipse cx="149" cy="324.3" rx="1" ry="3" fill="#b880e0" opacity=".85" transform="rotate(2.5 149 324.3)"/><ellipse cx="147.8" cy="324" rx="0.8" ry="3" fill="#b880e0" opacity=".85" transform="rotate(-2 147.8 324)"/><ellipse cx="167.9" cy="330.1" rx="1" ry="3.2" fill="#7858c0" opacity=".85" transform="rotate(2.3 167.9 330.1)"/><ellipse cx="170.5" cy="329.2" rx="1.2" ry="4" fill="#7858c0" opacity=".85" transform="rotate(-3.5 170.5 329.2)"/><ellipse cx="257.5" cy="335" rx="1.4" ry="4.3" fill="#6a6090" opacity=".85" transform="rotate(-1.5 257.5 335)"/><ellipse cx="259.3" cy="333.5" rx="1.5" ry="3.8" fill="#6a6090" opacity=".85" transform="rotate(1 259.3 333.5)"/><ellipse cx="174.9" cy="334.6" rx="1.1" ry="1.9" fill="#6a6090" opacity=".85" transform="rotate(2.1 174.9 334.6)"/><ellipse cx="175.2" cy="336.2" rx="1.2" ry="2.8" fill="#6a6090" opacity=".85" transform="rotate(1.1 175.2 336.2)"/><ellipse cx="40.2" cy="323.3" rx="0.6" ry="2.3" fill="#6a6090" opacity=".85" transform="rotate(-2.7 40.2 323.3)"/><ellipse cx="39.8" cy="324" rx="1" ry="2.8" fill="#6a6090" opacity=".85" transform="rotate(1.6 39.8 324)"/><ellipse cx="125.5" cy="325.4" rx="1.1" ry="3.2" fill="#7858c0" opacity=".85" transform="rotate(1.2 125.5 325.4)"/><ellipse cx="127.6" cy="326" rx="1.6" ry="3.3" fill="#7858c0" opacity=".85" transform="rotate(3.3 127.6 326)"/><ellipse cx="58.3" cy="331.6" rx="1.6" ry="3.9" fill="#7858c0" opacity=".85" transform="rotate(2.2 58.3 331.6)"/><ellipse cx="56" cy="331.8" rx="1.3" ry="3.7" fill="#7858c0" opacity=".85" transform="rotate(-3.7 56 331.8)"/><ellipse cx="117.6" cy="333.9" rx="1" ry="2.6" fill="#7858c0" opacity=".85" transform="rotate(-2 117.6 333.9)"/><ellipse cx="117.7" cy="332.3" rx="0.8" ry="2.2" fill="#7858c0" opacity=".85" transform="rotate(-3.4 117.7 332.3)"/><ellipse cx="61.6" cy="329.2" rx="1.7" ry="3.8" fill="#7858c0" opacity=".85" transform="rotate(1.1 61.6 329.2)"/><ellipse cx="61.8" cy="330.4" rx="1.3" ry="3.2" fill="#7858c0" opacity=".85" transform="rotate(3.7 61.8 330.4)"/><ellipse cx="299.7" cy="334.3" rx="1.1" ry="3" fill="#6a6090" opacity=".85" transform="rotate(0.4 299.7 334.3)"/><ellipse cx="300.9" cy="335.6" rx="0.8" ry="3.4" fill="#6a6090" opacity=".85" transform="rotate(0.3 300.9 335.6)"/><ellipse cx="258.8" cy="332.1" rx="1.2" ry="2.5" fill="#6a6090" opacity=".85" transform="rotate(-3.5 258.8 332.1)"/><ellipse cx="258.9" cy="329.7" rx="1.2" ry="2.6" fill="#6a6090" opacity=".85" transform="rotate(1.8 258.9 329.7)"/><ellipse cx="58.2" cy="335.6" rx="0.9" ry="2.5" fill="#7858c0" opacity=".85" transform="rotate(-0.3 58.2 335.6)"/><ellipse cx="56.8" cy="335.9" rx="1" ry="2.2" fill="#7858c0" opacity=".85" transform="rotate(3.1 56.8 335.9)"/><ellipse cx="242" cy="327.5" rx="1.3" ry="2.9" fill="#6a6090" opacity=".85" transform="rotate(-0.5 242 327.5)"/><ellipse cx="243.1" cy="327.8" rx="1.3" ry="3.5" fill="#6a6090" opacity=".85" transform="rotate(-0.8 243.1 327.8)"/><ellipse cx="118.2" cy="333.6" rx="0.7" ry="3" fill="#7858c0" opacity=".85" transform="rotate(1.7 118.2 333.6)"/><ellipse cx="116.6" cy="332.3" rx="0.7" ry="2.7" fill="#7858c0" opacity=".85" transform="rotate(-3.4 116.6 332.3)"/><ellipse cx="232.4" cy="335.3" rx="1.4" ry="2.4" fill="#7858c0" opacity=".85" transform="rotate(2.8 232.4 335.3)"/><ellipse cx="232.7" cy="335.6" rx="1.4" ry="2.8" fill="#7858c0" opacity=".85" transform="rotate(-3 232.7 335.6)"/><ellipse cx="132.3" cy="333" rx="1.2" ry="4.3" fill="#b880e0" opacity=".85" transform="rotate(-0.7 132.3 333)"/><ellipse cx="134.5" cy="333.3" rx="1.5" ry="3" fill="#b880e0" opacity=".85" transform="rotate(1.7 134.5 333.3)"/><ellipse cx="294.8" cy="329.9" rx="1.3" ry="3.8" fill="#6a6090" opacity=".85" transform="rotate(-1.5 294.8 329.9)"/><ellipse cx="295" cy="330.5" rx="1.6" ry="3.4" fill="#6a6090" opacity=".85" transform="rotate(-0.4 295 330.5)"/><ellipse cx="295.3" cy="324.9" rx="0.9" ry="2.6" fill="#6a6090" opacity=".85" transform="rotate(3.2 295.3 324.9)"/><ellipse cx="295" cy="326.2" rx="1" ry="2.5" fill="#6a6090" opacity=".85" transform="rotate(1.9 295 326.2)"/><ellipse cx="123.8" cy="332.8" rx="0.9" ry="2.9" fill="#7858c0" opacity=".85" transform="rotate(1.4 123.8 332.8)"/><ellipse cx="123.6" cy="333.1" rx="0.9" ry="1.9" fill="#7858c0" opacity=".85" transform="rotate(0.3 123.6 333.1)"/><ellipse cx="218.6" cy="325.9" rx="0.6" ry="2.8" fill="#6a6090" opacity=".85" transform="rotate(-0.7 218.6 325.9)"/><ellipse cx="218.4" cy="325.4" rx="0.7" ry="2.7" fill="#6a6090" opacity=".85" transform="rotate(-0.8 218.4 325.4)"/><ellipse cx="243.8" cy="330.7" rx="1" ry="4.6" fill="#6a6090" opacity=".85" transform="rotate(0.7 243.8 330.7)"/><ellipse cx="246" cy="330.1" rx="1.4" ry="3.5" fill="#6a6090" opacity=".85" transform="rotate(1.7 246 330.1)"/><ellipse cx="261.3" cy="326.2" rx="0.8" ry="2.9" fill="#6a6090" opacity=".85" transform="rotate(1.6 261.3 326.2)"/><ellipse cx="260.8" cy="325.7" rx="0.8" ry="3.6" fill="#6a6090" opacity=".85" transform="rotate(2.2 260.8 325.7)"/><ellipse cx="245.1" cy="335.2" rx="0.8" ry="3.3" fill="#6a6090" opacity=".85" transform="rotate(0.5 245.1 335.2)"/><ellipse cx="244.5" cy="335.6" rx="1" ry="2" fill="#6a6090" opacity=".85" transform="rotate(3.1 244.5 335.6)"/><ellipse cx="220.7" cy="329.7" rx="1.3" ry="4.7" fill="#7858c0" opacity=".85" transform="rotate(-2.8 220.7 329.7)"/><ellipse cx="221.4" cy="329.5" rx="1.8" ry="4.1" fill="#7858c0" opacity=".85" transform="rotate(0.6 221.4 329.5)"/><ellipse cx="123.7" cy="334.5" rx="0.7" ry="3.1" fill="#b880e0" opacity=".85" transform="rotate(-1.6 123.7 334.5)"/><ellipse cx="124.6" cy="333.9" rx="0.9" ry="3.2" fill="#b880e0" opacity=".85" transform="rotate(-1.8 124.6 333.9)"/><ellipse cx="264" cy="329.2" rx="1" ry="2.3" fill="#6a6090" opacity=".85" transform="rotate(1.3 264 329.2)"/><ellipse cx="263.4" cy="328.6" rx="1.4" ry="3.9" fill="#6a6090" opacity=".85" transform="rotate(-2 263.4 328.6)"/><ellipse cx="271.9" cy="335.5" rx="1" ry="1.8" fill="#7858c0" opacity=".85" transform="rotate(1.9 271.9 335.5)"/><ellipse cx="272.7" cy="335.7" rx="0.6" ry="2.7" fill="#7858c0" opacity=".85" transform="rotate(2.6 272.7 335.7)"/><ellipse cx="175" cy="326.1" rx="1.1" ry="3.3" fill="#6a6090" opacity=".85" transform="rotate(-1.3 175 326.1)"/><ellipse cx="175.1" cy="326.2" rx="0.9" ry="2.9" fill="#6a6090" opacity=".85" transform="rotate(-0.5 175.1 326.2)"/><ellipse cx="174" cy="326.4" rx="1.7" ry="4.1" fill="#6a6090" opacity=".85" transform="rotate(-2.2 174 326.4)"/><ellipse cx="174.2" cy="324.3" rx="1.7" ry="3" fill="#6a6090" opacity=".85" transform="rotate(-1.3 174.2 324.3)"/><ellipse cx="63.2" cy="330" rx="1.7" ry="4.8" fill="#7858c0" opacity=".85" transform="rotate(1.4 63.2 330)"/><ellipse cx="62.9" cy="329.1" rx="1.2" ry="4.5" fill="#7858c0" opacity=".85" transform="rotate(3.1 62.9 329.1)"/><ellipse cx="128.8" cy="324.7" rx="1.1" ry="3.4" fill="#6a6090" opacity=".85" transform="rotate(1.7 128.8 324.7)"/><ellipse cx="130.4" cy="322" rx="1.5" ry="2.7" fill="#6a6090" opacity=".85" transform="rotate(0.3 130.4 322)"/><ellipse cx="124.8" cy="324.1" rx="1.1" ry="2.4" fill="#b880e0" opacity=".85" transform="rotate(3.9 124.8 324.1)"/><ellipse cx="127.1" cy="324.2" rx="0.9" ry="2.4" fill="#b880e0" opacity=".85" transform="rotate(-3.8 127.1 324.2)"/><ellipse cx="251.2" cy="327.5" rx="1.5" ry="3.4" fill="#7858c0" opacity=".85" transform="rotate(1.6 251.2 327.5)"/><ellipse cx="252.2" cy="326.2" rx="1.4" ry="3.4" fill="#7858c0" opacity=".85" transform="rotate(-1.2 252.2 326.2)"/><ellipse cx="262.6" cy="337.5" rx="1" ry="2.8" fill="#7858c0" opacity=".85" transform="rotate(-3.9 262.6 337.5)"/><ellipse cx="263.6" cy="337.4" rx="0.9" ry="2.8" fill="#7858c0" opacity=".85" transform="rotate(2.8 263.6 337.4)"/><ellipse cx="285.7" cy="323.6" rx="1.7" ry="3.5" fill="#6a6090" opacity=".85" transform="rotate(2 285.7 323.6)"/><ellipse cx="286.2" cy="324.1" rx="1.4" ry="4.4" fill="#6a6090" opacity=".85" transform="rotate(-0.7 286.2 324.1)"/><ellipse cx="167.9" cy="332.8" rx="1" ry="2.8" fill="#6a6090" opacity=".85" transform="rotate(0.3 167.9 332.8)"/><ellipse cx="169" cy="333.9" rx="0.7" ry="2.3" fill="#6a6090" opacity=".85" transform="rotate(-1.6 169 333.9)"/><ellipse cx="231.6" cy="326.4" rx="0.9" ry="3.2" fill="#b880e0" opacity=".85" transform="rotate(-2.5 231.6 326.4)"/><ellipse cx="231.7" cy="328.7" rx="1.2" ry="3.4" fill="#b880e0" opacity=".85" transform="rotate(2 231.7 328.7)"/><ellipse cx="269.5" cy="323.9" rx="0.9" ry="2.3" fill="#6a6090" opacity=".85" transform="rotate(3.9 269.5 323.9)"/><ellipse cx="270.4" cy="324.8" rx="0.7" ry="1.6" fill="#6a6090" opacity=".85" transform="rotate(3.8 270.4 324.8)"/><ellipse cx="164.5" cy="335.3" rx="1.3" ry="2.7" fill="#6a6090" opacity=".85" transform="rotate(0.1 164.5 335.3)"/><ellipse cx="163.3" cy="336.5" rx="0.8" ry="4" fill="#6a6090" opacity=".85" transform="rotate(-2.8 163.3 336.5)"/><ellipse cx="205.6" cy="334.6" rx="1.4" ry="3" fill="#6a6090" opacity=".85" transform="rotate(3.5 205.6 334.6)"/><ellipse cx="206.1" cy="334.8" rx="1.4" ry="4.1" fill="#6a6090" opacity=".85" transform="rotate(-2.6 206.1 334.8)"/><ellipse cx="152.2" cy="335.5" rx="0.8" ry="2.9" fill="#7858c0" opacity=".85" transform="rotate(-0.4 152.2 335.5)"/><ellipse cx="150.9" cy="335.7" rx="1" ry="2.8" fill="#7858c0" opacity=".85" transform="rotate(-3.9 150.9 335.7)"/><ellipse cx="276.9" cy="322.7" rx="0.6" ry="2" fill="#b880e0" opacity=".85" transform="rotate(2.1 276.9 322.7)"/><ellipse cx="277.6" cy="323" rx="0.7" ry="2.5" fill="#b880e0" opacity=".85" transform="rotate(1.1 277.6 323)"/><ellipse cx="159.3" cy="326.4" rx="1.3" ry="3.8" fill="#6a6090" opacity=".85" transform="rotate(-3.5 159.3 326.4)"/><ellipse cx="159.2" cy="325.7" rx="1" ry="2.6" fill="#6a6090" opacity=".85" transform="rotate(-3.8 159.2 325.7)"/><ellipse cx="141.7" cy="326.5" rx="1.2" ry="4.9" fill="#6a6090" opacity=".85" transform="rotate(-1.9 141.7 326.5)"/><ellipse cx="140.7" cy="328.8" rx="1.4" ry="4.2" fill="#6a6090" opacity=".85" transform="rotate(3.5 140.7 328.8)"/><ellipse cx="170.2" cy="332" rx="1.2" ry="2.6" fill="#7858c0" opacity=".85" transform="rotate(-2 170.2 332)"/><ellipse cx="169.2" cy="333.8" rx="1.3" ry="2.8" fill="#7858c0" opacity=".85" transform="rotate(-2.1 169.2 333.8)"/><ellipse cx="56.7" cy="328" rx="0.8" ry="3.3" fill="#7858c0" opacity=".85" transform="rotate(-2.5 56.7 328)"/><ellipse cx="55" cy="327.9" rx="1.2" ry="3.6" fill="#7858c0" opacity=".85" transform="rotate(3.8 55 327.9)"/><ellipse cx="13" cy="330.9" rx="0.9" ry="2.2" fill="#7858c0" opacity=".85" transform="rotate(-0.1 13 330.9)"/><ellipse cx="12.7" cy="329.6" rx="0.8" ry="2.2" fill="#7858c0" opacity=".85" transform="rotate(-3.6 12.7 329.6)"/><ellipse cx="289.5" cy="334.7" rx="0.7" ry="2" fill="#7858c0" opacity=".85" transform="rotate(-2.8 289.5 334.7)"/><ellipse cx="289.4" cy="335.8" rx="0.8" ry="1.8" fill="#7858c0" opacity=".85" transform="rotate(-0 289.4 335.8)"/><ellipse cx="61.3" cy="324.6" rx="0.7" ry="2" fill="#b880e0" opacity=".85" transform="rotate(1.8 61.3 324.6)"/><ellipse cx="61.9" cy="323.1" rx="0.7" ry="1.7" fill="#b880e0" opacity=".85" transform="rotate(-0.3 61.9 323.1)"/><ellipse cx="299.7" cy="330.4" rx="1.2" ry="3.6" fill="#7858c0" opacity=".85" transform="rotate(1.8 299.7 330.4)"/><ellipse cx="300.3" cy="328.2" rx="0.9" ry="2.4" fill="#7858c0" opacity=".85" transform="rotate(-3.7 300.3 328.2)"/><ellipse cx="239.5" cy="335.3" rx="0.6" ry="2.1" fill="#6a6090" opacity=".85" transform="rotate(-3.6 239.5 335.3)"/><ellipse cx="238.9" cy="337" rx="0.6" ry="2.9" fill="#6a6090" opacity=".85" transform="rotate(-3.1 238.9 337)"/><ellipse cx="123.3" cy="336.1" rx="1" ry="2.7" fill="#7858c0" opacity=".85" transform="rotate(1.1 123.3 336.1)"/><ellipse cx="123.2" cy="335.7" rx="1.2" ry="3.7" fill="#7858c0" opacity=".85" transform="rotate(-2.8 123.2 335.7)"/><ellipse cx="163.9" cy="323.4" rx="1.2" ry="3.1" fill="#6a6090" opacity=".85" transform="rotate(-3.7 163.9 323.4)"/><ellipse cx="162.9" cy="323.5" rx="0.8" ry="3" fill="#6a6090" opacity=".85" transform="rotate(3.1 162.9 323.5)"/><ellipse cx="120.5" cy="332.9" rx="1.5" ry="3.4" fill="#7858c0" opacity=".85" transform="rotate(-2.9 120.5 332.9)"/><ellipse cx="121.4" cy="332.3" rx="1.3" ry="3" fill="#7858c0" opacity=".85" transform="rotate(3.3 121.4 332.3)"/><ellipse cx="218.6" cy="327.7" rx="1.6" ry="3.4" fill="#b880e0" opacity=".85" transform="rotate(2.3 218.6 327.7)"/><ellipse cx="220.9" cy="330.1" rx="1.3" ry="3.1" fill="#b880e0" opacity=".85" transform="rotate(2.8 220.9 330.1)"/><ellipse cx="44.5" cy="334.8" rx="1.2" ry="3.9" fill="#6a6090" opacity=".85" transform="rotate(2.9 44.5 334.8)"/><ellipse cx="45.9" cy="333.7" rx="1.3" ry="3.8" fill="#6a6090" opacity=".85" transform="rotate(0.6 45.9 333.7)"/><ellipse cx="206.4" cy="330.4" rx="1.2" ry="3.7" fill="#7858c0" opacity=".85" transform="rotate(3.7 206.4 330.4)"/><ellipse cx="204.7" cy="328.3" rx="0.9" ry="3.2" fill="#7858c0" opacity=".85" transform="rotate(2.2 204.7 328.3)"/><ellipse cx="120.4" cy="329.9" rx="1" ry="2.7" fill="#6a6090" opacity=".85" transform="rotate(0.9 120.4 329.9)"/><ellipse cx="119.9" cy="330.2" rx="1.4" ry="3.8" fill="#6a6090" opacity=".85" transform="rotate(-1.9 119.9 330.2)"/><ellipse cx="19.9" cy="332.1" rx="1.1" ry="2.2" fill="#7858c0" opacity=".85" transform="rotate(-2.4 19.9 332.1)"/><ellipse cx="19" cy="332.5" rx="0.7" ry="1.9" fill="#7858c0" opacity=".85" transform="rotate(-4 19 332.5)"/><ellipse cx="23" cy="323.4" rx="0.9" ry="3.2" fill="#6a6090" opacity=".85" transform="rotate(-3.5 23 323.4)"/><ellipse cx="22.9" cy="324.3" rx="1" ry="2.4" fill="#6a6090" opacity=".85" transform="rotate(2.9 22.9 324.3)"/><ellipse cx="147.1" cy="339.2" rx="1.1" ry="2.9" fill="#6a6090" opacity=".85" transform="rotate(-1.5 147.1 339.2)"/><ellipse cx="147.2" cy="338.6" rx="0.9" ry="3.7" fill="#6a6090" opacity=".85" transform="rotate(2.3 147.2 338.6)"/><ellipse cx="170.7" cy="325.3" rx="1" ry="3.8" fill="#7858c0" opacity=".85" transform="rotate(-3.7 170.7 325.3)"/><ellipse cx="170.6" cy="323.5" rx="1.3" ry="4.1" fill="#7858c0" opacity=".85" transform="rotate(1.4 170.6 323.5)"/><ellipse cx="271.4" cy="326.2" rx="1" ry="2.8" fill="#7858c0" opacity=".85" transform="rotate(-0.3 271.4 326.2)"/><ellipse cx="273.6" cy="325.8" rx="1.6" ry="3.8" fill="#7858c0" opacity=".85" transform="rotate(-1 273.6 325.8)"/><ellipse cx="200.7" cy="335.8" rx="1.1" ry="2.6" fill="#6a6090" opacity=".85" transform="rotate(-3.8 200.7 335.8)"/><ellipse cx="198.8" cy="335.9" rx="1" ry="3.7" fill="#6a6090" opacity=".85" transform="rotate(0.8 198.8 335.9)"/><ellipse cx="159.5" cy="338.6" rx="1" ry="1.9" fill="#6a6090" opacity=".85" transform="rotate(1.8 159.5 338.6)"/><ellipse cx="160" cy="338.8" rx="1.1" ry="2.6" fill="#6a6090" opacity=".85" transform="rotate(1.4 160 338.8)"/><ellipse cx="20.5" cy="329.7" rx="1.4" ry="4.3" fill="#b880e0" opacity=".85" transform="rotate(-0.3 20.5 329.7)"/><ellipse cx="21.1" cy="326.5" rx="1.4" ry="3.1" fill="#b880e0" opacity=".85" transform="rotate(0.1 21.1 326.5)"/><ellipse cx="142" cy="331.1" rx="0.9" ry="2" fill="#7858c0" opacity=".85" transform="rotate(1.5 142 331.1)"/><ellipse cx="143.7" cy="332.2" rx="0.9" ry="2.2" fill="#7858c0" opacity=".85" transform="rotate(0 143.7 332.2)"/><ellipse cx="31.2" cy="332.4" rx="1.3" ry="4.8" fill="#7858c0" opacity=".85" transform="rotate(-0.8 31.2 332.4)"/><ellipse cx="31" cy="331.3" rx="1" ry="4.9" fill="#7858c0" opacity=".85" transform="rotate(-0.8 31 331.3)"/><ellipse cx="31.7" cy="329.1" rx="1" ry="2.8" fill="#6a6090" opacity=".85" transform="rotate(-0.6 31.7 329.1)"/><ellipse cx="32" cy="330.8" rx="1.1" ry="3.5" fill="#6a6090" opacity=".85" transform="rotate(-1.1 32 330.8)"/><ellipse cx="170" cy="337.9" rx="1.6" ry="2.6" fill="#7858c0" opacity=".85" transform="rotate(-0.1 170 337.9)"/><ellipse cx="169.7" cy="335.4" rx="1.5" ry="4.5" fill="#7858c0" opacity=".85" transform="rotate(-3.5 169.7 335.4)"/><ellipse cx="61.3" cy="328.6" rx="1.5" ry="3.8" fill="#6a6090" opacity=".85" transform="rotate(-3.6 61.3 328.6)"/><ellipse cx="61.7" cy="329.6" rx="1.6" ry="3.1" fill="#6a6090" opacity=".85" transform="rotate(-3.1 61.7 329.6)"/><ellipse cx="132.4" cy="330.6" rx="1.6" ry="3.7" fill="#6a6090" opacity=".85" transform="rotate(2.3 132.4 330.6)"/><ellipse cx="130.3" cy="331.2" rx="1.3" ry="4" fill="#6a6090" opacity=".85" transform="rotate(-1.6 130.3 331.2)"/><ellipse cx="190.2" cy="337.4" rx="0.6" ry="2.5" fill="#6a6090" opacity=".85" transform="rotate(3.4 190.2 337.4)"/><ellipse cx="191.1" cy="337.5" rx="0.9" ry="2.1" fill="#6a6090" opacity=".85" transform="rotate(3.2 191.1 337.5)"/><ellipse cx="198.5" cy="332" rx="1.1" ry="3.8" fill="#6a6090" opacity=".85" transform="rotate(0.4 198.5 332)"/><ellipse cx="201.4" cy="332.5" rx="1.4" ry="3.2" fill="#6a6090" opacity=".85" transform="rotate(-1.5 201.4 332.5)"/><ellipse cx="224.1" cy="324.8" rx="1.3" ry="4.6" fill="#6a6090" opacity=".85" transform="rotate(-0.6 224.1 324.8)"/><ellipse cx="224" cy="326.7" rx="1.1" ry="3.9" fill="#6a6090" opacity=".85" transform="rotate(-3.2 224 326.7)"/><ellipse cx="121.6" cy="334.4" rx="1" ry="2.7" fill="#6a6090" opacity=".85" transform="rotate(-1.1 121.6 334.4)"/><ellipse cx="120" cy="334.9" rx="1" ry="3.5" fill="#6a6090" opacity=".85" transform="rotate(-3 120 334.9)"/><ellipse cx="194.7" cy="327.6" rx="1" ry="2.7" fill="#b880e0" opacity=".85" transform="rotate(0.9 194.7 327.6)"/><ellipse cx="195.6" cy="328" rx="1" ry="2.4" fill="#b880e0" opacity=".85" transform="rotate(-1 195.6 328)"/><ellipse cx="60" cy="331.5" rx="0.8" ry="2.6" fill="#6a6090" opacity=".85" transform="rotate(-1.2 60 331.5)"/><ellipse cx="60.9" cy="332.5" rx="1" ry="2.7" fill="#6a6090" opacity=".85" transform="rotate(-0.9 60.9 332.5)"/>
</g><g filter="url(#b1)">
<ellipse cx="35.7" cy="328.4" rx="1.9" ry="6.3" fill="#f4fffa" transform="rotate(-2.4 35.7 327.4)"/><ellipse cx="33.7" cy="335.2" rx="1.9" ry="6.7" fill="#f4fffa" transform="rotate(-1.5 33.7 334.2)"/><ellipse cx="29.3" cy="330.6" rx="2" ry="6.4" fill="#f4fffa" transform="rotate(2.6 29.3 329.6)"/><ellipse cx="31.8" cy="330.7" rx="2.6" ry="5.9" fill="#f4fffa" transform="rotate(-1.2 31.8 329.7)"/><ellipse cx="26.4" cy="326.6" rx="1" ry="3.5" fill="#fff" transform="rotate(3 26.4 325.6)"/><ellipse cx="29.3" cy="324.8" rx="1.1" ry="3.7" fill="#fff" transform="rotate(3.5 29.3 323.8)"/><ellipse cx="28.7" cy="325.2" rx="1.1" ry="3.6" fill="#fff" transform="rotate(-3.5 28.7 324.2)"/><ellipse cx="26.6" cy="325.3" rx="1.5" ry="3.2" fill="#fff" transform="rotate(-1.7 26.6 324.3)"/><ellipse cx="46.2" cy="332" rx="1" ry="3.9" fill="#ffd8ec" transform="rotate(3.2 46.2 331)"/><ellipse cx="45" cy="328.2" rx="1.5" ry="3.5" fill="#ffd8ec" transform="rotate(1.4 45 327.2)"/><ellipse cx="47.8" cy="329.4" rx="1" ry="4.8" fill="#ffd8ec" transform="rotate(1.1 47.8 328.4)"/><ellipse cx="45" cy="330.1" rx="1.2" ry="3.7" fill="#ffd8ec" transform="rotate(1.4 45 329.1)"/><ellipse cx="51.3" cy="327.3" rx="1.5" ry="4.3" fill="#d8c8f4" transform="rotate(-0.8 51.3 326.3)"/><ellipse cx="49.8" cy="328.3" rx="1.5" ry="3.8" fill="#d8c8f4" transform="rotate(-3.5 49.8 327.3)"/><ellipse cx="48.7" cy="326.7" rx="1" ry="3.7" fill="#d8c8f4" transform="rotate(3.9 48.7 325.7)"/><ellipse cx="48.5" cy="325.5" rx="1.1" ry="2.6" fill="#d8c8f4" transform="rotate(1.9 48.5 324.5)"/><ellipse cx="129.4" cy="329.4" rx="0.9" ry="3.8" fill="#d8c8f4" transform="rotate(0.2 129.4 328.4)"/><ellipse cx="126.5" cy="325.9" rx="1.5" ry="2.9" fill="#d8c8f4" transform="rotate(1.1 126.5 324.9)"/><ellipse cx="126.3" cy="329.5" rx="0.9" ry="3.2" fill="#d8c8f4" transform="rotate(-1.9 126.3 328.5)"/><ellipse cx="130.2" cy="326.2" rx="1.2" ry="3" fill="#d8c8f4" transform="rotate(1.2 130.2 325.2)"/><ellipse cx="145.2" cy="335.3" rx="1.9" ry="5.7" fill="#fff" transform="rotate(3.2 145.2 334.3)"/><ellipse cx="140.4" cy="331.7" rx="1.6" ry="6.3" fill="#fff" transform="rotate(-1.1 140.4 330.7)"/><ellipse cx="141.7" cy="332" rx="1.8" ry="5" fill="#fff" transform="rotate(-0.4 141.7 331)"/><ellipse cx="144.4" cy="329.2" rx="1.9" ry="4" fill="#fff" transform="rotate(0.4 144.4 328.2)"/><ellipse cx="139.5" cy="324.1" rx="1.1" ry="2.5" fill="#f0a0f8" transform="rotate(-1.5 139.5 323.1)"/><ellipse cx="139.5" cy="324.5" rx="1.2" ry="3.9" fill="#f0a0f8" transform="rotate(-3.9 139.5 323.5)"/><ellipse cx="142.9" cy="324.2" rx="1.2" ry="2.3" fill="#f0a0f8" transform="rotate(3.7 142.9 323.2)"/><ellipse cx="141.2" cy="324" rx="1" ry="3.1" fill="#f0a0f8" transform="rotate(0.9 141.2 323)"/><ellipse cx="153.5" cy="331.8" rx="1.2" ry="3.4" fill="#d8c8f4" transform="rotate(2 153.5 330.8)"/><ellipse cx="152.5" cy="329.4" rx="1" ry="2.8" fill="#d8c8f4" transform="rotate(2.4 152.5 328.4)"/><ellipse cx="156" cy="331" rx="1" ry="3.2" fill="#d8c8f4" transform="rotate(1.4 156 330)"/><ellipse cx="156.6" cy="329.5" rx="1.1" ry="4" fill="#d8c8f4" transform="rotate(-1.5 156.6 328.5)"/><ellipse cx="159.9" cy="333" rx="1" ry="4.1" fill="#fff" transform="rotate(2.1 159.9 332)"/><ellipse cx="159" cy="329.1" rx="1.7" ry="3.9" fill="#fff" transform="rotate(1.1 159 328.1)"/><ellipse cx="160.6" cy="329" rx="1.4" ry="4.4" fill="#fff" transform="rotate(-4 160.6 328)"/><ellipse cx="158" cy="332.6" rx="1.7" ry="4.2" fill="#fff" transform="rotate(3.3 158 331.6)"/><ellipse cx="165.2" cy="330.1" rx="1.7" ry="4" fill="#ffecd8" transform="rotate(-1 165.2 329.1)"/><ellipse cx="163.2" cy="332.2" rx="1.3" ry="3.2" fill="#ffecd8" transform="rotate(1.9 163.2 331.2)"/><ellipse cx="161.4" cy="330.1" rx="1.6" ry="5.1" fill="#ffecd8" transform="rotate(0.4 161.4 329.1)"/><ellipse cx="161.4" cy="330.3" rx="1.9" ry="3.7" fill="#ffecd8" transform="rotate(0.5 161.4 329.3)"/><ellipse cx="168.1" cy="332.6" rx="1.5" ry="4" fill="#fff" transform="rotate(2.7 168.1 331.6)"/><ellipse cx="171.8" cy="328.1" rx="1.1" ry="4.1" fill="#fff" transform="rotate(-0.5 171.8 327.1)"/><ellipse cx="170.7" cy="329.5" rx="1.5" ry="5.3" fill="#fff" transform="rotate(1.5 170.7 328.5)"/><ellipse cx="171.3" cy="329.6" rx="1.7" ry="3.2" fill="#fff" transform="rotate(-2.7 171.3 328.6)"/><ellipse cx="175.8" cy="328.5" rx="1.3" ry="4.2" fill="#fffff0" transform="rotate(-1.2 175.8 327.5)"/><ellipse cx="177.8" cy="328.5" rx="1.7" ry="4.3" fill="#fffff0" transform="rotate(2.7 177.8 327.5)"/><ellipse cx="178.2" cy="327.1" rx="2.1" ry="4.6" fill="#fffff0" transform="rotate(-1.4 178.2 326.1)"/><ellipse cx="176" cy="329.2" rx="1.8" ry="3.9" fill="#fffff0" transform="rotate(0.6 176 328.2)"/><ellipse cx="181" cy="334.7" rx="1.2" ry="4.5" fill="#fff" transform="rotate(1.7 181 333.7)"/><ellipse cx="183.9" cy="335.6" rx="1.7" ry="3.9" fill="#fff" transform="rotate(3.3 183.9 334.6)"/><ellipse cx="183.2" cy="335.7" rx="1.5" ry="3.2" fill="#fff" transform="rotate(-3.2 183.2 334.7)"/><ellipse cx="185.1" cy="334.9" rx="1.5" ry="2.7" fill="#fff" transform="rotate(0.5 185.1 333.9)"/><ellipse cx="187" cy="324.8" rx="1.5" ry="2.6" fill="#d8c8f4" transform="rotate(2.1 187 323.8)"/><ellipse cx="186" cy="325.9" rx="1" ry="3.9" fill="#d8c8f4" transform="rotate(-2.4 186 324.9)"/><ellipse cx="188.3" cy="324.7" rx="1.4" ry="2.6" fill="#d8c8f4" transform="rotate(0.7 188.3 323.7)"/><ellipse cx="189.8" cy="326.4" rx="1.1" ry="3.8" fill="#d8c8f4" transform="rotate(3.6 189.8 325.4)"/><ellipse cx="193.7" cy="333" rx="2.2" ry="6.7" fill="#fff" transform="rotate(-1.9 193.7 332)"/><ellipse cx="191.7" cy="329.5" rx="1.6" ry="5.6" fill="#fff" transform="rotate(-1.7 191.7 328.5)"/><ellipse cx="192.5" cy="329.6" rx="1.7" ry="5.4" fill="#fff" transform="rotate(-1.7 192.5 328.6)"/><ellipse cx="195.3" cy="329.7" rx="1.5" ry="6.7" fill="#fff" transform="rotate(2.9 195.3 328.7)"/><ellipse cx="207.5" cy="330.7" rx="1.3" ry="3.4" fill="#d8c8f4" transform="rotate(0.3 207.5 329.7)"/><ellipse cx="209" cy="329.8" rx="1" ry="3.9" fill="#d8c8f4" transform="rotate(-3.6 209 328.8)"/><ellipse cx="206.4" cy="331.1" rx="1" ry="4" fill="#d8c8f4" transform="rotate(-0.4 206.4 330.1)"/><ellipse cx="208.1" cy="328.5" rx="1.2" ry="4.3" fill="#d8c8f4" transform="rotate(0.5 208.1 327.5)"/><ellipse cx="225.1" cy="325.1" rx="1.4" ry="3" fill="#d8c8f4" transform="rotate(-3.5 225.1 324.1)"/><ellipse cx="220.9" cy="327.6" rx="1.2" ry="2.4" fill="#d8c8f4" transform="rotate(3.9 220.9 326.6)"/><ellipse cx="224.5" cy="327.7" rx="1.2" ry="3.9" fill="#d8c8f4" transform="rotate(-3.4 224.5 326.7)"/><ellipse cx="221.4" cy="327" rx="1.1" ry="3.4" fill="#d8c8f4" transform="rotate(-0 221.4 326)"/><ellipse cx="236.3" cy="324.4" rx="1.2" ry="3.2" fill="#ffd8ec" transform="rotate(-3.4 236.3 323.4)"/><ellipse cx="235.6" cy="325.7" rx="1.2" ry="4.3" fill="#ffd8ec" transform="rotate(-2.9 235.6 324.7)"/><ellipse cx="234.6" cy="324.8" rx="1.5" ry="3.8" fill="#ffd8ec" transform="rotate(3.8 234.6 323.8)"/><ellipse cx="237.3" cy="327.7" rx="1.5" ry="4.1" fill="#ffd8ec" transform="rotate(-3.8 237.3 326.7)"/><ellipse cx="242.7" cy="329" rx="1.9" ry="5.6" fill="#ffecd8" transform="rotate(0.9 242.7 328)"/><ellipse cx="239.3" cy="332" rx="2.2" ry="5.1" fill="#ffecd8" transform="rotate(-3.7 239.3 331)"/><ellipse cx="244.7" cy="326.5" rx="1.3" ry="6.5" fill="#ffecd8" transform="rotate(-3.7 244.7 325.5)"/><ellipse cx="243.4" cy="331.3" rx="1.9" ry="5.1" fill="#ffecd8" transform="rotate(2.1 243.4 330.3)"/><ellipse cx="242.7" cy="332" rx="1.7" ry="3.1" fill="#80e8d8" transform="rotate(3.8 242.7 331)"/><ellipse cx="245" cy="332.1" rx="1.3" ry="3.8" fill="#80e8d8" transform="rotate(-3.9 245 331.1)"/><ellipse cx="244.2" cy="331.7" rx="1.5" ry="4.4" fill="#80e8d8" transform="rotate(-1.3 244.2 330.7)"/><ellipse cx="245.3" cy="331.2" rx="1.8" ry="3.5" fill="#80e8d8" transform="rotate(-2.6 245.3 330.2)"/><ellipse cx="265.6" cy="330.8" rx="1" ry="2.8" fill="#d8c8f4" transform="rotate(-1.4 265.6 329.8)"/><ellipse cx="267.8" cy="330.1" rx="1.2" ry="4" fill="#d8c8f4" transform="rotate(-3.4 267.8 329.1)"/><ellipse cx="265.8" cy="330.3" rx="1.1" ry="2.8" fill="#d8c8f4" transform="rotate(3.9 265.8 329.3)"/><ellipse cx="266.4" cy="328.5" rx="1.5" ry="4.2" fill="#d8c8f4" transform="rotate(-0.9 266.4 327.5)"/><ellipse cx="279.7" cy="328.6" rx="1.1" ry="3.9" fill="#d8c8f4" transform="rotate(2.3 279.7 327.6)"/><ellipse cx="277.4" cy="329.7" rx="1.3" ry="3.6" fill="#d8c8f4" transform="rotate(-0.2 277.4 328.7)"/><ellipse cx="276.1" cy="331.7" rx="1.1" ry="3.4" fill="#d8c8f4" transform="rotate(-3.5 276.1 330.7)"/><ellipse cx="276.7" cy="332.1" rx="1.4" ry="2.8" fill="#d8c8f4" transform="rotate(3.7 276.7 331.1)"/><ellipse cx="283.4" cy="336.3" rx="1.3" ry="5.8" fill="#f4fffa" transform="rotate(1.7 283.4 335.3)"/><ellipse cx="282.5" cy="336.4" rx="1.8" ry="3.6" fill="#f4fffa" transform="rotate(3.1 282.5 335.4)"/><ellipse cx="287.3" cy="335" rx="1.5" ry="4.5" fill="#f4fffa" transform="rotate(-3 287.3 334)"/><ellipse cx="287.2" cy="332.2" rx="1.3" ry="3.4" fill="#f4fffa" transform="rotate(-1.2 287.2 331.2)"/><ellipse cx="294.3" cy="323.4" rx="1" ry="3" fill="#fff" transform="rotate(0.2 294.3 322.4)"/><ellipse cx="295.7" cy="325.9" rx="1.3" ry="4.4" fill="#fff" transform="rotate(3.6 295.7 324.9)"/><ellipse cx="293.9" cy="323.6" rx="1.2" ry="2.8" fill="#fff" transform="rotate(2.1 293.9 322.6)"/><ellipse cx="295.3" cy="327.8" rx="1.2" ry="3" fill="#fff" transform="rotate(0.5 295.3 326.8)"/><ellipse cx="301.7" cy="326.7" rx="1.6" ry="6" fill="#fff" transform="rotate(0.8 301.7 325.7)"/><ellipse cx="299.6" cy="330.1" rx="2" ry="3.7" fill="#fff" transform="rotate(3.8 299.6 329.1)"/><ellipse cx="301.5" cy="325" rx="1.2" ry="4.3" fill="#fff" transform="rotate(-2.7 301.5 324)"/><ellipse cx="301.3" cy="326" rx="1.2" ry="3.8" fill="#fff" transform="rotate(-2.2 301.3 325)"/><ellipse cx="303.2" cy="335.1" rx="1.3" ry="4.1" fill="#fff" transform="rotate(-2.5 303.2 334.1)"/><ellipse cx="302.2" cy="331.2" rx="1.1" ry="2.7" fill="#fff" transform="rotate(1 302.2 330.2)"/><ellipse cx="303.1" cy="333" rx="1.2" ry="4.1" fill="#fff" transform="rotate(-1.1 303.1 332)"/><ellipse cx="303.6" cy="335.6" rx="1.4" ry="3.6" fill="#fff" transform="rotate(-0.3 303.6 334.6)"/>
</g></g>
<path d="M312.3 312.5V341.6M308 316.4H337.7M337.7 313.9V319.1M309.4 341.4H315.2" stroke="#000" stroke-width="1.1" fill="none"/>
<text x="326.4" y="330.5" font-size="9" font-weight="bold" text-anchor="middle" textLength="18.7" lengthAdjust="spacingAndGlyphs">5µm</text>
<text x="405.1" y="9.1" font-size="12.7" font-weight="bold" text-anchor="middle" textLength="60" lengthAdjust="spacingAndGlyphs">Channel 1</text>
<text x="517.2" y="9.1" font-size="12.7" font-weight="bold" text-anchor="middle" textLength="60" lengthAdjust="spacingAndGlyphs">Channel 2</text>
<text x="629.6" y="9.1" font-size="12.7" font-weight="bold" text-anchor="middle" textLength="60" lengthAdjust="spacingAndGlyphs">Channel 3</text>
<clipPath id="cgeph"><rect x="350" y="12.3" width="110.1" height="109.2"/></clipPath>
<rect x="350" y="12.3" width="110.1" height="109.2" fill="#000"/>
<g clip-path="url(#cgeph)">
<g filter="url(#b15)" fill="#ff1414">
<ellipse cx="409.6" cy="22.5" rx="3.5" ry="2.7" transform="rotate(102.3 409.6 22.5)" opacity="1"/>
<ellipse cx="401.3" cy="25.8" rx="4.3" ry="2.4" transform="rotate(0.9 401.3 25.8)" opacity="0.8"/>
<ellipse cx="447" cy="39.1" rx="4.3" ry="3.1" transform="rotate(148.9 447 39.1)" opacity="1"/>
<ellipse cx="450.4" cy="24.6" rx="2.6" ry="2" transform="rotate(174.3 450.4 24.6)" opacity="0.4"/>
<ellipse cx="398.8" cy="51.6" rx="3" ry="2.5" transform="rotate(83.3 398.8 51.6)" opacity="0.7"/>
<ellipse cx="394.3" cy="58.3" rx="4" ry="3.1" transform="rotate(44.7 394.3 58.3)" opacity="1"/>
<ellipse cx="444.2" cy="64.1" rx="2.3" ry="2" transform="rotate(4.9 444.2 64.1)" opacity="0.4"/>
<ellipse cx="388.8" cy="94" rx="3.3" ry="2.2" transform="rotate(20.4 388.8 94)" opacity="0.7"/>
<ellipse cx="397.4" cy="98.2" rx="4.6" ry="2.5" transform="rotate(94 397.4 98.2)" opacity="1"/>
<ellipse cx="367.1" cy="103.2" rx="3.6" ry="2.6" transform="rotate(50.1 367.1 103.2)" opacity="0.8"/>
<ellipse cx="368" cy="31.3" rx="2.2" ry="1.5" transform="rotate(63.9 368 31.3)" opacity="0.2"/>
<ellipse cx="421.7" cy="31.6" rx="2" ry="1.6" transform="rotate(170.7 421.7 31.6)" opacity="0.2"/>
<ellipse cx="442" cy="94" rx="2.2" ry="1.4" transform="rotate(176.9 442 94)" opacity="0.2"/>
<ellipse cx="408.2" cy="60.8" rx="1.8" ry="1.3" transform="rotate(55.5 408.2 60.8)" opacity="0.1"/>
<ellipse cx="397.9" cy="16.7" rx="1.8" ry="1.3" transform="rotate(148.5 397.9 16.7)" opacity="0.1"/>
<ellipse cx="353" cy="103.2" rx="1.8" ry="1.3" transform="rotate(138.8 353 103.2)" opacity="0.2"/>
<ellipse cx="350" cy="62.4" rx="1.8" ry="1.2" transform="rotate(77.2 350 62.4)" opacity="0.5"/>
</g><g filter="url(#b1)" fill="#ff4a4a">
<ellipse cx="409.6" cy="22.5" rx="2.3" ry="1.7" transform="rotate(102.3 409.6 22.5)" opacity="1"/>
<ellipse cx="401.3" cy="25.8" rx="2.8" ry="1.6" transform="rotate(0.9 401.3 25.8)" opacity="0.8"/>
<ellipse cx="447" cy="39.1" rx="2.8" ry="2" transform="rotate(148.9 447 39.1)" opacity="1"/>
<ellipse cx="394.3" cy="58.3" rx="2.6" ry="2" transform="rotate(44.7 394.3 58.3)" opacity="1"/>
<ellipse cx="397.4" cy="98.2" rx="3" ry="1.6" transform="rotate(94 397.4 98.2)" opacity="1"/>
<ellipse cx="367.1" cy="103.2" rx="2.3" ry="1.7" transform="rotate(50.1 367.1 103.2)" opacity="0.8"/>
</g></g>
<text x="353.2" y="24.7" font-size="12.6" fill="#fff">Geph</text>
<clipPath id="casyn"><rect x="462.1" y="12.3" width="110.1" height="109.2"/></clipPath>
<rect x="462.1" y="12.3" width="110.1" height="109.2" fill="#000"/>
<g clip-path="url(#casyn)">
<g filter="url(#b3)" fill="#ff8000">
<ellipse cx="467.5" cy="31.6" rx="9.2" ry="6.6" transform="rotate(175.7 467.5 31.6)" opacity=".10"/>
<ellipse cx="482.5" cy="33.3" rx="11.2" ry="7.8" transform="rotate(63.9 482.5 33.3)" opacity=".11"/>
<ellipse cx="485" cy="29.1" rx="6.2" ry="5.2" transform="rotate(135 485 29.1)" opacity=".10"/>
<ellipse cx="492.5" cy="37.5" rx="7.7" ry="6.2" transform="rotate(163.4 492.5 37.5)" opacity=".07"/>
<ellipse cx="509.9" cy="37.5" rx="10" ry="5.8" transform="rotate(95.8 509.9 37.5)" opacity=".08"/>
<ellipse cx="499.9" cy="20.8" rx="7.6" ry="5.1" transform="rotate(71.4 499.9 20.8)" opacity=".06"/>
<ellipse cx="499.1" cy="40.8" rx="5.4" ry="4" transform="rotate(4.7 499.1 40.8)" opacity=".05"/>
<ellipse cx="524.1" cy="16.7" rx="8" ry="4.6" transform="rotate(25.2 524.1 16.7)" opacity=".05"/>
<ellipse cx="529.9" cy="15" rx="5.9" ry="3.5" transform="rotate(48.1 529.9 15)" opacity=".04"/>
<ellipse cx="540.7" cy="26.6" rx="7.8" ry="4.8" transform="rotate(172.2 540.7 26.6)" opacity=".05"/>
<ellipse cx="545.7" cy="39.1" rx="9.1" ry="4.8" transform="rotate(72.5 545.7 39.1)" opacity=".06"/>
<ellipse cx="549" cy="43.3" rx="7.4" ry="4" transform="rotate(116.5 549 43.3)" opacity=".05"/>
<ellipse cx="558.2" cy="41.6" rx="5.7" ry="3.8" transform="rotate(40.2 558.2 41.6)" opacity=".04"/>
<ellipse cx="569" cy="35.8" rx="6.1" ry="5.3" transform="rotate(149.8 569 35.8)" opacity=".06"/>
<ellipse cx="559.9" cy="51.6" rx="5.6" ry="3.9" transform="rotate(112.2 559.9 51.6)" opacity=".04"/>
<ellipse cx="485" cy="64.1" rx="9.1" ry="4.8" transform="rotate(1.5 485 64.1)" opacity=".10"/>
<ellipse cx="475" cy="69.9" rx="5.3" ry="4.2" transform="rotate(143 475 69.9)" opacity=".04"/>
<ellipse cx="554" cy="64.9" rx="9.7" ry="6.1" transform="rotate(79.6 554 64.9)" opacity=".08"/>
<ellipse cx="570.7" cy="65.8" rx="5.3" ry="4.2" transform="rotate(17 570.7 65.8)" opacity=".06"/>
<ellipse cx="516.6" cy="74.1" rx="11.4" ry="6.3" transform="rotate(133.1 516.6 74.1)" opacity=".11"/>
<ellipse cx="528.6" cy="75.2" rx="9" ry="5" transform="rotate(160.8 528.6 75.2)" opacity=".10"/>
<ellipse cx="500.3" cy="83.2" rx="8.2" ry="5.7" transform="rotate(89.5 500.3 83.2)" opacity=".10"/>
<ellipse cx="492.5" cy="88.2" rx="8.8" ry="5.1" transform="rotate(25.6 492.5 88.2)" opacity=".07"/>
<ellipse cx="465.8" cy="86.6" rx="7.5" ry="6.4" transform="rotate(54.2 465.8 86.6)" opacity=".08"/>
<ellipse cx="476.6" cy="86.6" rx="7.1" ry="4.3" transform="rotate(127.4 476.6 86.6)" opacity=".06"/>
<ellipse cx="478.3" cy="93.2" rx="5.9" ry="3.6" transform="rotate(53.7 478.3 93.2)" opacity=".05"/>
<ellipse cx="522.4" cy="89.1" rx="10.2" ry="7.5" transform="rotate(153.7 522.4 89.1)" opacity=".10"/>
<ellipse cx="528.2" cy="87.4" rx="8" ry="4.6" transform="rotate(41 528.2 87.4)" opacity=".08"/>
<ellipse cx="547.4" cy="91.5" rx="10.3" ry="8.7" transform="rotate(129.2 547.4 91.5)" opacity=".12"/>
<ellipse cx="544.9" cy="99.9" rx="13.4" ry="10.7" transform="rotate(147.9 544.9 99.9)" opacity=".12"/>
<ellipse cx="558.2" cy="89.1" rx="7.4" ry="5.2" transform="rotate(11.2 558.2 89.1)" opacity=".07"/>
<ellipse cx="564" cy="100.7" rx="8.1" ry="4.6" transform="rotate(133.1 564 100.7)" opacity=".05"/>
<ellipse cx="507.4" cy="106.5" rx="8.2" ry="4.5" transform="rotate(163.7 507.4 106.5)" opacity=".07"/>
<ellipse cx="509.1" cy="114" rx="10.2" ry="5.6" transform="rotate(66.6 509.1 114)" opacity=".10"/>
<ellipse cx="485" cy="109.9" rx="7.3" ry="4.1" transform="rotate(105.9 485 109.9)" opacity=".06"/>
<ellipse cx="490" cy="115.7" rx="8.9" ry="5.1" transform="rotate(95.3 490 115.7)" opacity=".06"/>
<ellipse cx="568.2" cy="116.5" rx="7.4" ry="3.9" transform="rotate(80.5 568.2 116.5)" opacity=".07"/>
<ellipse cx="554.9" cy="106.5" rx="4.3" ry="3.3" transform="rotate(170.5 554.9 106.5)" opacity=".05"/>
<ellipse cx="464.2" cy="76.6" rx="4.2" ry="3.3" transform="rotate(123.3 464.2 76.6)" opacity=".04"/>
<ellipse cx="466.7" cy="99.9" rx="4.4" ry="3.2" transform="rotate(138.8 466.7 99.9)" opacity=".04"/>
<ellipse cx="513.3" cy="20" rx="4.4" ry="3.2" transform="rotate(19.3 513.3 20)" opacity=".04"/>
<ellipse cx="467.5" cy="25.8" rx="6.7" ry="4.6" transform="rotate(64.8 467.5 25.8)" opacity=".07"/>
<ellipse cx="518.2" cy="13.3" rx="5" ry="4.5" transform="rotate(69.5 518.2 13.3)" opacity=".05"/>
</g>
<g filter="url(#b15)" fill="#ff8000">
<ellipse cx="467.5" cy="31.6" rx="4.5" ry="3.2" transform="rotate(175.7 467.5 31.6)" opacity="0.8"/>
<ellipse cx="482.5" cy="33.3" rx="5.4" ry="3.8" transform="rotate(63.9 482.5 33.3)" opacity="1"/>
<ellipse cx="485" cy="29.1" rx="3" ry="2.5" transform="rotate(135 485 29.1)" opacity="0.8"/>
<ellipse cx="492.5" cy="37.5" rx="3.7" ry="3" transform="rotate(163.4 492.5 37.5)" opacity="0.6"/>
<ellipse cx="509.9" cy="37.5" rx="4.8" ry="2.8" transform="rotate(95.8 509.9 37.5)" opacity="0.7"/>
<ellipse cx="499.9" cy="20.8" rx="3.7" ry="2.5" transform="rotate(71.4 499.9 20.8)" opacity="0.5"/>
<ellipse cx="499.1" cy="40.8" rx="2.6" ry="2" transform="rotate(4.7 499.1 40.8)" opacity="0.4"/>
<ellipse cx="524.1" cy="16.7" rx="3.9" ry="2.2" transform="rotate(25.2 524.1 16.7)" opacity="0.4"/>
<ellipse cx="529.9" cy="15" rx="2.9" ry="1.7" transform="rotate(48.1 529.9 15)" opacity="0.3"/>
<ellipse cx="540.7" cy="26.6" rx="3.8" ry="2.3" transform="rotate(172.2 540.7 26.6)" opacity="0.4"/>
<ellipse cx="545.7" cy="39.1" rx="4.4" ry="2.3" transform="rotate(72.5 545.7 39.1)" opacity="0.5"/>
<ellipse cx="549" cy="43.3" rx="3.6" ry="1.9" transform="rotate(116.5 549 43.3)" opacity="0.4"/>
<ellipse cx="558.2" cy="41.6" rx="2.8" ry="1.8" transform="rotate(40.2 558.2 41.6)" opacity="0.3"/>
<ellipse cx="569" cy="35.8" rx="3" ry="2.6" transform="rotate(149.8 569 35.8)" opacity="0.5"/>
<ellipse cx="559.9" cy="51.6" rx="2.7" ry="1.9" transform="rotate(112.2 559.9 51.6)" opacity="0.3"/>
<ellipse cx="485" cy="64.1" rx="4.4" ry="2.3" transform="rotate(1.5 485 64.1)" opacity="0.9"/>
<ellipse cx="475" cy="69.9" rx="2.6" ry="2" transform="rotate(143 475 69.9)" opacity="0.3"/>
<ellipse cx="554" cy="64.9" rx="4.7" ry="2.9" transform="rotate(79.6 554 64.9)" opacity="0.7"/>
<ellipse cx="570.7" cy="65.8" rx="2.6" ry="2" transform="rotate(17 570.7 65.8)" opacity="0.5"/>
<ellipse cx="516.6" cy="74.1" rx="5.5" ry="3.1" transform="rotate(133.1 516.6 74.1)" opacity="1"/>
<ellipse cx="528.6" cy="75.2" rx="4.3" ry="2.4" transform="rotate(160.8 528.6 75.2)" opacity="0.8"/>
<ellipse cx="500.3" cy="83.2" rx="4" ry="2.8" transform="rotate(89.5 500.3 83.2)" opacity="0.8"/>
<ellipse cx="492.5" cy="88.2" rx="4.3" ry="2.5" transform="rotate(25.6 492.5 88.2)" opacity="0.6"/>
<ellipse cx="465.8" cy="86.6" rx="3.6" ry="3.1" transform="rotate(54.2 465.8 86.6)" opacity="0.7"/>
<ellipse cx="476.6" cy="86.6" rx="3.4" ry="2.1" transform="rotate(127.4 476.6 86.6)" opacity="0.5"/>
<ellipse cx="478.3" cy="93.2" rx="2.8" ry="1.8" transform="rotate(53.7 478.3 93.2)" opacity="0.4"/>
<ellipse cx="522.4" cy="89.1" rx="4.9" ry="3.6" transform="rotate(153.7 522.4 89.1)" opacity="0.8"/>
<ellipse cx="528.2" cy="87.4" rx="3.9" ry="2.2" transform="rotate(41 528.2 87.4)" opacity="0.7"/>
<ellipse cx="547.4" cy="91.5" rx="5" ry="4.2" transform="rotate(129.2 547.4 91.5)" opacity="1"/>
<ellipse cx="544.9" cy="99.9" rx="6.5" ry="5.2" transform="rotate(147.9 544.9 99.9)" opacity="1"/>
<ellipse cx="558.2" cy="89.1" rx="3.6" ry="2.5" transform="rotate(11.2 558.2 89.1)" opacity="0.6"/>
<ellipse cx="564" cy="100.7" rx="3.9" ry="2.2" transform="rotate(133.1 564 100.7)" opacity="0.4"/>
<ellipse cx="507.4" cy="106.5" rx="4" ry="2.2" transform="rotate(163.7 507.4 106.5)" opacity="0.6"/>
<ellipse cx="509.1" cy="114" rx="5" ry="2.7" transform="rotate(66.6 509.1 114)" opacity="0.8"/>
<ellipse cx="485" cy="109.9" rx="3.5" ry="2" transform="rotate(105.9 485 109.9)" opacity="0.5"/>
<ellipse cx="490" cy="115.7" rx="4.3" ry="2.4" transform="rotate(95.3 490 115.7)" opacity="0.5"/>
<ellipse cx="568.2" cy="116.5" rx="3.6" ry="1.9" transform="rotate(80.5 568.2 116.5)" opacity="0.6"/>
<ellipse cx="554.9" cy="106.5" rx="2.1" ry="1.6" transform="rotate(170.5 554.9 106.5)" opacity="0.4"/>
<ellipse cx="464.2" cy="76.6" rx="2.1" ry="1.6" transform="rotate(123.3 464.2 76.6)" opacity="0.3"/>
<ellipse cx="466.7" cy="99.9" rx="2.1" ry="1.6" transform="rotate(138.8 466.7 99.9)" opacity="0.3"/>
<ellipse cx="513.3" cy="20" rx="2.1" ry="1.6" transform="rotate(19.3 513.3 20)" opacity="0.3"/>
<ellipse cx="467.5" cy="25.8" rx="3.3" ry="2.2" transform="rotate(64.8 467.5 25.8)" opacity="0.6"/>
<ellipse cx="518.2" cy="13.3" rx="2.4" ry="2.2" transform="rotate(69.5 518.2 13.3)" opacity="0.4"/>
</g><g filter="url(#b1)" fill="#ff9010">
<ellipse cx="467.5" cy="31.6" rx="2.9" ry="2.1" transform="rotate(175.7 467.5 31.6)" opacity="0.8"/>
<ellipse cx="482.5" cy="33.3" rx="3.5" ry="2.5" transform="rotate(63.9 482.5 33.3)" opacity="0.9"/>
<ellipse cx="485" cy="29.1" rx="2" ry="1.6" transform="rotate(135 485 29.1)" opacity="0.8"/>
<ellipse cx="485" cy="64.1" rx="2.9" ry="1.5" transform="rotate(1.5 485 64.1)" opacity="0.8"/>
<ellipse cx="516.6" cy="74.1" rx="3.6" ry="2" transform="rotate(133.1 516.6 74.1)" opacity="0.9"/>
<ellipse cx="528.6" cy="75.2" rx="2.8" ry="1.6" transform="rotate(160.8 528.6 75.2)" opacity="0.8"/>
<ellipse cx="500.3" cy="83.2" rx="2.6" ry="1.8" transform="rotate(89.5 500.3 83.2)" opacity="0.8"/>
<ellipse cx="522.4" cy="89.1" rx="3.2" ry="2.4" transform="rotate(153.7 522.4 89.1)" opacity="0.8"/>
<ellipse cx="547.4" cy="91.5" rx="3.2" ry="2.7" transform="rotate(129.2 547.4 91.5)" opacity="1"/>
<ellipse cx="544.9" cy="99.9" rx="4.2" ry="3.4" transform="rotate(147.9 544.9 99.9)" opacity="1"/>
<ellipse cx="509.1" cy="114" rx="3.2" ry="1.8" transform="rotate(66.6 509.1 114)" opacity="0.8"/>
</g></g>
<text x="465.3" y="24.7" font-size="12.6" fill="#fff">α-Syn</text>
<clipPath id="csyn12"><rect x="574.1" y="12.3" width="110.9" height="109.2"/></clipPath>
<rect x="574.1" y="12.3" width="110.9" height="109.2" fill="#000"/>
<g clip-path="url(#csyn12)">
<g filter="url(#b3)" fill="#f4f400">
<ellipse cx="578.5" cy="32.5" rx="9.2" ry="6.6" transform="rotate(175.7 578.5 32.5)" opacity=".08"/>
<ellipse cx="593.5" cy="35" rx="11.5" ry="6.2" transform="rotate(134.7 593.5 35)" opacity=".10"/>
<ellipse cx="596.8" cy="30" rx="8.6" ry="6.5" transform="rotate(49.5 596.8 30)" opacity=".10"/>
<ellipse cx="610.9" cy="40.8" rx="7.9" ry="4.8" transform="rotate(9.4 610.9 40.8)" opacity=".05"/>
<ellipse cx="622.6" cy="36.6" rx="8" ry="4.6" transform="rotate(95.8 622.6 36.6)" opacity=".05"/>
<ellipse cx="635.1" cy="39.1" rx="6" ry="5.3" transform="rotate(26.6 635.1 39.1)" opacity=".04"/>
<ellipse cx="636.7" cy="15.8" rx="8.3" ry="5.6" transform="rotate(82.8 636.7 15.8)" opacity=".06"/>
<ellipse cx="644.2" cy="16.7" rx="5.9" ry="3.5" transform="rotate(48.1 644.2 16.7)" opacity=".04"/>
<ellipse cx="656.7" cy="20" rx="8.1" ry="5.8" transform="rotate(63.1 656.7 20)" opacity=".05"/>
<ellipse cx="657.5" cy="38.3" rx="9.1" ry="4.8" transform="rotate(72.5 657.5 38.3)" opacity=".05"/>
<ellipse cx="674.2" cy="36.6" rx="9.9" ry="5.9" transform="rotate(93.7 674.2 36.6)" opacity=".08"/>
<ellipse cx="681.7" cy="35" rx="6.9" ry="4.5" transform="rotate(177.8 681.7 35)" opacity=".06"/>
<ellipse cx="640.9" cy="25" rx="5.5" ry="4" transform="rotate(22.7 640.9 25)" opacity=".03"/>
<ellipse cx="624.3" cy="17.5" rx="4.3" ry="3.2" transform="rotate(148.5 624.3 17.5)" opacity=".03"/>
<ellipse cx="596.8" cy="64.1" rx="10.3" ry="5.5" transform="rotate(1.5 596.8 64.1)" opacity=".10"/>
<ellipse cx="610.9" cy="61.6" rx="7" ry="5.6" transform="rotate(23.2 610.9 61.6)" opacity=".05"/>
<ellipse cx="666.7" cy="64.9" rx="9.7" ry="6.1" transform="rotate(89.5 666.7 64.9)" opacity=".07"/>
<ellipse cx="683.3" cy="65.8" rx="4.3" ry="3.3" transform="rotate(17 683.3 65.8)" opacity=".06"/>
<ellipse cx="628.4" cy="74.1" rx="11.4" ry="6.3" transform="rotate(133.1 628.4 74.1)" opacity=".10"/>
<ellipse cx="640.9" cy="74.9" rx="9.6" ry="6.2" transform="rotate(96.8 640.9 74.9)" opacity=".10"/>
<ellipse cx="576" cy="74.1" rx="6.5" ry="4.9" transform="rotate(26.1 576 74.1)" opacity=".06"/>
<ellipse cx="611.8" cy="83.2" rx="6.7" ry="4.7" transform="rotate(89.5 611.8 83.2)" opacity=".05"/>
<ellipse cx="605.1" cy="89.1" rx="10" ry="5.8" transform="rotate(25.6 605.1 89.1)" opacity=".09"/>
<ellipse cx="603.5" cy="95.7" rx="6.7" ry="4.7" transform="rotate(151.4 603.5 95.7)" opacity=".05"/>
<ellipse cx="589.3" cy="88.2" rx="8.7" ry="5.2" transform="rotate(127.4 589.3 88.2)" opacity=".05"/>
<ellipse cx="577.7" cy="86.6" rx="6.1" ry="5.2" transform="rotate(54.2 577.7 86.6)" opacity=".05"/>
<ellipse cx="633.4" cy="89.1" rx="10.2" ry="7.5" transform="rotate(153.7 633.4 89.1)" opacity=".08"/>
<ellipse cx="640.1" cy="87.4" rx="7.2" ry="4.2" transform="rotate(41 640.1 87.4)" opacity=".06"/>
<ellipse cx="660.9" cy="90.7" rx="11.5" ry="7.5" transform="rotate(176.9 660.9 90.7)" opacity=".10"/>
<ellipse cx="657.5" cy="99.9" rx="11.3" ry="9" transform="rotate(147.9 657.5 99.9)" opacity=".10"/>
<ellipse cx="670" cy="88.2" rx="8.2" ry="5.7" transform="rotate(11.2 670 88.2)" opacity=".07"/>
<ellipse cx="666.7" cy="106.5" rx="6.4" ry="5" transform="rotate(170.5 666.7 106.5)" opacity=".05"/>
<ellipse cx="676.7" cy="100.7" rx="6.9" ry="5.8" transform="rotate(107.8 676.7 100.7)" opacity=".05"/>
<ellipse cx="619.3" cy="107.4" rx="8.2" ry="4.5" transform="rotate(163.7 619.3 107.4)" opacity=".08"/>
<ellipse cx="620.9" cy="113.2" rx="8.7" ry="5.2" transform="rotate(14.2 620.9 113.2)" opacity=".08"/>
<ellipse cx="625.1" cy="119" rx="6.9" ry="4.5" transform="rotate(138.6 625.1 119)" opacity=".08"/>
<ellipse cx="586.8" cy="110.7" rx="8.1" ry="5.8" transform="rotate(82.5 586.8 110.7)" opacity=".06"/>
<ellipse cx="601" cy="114" rx="7" ry="5.7" transform="rotate(30.3 601 114)" opacity=".05"/>
<ellipse cx="680.8" cy="116.5" rx="7.5" ry="5.2" transform="rotate(20.2 680.8 116.5)" opacity=".08"/>
<ellipse cx="622.6" cy="54.1" rx="5.2" ry="4.3" transform="rotate(83.3 622.6 54.1)" opacity=".03"/>
<ellipse cx="581.8" cy="64.9" rx="5.6" ry="3.8" transform="rotate(163.5 581.8 64.9)" opacity=".03"/>
<ellipse cx="586.8" cy="70.7" rx="4.3" ry="3.3" transform="rotate(143 586.8 70.7)" opacity=".03"/>
<ellipse cx="578.5" cy="100.7" rx="4.4" ry="3.2" transform="rotate(138.8 578.5 100.7)" opacity=".03"/>
<ellipse cx="578.5" cy="26.6" rx="6.7" ry="4.6" transform="rotate(64.8 578.5 26.6)" opacity=".06"/>
</g>
<g filter="url(#b15)" fill="#f4f400">
<ellipse cx="578.5" cy="32.5" rx="4.5" ry="3.2" transform="rotate(175.7 578.5 32.5)" opacity="0.8"/>
<ellipse cx="593.5" cy="35" rx="5.6" ry="3" transform="rotate(134.7 593.5 35)" opacity="1"/>
<ellipse cx="596.8" cy="30" rx="4.2" ry="3.2" transform="rotate(49.5 596.8 30)" opacity="1"/>
<ellipse cx="610.9" cy="40.8" rx="3.8" ry="2.3" transform="rotate(9.4 610.9 40.8)" opacity="0.5"/>
<ellipse cx="622.6" cy="36.6" rx="3.9" ry="2.2" transform="rotate(95.8 622.6 36.6)" opacity="0.5"/>
<ellipse cx="635.1" cy="39.1" rx="2.9" ry="2.6" transform="rotate(26.6 635.1 39.1)" opacity="0.4"/>
<ellipse cx="636.7" cy="15.8" rx="4" ry="2.7" transform="rotate(82.8 636.7 15.8)" opacity="0.6"/>
<ellipse cx="644.2" cy="16.7" rx="2.9" ry="1.7" transform="rotate(48.1 644.2 16.7)" opacity="0.4"/>
<ellipse cx="656.7" cy="20" rx="3.9" ry="2.8" transform="rotate(63.1 656.7 20)" opacity="0.5"/>
<ellipse cx="657.5" cy="38.3" rx="4.4" ry="2.3" transform="rotate(72.5 657.5 38.3)" opacity="0.5"/>
<ellipse cx="674.2" cy="36.6" rx="4.8" ry="2.9" transform="rotate(93.7 674.2 36.6)" opacity="0.8"/>
<ellipse cx="681.7" cy="35" rx="3.3" ry="2.2" transform="rotate(177.8 681.7 35)" opacity="0.6"/>
<ellipse cx="640.9" cy="25" rx="2.7" ry="1.9" transform="rotate(22.7 640.9 25)" opacity="0.3"/>
<ellipse cx="624.3" cy="17.5" rx="2.1" ry="1.6" transform="rotate(148.5 624.3 17.5)" opacity="0.3"/>
<ellipse cx="596.8" cy="64.1" rx="5" ry="2.7" transform="rotate(1.5 596.8 64.1)" opacity="1"/>
<ellipse cx="610.9" cy="61.6" rx="3.4" ry="2.7" transform="rotate(23.2 610.9 61.6)" opacity="0.5"/>
<ellipse cx="666.7" cy="64.9" rx="4.7" ry="2.9" transform="rotate(89.5 666.7 64.9)" opacity="0.7"/>
<ellipse cx="683.3" cy="65.8" rx="2.1" ry="1.6" transform="rotate(17 683.3 65.8)" opacity="0.6"/>
<ellipse cx="628.4" cy="74.1" rx="5.5" ry="3.1" transform="rotate(133.1 628.4 74.1)" opacity="1"/>
<ellipse cx="640.9" cy="74.9" rx="4.6" ry="3" transform="rotate(96.8 640.9 74.9)" opacity="1"/>
<ellipse cx="576" cy="74.1" rx="3.1" ry="2.4" transform="rotate(26.1 576 74.1)" opacity="0.6"/>
<ellipse cx="611.8" cy="83.2" rx="3.2" ry="2.3" transform="rotate(89.5 611.8 83.2)" opacity="0.5"/>
<ellipse cx="605.1" cy="89.1" rx="4.9" ry="2.8" transform="rotate(25.6 605.1 89.1)" opacity="0.9"/>
<ellipse cx="603.5" cy="95.7" rx="3.2" ry="2.3" transform="rotate(151.4 603.5 95.7)" opacity="0.5"/>
<ellipse cx="589.3" cy="88.2" rx="4.2" ry="2.5" transform="rotate(127.4 589.3 88.2)" opacity="0.5"/>
<ellipse cx="577.7" cy="86.6" rx="3" ry="2.5" transform="rotate(54.2 577.7 86.6)" opacity="0.5"/>
<ellipse cx="633.4" cy="89.1" rx="4.9" ry="3.6" transform="rotate(153.7 633.4 89.1)" opacity="0.8"/>
<ellipse cx="640.1" cy="87.4" rx="3.5" ry="2" transform="rotate(41 640.1 87.4)" opacity="0.6"/>
<ellipse cx="660.9" cy="90.7" rx="5.6" ry="3.6" transform="rotate(176.9 660.9 90.7)" opacity="1"/>
<ellipse cx="657.5" cy="99.9" rx="5.5" ry="4.3" transform="rotate(147.9 657.5 99.9)" opacity="1"/>
<ellipse cx="670" cy="88.2" rx="4" ry="2.8" transform="rotate(11.2 670 88.2)" opacity="0.7"/>
<ellipse cx="666.7" cy="106.5" rx="3.1" ry="2.4" transform="rotate(170.5 666.7 106.5)" opacity="0.5"/>
<ellipse cx="676.7" cy="100.7" rx="3.3" ry="2.8" transform="rotate(107.8 676.7 100.7)" opacity="0.5"/>
<ellipse cx="619.3" cy="107.4" rx="4" ry="2.2" transform="rotate(163.7 619.3 107.4)" opacity="0.8"/>
<ellipse cx="620.9" cy="113.2" rx="4.2" ry="2.5" transform="rotate(14.2 620.9 113.2)" opacity="0.8"/>
<ellipse cx="625.1" cy="119" rx="3.3" ry="2.2" transform="rotate(138.6 625.1 119)" opacity="0.8"/>
<ellipse cx="586.8" cy="110.7" rx="3.9" ry="2.8" transform="rotate(82.5 586.8 110.7)" opacity="0.6"/>
<ellipse cx="601" cy="114" rx="3.4" ry="2.8" transform="rotate(30.3 601 114)" opacity="0.5"/>
<ellipse cx="680.8" cy="116.5" rx="3.6" ry="2.5" transform="rotate(20.2 680.8 116.5)" opacity="0.8"/>
<ellipse cx="622.6" cy="54.1" rx="2.5" ry="2.1" transform="rotate(83.3 622.6 54.1)" opacity="0.3"/>
<ellipse cx="581.8" cy="64.9" rx="2.7" ry="1.9" transform="rotate(163.5 581.8 64.9)" opacity="0.3"/>
<ellipse cx="586.8" cy="70.7" rx="2.1" ry="1.6" transform="rotate(143 586.8 70.7)" opacity="0.3"/>
<ellipse cx="578.5" cy="100.7" rx="2.1" ry="1.6" transform="rotate(138.8 578.5 100.7)" opacity="0.3"/>
<ellipse cx="578.5" cy="26.6" rx="3.3" ry="2.2" transform="rotate(64.8 578.5 26.6)" opacity="0.6"/>
</g><g filter="url(#b1)" fill="#ffff30">
<ellipse cx="578.5" cy="32.5" rx="2.9" ry="2.1" transform="rotate(175.7 578.5 32.5)" opacity="0.8"/>
<ellipse cx="593.5" cy="35" rx="3.6" ry="2" transform="rotate(134.7 593.5 35)" opacity="1"/>
<ellipse cx="596.8" cy="30" rx="2.7" ry="2.1" transform="rotate(49.5 596.8 30)" opacity="1"/>
<ellipse cx="674.2" cy="36.6" rx="3.1" ry="1.9" transform="rotate(93.7 674.2 36.6)" opacity="0.8"/>
<ellipse cx="596.8" cy="64.1" rx="3.3" ry="1.7" transform="rotate(1.5 596.8 64.1)" opacity="1"/>
<ellipse cx="628.4" cy="74.1" rx="3.6" ry="2" transform="rotate(133.1 628.4 74.1)" opacity="1"/>
<ellipse cx="640.9" cy="74.9" rx="3" ry="2" transform="rotate(96.8 640.9 74.9)" opacity="1"/>
<ellipse cx="605.1" cy="89.1" rx="3.2" ry="1.8" transform="rotate(25.6 605.1 89.1)" opacity="0.9"/>
<ellipse cx="633.4" cy="89.1" rx="3.2" ry="2.4" transform="rotate(153.7 633.4 89.1)" opacity="0.8"/>
<ellipse cx="660.9" cy="90.7" rx="3.6" ry="2.4" transform="rotate(176.9 660.9 90.7)" opacity="1"/>
<ellipse cx="657.5" cy="99.9" rx="3.6" ry="2.8" transform="rotate(147.9 657.5 99.9)" opacity="1"/>
<ellipse cx="619.3" cy="107.4" rx="2.6" ry="1.4" transform="rotate(163.7 619.3 107.4)" opacity="0.8"/>
<ellipse cx="620.9" cy="113.2" rx="2.8" ry="1.6" transform="rotate(14.2 620.9 113.2)" opacity="0.8"/>
<ellipse cx="625.1" cy="119" rx="2.2" ry="1.4" transform="rotate(138.6 625.1 119)" opacity="0.8"/>
<ellipse cx="680.8" cy="116.5" rx="2.4" ry="1.6" transform="rotate(20.2 680.8 116.5)" opacity="0.8"/>
</g></g>
<text x="577.4" y="24.7" font-size="12.6" fill="#fff">Syn1/2</text>
<text x="362.3" y="67.9" font-size="12.7" font-weight="bold" text-anchor="middle" fill="#fff" transform="rotate(-90 362.3 67.9)">Cycle 1</text>
<clipPath id="cvgat"><rect x="350" y="123.1" width="110.1" height="109"/></clipPath>
<rect x="350" y="123.1" width="110.1" height="109" fill="#000"/>
<g clip-path="url(#cvgat)">
<g filter="url(#b15)" fill="#10e424">
<ellipse cx="405.4" cy="133.3" rx="6.3" ry="3.5" transform="rotate(119.1 405.4 133.3)" opacity="1"/>
<ellipse cx="398.8" cy="130" rx="5.3" ry="3.9" transform="rotate(19.3 398.8 130)" opacity="0.7"/>
<ellipse cx="448.7" cy="148.3" rx="4.8" ry="2.9" transform="rotate(93.7 448.7 148.3)" opacity="1"/>
<ellipse cx="397.9" cy="165.8" rx="5.6" ry="4.2" transform="rotate(62 397.9 165.8)" opacity="0.9"/>
<ellipse cx="368" cy="140.3" rx="3.2" ry="2.3" transform="rotate(63.9 368 140.3)" opacity="0.4"/>
<ellipse cx="392.1" cy="206.5" rx="6.3" ry="3.5" transform="rotate(50.7 392.1 206.5)" opacity="0.7"/>
<ellipse cx="358.8" cy="217.4" rx="7.8" ry="4.4" transform="rotate(142 358.8 217.4)" opacity="0.7"/>
<ellipse cx="432.9" cy="216.5" rx="5" ry="4.2" transform="rotate(125.7 432.9 216.5)" opacity="0.7"/>
<ellipse cx="416.2" cy="203.2" rx="3.9" ry="2.3" transform="rotate(76.6 416.2 203.2)" opacity="0.2"/>
<ellipse cx="408.7" cy="172.4" rx="2.1" ry="1.6" transform="rotate(55.5 408.7 172.4)" opacity="0.2"/>
<ellipse cx="452.8" cy="135" rx="2.5" ry="2.1" transform="rotate(30.8 452.8 135)" opacity="0.2"/>
<ellipse cx="378" cy="230.7" rx="4.9" ry="2.7" transform="rotate(76.4 378 230.7)" opacity="0.3"/>
<ellipse cx="350" cy="172.4" rx="1.8" ry="1.2" transform="rotate(77.2 350 172.4)" opacity="0.4"/>
</g><g filter="url(#b1)" fill="#50ff60">
<ellipse cx="405.4" cy="133.3" rx="4.1" ry="2.3" transform="rotate(119.1 405.4 133.3)" opacity="1"/>
<ellipse cx="448.7" cy="148.3" rx="3.1" ry="1.9" transform="rotate(93.7 448.7 148.3)" opacity="1"/>
<ellipse cx="397.9" cy="165.8" rx="3.6" ry="2.8" transform="rotate(62 397.9 165.8)" opacity="0.8"/>
</g></g>
<text x="353.2" y="135.5" font-size="12.6" fill="#fff">vGAT</text>
<clipPath id="crab3a"><rect x="462.1" y="123.1" width="110.1" height="109"/></clipPath>
<rect x="462.1" y="123.1" width="110.1" height="109" fill="#000"/>
<g clip-path="url(#crab3a)">
<g filter="url(#b3)" fill="#58c4a4">
<ellipse cx="509.9" cy="129.2" rx="14.5" ry="10.8" transform="rotate(148.5 509.9 129.2)" opacity=".27"/>
<ellipse cx="518.2" cy="135" rx="12.5" ry="6.5" transform="rotate(178.2 518.2 135)" opacity=".17"/>
<ellipse cx="468.3" cy="144.1" rx="11" ry="7.9" transform="rotate(175.7 468.3 144.1)" opacity=".20"/>
<ellipse cx="483.3" cy="145" rx="10.3" ry="5.5" transform="rotate(134.7 483.3 145)" opacity=".14"/>
<ellipse cx="494.9" cy="145" rx="7.3" ry="5.3" transform="rotate(49.6 494.9 145)" opacity=".14"/>
<ellipse cx="498.3" cy="153.3" rx="6.5" ry="4.9" transform="rotate(4.7 498.3 153.3)" opacity=".10"/>
<ellipse cx="522.4" cy="148.3" rx="7.4" ry="6.5" transform="rotate(26.6 522.4 148.3)" opacity=".14"/>
<ellipse cx="543.2" cy="130" rx="9" ry="6.8" transform="rotate(92.8 543.2 130)" opacity=".14"/>
<ellipse cx="546.5" cy="151.6" rx="10.3" ry="5.5" transform="rotate(116.5 546.5 151.6)" opacity=".14"/>
<ellipse cx="559.9" cy="147.5" rx="9.9" ry="5.9" transform="rotate(93.7 559.9 147.5)" opacity=".24"/>
<ellipse cx="568.2" cy="138.3" rx="6.2" ry="5.2" transform="rotate(30.8 568.2 138.3)" opacity=".10"/>
<ellipse cx="566.5" cy="158.3" rx="6.8" ry="4.6" transform="rotate(63.8 566.5 158.3)" opacity=".10"/>
<ellipse cx="559.9" cy="164.9" rx="6.4" ry="5" transform="rotate(70.6 559.9 164.9)" opacity=".10"/>
<ellipse cx="509.9" cy="164.9" rx="12.6" ry="9.6" transform="rotate(62 509.9 164.9)" opacity=".34"/>
<ellipse cx="466.7" cy="165.8" rx="6.9" ry="5.7" transform="rotate(87.7 466.7 165.8)" opacity=".10"/>
<ellipse cx="485.8" cy="175.8" rx="7.8" ry="4.9" transform="rotate(118.3 485.8 175.8)" opacity=".10"/>
<ellipse cx="501.6" cy="180.7" rx="6.2" ry="5.1" transform="rotate(119 501.6 180.7)" opacity=".14"/>
<ellipse cx="521.6" cy="171.6" rx="5.4" ry="4.1" transform="rotate(55.5 521.6 171.6)" opacity=".10"/>
<ellipse cx="554" cy="174.9" rx="10.9" ry="6.8" transform="rotate(79.6 554 174.9)" opacity=".24"/>
<ellipse cx="570.7" cy="175.8" rx="5.3" ry="4.2" transform="rotate(17 570.7 175.8)" opacity=".17"/>
<ellipse cx="517.4" cy="184.1" rx="9" ry="5" transform="rotate(133.1 517.4 184.1)" opacity=".10"/>
<ellipse cx="529.1" cy="185.7" rx="10.2" ry="5.6" transform="rotate(160.8 529.1 185.7)" opacity=".17"/>
<ellipse cx="465" cy="198.2" rx="8.5" ry="7.3" transform="rotate(54.2 465 198.2)" opacity=".17"/>
<ellipse cx="476.6" cy="193.2" rx="6.8" ry="5.8" transform="rotate(100.9 476.6 193.2)" opacity=".10"/>
<ellipse cx="499.9" cy="194.1" rx="7.4" ry="5.2" transform="rotate(89.5 499.9 194.1)" opacity=".14"/>
<ellipse cx="501.6" cy="204.9" rx="11.5" ry="6.2" transform="rotate(50.7 501.6 204.9)" opacity=".20"/>
<ellipse cx="521.6" cy="200.7" rx="13.3" ry="7" transform="rotate(28.1 521.6 200.7)" opacity=".27"/>
<ellipse cx="529.1" cy="199.1" rx="8.8" ry="5.1" transform="rotate(41 529.1 199.1)" opacity=".20"/>
<ellipse cx="547.4" cy="202.4" rx="12" ry="10.1" transform="rotate(129.2 547.4 202.4)" opacity=".34"/>
<ellipse cx="544.9" cy="211.5" rx="14.1" ry="11.2" transform="rotate(147.9 544.9 211.5)" opacity=".31"/>
<ellipse cx="558.2" cy="218.2" rx="10.7" ry="8.3" transform="rotate(170.5 558.2 218.2)" opacity=".20"/>
<ellipse cx="559.9" cy="196.6" rx="7.9" ry="6" transform="rotate(120.2 559.9 196.6)" opacity=".10"/>
<ellipse cx="468.3" cy="214.9" rx="13.4" ry="11.9" transform="rotate(38.6 468.3 214.9)" opacity=".20"/>
<ellipse cx="487.5" cy="223.2" rx="14.2" ry="8" transform="rotate(105.9 487.5 223.2)" opacity=".34"/>
<ellipse cx="480" cy="214.9" rx="8.9" ry="6.9" transform="rotate(113.5 480 214.9)" opacity=".14"/>
<ellipse cx="508.3" cy="219.9" rx="10.2" ry="5.6" transform="rotate(66.6 508.3 219.9)" opacity=".14"/>
<ellipse cx="518.2" cy="224.8" rx="10.2" ry="7.5" transform="rotate(177.8 518.2 224.8)" opacity=".14"/>
<ellipse cx="534.1" cy="220.7" rx="7.7" ry="5" transform="rotate(74 534.1 220.7)" opacity=".14"/>
<ellipse cx="527.4" cy="210.7" rx="6.7" ry="4.7" transform="rotate(14.7 527.4 210.7)" opacity=".10"/>
<ellipse cx="566.5" cy="229.8" rx="7" ry="5.6" transform="rotate(32 566.5 229.8)" opacity=".10"/>
<ellipse cx="509.9" cy="229.8" rx="7.9" ry="4.8" transform="rotate(82.2 509.9 229.8)" opacity=".10"/>
</g>
<g filter="url(#b2)" fill="#58c4a4">
<ellipse cx="509.9" cy="129.2" rx="7" ry="5.2" transform="rotate(148.5 509.9 129.2)" opacity="0.8"/>
<ellipse cx="518.2" cy="135" rx="6.1" ry="3.1" transform="rotate(178.2 518.2 135)" opacity="0.5"/>
<ellipse cx="468.3" cy="144.1" rx="5.3" ry="3.8" transform="rotate(175.7 468.3 144.1)" opacity="0.6"/>
<ellipse cx="483.3" cy="145" rx="5" ry="2.7" transform="rotate(134.7 483.3 145)" opacity="0.4"/>
<ellipse cx="494.9" cy="145" rx="3.6" ry="2.6" transform="rotate(49.6 494.9 145)" opacity="0.4"/>
<ellipse cx="498.3" cy="153.3" rx="3.2" ry="2.4" transform="rotate(4.7 498.3 153.3)" opacity="0.3"/>
<ellipse cx="522.4" cy="148.3" rx="3.6" ry="3.2" transform="rotate(26.6 522.4 148.3)" opacity="0.4"/>
<ellipse cx="543.2" cy="130" rx="4.4" ry="3.3" transform="rotate(92.8 543.2 130)" opacity="0.4"/>
<ellipse cx="546.5" cy="151.6" rx="5" ry="2.7" transform="rotate(116.5 546.5 151.6)" opacity="0.4"/>
<ellipse cx="559.9" cy="147.5" rx="4.8" ry="2.9" transform="rotate(93.7 559.9 147.5)" opacity="0.7"/>
<ellipse cx="568.2" cy="138.3" rx="3" ry="2.5" transform="rotate(30.8 568.2 138.3)" opacity="0.3"/>
<ellipse cx="566.5" cy="158.3" rx="3.3" ry="2.2" transform="rotate(63.8 566.5 158.3)" opacity="0.3"/>
<ellipse cx="559.9" cy="164.9" rx="3.1" ry="2.4" transform="rotate(70.6 559.9 164.9)" opacity="0.3"/>
<ellipse cx="509.9" cy="164.9" rx="6.1" ry="4.6" transform="rotate(62 509.9 164.9)" opacity="1"/>
<ellipse cx="466.7" cy="165.8" rx="3.4" ry="2.8" transform="rotate(87.7 466.7 165.8)" opacity="0.3"/>
<ellipse cx="485.8" cy="175.8" rx="3.8" ry="2.4" transform="rotate(118.3 485.8 175.8)" opacity="0.3"/>
<ellipse cx="501.6" cy="180.7" rx="3" ry="2.5" transform="rotate(119 501.6 180.7)" opacity="0.4"/>
<ellipse cx="521.6" cy="171.6" rx="2.6" ry="2" transform="rotate(55.5 521.6 171.6)" opacity="0.3"/>
<ellipse cx="554" cy="174.9" rx="5.3" ry="3.3" transform="rotate(79.6 554 174.9)" opacity="0.7"/>
<ellipse cx="570.7" cy="175.8" rx="2.6" ry="2" transform="rotate(17 570.7 175.8)" opacity="0.5"/>
<ellipse cx="517.4" cy="184.1" rx="4.3" ry="2.4" transform="rotate(133.1 517.4 184.1)" opacity="0.3"/>
<ellipse cx="529.1" cy="185.7" rx="4.9" ry="2.7" transform="rotate(160.8 529.1 185.7)" opacity="0.5"/>
<ellipse cx="465" cy="198.2" rx="4.1" ry="3.5" transform="rotate(54.2 465 198.2)" opacity="0.5"/>
<ellipse cx="476.6" cy="193.2" rx="3.3" ry="2.8" transform="rotate(100.9 476.6 193.2)" opacity="0.3"/>
<ellipse cx="499.9" cy="194.1" rx="3.6" ry="2.5" transform="rotate(89.5 499.9 194.1)" opacity="0.4"/>
<ellipse cx="501.6" cy="204.9" rx="5.5" ry="3" transform="rotate(50.7 501.6 204.9)" opacity="0.6"/>
<ellipse cx="521.6" cy="200.7" rx="6.4" ry="3.4" transform="rotate(28.1 521.6 200.7)" opacity="0.8"/>
<ellipse cx="529.1" cy="199.1" rx="4.3" ry="2.5" transform="rotate(41 529.1 199.1)" opacity="0.6"/>
<ellipse cx="547.4" cy="202.4" rx="5.8" ry="4.9" transform="rotate(129.2 547.4 202.4)" opacity="1"/>
<ellipse cx="544.9" cy="211.5" rx="6.8" ry="5.4" transform="rotate(147.9 544.9 211.5)" opacity="0.9"/>
<ellipse cx="558.2" cy="218.2" rx="5.2" ry="4" transform="rotate(170.5 558.2 218.2)" opacity="0.6"/>
<ellipse cx="559.9" cy="196.6" rx="3.8" ry="2.9" transform="rotate(120.2 559.9 196.6)" opacity="0.3"/>
<ellipse cx="468.3" cy="214.9" rx="6.5" ry="5.8" transform="rotate(38.6 468.3 214.9)" opacity="0.6"/>
<ellipse cx="487.5" cy="223.2" rx="6.9" ry="3.8" transform="rotate(105.9 487.5 223.2)" opacity="1"/>
<ellipse cx="480" cy="214.9" rx="4.3" ry="3.4" transform="rotate(113.5 480 214.9)" opacity="0.4"/>
<ellipse cx="508.3" cy="219.9" rx="5" ry="2.7" transform="rotate(66.6 508.3 219.9)" opacity="0.4"/>
<ellipse cx="518.2" cy="224.8" rx="4.9" ry="3.6" transform="rotate(177.8 518.2 224.8)" opacity="0.4"/>
<ellipse cx="534.1" cy="220.7" rx="3.7" ry="2.4" transform="rotate(74 534.1 220.7)" opacity="0.4"/>
<ellipse cx="527.4" cy="210.7" rx="3.2" ry="2.3" transform="rotate(14.7 527.4 210.7)" opacity="0.3"/>
<ellipse cx="566.5" cy="229.8" rx="3.4" ry="2.7" transform="rotate(32 566.5 229.8)" opacity="0.3"/>
<ellipse cx="509.9" cy="229.8" rx="3.8" ry="2.3" transform="rotate(82.2 509.9 229.8)" opacity="0.3"/>
</g><g filter="url(#b1)" fill="#90f0d0">
<ellipse cx="509.9" cy="129.2" rx="4.6" ry="3.4" transform="rotate(148.5 509.9 129.2)" opacity="0.8"/>
<ellipse cx="509.9" cy="164.9" rx="4" ry="3" transform="rotate(62 509.9 164.9)" opacity="1"/>
<ellipse cx="521.6" cy="200.7" rx="4.2" ry="2.2" transform="rotate(28.1 521.6 200.7)" opacity="0.8"/>
<ellipse cx="547.4" cy="202.4" rx="3.8" ry="3.2" transform="rotate(129.2 547.4 202.4)" opacity="1"/>
<ellipse cx="544.9" cy="211.5" rx="4.4" ry="3.5" transform="rotate(147.9 544.9 211.5)" opacity="0.9"/>
<ellipse cx="487.5" cy="223.2" rx="4.5" ry="2.5" transform="rotate(105.9 487.5 223.2)" opacity="1"/>
</g></g>
<text x="465.3" y="135.5" font-size="12.6" fill="#fff">Rab3a</text>
<clipPath id="cvamp2"><rect x="574.1" y="123.1" width="110.9" height="109"/></clipPath>
<rect x="574.1" y="123.1" width="110.9" height="109" fill="#000"/>
<g clip-path="url(#cvamp2)">
<g filter="url(#b3)" fill="#00d4dc">
<ellipse cx="579.3" cy="144.1" rx="9.2" ry="6.6" transform="rotate(175.7 579.3 144.1)" opacity=".10"/>
<ellipse cx="594.3" cy="144.1" rx="9.3" ry="6.5" transform="rotate(63.9 594.3 144.1)" opacity=".06"/>
<ellipse cx="610.9" cy="151.6" rx="7.9" ry="4.8" transform="rotate(9.4 610.9 151.6)" opacity=".07"/>
<ellipse cx="625.9" cy="133.3" rx="8.9" ry="5" transform="rotate(119.1 625.9 133.3)" opacity=".05"/>
<ellipse cx="630.9" cy="135" rx="6.7" ry="4.7" transform="rotate(99.9 630.9 135)" opacity=".05"/>
<ellipse cx="642.6" cy="125" rx="7.1" ry="4.3" transform="rotate(48.1 642.6 125)" opacity=".06"/>
<ellipse cx="655.9" cy="130.8" rx="9.2" ry="6.6" transform="rotate(63.1 655.9 130.8)" opacity=".10"/>
<ellipse cx="631.7" cy="148.3" rx="6.7" ry="5.9" transform="rotate(26.6 631.7 148.3)" opacity=".05"/>
<ellipse cx="637.6" cy="147.5" rx="5.9" ry="3.6" transform="rotate(40.7 637.6 147.5)" opacity=".04"/>
<ellipse cx="656.7" cy="147.5" rx="8.3" ry="4.4" transform="rotate(72.5 656.7 147.5)" opacity=".06"/>
<ellipse cx="659.2" cy="153.3" rx="7.4" ry="4" transform="rotate(116.5 659.2 153.3)" opacity=".05"/>
<ellipse cx="674.2" cy="147.5" rx="8.7" ry="5.2" transform="rotate(93.7 674.2 147.5)" opacity=".06"/>
<ellipse cx="680.8" cy="145.8" rx="6.9" ry="4.5" transform="rotate(177.8 680.8 145.8)" opacity=".06"/>
<ellipse cx="677.5" cy="135.8" rx="5.2" ry="4.3" transform="rotate(30.8 677.5 135.8)" opacity=".04"/>
<ellipse cx="620.9" cy="145.8" rx="6" ry="3.5" transform="rotate(95.8 620.9 145.8)" opacity=".04"/>
<ellipse cx="596.8" cy="174.1" rx="9.1" ry="4.8" transform="rotate(1.5 596.8 174.1)" opacity=".11"/>
<ellipse cx="610.1" cy="170.8" rx="7.4" ry="4" transform="rotate(17 610.1 170.8)" opacity=".05"/>
<ellipse cx="614.3" cy="174.1" rx="4.2" ry="3.4" transform="rotate(23.2 614.3 174.1)" opacity=".04"/>
<ellipse cx="620.9" cy="164.1" rx="5.2" ry="4.3" transform="rotate(83.3 620.9 164.1)" opacity=".04"/>
<ellipse cx="665.9" cy="174.9" rx="9.7" ry="6.1" transform="rotate(89.5 665.9 174.9)" opacity=".07"/>
<ellipse cx="683.3" cy="176.6" rx="5.3" ry="4.2" transform="rotate(17 683.3 176.6)" opacity=".08"/>
<ellipse cx="630.1" cy="184.9" rx="10.4" ry="5.4" transform="rotate(113.2 630.1 184.9)" opacity=".07"/>
<ellipse cx="640.9" cy="185.2" rx="7.7" ry="5" transform="rotate(96.8 640.9 185.2)" opacity=".11"/>
<ellipse cx="587.6" cy="179.9" rx="4.3" ry="3.3" transform="rotate(143 587.6 179.9)" opacity=".04"/>
<ellipse cx="611.8" cy="193.2" rx="6.7" ry="4.7" transform="rotate(89.5 611.8 193.2)" opacity=".06"/>
<ellipse cx="605.1" cy="199.1" rx="8" ry="4.6" transform="rotate(25.6 605.1 199.1)" opacity=".06"/>
<ellipse cx="577.7" cy="196.6" rx="5.1" ry="4.4" transform="rotate(54.2 577.7 196.6)" opacity=".05"/>
<ellipse cx="576" cy="207.4" rx="5.6" ry="3.9" transform="rotate(114.3 576 207.4)" opacity=".06"/>
<ellipse cx="634.2" cy="199.9" rx="11.6" ry="6.1" transform="rotate(28.1 634.2 199.9)" opacity=".07"/>
<ellipse cx="660" cy="202.4" rx="9.6" ry="8.1" transform="rotate(129.2 660 202.4)" opacity=".12"/>
<ellipse cx="657.5" cy="209.9" rx="11.3" ry="9" transform="rotate(147.9 657.5 209.9)" opacity=".12"/>
<ellipse cx="670.9" cy="199.1" rx="7.2" ry="5.4" transform="rotate(120.2 670.9 199.1)" opacity=".06"/>
<ellipse cx="667.5" cy="218.2" rx="8.9" ry="6.9" transform="rotate(170.5 667.5 218.2)" opacity=".08"/>
<ellipse cx="677.5" cy="211.5" rx="6.9" ry="5.8" transform="rotate(107.8 677.5 211.5)" opacity=".06"/>
<ellipse cx="620.1" cy="219" rx="7.4" ry="4" transform="rotate(163.7 620.1 219)" opacity=".08"/>
<ellipse cx="621.8" cy="224.8" rx="7.6" ry="5" transform="rotate(138.6 621.8 224.8)" opacity=".08"/>
<ellipse cx="599.3" cy="223.2" rx="10.1" ry="5.7" transform="rotate(105.9 599.3 223.2)" opacity=".08"/>
<ellipse cx="605.1" cy="226.5" rx="6" ry="3.4" transform="rotate(95.3 605.1 226.5)" opacity=".06"/>
<ellipse cx="587.6" cy="217.4" rx="5.4" ry="4.1" transform="rotate(141 587.6 217.4)" opacity=".05"/>
<ellipse cx="580.2" cy="221.5" rx="6.1" ry="5.2" transform="rotate(83.2 580.2 221.5)" opacity=".05"/>
<ellipse cx="680.8" cy="227.3" rx="6.7" ry="4.7" transform="rotate(20.2 680.8 227.3)" opacity=".07"/>
<ellipse cx="646.7" cy="222.4" rx="6.2" ry="5.2" transform="rotate(68.1 646.7 222.4)" opacity=".04"/>
<ellipse cx="584.3" cy="193.2" rx="4.3" ry="3.3" transform="rotate(71.7 584.3 193.2)" opacity=".04"/>
</g>
<g filter="url(#b15)" fill="#00d4dc">
<ellipse cx="579.3" cy="144.1" rx="4.5" ry="3.2" transform="rotate(175.7 579.3 144.1)" opacity="0.8"/>
<ellipse cx="594.3" cy="144.1" rx="4.5" ry="3.1" transform="rotate(63.9 594.3 144.1)" opacity="0.5"/>
<ellipse cx="610.9" cy="151.6" rx="3.8" ry="2.3" transform="rotate(9.4 610.9 151.6)" opacity="0.6"/>
<ellipse cx="625.9" cy="133.3" rx="4.3" ry="2.4" transform="rotate(119.1 625.9 133.3)" opacity="0.4"/>
<ellipse cx="630.9" cy="135" rx="3.2" ry="2.3" transform="rotate(99.9 630.9 135)" opacity="0.4"/>
<ellipse cx="642.6" cy="125" rx="3.5" ry="2.1" transform="rotate(48.1 642.6 125)" opacity="0.5"/>
<ellipse cx="655.9" cy="130.8" rx="4.5" ry="3.2" transform="rotate(63.1 655.9 130.8)" opacity="0.8"/>
<ellipse cx="631.7" cy="148.3" rx="3.2" ry="2.9" transform="rotate(26.6 631.7 148.3)" opacity="0.4"/>
<ellipse cx="637.6" cy="147.5" rx="2.9" ry="1.7" transform="rotate(40.7 637.6 147.5)" opacity="0.3"/>
<ellipse cx="656.7" cy="147.5" rx="4" ry="2.1" transform="rotate(72.5 656.7 147.5)" opacity="0.5"/>
<ellipse cx="659.2" cy="153.3" rx="3.6" ry="1.9" transform="rotate(116.5 659.2 153.3)" opacity="0.4"/>
<ellipse cx="674.2" cy="147.5" rx="4.2" ry="2.5" transform="rotate(93.7 674.2 147.5)" opacity="0.5"/>
<ellipse cx="680.8" cy="145.8" rx="3.3" ry="2.2" transform="rotate(177.8 680.8 145.8)" opacity="0.5"/>
<ellipse cx="677.5" cy="135.8" rx="2.5" ry="2.1" transform="rotate(30.8 677.5 135.8)" opacity="0.3"/>
<ellipse cx="620.9" cy="145.8" rx="2.9" ry="1.7" transform="rotate(95.8 620.9 145.8)" opacity="0.3"/>
<ellipse cx="596.8" cy="174.1" rx="4.4" ry="2.3" transform="rotate(1.5 596.8 174.1)" opacity="0.9"/>
<ellipse cx="610.1" cy="170.8" rx="3.6" ry="1.9" transform="rotate(17 610.1 170.8)" opacity="0.4"/>
<ellipse cx="614.3" cy="174.1" rx="2" ry="1.6" transform="rotate(23.2 614.3 174.1)" opacity="0.3"/>
<ellipse cx="620.9" cy="164.1" rx="2.5" ry="2.1" transform="rotate(83.3 620.9 164.1)" opacity="0.3"/>
<ellipse cx="665.9" cy="174.9" rx="4.7" ry="2.9" transform="rotate(89.5 665.9 174.9)" opacity="0.6"/>
<ellipse cx="683.3" cy="176.6" rx="2.6" ry="2" transform="rotate(17 683.3 176.6)" opacity="0.7"/>
<ellipse cx="630.1" cy="184.9" rx="5" ry="2.6" transform="rotate(113.2 630.1 184.9)" opacity="0.6"/>
<ellipse cx="640.9" cy="185.2" rx="3.7" ry="2.4" transform="rotate(96.8 640.9 185.2)" opacity="0.9"/>
<ellipse cx="587.6" cy="179.9" rx="2.1" ry="1.6" transform="rotate(143 587.6 179.9)" opacity="0.3"/>
<ellipse cx="611.8" cy="193.2" rx="3.2" ry="2.3" transform="rotate(89.5 611.8 193.2)" opacity="0.5"/>
<ellipse cx="605.1" cy="199.1" rx="3.9" ry="2.2" transform="rotate(25.6 605.1 199.1)" opacity="0.5"/>
<ellipse cx="577.7" cy="196.6" rx="2.5" ry="2.1" transform="rotate(54.2 577.7 196.6)" opacity="0.4"/>
<ellipse cx="576" cy="207.4" rx="2.7" ry="1.9" transform="rotate(114.3 576 207.4)" opacity="0.5"/>
<ellipse cx="634.2" cy="199.9" rx="5.6" ry="3" transform="rotate(28.1 634.2 199.9)" opacity="0.6"/>
<ellipse cx="660" cy="202.4" rx="4.6" ry="3.9" transform="rotate(129.2 660 202.4)" opacity="1"/>
<ellipse cx="657.5" cy="209.9" rx="5.5" ry="4.3" transform="rotate(147.9 657.5 209.9)" opacity="1"/>
<ellipse cx="670.9" cy="199.1" rx="3.5" ry="2.6" transform="rotate(120.2 670.9 199.1)" opacity="0.5"/>
<ellipse cx="667.5" cy="218.2" rx="4.3" ry="3.3" transform="rotate(170.5 667.5 218.2)" opacity="0.7"/>
<ellipse cx="677.5" cy="211.5" rx="3.3" ry="2.8" transform="rotate(107.8 677.5 211.5)" opacity="0.5"/>
<ellipse cx="620.1" cy="219" rx="3.6" ry="1.9" transform="rotate(163.7 620.1 219)" opacity="0.7"/>
<ellipse cx="621.8" cy="224.8" rx="3.7" ry="2.4" transform="rotate(138.6 621.8 224.8)" opacity="0.7"/>
<ellipse cx="599.3" cy="223.2" rx="4.9" ry="2.7" transform="rotate(105.9 599.3 223.2)" opacity="0.7"/>
<ellipse cx="605.1" cy="226.5" rx="2.9" ry="1.7" transform="rotate(95.3 605.1 226.5)" opacity="0.5"/>
<ellipse cx="587.6" cy="217.4" rx="2.6" ry="2" transform="rotate(141 587.6 217.4)" opacity="0.4"/>
<ellipse cx="580.2" cy="221.5" rx="3" ry="2.5" transform="rotate(83.2 580.2 221.5)" opacity="0.4"/>
<ellipse cx="680.8" cy="227.3" rx="3.3" ry="2.3" transform="rotate(20.2 680.8 227.3)" opacity="0.6"/>
<ellipse cx="646.7" cy="222.4" rx="3" ry="2.5" transform="rotate(68.1 646.7 222.4)" opacity="0.3"/>
<ellipse cx="584.3" cy="193.2" rx="2.1" ry="1.6" transform="rotate(71.7 584.3 193.2)" opacity="0.3"/>
</g><g filter="url(#b1)" fill="#30ffff">
<ellipse cx="579.3" cy="144.1" rx="2.9" ry="2.1" transform="rotate(175.7 579.3 144.1)" opacity="0.8"/>
<ellipse cx="655.9" cy="130.8" rx="2.9" ry="2.1" transform="rotate(63.1 655.9 130.8)" opacity="0.8"/>
<ellipse cx="596.8" cy="174.1" rx="2.9" ry="1.5" transform="rotate(1.5 596.8 174.1)" opacity="0.9"/>
<ellipse cx="640.9" cy="185.2" rx="2.4" ry="1.6" transform="rotate(96.8 640.9 185.2)" opacity="0.9"/>
<ellipse cx="660" cy="202.4" rx="3" ry="2.6" transform="rotate(129.2 660 202.4)" opacity="1"/>
<ellipse cx="657.5" cy="209.9" rx="3.6" ry="2.8" transform="rotate(147.9 657.5 209.9)" opacity="1"/>
</g></g>
<text x="577.4" y="135.5" font-size="12.6" fill="#fff">VAMP2</text>
<text x="362.3" y="178.6" font-size="12.7" font-weight="bold" text-anchor="middle" fill="#fff" transform="rotate(-90 362.3 178.6)">Cycle 2</text>
<clipPath id="cpsd95"><rect x="350" y="234" width="110.1" height="108.9"/></clipPath>
<rect x="350" y="234" width="110.1" height="108.9" fill="#000"/>
<g clip-path="url(#cpsd95)">
<g filter="url(#b3)" fill="#1414ff">
<ellipse cx="355.5" cy="251" rx="10.3" ry="7.4" transform="rotate(175.7 355.5 251)" opacity=".16"/>
<ellipse cx="368.8" cy="260.1" rx="10.3" ry="5.5" transform="rotate(134.7 368.8 260.1)" opacity=".14"/>
<ellipse cx="380.5" cy="254.3" rx="7.5" ry="5.1" transform="rotate(47.8 380.5 254.3)" opacity=".10"/>
<ellipse cx="373.8" cy="252.6" rx="5.4" ry="4.1" transform="rotate(49.5 373.8 252.6)" opacity=".08"/>
<ellipse cx="388.8" cy="261" rx="5.9" ry="3.6" transform="rotate(9.4 388.8 261)" opacity=".08"/>
<ellipse cx="399.6" cy="256.8" rx="6" ry="3.5" transform="rotate(95.8 399.6 256.8)" opacity=".06"/>
<ellipse cx="392.9" cy="256" rx="4.3" ry="3.2" transform="rotate(170.4 392.9 256)" opacity=".06"/>
<ellipse cx="413.7" cy="257.6" rx="7.1" ry="4.3" transform="rotate(40.7 413.7 257.6)" opacity=".08"/>
<ellipse cx="412.1" cy="244.3" rx="5.4" ry="4.1" transform="rotate(102.3 412.1 244.3)" opacity=".06"/>
<ellipse cx="432" cy="240.2" rx="7.8" ry="4.9" transform="rotate(16.4 432 240.2)" opacity=".08"/>
<ellipse cx="424.6" cy="242.6" rx="4.5" ry="3.1" transform="rotate(94.8 424.6 242.6)" opacity=".06"/>
<ellipse cx="446.2" cy="250.1" rx="6.1" ry="3.4" transform="rotate(31.6 446.2 250.1)" opacity=".06"/>
<ellipse cx="443.7" cy="260.1" rx="7.3" ry="5.3" transform="rotate(148.9 443.7 260.1)" opacity=".10"/>
<ellipse cx="456.2" cy="261.8" rx="4.1" ry="3.5" transform="rotate(19.9 456.2 261.8)" opacity=".06"/>
<ellipse cx="433.7" cy="263.5" rx="6.2" ry="3.3" transform="rotate(116.5 433.7 263.5)" opacity=".06"/>
<ellipse cx="447" cy="276.8" rx="5.9" ry="3.6" transform="rotate(38.1 447 276.8)" opacity=".08"/>
<ellipse cx="452.8" cy="275.9" rx="4.8" ry="2.8" transform="rotate(139.9 452.8 275.9)" opacity=".06"/>
<ellipse cx="437.9" cy="282.6" rx="6.3" ry="5.1" transform="rotate(19.1 437.9 282.6)" opacity=".06"/>
<ellipse cx="453.7" cy="285.9" rx="6.1" ry="3.4" transform="rotate(46.5 453.7 285.9)" opacity=".06"/>
<ellipse cx="374.6" cy="286.8" rx="8.6" ry="5.3" transform="rotate(118.3 374.6 286.8)" opacity=".12"/>
<ellipse cx="389.3" cy="285.1" rx="6.3" ry="5" transform="rotate(23.2 389.3 285.1)" opacity=".12"/>
<ellipse cx="405.4" cy="289.2" rx="5.4" ry="4.1" transform="rotate(28.1 405.4 289.2)" opacity=".06"/>
<ellipse cx="422.9" cy="288.4" rx="4.7" ry="2.9" transform="rotate(106.7 422.9 288.4)" opacity=".06"/>
<ellipse cx="404.3" cy="300.1" rx="9.2" ry="4.8" transform="rotate(113.2 404.3 300.1)" opacity=".17"/>
<ellipse cx="417.1" cy="296.7" rx="7.3" ry="4.1" transform="rotate(160.8 417.1 296.7)" opacity=".10"/>
<ellipse cx="387.1" cy="303.4" rx="6.1" ry="5.3" transform="rotate(35.2 387.1 303.4)" opacity=".08"/>
<ellipse cx="378" cy="308.9" rx="8" ry="4.6" transform="rotate(25.6 378 308.9)" opacity=".12"/>
<ellipse cx="406.2" cy="311.7" rx="8.3" ry="4.3" transform="rotate(86.4 406.2 311.7)" opacity=".08"/>
<ellipse cx="412.1" cy="312.5" rx="6.2" ry="3.3" transform="rotate(28.1 412.1 312.5)" opacity=".06"/>
<ellipse cx="351.3" cy="321.7" rx="6.9" ry="5.7" transform="rotate(119.1 351.3 321.7)" opacity=".14"/>
<ellipse cx="363.8" cy="323.4" rx="5.5" ry="4" transform="rotate(50.1 363.8 323.4)" opacity=".06"/>
<ellipse cx="375.5" cy="318.4" rx="4.7" ry="2.9" transform="rotate(162.3 375.5 318.4)" opacity=".06"/>
<ellipse cx="374.6" cy="329.2" rx="8.7" ry="7.1" transform="rotate(3.3 374.6 329.2)" opacity=".18"/>
<ellipse cx="367.1" cy="331.7" rx="5.5" ry="3.9" transform="rotate(82.5 367.1 331.7)" opacity=".08"/>
<ellipse cx="397.9" cy="326.7" rx="5.6" ry="3.9" transform="rotate(14.3 397.9 326.7)" opacity=".08"/>
<ellipse cx="399.6" cy="335.8" rx="8.4" ry="5.5" transform="rotate(138.6 399.6 335.8)" opacity=".16"/>
<ellipse cx="390.4" cy="336.7" rx="5.5" ry="4" transform="rotate(167.6 390.4 336.7)" opacity=".08"/>
<ellipse cx="382.9" cy="338.3" rx="6.2" ry="3.3" transform="rotate(63.7 382.9 338.3)" opacity=".08"/>
<ellipse cx="437" cy="316.7" rx="10.1" ry="8.9" transform="rotate(35.8 437 316.7)" opacity=".20"/>
<ellipse cx="439.5" cy="325.9" rx="8.7" ry="7.1" transform="rotate(103.2 439.5 325.9)" opacity=".18"/>
<ellipse cx="429.5" cy="322.5" rx="7.8" ry="6.1" transform="rotate(27.7 429.5 322.5)" opacity=".12"/>
<ellipse cx="427.9" cy="330.9" rx="7.2" ry="4.1" transform="rotate(163 427.9 330.9)" opacity=".10"/>
<ellipse cx="453.7" cy="332.5" rx="6" ry="3.5" transform="rotate(139.2 453.7 332.5)" opacity=".06"/>
<ellipse cx="457.8" cy="237.7" rx="4.1" ry="3.5" transform="rotate(172.1 457.8 237.7)" opacity=".08"/>
<ellipse cx="437.9" cy="235.2" rx="4.4" ry="3.2" transform="rotate(128.6 437.9 235.2)" opacity=".06"/>
<ellipse cx="358" cy="337.5" rx="4.8" ry="2.7" transform="rotate(154.5 358 337.5)" opacity=".06"/>
<ellipse cx="456.2" cy="340.8" rx="4.2" ry="3.4" transform="rotate(32 456.2 340.8)" opacity=".06"/>
<ellipse cx="397.9" cy="236.8" rx="4.3" ry="3.2" transform="rotate(148.5 397.9 236.8)" opacity=".06"/>
</g>
<g filter="url(#b15)" fill="#1414ff">
<ellipse cx="355.5" cy="251" rx="5" ry="3.6" transform="rotate(175.7 355.5 251)" opacity="0.8"/>
<ellipse cx="368.8" cy="260.1" rx="5" ry="2.7" transform="rotate(134.7 368.8 260.1)" opacity="0.7"/>
<ellipse cx="380.5" cy="254.3" rx="3.6" ry="2.5" transform="rotate(47.8 380.5 254.3)" opacity="0.5"/>
<ellipse cx="373.8" cy="252.6" rx="2.6" ry="2" transform="rotate(49.5 373.8 252.6)" opacity="0.4"/>
<ellipse cx="388.8" cy="261" rx="2.9" ry="1.7" transform="rotate(9.4 388.8 261)" opacity="0.4"/>
<ellipse cx="399.6" cy="256.8" rx="2.9" ry="1.7" transform="rotate(95.8 399.6 256.8)" opacity="0.3"/>
<ellipse cx="392.9" cy="256" rx="2.1" ry="1.6" transform="rotate(170.4 392.9 256)" opacity="0.3"/>
<ellipse cx="413.7" cy="257.6" rx="3.4" ry="2.1" transform="rotate(40.7 413.7 257.6)" opacity="0.4"/>
<ellipse cx="412.1" cy="244.3" rx="2.6" ry="2" transform="rotate(102.3 412.1 244.3)" opacity="0.3"/>
<ellipse cx="432" cy="240.2" rx="3.8" ry="2.4" transform="rotate(16.4 432 240.2)" opacity="0.4"/>
<ellipse cx="424.6" cy="242.6" rx="2.2" ry="1.5" transform="rotate(94.8 424.6 242.6)" opacity="0.3"/>
<ellipse cx="446.2" cy="250.1" rx="3" ry="1.6" transform="rotate(31.6 446.2 250.1)" opacity="0.3"/>
<ellipse cx="443.7" cy="260.1" rx="3.5" ry="2.6" transform="rotate(148.9 443.7 260.1)" opacity="0.5"/>
<ellipse cx="456.2" cy="261.8" rx="2" ry="1.7" transform="rotate(19.9 456.2 261.8)" opacity="0.3"/>
<ellipse cx="433.7" cy="263.5" rx="3" ry="1.6" transform="rotate(116.5 433.7 263.5)" opacity="0.3"/>
<ellipse cx="447" cy="276.8" rx="2.9" ry="1.7" transform="rotate(38.1 447 276.8)" opacity="0.4"/>
<ellipse cx="452.8" cy="275.9" rx="2.3" ry="1.3" transform="rotate(139.9 452.8 275.9)" opacity="0.3"/>
<ellipse cx="437.9" cy="282.6" rx="3" ry="2.5" transform="rotate(19.1 437.9 282.6)" opacity="0.3"/>
<ellipse cx="453.7" cy="285.9" rx="2.9" ry="1.7" transform="rotate(46.5 453.7 285.9)" opacity="0.3"/>
<ellipse cx="374.6" cy="286.8" rx="4.2" ry="2.6" transform="rotate(118.3 374.6 286.8)" opacity="0.6"/>
<ellipse cx="389.3" cy="285.1" rx="3.1" ry="2.4" transform="rotate(23.2 389.3 285.1)" opacity="0.6"/>
<ellipse cx="405.4" cy="289.2" rx="2.6" ry="2" transform="rotate(28.1 405.4 289.2)" opacity="0.3"/>
<ellipse cx="422.9" cy="288.4" rx="2.3" ry="1.4" transform="rotate(106.7 422.9 288.4)" opacity="0.3"/>
<ellipse cx="404.3" cy="300.1" rx="4.4" ry="2.3" transform="rotate(113.2 404.3 300.1)" opacity="0.9"/>
<ellipse cx="417.1" cy="296.7" rx="3.5" ry="2" transform="rotate(160.8 417.1 296.7)" opacity="0.5"/>
<ellipse cx="387.1" cy="303.4" rx="2.9" ry="2.6" transform="rotate(35.2 387.1 303.4)" opacity="0.4"/>
<ellipse cx="378" cy="308.9" rx="3.9" ry="2.2" transform="rotate(25.6 378 308.9)" opacity="0.6"/>
<ellipse cx="406.2" cy="311.7" rx="4" ry="2.1" transform="rotate(86.4 406.2 311.7)" opacity="0.4"/>
<ellipse cx="412.1" cy="312.5" rx="3" ry="1.6" transform="rotate(28.1 412.1 312.5)" opacity="0.3"/>
<ellipse cx="351.3" cy="321.7" rx="3.4" ry="2.8" transform="rotate(119.1 351.3 321.7)" opacity="0.7"/>
<ellipse cx="363.8" cy="323.4" rx="2.7" ry="1.9" transform="rotate(50.1 363.8 323.4)" opacity="0.3"/>
<ellipse cx="375.5" cy="318.4" rx="2.3" ry="1.4" transform="rotate(162.3 375.5 318.4)" opacity="0.3"/>
<ellipse cx="374.6" cy="329.2" rx="4.2" ry="3.4" transform="rotate(3.3 374.6 329.2)" opacity="0.9"/>
<ellipse cx="367.1" cy="331.7" rx="2.7" ry="1.9" transform="rotate(82.5 367.1 331.7)" opacity="0.4"/>
<ellipse cx="397.9" cy="326.7" rx="2.7" ry="1.9" transform="rotate(14.3 397.9 326.7)" opacity="0.4"/>
<ellipse cx="399.6" cy="335.8" rx="4.1" ry="2.7" transform="rotate(138.6 399.6 335.8)" opacity="0.8"/>
<ellipse cx="390.4" cy="336.7" rx="2.7" ry="1.9" transform="rotate(167.6 390.4 336.7)" opacity="0.4"/>
<ellipse cx="382.9" cy="338.3" rx="3" ry="1.6" transform="rotate(63.7 382.9 338.3)" opacity="0.4"/>
<ellipse cx="437" cy="316.7" rx="4.9" ry="4.3" transform="rotate(35.8 437 316.7)" opacity="1"/>
<ellipse cx="439.5" cy="325.9" rx="4.2" ry="3.4" transform="rotate(103.2 439.5 325.9)" opacity="0.9"/>
<ellipse cx="429.5" cy="322.5" rx="3.8" ry="3" transform="rotate(27.7 429.5 322.5)" opacity="0.6"/>
<ellipse cx="427.9" cy="330.9" rx="3.5" ry="2" transform="rotate(163 427.9 330.9)" opacity="0.5"/>
<ellipse cx="453.7" cy="332.5" rx="2.9" ry="1.7" transform="rotate(139.2 453.7 332.5)" opacity="0.3"/>
<ellipse cx="457.8" cy="237.7" rx="2" ry="1.7" transform="rotate(172.1 457.8 237.7)" opacity="0.4"/>
<ellipse cx="437.9" cy="235.2" rx="2.1" ry="1.6" transform="rotate(128.6 437.9 235.2)" opacity="0.3"/>
<ellipse cx="358" cy="337.5" rx="2.3" ry="1.3" transform="rotate(154.5 358 337.5)" opacity="0.3"/>
<ellipse cx="456.2" cy="340.8" rx="2" ry="1.6" transform="rotate(32 456.2 340.8)" opacity="0.3"/>
<ellipse cx="397.9" cy="236.8" rx="2.1" ry="1.6" transform="rotate(148.5 397.9 236.8)" opacity="0.3"/>
</g><g filter="url(#b1)" fill="#3030ff">
<ellipse cx="355.5" cy="251" rx="3.3" ry="2.3" transform="rotate(175.7 355.5 251)" opacity="0.8"/>
<ellipse cx="404.3" cy="300.1" rx="2.9" ry="1.5" transform="rotate(113.2 404.3 300.1)" opacity="0.8"/>
<ellipse cx="374.6" cy="329.2" rx="2.8" ry="2.2" transform="rotate(3.3 374.6 329.2)" opacity="0.9"/>
<ellipse cx="399.6" cy="335.8" rx="2.6" ry="1.7" transform="rotate(138.6 399.6 335.8)" opacity="0.8"/>
<ellipse cx="437" cy="316.7" rx="3.2" ry="2.8" transform="rotate(35.8 437 316.7)" opacity="1"/>
<ellipse cx="439.5" cy="325.9" rx="2.8" ry="2.2" transform="rotate(103.2 439.5 325.9)" opacity="0.9"/>
</g></g>
<text x="353.2" y="246.4" font-size="12.6" fill="#fff">PSD-95</text>
<clipPath id="csyt1"><rect x="462.1" y="234" width="110.1" height="108.9"/></clipPath>
<rect x="462.1" y="234" width="110.1" height="108.9" fill="#000"/>
<g clip-path="url(#csyt1)">
<g filter="url(#b3)" fill="#8c20ee">
<ellipse cx="498.3" cy="243.5" rx="11.4" ry="7.6" transform="rotate(93.4 498.3 243.5)" opacity=".27"/>
<ellipse cx="514.9" cy="242.6" rx="16.2" ry="9.1" transform="rotate(119.1 514.9 242.6)" opacity=".31"/>
<ellipse cx="509.9" cy="237.7" rx="9.1" ry="6.7" transform="rotate(148.5 509.9 237.7)" opacity=".20"/>
<ellipse cx="467.5" cy="255.1" rx="10.3" ry="7.4" transform="rotate(175.7 467.5 255.1)" opacity=".27"/>
<ellipse cx="483.3" cy="254.3" rx="10.4" ry="7.3" transform="rotate(63.9 483.3 254.3)" opacity=".20"/>
<ellipse cx="495.8" cy="254.3" rx="6.2" ry="5.2" transform="rotate(20.4 495.8 254.3)" opacity=".14"/>
<ellipse cx="498.3" cy="263.5" rx="9.1" ry="6.7" transform="rotate(4.7 498.3 263.5)" opacity=".24"/>
<ellipse cx="508.3" cy="257.6" rx="7.2" ry="5.4" transform="rotate(170.4 508.3 257.6)" opacity=".10"/>
<ellipse cx="521.6" cy="256" rx="8.4" ry="7.4" transform="rotate(26.6 521.6 256)" opacity=".14"/>
<ellipse cx="529.9" cy="246" rx="9.2" ry="6.6" transform="rotate(22.7 529.9 246)" opacity=".14"/>
<ellipse cx="543.2" cy="241.8" rx="7.2" ry="5.5" transform="rotate(92.8 543.2 241.8)" opacity=".14"/>
<ellipse cx="543.2" cy="260.1" rx="11.5" ry="6.2" transform="rotate(28 543.2 260.1)" opacity=".17"/>
<ellipse cx="548.2" cy="264.3" rx="8.2" ry="4.4" transform="rotate(116.5 548.2 264.3)" opacity=".17"/>
<ellipse cx="561.5" cy="258.5" rx="9.9" ry="5.9" transform="rotate(93.7 561.5 258.5)" opacity=".24"/>
<ellipse cx="569" cy="256" rx="6.1" ry="5.3" transform="rotate(149.8 569 256)" opacity=".17"/>
<ellipse cx="566.5" cy="246.8" rx="6.2" ry="5.2" transform="rotate(30.8 566.5 246.8)" opacity=".10"/>
<ellipse cx="509.9" cy="275.9" rx="12.6" ry="9.6" transform="rotate(62 509.9 275.9)" opacity=".31"/>
<ellipse cx="498.3" cy="282.6" rx="10.3" ry="5.5" transform="rotate(17 498.3 282.6)" opacity=".17"/>
<ellipse cx="485" cy="285.6" rx="9.1" ry="4.8" transform="rotate(1.5 485 285.6)" opacity=".24"/>
<ellipse cx="554" cy="285.9" rx="11.7" ry="7.3" transform="rotate(79.6 554 285.9)" opacity=".27"/>
<ellipse cx="569.8" cy="286.8" rx="6.4" ry="5" transform="rotate(17 569.8 286.8)" opacity=".20"/>
<ellipse cx="563.2" cy="275.9" rx="7.1" ry="5.6" transform="rotate(70.6 563.2 275.9)" opacity=".10"/>
<ellipse cx="546.5" cy="282.6" rx="7.6" ry="5.1" transform="rotate(168.1 546.5 282.6)" opacity=".10"/>
<ellipse cx="517.4" cy="296.7" rx="10.4" ry="5.4" transform="rotate(113.2 517.4 296.7)" opacity=".20"/>
<ellipse cx="529.1" cy="296.7" rx="10.2" ry="5.6" transform="rotate(160.8 529.1 296.7)" opacity=".27"/>
<ellipse cx="516.6" cy="289.2" rx="5.4" ry="4.1" transform="rotate(28.1 516.6 289.2)" opacity=".14"/>
<ellipse cx="540.7" cy="294.2" rx="4" ry="3.5" transform="rotate(153.1 540.7 294.2)" opacity=".10"/>
<ellipse cx="473.3" cy="293.4" rx="6.1" ry="5.3" transform="rotate(65.7 473.3 293.4)" opacity=".14"/>
<ellipse cx="466.7" cy="307.6" rx="8.5" ry="7.3" transform="rotate(54.2 466.7 307.6)" opacity=".20"/>
<ellipse cx="476.6" cy="304.2" rx="6.1" ry="5.2" transform="rotate(100.9 476.6 304.2)" opacity=".10"/>
<ellipse cx="499.9" cy="304.2" rx="6.7" ry="4.7" transform="rotate(89.5 499.9 304.2)" opacity=".14"/>
<ellipse cx="493.3" cy="310.9" rx="9.5" ry="6.3" transform="rotate(129.6 493.3 310.9)" opacity=".17"/>
<ellipse cx="503.3" cy="316.7" rx="12.3" ry="6.7" transform="rotate(50.7 503.3 316.7)" opacity=".20"/>
<ellipse cx="523.2" cy="310.9" rx="14.5" ry="7.6" transform="rotate(28.1 523.2 310.9)" opacity=".24"/>
<ellipse cx="547.4" cy="314.2" rx="13" ry="11" transform="rotate(129.2 547.4 314.2)" opacity=".34"/>
<ellipse cx="545.7" cy="324.2" rx="14.1" ry="11.2" transform="rotate(147.9 545.7 324.2)" opacity=".34"/>
<ellipse cx="559" cy="310.9" rx="9.8" ry="6" transform="rotate(89.7 559 310.9)" opacity=".20"/>
<ellipse cx="556.5" cy="328.4" rx="8.9" ry="6.9" transform="rotate(170.5 556.5 328.4)" opacity=".27"/>
<ellipse cx="566.5" cy="323.4" rx="7.5" ry="6.4" transform="rotate(107.8 566.5 323.4)" opacity=".17"/>
<ellipse cx="472.5" cy="327.5" rx="16.1" ry="9.2" transform="rotate(142 472.5 327.5)" opacity=".27"/>
<ellipse cx="480" cy="326.7" rx="10.6" ry="8.3" transform="rotate(113.5 480 326.7)" opacity=".20"/>
<ellipse cx="488.3" cy="335" rx="14.2" ry="8" transform="rotate(105.9 488.3 335)" opacity=".24"/>
<ellipse cx="508.3" cy="329.2" rx="9" ry="4.9" transform="rotate(163.7 508.3 329.2)" opacity=".20"/>
<ellipse cx="511.6" cy="337.5" rx="10.7" ry="7" transform="rotate(138.6 511.6 337.5)" opacity=".24"/>
<ellipse cx="466.7" cy="319.2" rx="7.5" ry="5.2" transform="rotate(114.3 466.7 319.2)" opacity=".14"/>
<ellipse cx="533.2" cy="332.5" rx="7.7" ry="5" transform="rotate(74 533.2 332.5)" opacity=".14"/>
<ellipse cx="568.2" cy="339.2" rx="8.3" ry="4.4" transform="rotate(80.5 568.2 339.2)" opacity=".14"/>
<ellipse cx="549.9" cy="304.2" rx="7.4" ry="5.3" transform="rotate(86.8 549.9 304.2)" opacity=".14"/>
</g>
<g filter="url(#b2)" fill="#8c20ee">
<ellipse cx="498.3" cy="243.5" rx="5.5" ry="3.7" transform="rotate(93.4 498.3 243.5)" opacity="0.8"/>
<ellipse cx="514.9" cy="242.6" rx="7.8" ry="4.4" transform="rotate(119.1 514.9 242.6)" opacity="0.9"/>
<ellipse cx="509.9" cy="237.7" rx="4.4" ry="3.3" transform="rotate(148.5 509.9 237.7)" opacity="0.6"/>
<ellipse cx="467.5" cy="255.1" rx="5" ry="3.6" transform="rotate(175.7 467.5 255.1)" opacity="0.8"/>
<ellipse cx="483.3" cy="254.3" rx="5.1" ry="3.5" transform="rotate(63.9 483.3 254.3)" opacity="0.6"/>
<ellipse cx="495.8" cy="254.3" rx="3" ry="2.5" transform="rotate(20.4 495.8 254.3)" opacity="0.4"/>
<ellipse cx="498.3" cy="263.5" rx="4.4" ry="3.3" transform="rotate(4.7 498.3 263.5)" opacity="0.7"/>
<ellipse cx="508.3" cy="257.6" rx="3.5" ry="2.6" transform="rotate(170.4 508.3 257.6)" opacity="0.3"/>
<ellipse cx="521.6" cy="256" rx="4.1" ry="3.6" transform="rotate(26.6 521.6 256)" opacity="0.4"/>
<ellipse cx="529.9" cy="246" rx="4.5" ry="3.2" transform="rotate(22.7 529.9 246)" opacity="0.4"/>
<ellipse cx="543.2" cy="241.8" rx="3.5" ry="2.6" transform="rotate(92.8 543.2 241.8)" opacity="0.4"/>
<ellipse cx="543.2" cy="260.1" rx="5.6" ry="3" transform="rotate(28 543.2 260.1)" opacity="0.5"/>
<ellipse cx="548.2" cy="264.3" rx="4" ry="2.1" transform="rotate(116.5 548.2 264.3)" opacity="0.5"/>
<ellipse cx="561.5" cy="258.5" rx="4.8" ry="2.9" transform="rotate(93.7 561.5 258.5)" opacity="0.7"/>
<ellipse cx="569" cy="256" rx="3" ry="2.6" transform="rotate(149.8 569 256)" opacity="0.5"/>
<ellipse cx="566.5" cy="246.8" rx="3" ry="2.5" transform="rotate(30.8 566.5 246.8)" opacity="0.3"/>
<ellipse cx="509.9" cy="275.9" rx="6.1" ry="4.6" transform="rotate(62 509.9 275.9)" opacity="0.9"/>
<ellipse cx="498.3" cy="282.6" rx="5" ry="2.7" transform="rotate(17 498.3 282.6)" opacity="0.5"/>
<ellipse cx="485" cy="285.6" rx="4.4" ry="2.3" transform="rotate(1.5 485 285.6)" opacity="0.7"/>
<ellipse cx="554" cy="285.9" rx="5.7" ry="3.5" transform="rotate(79.6 554 285.9)" opacity="0.8"/>
<ellipse cx="569.8" cy="286.8" rx="3.1" ry="2.4" transform="rotate(17 569.8 286.8)" opacity="0.6"/>
<ellipse cx="563.2" cy="275.9" rx="3.4" ry="2.7" transform="rotate(70.6 563.2 275.9)" opacity="0.3"/>
<ellipse cx="546.5" cy="282.6" rx="3.7" ry="2.5" transform="rotate(168.1 546.5 282.6)" opacity="0.3"/>
<ellipse cx="517.4" cy="296.7" rx="5" ry="2.6" transform="rotate(113.2 517.4 296.7)" opacity="0.6"/>
<ellipse cx="529.1" cy="296.7" rx="4.9" ry="2.7" transform="rotate(160.8 529.1 296.7)" opacity="0.8"/>
<ellipse cx="516.6" cy="289.2" rx="2.6" ry="2" transform="rotate(28.1 516.6 289.2)" opacity="0.4"/>
<ellipse cx="540.7" cy="294.2" rx="2" ry="1.7" transform="rotate(153.1 540.7 294.2)" opacity="0.3"/>
<ellipse cx="473.3" cy="293.4" rx="3" ry="2.5" transform="rotate(65.7 473.3 293.4)" opacity="0.4"/>
<ellipse cx="466.7" cy="307.6" rx="4.1" ry="3.5" transform="rotate(54.2 466.7 307.6)" opacity="0.6"/>
<ellipse cx="476.6" cy="304.2" rx="3" ry="2.5" transform="rotate(100.9 476.6 304.2)" opacity="0.3"/>
<ellipse cx="499.9" cy="304.2" rx="3.2" ry="2.3" transform="rotate(89.5 499.9 304.2)" opacity="0.4"/>
<ellipse cx="493.3" cy="310.9" rx="4.6" ry="3" transform="rotate(129.6 493.3 310.9)" opacity="0.5"/>
<ellipse cx="503.3" cy="316.7" rx="5.9" ry="3.2" transform="rotate(50.7 503.3 316.7)" opacity="0.6"/>
<ellipse cx="523.2" cy="310.9" rx="7" ry="3.7" transform="rotate(28.1 523.2 310.9)" opacity="0.7"/>
<ellipse cx="547.4" cy="314.2" rx="6.3" ry="5.3" transform="rotate(129.2 547.4 314.2)" opacity="1"/>
<ellipse cx="545.7" cy="324.2" rx="6.8" ry="5.4" transform="rotate(147.9 545.7 324.2)" opacity="1"/>
<ellipse cx="559" cy="310.9" rx="4.7" ry="2.9" transform="rotate(89.7 559 310.9)" opacity="0.6"/>
<ellipse cx="556.5" cy="328.4" rx="4.3" ry="3.3" transform="rotate(170.5 556.5 328.4)" opacity="0.8"/>
<ellipse cx="566.5" cy="323.4" rx="3.7" ry="3.1" transform="rotate(107.8 566.5 323.4)" opacity="0.5"/>
<ellipse cx="472.5" cy="327.5" rx="7.8" ry="4.4" transform="rotate(142 472.5 327.5)" opacity="0.8"/>
<ellipse cx="480" cy="326.7" rx="5.2" ry="4" transform="rotate(113.5 480 326.7)" opacity="0.6"/>
<ellipse cx="488.3" cy="335" rx="6.9" ry="3.8" transform="rotate(105.9 488.3 335)" opacity="0.7"/>
<ellipse cx="508.3" cy="329.2" rx="4.4" ry="2.4" transform="rotate(163.7 508.3 329.2)" opacity="0.6"/>
<ellipse cx="511.6" cy="337.5" rx="5.2" ry="3.4" transform="rotate(138.6 511.6 337.5)" opacity="0.7"/>
<ellipse cx="466.7" cy="319.2" rx="3.6" ry="2.5" transform="rotate(114.3 466.7 319.2)" opacity="0.4"/>
<ellipse cx="533.2" cy="332.5" rx="3.7" ry="2.4" transform="rotate(74 533.2 332.5)" opacity="0.4"/>
<ellipse cx="568.2" cy="339.2" rx="4" ry="2.1" transform="rotate(80.5 568.2 339.2)" opacity="0.4"/>
<ellipse cx="549.9" cy="304.2" rx="3.6" ry="2.5" transform="rotate(86.8 549.9 304.2)" opacity="0.4"/>
</g><g filter="url(#b1)" fill="#a83cff">
<ellipse cx="498.3" cy="243.5" rx="3.6" ry="2.4" transform="rotate(93.4 498.3 243.5)" opacity="0.8"/>
<ellipse cx="514.9" cy="242.6" rx="5.1" ry="2.9" transform="rotate(119.1 514.9 242.6)" opacity="0.9"/>
<ellipse cx="467.5" cy="255.1" rx="3.3" ry="2.3" transform="rotate(175.7 467.5 255.1)" opacity="0.8"/>
<ellipse cx="509.9" cy="275.9" rx="4" ry="3" transform="rotate(62 509.9 275.9)" opacity="0.9"/>
<ellipse cx="554" cy="285.9" rx="3.7" ry="2.3" transform="rotate(79.6 554 285.9)" opacity="0.8"/>
<ellipse cx="529.1" cy="296.7" rx="3.2" ry="1.8" transform="rotate(160.8 529.1 296.7)" opacity="0.8"/>
<ellipse cx="547.4" cy="314.2" rx="4.1" ry="3.5" transform="rotate(129.2 547.4 314.2)" opacity="1"/>
<ellipse cx="545.7" cy="324.2" rx="4.4" ry="3.5" transform="rotate(147.9 545.7 324.2)" opacity="1"/>
<ellipse cx="556.5" cy="328.4" rx="2.8" ry="2.2" transform="rotate(170.5 556.5 328.4)" opacity="0.8"/>
<ellipse cx="472.5" cy="327.5" rx="5.1" ry="2.9" transform="rotate(142 472.5 327.5)" opacity="0.8"/>
</g></g>
<text x="465.3" y="246.4" font-size="12.6" fill="#fff">Syt1</text>
<clipPath id="cvglut1"><rect x="574.1" y="234" width="110.9" height="108.9"/></clipPath>
<rect x="574.1" y="234" width="110.9" height="108.9" fill="#000"/>
<g clip-path="url(#cvglut1)">
<g filter="url(#b3)" fill="#e000e0">
<ellipse cx="579.3" cy="255.1" rx="9.2" ry="6.6" transform="rotate(175.7 579.3 255.1)" opacity=".08"/>
<ellipse cx="593.5" cy="256" rx="10.7" ry="5.8" transform="rotate(134.7 593.5 256)" opacity=".10"/>
<ellipse cx="596.8" cy="251" rx="8.6" ry="6.5" transform="rotate(49.5 596.8 251)" opacity=".10"/>
<ellipse cx="610.1" cy="262.6" rx="6.5" ry="4.9" transform="rotate(4.7 610.1 262.6)" opacity=".06"/>
<ellipse cx="618.4" cy="256" rx="7.2" ry="5.4" transform="rotate(170.4 618.4 256)" opacity=".05"/>
<ellipse cx="655.9" cy="241.8" rx="7.4" ry="5.3" transform="rotate(63.1 655.9 241.8)" opacity=".04"/>
<ellipse cx="655.9" cy="258.5" rx="8.3" ry="4.4" transform="rotate(72.5 655.9 258.5)" opacity=".07"/>
<ellipse cx="660" cy="262.6" rx="7.4" ry="4" transform="rotate(116.5 660 262.6)" opacity=".07"/>
<ellipse cx="680.8" cy="257.6" rx="5.7" ry="3.8" transform="rotate(177.8 680.8 257.6)" opacity=".05"/>
<ellipse cx="637.6" cy="236" rx="4.5" ry="3" transform="rotate(82.8 637.6 236)" opacity=".03"/>
<ellipse cx="596.8" cy="285.1" rx="8.3" ry="4.4" transform="rotate(1.5 596.8 285.1)" opacity=".07"/>
<ellipse cx="587.6" cy="290.9" rx="5.3" ry="4.2" transform="rotate(143 587.6 290.9)" opacity=".04"/>
<ellipse cx="578.5" cy="283.4" rx="5.8" ry="3.6" transform="rotate(154.2 578.5 283.4)" opacity=".03"/>
<ellipse cx="666.7" cy="285.9" rx="9.7" ry="6.1" transform="rotate(89.5 666.7 285.9)" opacity=".10"/>
<ellipse cx="683.3" cy="287.6" rx="5.3" ry="4.2" transform="rotate(17 683.3 287.6)" opacity=".07"/>
<ellipse cx="629.2" cy="296.7" rx="11.7" ry="6.1" transform="rotate(113.2 629.2 296.7)" opacity=".07"/>
<ellipse cx="640.9" cy="296.7" rx="7.7" ry="5" transform="rotate(96.8 640.9 296.7)" opacity=".09"/>
<ellipse cx="629.2" cy="289.2" rx="4.3" ry="3.3" transform="rotate(28.1 629.2 289.2)" opacity=".04"/>
<ellipse cx="611.8" cy="304.2" rx="6.7" ry="4.7" transform="rotate(89.5 611.8 304.2)" opacity=".06"/>
<ellipse cx="605.1" cy="310.1" rx="8.8" ry="5.1" transform="rotate(25.6 605.1 310.1)" opacity=".06"/>
<ellipse cx="602.6" cy="316.7" rx="4.4" ry="3.1" transform="rotate(151.4 602.6 316.7)" opacity=".04"/>
<ellipse cx="577.7" cy="307.6" rx="8.5" ry="7.3" transform="rotate(54.2 577.7 307.6)" opacity=".06"/>
<ellipse cx="586" cy="304.2" rx="5.1" ry="4.4" transform="rotate(100.9 586 304.2)" opacity=".04"/>
<ellipse cx="576.8" cy="318.4" rx="5.6" ry="3.9" transform="rotate(114.3 576.8 318.4)" opacity=".04"/>
<ellipse cx="635.1" cy="310.9" rx="9.1" ry="4.8" transform="rotate(28.1 635.1 310.9)" opacity=".05"/>
<ellipse cx="660" cy="314.2" rx="11" ry="9.3" transform="rotate(129.2 660 314.2)" opacity=".10"/>
<ellipse cx="657.5" cy="321.7" rx="11.3" ry="9" transform="rotate(147.9 657.5 321.7)" opacity=".10"/>
<ellipse cx="671.7" cy="309.2" rx="9" ry="6.8" transform="rotate(120.2 671.7 309.2)" opacity=".06"/>
<ellipse cx="667.5" cy="329.2" rx="7.9" ry="6.1" transform="rotate(170.5 667.5 329.2)" opacity=".06"/>
<ellipse cx="676.7" cy="322.5" rx="4.1" ry="3.5" transform="rotate(107.8 676.7 322.5)" opacity=".04"/>
<ellipse cx="620.1" cy="329.2" rx="7.4" ry="4" transform="rotate(163.7 620.1 329.2)" opacity=".05"/>
<ellipse cx="621.8" cy="335.8" rx="5.7" ry="3.8" transform="rotate(138.6 621.8 335.8)" opacity=".05"/>
<ellipse cx="629.2" cy="336.7" rx="7.3" ry="5.4" transform="rotate(177.8 629.2 336.7)" opacity=".05"/>
<ellipse cx="600.1" cy="334.2" rx="10.1" ry="5.7" transform="rotate(105.9 600.1 334.2)" opacity=".07"/>
<ellipse cx="588.5" cy="332.5" rx="7.4" ry="5.3" transform="rotate(82.5 588.5 332.5)" opacity=".05"/>
<ellipse cx="615.1" cy="340" rx="5.5" ry="4" transform="rotate(167.6 615.1 340)" opacity=".05"/>
<ellipse cx="681.7" cy="339.2" rx="6.7" ry="4.7" transform="rotate(20.2 681.7 339.2)" opacity=".06"/>
<ellipse cx="646.7" cy="333.4" rx="3.5" ry="2.9" transform="rotate(68.1 646.7 333.4)" opacity=".03"/>
<ellipse cx="629.2" cy="275.1" rx="4.4" ry="3.2" transform="rotate(18.3 629.2 275.1)" opacity=".02"/>
</g>
<g filter="url(#b15)" fill="#e000e0">
<ellipse cx="579.3" cy="255.1" rx="4.5" ry="3.2" transform="rotate(175.7 579.3 255.1)" opacity="0.8"/>
<ellipse cx="593.5" cy="256" rx="5.2" ry="2.8" transform="rotate(134.7 593.5 256)" opacity="1"/>
<ellipse cx="596.8" cy="251" rx="4.2" ry="3.2" transform="rotate(49.5 596.8 251)" opacity="1"/>
<ellipse cx="610.1" cy="262.6" rx="3.2" ry="2.4" transform="rotate(4.7 610.1 262.6)" opacity="0.6"/>
<ellipse cx="618.4" cy="256" rx="3.5" ry="2.6" transform="rotate(170.4 618.4 256)" opacity="0.5"/>
<ellipse cx="655.9" cy="241.8" rx="3.6" ry="2.5" transform="rotate(63.1 655.9 241.8)" opacity="0.4"/>
<ellipse cx="655.9" cy="258.5" rx="4" ry="2.1" transform="rotate(72.5 655.9 258.5)" opacity="0.7"/>
<ellipse cx="660" cy="262.6" rx="3.6" ry="1.9" transform="rotate(116.5 660 262.6)" opacity="0.7"/>
<ellipse cx="680.8" cy="257.6" rx="2.8" ry="1.8" transform="rotate(177.8 680.8 257.6)" opacity="0.5"/>
<ellipse cx="637.6" cy="236" rx="2.2" ry="1.5" transform="rotate(82.8 637.6 236)" opacity="0.3"/>
<ellipse cx="596.8" cy="285.1" rx="4" ry="2.1" transform="rotate(1.5 596.8 285.1)" opacity="0.7"/>
<ellipse cx="587.6" cy="290.9" rx="2.6" ry="2" transform="rotate(143 587.6 290.9)" opacity="0.4"/>
<ellipse cx="578.5" cy="283.4" rx="2.8" ry="1.8" transform="rotate(154.2 578.5 283.4)" opacity="0.3"/>
<ellipse cx="666.7" cy="285.9" rx="4.7" ry="2.9" transform="rotate(89.5 666.7 285.9)" opacity="1"/>
<ellipse cx="683.3" cy="287.6" rx="2.6" ry="2" transform="rotate(17 683.3 287.6)" opacity="0.7"/>
<ellipse cx="629.2" cy="296.7" rx="5.6" ry="2.9" transform="rotate(113.2 629.2 296.7)" opacity="0.7"/>
<ellipse cx="640.9" cy="296.7" rx="3.7" ry="2.4" transform="rotate(96.8 640.9 296.7)" opacity="0.9"/>
<ellipse cx="629.2" cy="289.2" rx="2.1" ry="1.6" transform="rotate(28.1 629.2 289.2)" opacity="0.4"/>
<ellipse cx="611.8" cy="304.2" rx="3.2" ry="2.3" transform="rotate(89.5 611.8 304.2)" opacity="0.6"/>
<ellipse cx="605.1" cy="310.1" rx="4.3" ry="2.5" transform="rotate(25.6 605.1 310.1)" opacity="0.6"/>
<ellipse cx="602.6" cy="316.7" rx="2.2" ry="1.5" transform="rotate(151.4 602.6 316.7)" opacity="0.4"/>
<ellipse cx="577.7" cy="307.6" rx="4.1" ry="3.5" transform="rotate(54.2 577.7 307.6)" opacity="0.6"/>
<ellipse cx="586" cy="304.2" rx="2.5" ry="2.1" transform="rotate(100.9 586 304.2)" opacity="0.4"/>
<ellipse cx="576.8" cy="318.4" rx="2.7" ry="1.9" transform="rotate(114.3 576.8 318.4)" opacity="0.4"/>
<ellipse cx="635.1" cy="310.9" rx="4.4" ry="2.3" transform="rotate(28.1 635.1 310.9)" opacity="0.5"/>
<ellipse cx="660" cy="314.2" rx="5.3" ry="4.5" transform="rotate(129.2 660 314.2)" opacity="1"/>
<ellipse cx="657.5" cy="321.7" rx="5.5" ry="4.3" transform="rotate(147.9 657.5 321.7)" opacity="1"/>
<ellipse cx="671.7" cy="309.2" rx="4.4" ry="3.3" transform="rotate(120.2 671.7 309.2)" opacity="0.6"/>
<ellipse cx="667.5" cy="329.2" rx="3.8" ry="2.9" transform="rotate(170.5 667.5 329.2)" opacity="0.6"/>
<ellipse cx="676.7" cy="322.5" rx="2" ry="1.7" transform="rotate(107.8 676.7 322.5)" opacity="0.4"/>
<ellipse cx="620.1" cy="329.2" rx="3.6" ry="1.9" transform="rotate(163.7 620.1 329.2)" opacity="0.5"/>
<ellipse cx="621.8" cy="335.8" rx="2.8" ry="1.8" transform="rotate(138.6 621.8 335.8)" opacity="0.5"/>
<ellipse cx="629.2" cy="336.7" rx="3.5" ry="2.6" transform="rotate(177.8 629.2 336.7)" opacity="0.5"/>
<ellipse cx="600.1" cy="334.2" rx="4.9" ry="2.7" transform="rotate(105.9 600.1 334.2)" opacity="0.7"/>
<ellipse cx="588.5" cy="332.5" rx="3.6" ry="2.5" transform="rotate(82.5 588.5 332.5)" opacity="0.5"/>
<ellipse cx="615.1" cy="340" rx="2.7" ry="1.9" transform="rotate(167.6 615.1 340)" opacity="0.5"/>
<ellipse cx="681.7" cy="339.2" rx="3.3" ry="2.3" transform="rotate(20.2 681.7 339.2)" opacity="0.6"/>
<ellipse cx="646.7" cy="333.4" rx="1.7" ry="1.4" transform="rotate(68.1 646.7 333.4)" opacity="0.3"/>
<ellipse cx="629.2" cy="275.1" rx="2.1" ry="1.5" transform="rotate(18.3 629.2 275.1)" opacity="0.2"/>
</g><g filter="url(#b1)" fill="#ff30ff">
<ellipse cx="579.3" cy="255.1" rx="2.9" ry="2.1" transform="rotate(175.7 579.3 255.1)" opacity="0.8"/>
<ellipse cx="593.5" cy="256" rx="3.4" ry="1.8" transform="rotate(134.7 593.5 256)" opacity="1"/>
<ellipse cx="596.8" cy="251" rx="2.7" ry="2.1" transform="rotate(49.5 596.8 251)" opacity="1"/>
<ellipse cx="666.7" cy="285.9" rx="3.1" ry="1.9" transform="rotate(89.5 666.7 285.9)" opacity="1"/>
<ellipse cx="640.9" cy="296.7" rx="2.4" ry="1.6" transform="rotate(96.8 640.9 296.7)" opacity="0.9"/>
<ellipse cx="660" cy="314.2" rx="3.5" ry="2.9" transform="rotate(129.2 660 314.2)" opacity="1"/>
<ellipse cx="657.5" cy="321.7" rx="3.6" ry="2.8" transform="rotate(147.9 657.5 321.7)" opacity="1"/>
</g></g>
<text x="577.4" y="246.4" font-size="12.6" fill="#fff">vGluT1</text>
<text x="362.3" y="289.4" font-size="12.7" font-weight="bold" text-anchor="middle" fill="#fff" transform="rotate(-90 362.3 289.4)">Cycle 3</text>
<rect x="431.3" y="113.8" width="22.5" height="2.4" fill="#fff"/>
<text x="442.5" y="112" font-size="9" font-weight="bold" text-anchor="middle" fill="#fff" textLength="18.4" lengthAdjust="spacingAndGlyphs">2µm</text>
<text x="0" y="372.8" font-size="17" font-weight="bold">b</text>
<text x="29.9" y="579.4" font-size="8.5" text-anchor="end" fill="#222">0.0</text>
<text x="29.9" y="553.9" font-size="8.5" text-anchor="end" fill="#222">0.1</text>
<text x="29.9" y="528.4" font-size="8.5" text-anchor="end" fill="#222">0.2</text>
<text x="29.9" y="502.9" font-size="8.5" text-anchor="end" fill="#222">0.3</text>
<text x="29.9" y="477.4" font-size="8.5" text-anchor="end" fill="#222">0.4</text>
<text x="29.9" y="451.8" font-size="8.5" text-anchor="end" fill="#222">0.5</text>
<text x="29.9" y="426.3" font-size="8.5" text-anchor="end" fill="#222">0.6</text>
<text x="29.9" y="400.8" font-size="8.5" text-anchor="end" fill="#222">0.7</text>
<text x="29.9" y="375.3" font-size="8.5" text-anchor="end" fill="#222">0.8</text>
<path d="M35.4 372.3V576.4H140.6M35.4 576.4h-4M35.4 550.9h-4M35.4 525.4h-4M35.4 499.9h-4M35.4 474.4h-4M35.4 448.8h-4M35.4 423.3h-4M35.4 397.8h-4M35.4 372.3h-4M49.8 576.4v3.7M79.8 576.4v3.7M110.1 576.4v3.7M140.2 576.4v3.7" stroke="#000" stroke-width="1.25" fill="none"/>
<text x="13.6" y="471.1" font-size="11.8" text-anchor="middle" fill="#111" transform="rotate(-90 13.6 471.1)" textLength="59.4" lengthAdjust="spacingAndGlyphs">Pearson's r</text>
<circle cx="49.8" cy="381.2" r="2.05" fill="#f00"/>
<circle cx="49.8" cy="391.4" r="2.05" fill="#f00"/>
<circle cx="48.3" cy="400.4" r="2.05" fill="#f00"/>
<circle cx="51.3" cy="402.9" r="2.05" fill="#f00"/>
<circle cx="47.8" cy="404.2" r="2.05" fill="#f00"/>
<circle cx="51.8" cy="405" r="2.05" fill="#f00"/>
<circle cx="49.8" cy="417.7" r="2.05" fill="#f00"/>
<path d="M43.3 400.4h13M49.8 395.3V405.5M46.6 395.3h6.4M46.6 405.5h6.4" stroke="#000" stroke-width="1.3" fill="none"/>
<circle cx="79.8" cy="402.9" r="2.05" fill="#f00"/>
<circle cx="79.8" cy="427.2" r="2.05" fill="#f00"/>
<circle cx="79.8" cy="431.5" r="2.05" fill="#f00"/>
<circle cx="79.8" cy="452.7" r="2.05" fill="#f00"/>
<circle cx="79.8" cy="468" r="2.05" fill="#f00"/>
<circle cx="79.8" cy="488.4" r="2.05" fill="#f00"/>
<path d="M73.3 445h13M79.8 432.3V457.8M76.6 432.3h6.4M76.6 457.8h6.4" stroke="#000" stroke-width="1.3" fill="none"/>
<circle cx="110.1" cy="521.5" r="2.05" fill="#f00"/>
<circle cx="110.1" cy="531.8" r="2.05" fill="#f00"/>
<circle cx="110.1" cy="537.6" r="2.05" fill="#f00"/>
<circle cx="112.3" cy="540.7" r="2.05" fill="#f00"/>
<circle cx="107.9" cy="544.5" r="2.05" fill="#f00"/>
<circle cx="112.1" cy="545.8" r="2.05" fill="#f00"/>
<circle cx="108.1" cy="546.3" r="2.05" fill="#f00"/>
<path d="M103.6 537.6h13M110.1 533.8V541.4M106.9 533.8h6.4M106.9 541.4h6.4" stroke="#000" stroke-width="1.3" fill="none"/>
<circle cx="140.2" cy="522.3" r="2.05" fill="#f00"/>
<circle cx="140.2" cy="528.9" r="2.05" fill="#f00"/>
<circle cx="140.2" cy="532.5" r="2.05" fill="#f00"/>
<circle cx="140.2" cy="543.2" r="2.05" fill="#f00"/>
<circle cx="140.2" cy="558.5" r="2.05" fill="#f00"/>
<circle cx="140.2" cy="563.6" r="2.05" fill="#f00"/>
<path d="M133.7 541.4h13M140.2 534.6V548.3M137 534.6h6.4M137 548.3h6.4" stroke="#000" stroke-width="1.3" fill="none"/>
<text x="49.8" y="590.6" font-size="9.1" text-anchor="middle" fill="#222">vGluT</text>
<text x="49.8" y="600" font-size="9.1" text-anchor="middle" fill="#222">vs</text>
<text x="49.8" y="609.4" font-size="9.1" text-anchor="middle" fill="#222">PSD-95</text>
<text x="79.8" y="590.6" font-size="9.1" text-anchor="middle" fill="#222">Geph</text>
<text x="79.8" y="600" font-size="9.1" text-anchor="middle" fill="#222">vs</text>
<text x="79.8" y="609.4" font-size="9.1" text-anchor="middle" fill="#222">vGAT</text>
<text x="110.1" y="590.6" font-size="9.1" text-anchor="middle" fill="#222">Geph</text>
<text x="110.1" y="600" font-size="9.1" text-anchor="middle" fill="#222">vs</text>
<text x="110.1" y="609.4" font-size="9.1" text-anchor="middle" fill="#222">PSD-95</text>
<text x="140.2" y="590.6" font-size="9.1" text-anchor="middle" fill="#222">vGluT</text>
<text x="140.2" y="600" font-size="9.1" text-anchor="middle" fill="#222">vs</text>
<text x="140.2" y="609.4" font-size="9.1" text-anchor="middle" fill="#222">vGAT</text>
<text x="165.3" y="372.6" font-size="17" font-weight="bold" textLength="8.3" lengthAdjust="spacingAndGlyphs">c</text>
<text x="308.2" y="371.6" font-size="10.5" font-weight="bold" text-anchor="middle" textLength="81.5" lengthAdjust="spacingAndGlyphs">Pearson’s r -HEX</text>
<rect x="209.9" y="381.3" width="24.8" height="24.8" fill="#2e1bd5"/>
<rect x="209.9" y="405.8" width="24.8" height="24.8" fill="#6a3594"/>
<rect x="234.4" y="405.8" width="24.8" height="24.8" fill="#ffeedd"/>
<rect x="209.9" y="430.3" width="24.8" height="24.8" fill="#ffa040"/>
<rect x="234.4" y="430.3" width="24.8" height="24.8" fill="#2a1ae0"/>
<rect x="258.9" y="430.3" width="24.8" height="24.8" fill="#663399"/>
<rect x="209.9" y="454.8" width="24.8" height="24.8" fill="#964a6b"/>
<rect x="234.4" y="454.8" width="24.8" height="24.8" fill="#ff8c1a"/>
<rect x="258.9" y="454.8" width="24.8" height="24.8" fill="#ff8a18"/>
<rect x="283.4" y="454.8" width="24.8" height="24.8" fill="#f57f10"/>
<rect x="209.9" y="479.3" width="24.8" height="24.8" fill="#8a4580"/>
<rect x="234.4" y="479.3" width="24.8" height="24.8" fill="#ffd1a0"/>
<rect x="258.9" y="479.3" width="24.8" height="24.8" fill="#ffddb5"/>
<rect x="283.4" y="479.3" width="24.8" height="24.8" fill="#c86440"/>
<rect x="307.9" y="479.3" width="24.8" height="24.8" fill="#ffcc99"/>
<rect x="209.9" y="503.8" width="24.8" height="24.8" fill="#6030a5"/>
<rect x="234.4" y="503.8" width="24.8" height="24.8" fill="#ff9428"/>
<rect x="258.9" y="503.8" width="24.8" height="24.8" fill="#ff9830"/>
<rect x="283.4" y="503.8" width="24.8" height="24.8" fill="#5f30a8"/>
<rect x="307.9" y="503.8" width="24.8" height="24.8" fill="#ff9b38"/>
<rect x="332.4" y="503.8" width="24.8" height="24.8" fill="#ff8c1a"/>
<rect x="209.9" y="528.2" width="24.8" height="24.8" fill="#c4603f"/>
<rect x="234.4" y="528.2" width="24.8" height="24.8" fill="#ffbb78"/>
<rect x="258.9" y="528.2" width="24.8" height="24.8" fill="#ffd9ae"/>
<rect x="283.4" y="528.2" width="24.8" height="24.8" fill="#f07c10"/>
<rect x="307.9" y="528.2" width="24.8" height="24.8" fill="#ffdbb0"/>
<rect x="332.4" y="528.2" width="24.8" height="24.8" fill="#ffd8ac"/>
<rect x="356.8" y="528.2" width="24.8" height="24.8" fill="#ffbf80"/>
<rect x="209.9" y="552.7" width="24.8" height="24.8" fill="#5a2eaf"/>
<rect x="234.4" y="552.7" width="24.8" height="24.8" fill="#ff9020"/>
<rect x="258.9" y="552.7" width="24.8" height="24.8" fill="#ffa040"/>
<rect x="283.4" y="552.7" width="24.8" height="24.8" fill="#5a2eaf"/>
<rect x="307.9" y="552.7" width="24.8" height="24.8" fill="#ffbe80"/>
<rect x="332.4" y="552.7" width="24.8" height="24.8" fill="#ffa040"/>
<rect x="356.8" y="552.7" width="24.8" height="24.8" fill="#ffddb8"/>
<rect x="381.3" y="552.7" width="24.8" height="24.8" fill="#ffd8b0"/>
<rect x="209.9" y="381.3" width="195.9" height="195.9" fill="none" stroke="#000" stroke-width="1.3"/>
<text x="205" y="396.9" font-size="9.2" text-anchor="end" fill="#111">α-Syn</text>
<text x="228.3" y="587.8" font-size="9.2" text-anchor="end" fill="#111" transform="rotate(-45 228.3 587.8)">Geph</text>
<text x="205" y="421.4" font-size="9.2" text-anchor="end" fill="#111">Syn1/2</text>
<text x="252.8" y="587.8" font-size="9.2" text-anchor="end" fill="#111" transform="rotate(-45 252.8 587.8)">α-Syn</text>
<text x="205" y="445.9" font-size="9.2" text-anchor="end" fill="#111">vGAT</text>
<text x="277.3" y="587.8" font-size="9.2" text-anchor="end" fill="#111" transform="rotate(-45 277.3 587.8)">Syn1/2</text>
<text x="205" y="470.4" font-size="9.2" text-anchor="end" fill="#111">Rab3a</text>
<text x="301.8" y="587.8" font-size="9.2" text-anchor="end" fill="#111" transform="rotate(-45 301.8 587.8)">vGAT</text>
<text x="205" y="494.9" font-size="9.2" text-anchor="end" fill="#111">VAMP2</text>
<text x="326.3" y="587.8" font-size="9.2" text-anchor="end" fill="#111" transform="rotate(-45 326.3 587.8)">Rab3a</text>
<text x="205" y="519.4" font-size="9.2" text-anchor="end" fill="#111">PSD-95</text>
<text x="350.8" y="587.8" font-size="9.2" text-anchor="end" fill="#111" transform="rotate(-45 350.8 587.8)">VAMP2</text>
<text x="205" y="543.9" font-size="9.2" text-anchor="end" fill="#111">Syt1</text>
<text x="375.3" y="587.8" font-size="9.2" text-anchor="end" fill="#111" transform="rotate(-45 375.3 587.8)">PSD-95</text>
<text x="205" y="568.4" font-size="9.2" text-anchor="end" fill="#111">vGluT1</text>
<text x="399.8" y="587.8" font-size="9.2" text-anchor="end" fill="#111" transform="rotate(-45 399.8 587.8)">Syt1</text>
<path d="M209.9 393.5h-3M223.6 577.2v3.6M209.9 418h-3M248.1 577.2v3.6M209.9 442.5h-3M272.6 577.2v3.6M209.9 467h-3M297.1 577.2v3.6M209.9 491.5h-3M321.6 577.2v3.6M209.9 516h-3M346.1 577.2v3.6M209.9 540.5h-3M370.6 577.2v3.6M209.9 565h-3M395.1 577.2v3.6" stroke="#000" stroke-width="1.2" fill="none"/>
<text x="415.8" y="375.8" font-size="17" font-weight="bold">d</text>
<text x="559.5" y="371.6" font-size="10.5" font-weight="bold" text-anchor="middle" textLength="81.5" lengthAdjust="spacingAndGlyphs">Pearson’s r +HEX</text>
<rect x="461.2" y="381.3" width="24.8" height="24.8" fill="#65339c"/>
<rect x="461.2" y="405.8" width="24.8" height="24.8" fill="#9c4865"/>
<rect x="485.7" y="405.8" width="24.8" height="24.8" fill="#ffc88e"/>
<rect x="461.2" y="430.3" width="24.8" height="24.8" fill="#ff8a10"/>
<rect x="485.7" y="430.3" width="24.8" height="24.8" fill="#3a1fd0"/>
<rect x="510.2" y="430.3" width="24.8" height="24.8" fill="#904470"/>
<rect x="461.2" y="454.8" width="24.8" height="24.8" fill="#b4583f"/>
<rect x="485.7" y="454.8" width="24.8" height="24.8" fill="#ff9020"/>
<rect x="510.2" y="454.8" width="24.8" height="24.8" fill="#ffc890"/>
<rect x="534.7" y="454.8" width="24.8" height="24.8" fill="#b85c45"/>
<rect x="461.2" y="479.3" width="24.8" height="24.8" fill="#843f8a"/>
<rect x="485.7" y="479.3" width="24.8" height="24.8" fill="#ffa040"/>
<rect x="510.2" y="479.3" width="24.8" height="24.8" fill="#fff8f0"/>
<rect x="534.7" y="479.3" width="24.8" height="24.8" fill="#8c4480"/>
<rect x="559.2" y="479.3" width="24.8" height="24.8" fill="#ffdab0"/>
<rect x="461.2" y="503.8" width="24.8" height="24.8" fill="#a04c60"/>
<rect x="485.7" y="503.8" width="24.8" height="24.8" fill="#f57f15"/>
<rect x="510.2" y="503.8" width="24.8" height="24.8" fill="#ff9325"/>
<rect x="534.7" y="503.8" width="24.8" height="24.8" fill="#6632a0"/>
<rect x="559.2" y="503.8" width="24.8" height="24.8" fill="#ffaa50"/>
<rect x="583.6" y="503.8" width="24.8" height="24.8" fill="#ff8c10"/>
<rect x="461.2" y="528.2" width="24.8" height="24.8" fill="#c0603f"/>
<rect x="485.7" y="528.2" width="24.8" height="24.8" fill="#ff9a30"/>
<rect x="510.2" y="528.2" width="24.8" height="24.8" fill="#ffe5cc"/>
<rect x="534.7" y="528.2" width="24.8" height="24.8" fill="#e07025"/>
<rect x="559.2" y="528.2" width="24.8" height="24.8" fill="#ffd8ae"/>
<rect x="583.6" y="528.2" width="24.8" height="24.8" fill="#ffe2c4"/>
<rect x="608.1" y="528.2" width="24.8" height="24.8" fill="#ffb566"/>
<rect x="461.2" y="552.7" width="24.8" height="24.8" fill="#9a4868"/>
<rect x="485.7" y="552.7" width="24.8" height="24.8" fill="#c86535"/>
<rect x="510.2" y="552.7" width="24.8" height="24.8" fill="#ff8c10"/>
<rect x="534.7" y="552.7" width="24.8" height="24.8" fill="#6a35a0"/>
<rect x="559.2" y="552.7" width="24.8" height="24.8" fill="#ffc080"/>
<rect x="583.6" y="552.7" width="24.8" height="24.8" fill="#ff8810"/>
<rect x="608.1" y="552.7" width="24.8" height="24.8" fill="#ffe6cf"/>
<rect x="632.6" y="552.7" width="24.8" height="24.8" fill="#ffb060"/>
<rect x="461.2" y="381.3" width="195.9" height="195.9" fill="none" stroke="#000" stroke-width="1.3"/>
<text x="456.3" y="396.9" font-size="9.2" text-anchor="end" fill="#111">α-Syn</text>
<text x="479.6" y="587.8" font-size="9.2" text-anchor="end" fill="#111" transform="rotate(-45 479.6 587.8)">Geph</text>
<text x="456.3" y="421.4" font-size="9.2" text-anchor="end" fill="#111">Syn1/2</text>
<text x="504.1" y="587.8" font-size="9.2" text-anchor="end" fill="#111" transform="rotate(-45 504.1 587.8)">α-Syn</text>
<text x="456.3" y="445.9" font-size="9.2" text-anchor="end" fill="#111">vGAT</text>
<text x="528.6" y="587.8" font-size="9.2" text-anchor="end" fill="#111" transform="rotate(-45 528.6 587.8)">Syn1/2</text>
<text x="456.3" y="470.4" font-size="9.2" text-anchor="end" fill="#111">Rab3a</text>
<text x="553.1" y="587.8" font-size="9.2" text-anchor="end" fill="#111" transform="rotate(-45 553.1 587.8)">vGAT</text>
<text x="456.3" y="494.9" font-size="9.2" text-anchor="end" fill="#111">VAMP2</text>
<text x="577.6" y="587.8" font-size="9.2" text-anchor="end" fill="#111" transform="rotate(-45 577.6 587.8)">Rab3a</text>
<text x="456.3" y="519.4" font-size="9.2" text-anchor="end" fill="#111">PSD-95</text>
<text x="602.1" y="587.8" font-size="9.2" text-anchor="end" fill="#111" transform="rotate(-45 602.1 587.8)">VAMP2</text>
<text x="456.3" y="543.9" font-size="9.2" text-anchor="end" fill="#111">Syt1</text>
<text x="626.6" y="587.8" font-size="9.2" text-anchor="end" fill="#111" transform="rotate(-45 626.6 587.8)">PSD-95</text>
<text x="456.3" y="568.4" font-size="9.2" text-anchor="end" fill="#111">vGluT1</text>
<text x="651.1" y="587.8" font-size="9.2" text-anchor="end" fill="#111" transform="rotate(-45 651.1 587.8)">Syt1</text>
<path d="M461.2 393.5h-3M474.9 577.2v3.6M461.2 418h-3M499.4 577.2v3.6M461.2 442.5h-3M523.9 577.2v3.6M461.2 467h-3M548.4 577.2v3.6M461.2 491.5h-3M572.9 577.2v3.6M461.2 516h-3M597.4 577.2v3.6M461.2 540.5h-3M621.9 577.2v3.6M461.2 565h-3M646.4 577.2v3.6" stroke="#000" stroke-width="1.2" fill="none"/>
<text x="473.7" y="399.7" font-size="13" font-weight="bold" text-anchor="middle" letter-spacing=".6">**</text>
<text x="473.7" y="424.2" font-size="13" font-weight="bold" text-anchor="middle" letter-spacing=".6">**</text>
<text x="498.2" y="424.2" font-size="13" font-weight="bold" text-anchor="middle" letter-spacing=".6">*</text>
<text x="498.2" y="448.7" font-size="13" font-weight="bold" text-anchor="middle" letter-spacing=".6">*</text>
<text x="522.7" y="448.7" font-size="13" font-weight="bold" text-anchor="middle" letter-spacing=".6">**</text>
<text x="473.7" y="473.2" font-size="13" font-weight="bold" text-anchor="middle" letter-spacing=".6">*</text>
<text x="522.7" y="473.2" font-size="13" font-weight="bold" text-anchor="middle" letter-spacing=".6">***</text>
<text x="473.7" y="522.2" font-size="13" font-weight="bold" text-anchor="middle" letter-spacing=".6">***</text>
<text x="547.2" y="522.2" font-size="13" font-weight="bold" text-anchor="middle" letter-spacing=".6">**</text>
<text x="473.7" y="571.2" font-size="13" font-weight="bold" text-anchor="middle" letter-spacing=".6">**</text>
<text x="498.2" y="571.2" font-size="13" font-weight="bold" text-anchor="middle" letter-spacing=".6">*</text>
<text x="547.2" y="571.2" font-size="13" font-weight="bold" text-anchor="middle" letter-spacing=".6">*</text>
<text x="645.2" y="571.2" font-size="13" font-weight="bold" text-anchor="middle" letter-spacing=".6">**</text>
<linearGradient id="cbar" x1="0" y1="1" x2="0" y2="0"><stop offset="0" stop-color="#0000ff"/><stop offset=".25" stop-color="#6a35a0"/><stop offset=".5" stop-color="#ff8000"/><stop offset="1" stop-color="#fff"/></linearGradient>
<rect x="660.8" y="381.3" width="8.3" height="196" fill="url(#cbar)" stroke="#000" stroke-width="1.1"/>
<text x="672" y="579.6" font-size="8.3" fill="#111">0</text>
<text x="672" y="530.6" font-size="8.3" fill="#111">0.2</text>
<text x="672" y="481.6" font-size="8.3" fill="#111">0.4</text>
<text x="672" y="432.6" font-size="8.3" fill="#111">0.6</text>
<text x="672" y="383.6" font-size="8.3" fill="#111">0.8</text>
<path d="M660.8 528.3h2.2M669.1 528.3h-2.2M660.8 479.3h2.2M669.1 479.3h-2.2M660.8 430.3h2.2M669.1 430.3h-2.2" stroke="#000" stroke-width=".9" fill="none"/>
<text x="2.6" y="638.2" font-size="17" font-weight="bold">e</text>
<path d="M15.4 644.3H223.2" stroke="#000" stroke-width="1.2"/>
<text x="119.8" y="640.4" font-size="11.2" text-anchor="middle" fill="#111">PSD-95</text>
<path d="M246.7 644.3H453.5" stroke="#000" stroke-width="1.2"/>
<text x="349.7" y="640.4" font-size="11.2" text-anchor="middle" fill="#111">Syt1</text>
<path d="M477.2 644.3H685" stroke="#000" stroke-width="1.2"/>
<text x="581" y="640.4" font-size="11.2" text-anchor="middle" fill="#111">vGluT1</text>
<text x="29.3" y="800.7" font-size="9.2" text-anchor="end" fill="#111">1.0</text>
<text x="29.3" y="758.3" font-size="9.2" text-anchor="end" fill="#111">1.5</text>
<text x="29.3" y="715.9" font-size="9.2" text-anchor="end" fill="#111">2.0</text>
<text x="29.3" y="673.5" font-size="9.2" text-anchor="end" fill="#111">2.5</text>
<text x="38.9" y="818.2" font-size="9.3" text-anchor="middle" fill="#111">0</text>
<text x="49.8" y="818.2" font-size="9.3" text-anchor="middle" fill="#111">1</text>
<text x="60.7" y="818.2" font-size="9.3" text-anchor="middle" fill="#111">2</text>
<text x="71.6" y="818.2" font-size="9.3" text-anchor="middle" fill="#111">3</text>
<text x="82.4" y="818.2" font-size="9.3" text-anchor="middle" fill="#111">4</text>
<text x="93.3" y="818.2" font-size="9.3" text-anchor="middle" fill="#111">5</text>
<text x="104.2" y="818.2" font-size="9.3" text-anchor="middle" fill="#111">6</text>
<text x="115.1" y="818.2" font-size="9.3" text-anchor="middle" fill="#111">7</text>
<polygon points="38.9,799.6 39.4,798 40,797.3 40.5,798.2 41.1,798 41.6,797.9 42.2,797.2 42.7,796.4 43.3,797.7 43.8,798.5 44.3,796.8 44.9,796.8 45.4,795.8 46,797.1 46.5,796.6 47.1,795.6 47.6,796.1 48.2,794.6 48.7,793.7 49.2,795.1 49.8,795.9 50.3,795.1 50.9,793.6 51.4,793.9 52,794.3 52.5,794 53.1,794.6 53.6,794.4 54.1,793.7 54.7,793.1 55.2,793.1 55.8,793.1 56.3,792.9 56.9,792.2 57.4,792.1 57.9,792.3 58.5,790.8 59,790.3 59.6,789.8 60.1,790.1 60.7,788.7 61.2,788 61.8,788.6 62.3,788.5 62.8,787.5 63.4,786.8 63.9,785.7 64.5,785.5 65,784.4 65.6,783.5 66.1,783 66.7,781.7 67.2,779.7 67.7,777.7 68.3,775.9 68.8,773.5 69.4,771.4 69.9,768.3 70.5,764.1 71,760.2 71.6,756.2 72.1,751.3 72.6,746.2 73.2,741.1 73.7,736.4 74.3,731.6 74.8,727 75.4,722.5 75.9,718.8 76.5,715.7 77,712.9 77.5,716.1 78.1,719.6 78.6,723 79.2,726.6 79.7,731.3 80.3,736.3 80.8,741.6 81.4,746.5 81.9,750.7 82.4,755.2 83,759.7 83.5,763.5 84.1,767.7 84.6,771 85.2,773.3 85.7,775.9 86.3,778.3 86.8,780.5 87.3,781.9 87.9,782.5 88.4,784.6 89,784.9 89.5,785.3 90.1,785.6 90.6,786.2 91.2,786.6 91.7,787.5 92.2,788.1 92.8,788.8 93.3,790 93.9,789.4 94.4,789.7 95,790.7 95.5,790.8 96,791.1 96.6,791.6 97.1,792 97.7,792 98.2,791.9 98.8,792 99.3,792.4 99.9,793.7 100.4,794.1 100.9,794.6 101.5,794.2 102,793.3 102.6,793.1 103.1,793 103.7,793 104.2,794.3 104.8,793.9 105.3,794.1 105.8,795.7 106.4,796.9 106.9,797.8 107.5,796.5 108,797.1 108.6,797.9 109.1,797.2 109.7,797.6 110.2,798.6 110.7,799 111.3,798.4 111.8,799.1 112.4,799.3 112.9,798.2 113.5,798.4 114,798.9 114.6,798.9 115.1,800.2 115.1,800.1 114.6,798.8 114,798.9 113.5,798.4 112.9,798.2 112.4,799.2 111.8,799 111.3,798.4 110.7,799 110.2,798.5 109.7,797.5 109.1,797.2 108.6,797.9 108,797.2 107.5,796.6 106.9,797.8 106.4,796.9 105.8,795.7 105.3,794.2 104.8,794 104.2,794.4 103.7,793.1 103.1,793.1 102.6,793.2 102,793.5 101.5,794.3 100.9,794.7 100.4,794.2 99.9,793.8 99.3,792.6 98.8,792.2 98.2,792.1 97.7,792.2 97.1,792.2 96.6,791.8 96,791.3 95.5,791.1 95,790.9 94.4,790 93.9,789.7 93.3,790.2 92.8,789.1 92.2,788.4 91.7,787.8 91.2,787 90.6,786.7 90.1,786.1 89.5,785.8 89,785.5 88.4,785.1 87.9,783.2 87.3,782.6 86.8,781.3 86.3,779.2 85.7,777 85.2,774.5 84.6,772.4 84.1,769.4 83.5,765.5 83,762 82.4,757.9 81.9,753.8 81.4,749.9 80.8,745.6 80.3,740.8 79.7,736.3 79.2,732.3 78.6,729.2 78.1,726.4 77.5,723.5 77,721 76.5,723.1 75.9,725.6 75.4,728.7 74.8,732.6 74.3,736.7 73.7,740.9 73.2,745.1 72.6,749.7 72.1,754.3 71.6,758.8 71,762.5 70.5,766 69.9,770 69.4,772.8 68.8,774.8 68.3,777 67.7,778.6 67.2,780.5 66.7,782.4 66.1,783.7 65.6,784.2 65,785 64.5,786 63.9,786.2 63.4,787.2 62.8,787.9 62.3,788.8 61.8,789 61.2,788.4 60.7,789 60.1,790.3 59.6,790 59,790.6 58.5,791 57.9,792.5 57.4,792.2 56.9,792.4 56.3,793.1 55.8,793.2 55.2,793.3 54.7,793.2 54.1,793.8 53.6,794.5 53.1,794.6 52.5,794.1 52,794.4 51.4,794 50.9,793.7 50.3,795.1 49.8,796 49.2,795.2 48.7,793.8 48.2,794.7 47.6,796.1 47.1,795.6 46.5,796.6 46,797.1 45.4,795.9 44.9,796.8 44.3,796.8 43.8,798.5 43.3,797.7 42.7,796.4 42.2,797.2 41.6,797.9 41.1,798 40.5,798.2 40,797.3 39.4,798 38.9,799.5" fill="#888" opacity=".2"/>
<polygon points="38.9,798.2 39.4,797.9 40,798.3 40.5,798.4 41.1,797.9 41.6,797.6 42.2,797.4 42.7,797.4 43.3,797.2 43.8,797 44.3,796.8 44.9,796.8 45.4,796.6 46,796.5 46.5,796.1 47.1,795.6 47.6,795.3 48.2,795.2 48.7,795.2 49.2,795.2 49.8,795.2 50.3,795.2 50.9,794.8 51.4,794.6 52,794.3 52.5,793.8 53.1,793.6 53.6,793.4 54.1,793.3 54.7,793.3 55.2,793.1 55.8,792.9 56.3,792.5 56.9,792 57.4,791.7 57.9,791.6 58.5,791.2 59,790.8 59.6,790.5 60.1,790.1 60.7,789.9 61.2,789.5 61.8,789.4 62.3,788.9 62.8,788.4 63.4,788.3 63.9,787.8 64.5,787.3 65,786.9 65.6,786.3 66.1,785.6 66.7,784.6 67.2,783.7 67.7,782.3 68.3,780.7 68.8,778.4 69.4,775.5 69.9,771.9 70.5,767.3 71,761.5 71.6,754.6 72.1,746.4 72.6,737.1 73.2,726.8 73.7,715.6 74.3,704.2 74.8,692.7 75.4,682.1 75.9,672.5 76.5,664.5 77,658.1 77.5,664.4 78.1,672.5 78.6,682.1 79.2,692.7 79.7,704 80.3,715.6 80.8,726.8 81.4,737.2 81.9,746.4 82.4,754.6 83,761.7 83.5,767.4 84.1,771.9 84.6,775.5 85.2,778.5 85.7,780.6 86.3,782.5 86.8,783.8 87.3,784.9 87.9,785.8 88.4,786.3 89,787.1 89.5,787.5 90.1,787.9 90.6,788.4 91.2,788.9 91.7,789.1 92.2,789.5 92.8,789.7 93.3,790.3 93.9,790.6 94.4,791 95,791.1 95.5,791.5 96,791.5 96.6,792 97.1,792.1 97.7,792.6 98.2,792.8 98.8,792.8 99.3,793.2 99.9,793.5 100.4,793.5 100.9,793.8 101.5,794.2 102,794 102.6,794.5 103.1,794.9 103.7,795 104.2,795.1 104.8,795.1 105.3,795.5 105.8,795.8 106.4,796.2 106.9,796.2 107.5,796.1 108,796.2 108.6,796.2 109.1,796.3 109.7,796.4 110.2,796.7 110.7,797 111.3,797.5 111.8,797.5 112.4,797.9 112.9,798.3 113.5,798.3 114,798.1 114.6,798.6 115.1,798.6 115.1,798.5 114.6,798.6 114,798.1 113.5,798.3 112.9,798.2 112.4,797.8 111.8,797.5 111.3,797.5 110.7,797 110.2,796.7 109.7,796.5 109.1,796.4 108.6,796.2 108,796.2 107.5,796.2 106.9,796.3 106.4,796.2 105.8,795.8 105.3,795.6 104.8,795.2 104.2,795.1 103.7,795.1 103.1,795 102.6,794.6 102,794.2 101.5,794.3 100.9,793.9 100.4,793.7 99.9,793.7 99.3,793.4 98.8,793 98.2,793 97.7,792.7 97.1,792.3 96.6,792.2 96,791.7 95.5,791.8 95,791.4 94.4,791.3 93.9,790.9 93.3,790.6 92.8,790.1 92.2,789.9 91.7,789.5 91.2,789.3 90.6,788.9 90.1,788.3 89.5,788 89,787.6 88.4,786.9 87.9,786.4 87.3,785.6 86.8,784.5 86.3,783.4 85.7,781.7 85.2,779.7 84.6,776.9 84.1,773.7 83.5,769.5 83,764.3 82.4,757.9 81.9,750.4 81.4,742.1 80.8,732.8 80.3,722.8 79.7,712.6 79.2,702.7 78.6,693.5 78.1,685.5 77.5,678.8 77,673.9 76.5,678.9 75.9,685.4 75.4,693.6 74.8,702.7 74.3,712.7 73.7,722.8 73.2,732.7 72.6,742 72.1,750.4 71.6,757.8 71,764.1 70.5,769.4 69.9,773.6 69.4,776.9 68.8,779.6 68.3,781.7 67.7,783.2 67.2,784.4 66.7,785.3 66.1,786.3 65.6,786.9 65,787.4 64.5,787.8 63.9,788.3 63.4,788.8 62.8,788.9 62.3,789.3 61.8,789.8 61.2,789.9 60.7,790.2 60.1,790.5 59.6,790.8 59,791.1 58.5,791.4 57.9,791.9 57.4,791.9 56.9,792.2 56.3,792.7 55.8,793.1 55.2,793.2 54.7,793.5 54.1,793.5 53.6,793.5 53.1,793.8 52.5,793.9 52,794.4 51.4,794.7 50.9,794.9 50.3,795.3 49.8,795.3 49.2,795.3 48.7,795.3 48.2,795.3 47.6,795.3 47.1,795.7 46.5,796.1 46,796.5 45.4,796.7 44.9,796.9 44.3,796.8 43.8,797 43.3,797.2 42.7,797.4 42.2,797.4 41.6,797.6 41.1,797.9 40.5,798.4 40,798.2 39.4,797.9 38.9,798.2" fill="#f01818" opacity=".3"/>
<polyline points="38.9,799.5 39.4,798 40,797.3 40.5,798.2 41.1,798 41.6,797.9 42.2,797.2 42.7,796.4 43.3,797.7 43.8,798.5 44.3,796.8 44.9,796.8 45.4,795.8 46,797.1 46.5,796.6 47.1,795.6 47.6,796.1 48.2,794.6 48.7,793.8 49.2,795.2 49.8,795.9 50.3,795.1 50.9,793.7 51.4,793.9 52,794.3 52.5,794.1 53.1,794.6 53.6,794.4 54.1,793.8 54.7,793.2 55.2,793.2 55.8,793.1 56.3,793 56.9,792.3 57.4,792.1 57.9,792.4 58.5,790.9 59,790.5 59.6,789.9 60.1,790.2 60.7,788.9 61.2,788.2 61.8,788.8 62.3,788.6 62.8,787.7 63.4,787 63.9,785.9 64.5,785.8 65,784.7 65.6,783.8 66.1,783.3 66.7,782 67.2,780.1 67.7,778.2 68.3,776.4 68.8,774.1 69.4,772.1 69.9,769.1 70.5,765.1 71,761.3 71.6,757.5 72.1,752.8 72.6,747.9 73.2,743.1 73.7,738.6 74.3,734.1 74.8,729.8 75.4,725.6 75.9,722.2 76.5,719.4 77,716.9 77.5,719.8 78.1,723 78.6,726.1 79.2,729.5 79.7,733.8 80.3,738.6 80.8,743.6 81.4,748.2 81.9,752.2 82.4,756.5 83,760.9 83.5,764.5 84.1,768.5 84.6,771.7 85.2,773.9 85.7,776.4 86.3,778.7 86.8,780.9 87.3,782.2 87.9,782.8 88.4,784.8 89,785.2 89.5,785.6 90.1,785.9 90.6,786.4 91.2,786.8 91.7,787.7 92.2,788.2 92.8,788.9 93.3,790.1 93.9,789.6 94.4,789.9 95,790.8 95.5,791 96,791.2 96.6,791.7 97.1,792.1 97.7,792.1 98.2,792 98.8,792.1 99.3,792.5 99.9,793.8 100.4,794.2 100.9,794.7 101.5,794.2 102,793.4 102.6,793.1 103.1,793.1 103.7,793 104.2,794.4 104.8,793.9 105.3,794.1 105.8,795.7 106.4,796.9 106.9,797.8 107.5,796.6 108,797.1 108.6,797.9 109.1,797.2 109.7,797.6 110.2,798.5 110.7,799 111.3,798.4 111.8,799.1 112.4,799.2 112.9,798.2 113.5,798.4 114,798.9 114.6,798.9 115.1,800.2" fill="none" stroke="#111" stroke-width="1.05" stroke-linejoin="round"/>
<polyline points="38.9,798.2 39.4,797.9 40,798.3 40.5,798.4 41.1,797.9 41.6,797.6 42.2,797.4 42.7,797.4 43.3,797.2 43.8,797 44.3,796.8 44.9,796.9 45.4,796.7 46,796.5 46.5,796.1 47.1,795.6 47.6,795.3 48.2,795.3 48.7,795.2 49.2,795.2 49.8,795.3 50.3,795.2 50.9,794.9 51.4,794.6 52,794.4 52.5,793.9 53.1,793.7 53.6,793.5 54.1,793.4 54.7,793.4 55.2,793.1 55.8,793 56.3,792.6 56.9,792.1 57.4,791.8 57.9,791.7 58.5,791.3 59,791 59.6,790.7 60.1,790.3 60.7,790 61.2,789.7 61.8,789.6 62.3,789.1 62.8,788.7 63.4,788.5 63.9,788.1 64.5,787.6 65,787.1 65.6,786.6 66.1,785.9 66.7,785 67.2,784.1 67.7,782.7 68.3,781.2 68.8,779 69.4,776.2 69.9,772.8 70.5,768.4 71,762.8 71.6,756.2 72.1,748.4 72.6,739.6 73.2,729.8 73.7,719.2 74.3,708.4 74.8,697.7 75.4,687.9 75.9,679 76.5,671.7 77,666 77.5,671.6 78.1,679 78.6,687.8 79.2,697.7 79.7,708.3 80.3,719.2 80.8,729.8 81.4,739.6 81.9,748.4 82.4,756.2 83,763 83.5,768.4 84.1,772.8 84.6,776.2 85.2,779.1 85.7,781.2 86.3,783 86.8,784.2 87.3,785.2 87.9,786.1 88.4,786.6 89,787.3 89.5,787.8 90.1,788.1 90.6,788.6 91.2,789.1 91.7,789.3 92.2,789.7 92.8,789.9 93.3,790.5 93.9,790.8 94.4,791.1 95,791.2 95.5,791.7 96,791.6 96.6,792.1 97.1,792.2 97.7,792.6 98.2,792.9 98.8,792.9 99.3,793.3 99.9,793.6 100.4,793.6 100.9,793.8 101.5,794.3 102,794.1 102.6,794.5 103.1,794.9 103.7,795.1 104.2,795.1 104.8,795.1 105.3,795.6 105.8,795.8 106.4,796.2 106.9,796.2 107.5,796.2 108,796.2 108.6,796.2 109.1,796.3 109.7,796.4 110.2,796.7 110.7,797 111.3,797.5 111.8,797.5 112.4,797.8 112.9,798.3 113.5,798.3 114,798.1 114.6,798.6 115.1,798.6" fill="none" stroke="#f01818" stroke-width="1.05" stroke-linejoin="round"/>
<path d="M34.5 653.3V805.7H115.6M34.5 797.5h-3.2M34.5 755.1h-3.2M34.5 712.7h-3.2M34.5 670.3h-3.2M38.9 805.7v3.4M49.8 805.7v3.4M60.7 805.7v3.4M71.6 805.7v3.4M82.4 805.7v3.4M93.3 805.7v3.4M104.2 805.7v3.4M115.1 805.7v3.4" stroke="#000" stroke-width="1.3" fill="none"/>
<text x="39.8" y="660.1" font-size="8.6" font-weight="bold" fill="#111" textLength="17.9" lengthAdjust="spacingAndGlyphs">Exc.</text>
<text x="75.2" y="829.9" font-size="11.5" text-anchor="middle" fill="#111" textLength="72.3" lengthAdjust="spacingAndGlyphs">Distance (µm)</text>
<text x="12.8" y="729.3" font-size="11.3" text-anchor="middle" fill="#111" transform="rotate(-90 12.8 729.3)" textLength="76.5" lengthAdjust="spacingAndGlyphs">Norm. Intensity</text>
<text x="135.3" y="800.7" font-size="9.2" text-anchor="end" fill="#111">1.0</text>
<text x="135.3" y="758.3" font-size="9.2" text-anchor="end" fill="#111">1.5</text>
<text x="135.3" y="715.9" font-size="9.2" text-anchor="end" fill="#111">2.0</text>
<text x="135.3" y="673.5" font-size="9.2" text-anchor="end" fill="#111">2.5</text>
<text x="144.9" y="818.2" font-size="9.3" text-anchor="middle" fill="#111">0</text>
<text x="155.8" y="818.2" font-size="9.3" text-anchor="middle" fill="#111">1</text>
<text x="166.6" y="818.2" font-size="9.3" text-anchor="middle" fill="#111">2</text>
<text x="177.5" y="818.2" font-size="9.3" text-anchor="middle" fill="#111">3</text>
<text x="188.3" y="818.2" font-size="9.3" text-anchor="middle" fill="#111">4</text>
<text x="199.2" y="818.2" font-size="9.3" text-anchor="middle" fill="#111">5</text>
<text x="210" y="818.2" font-size="9.3" text-anchor="middle" fill="#111">6</text>
<text x="220.9" y="818.2" font-size="9.3" text-anchor="middle" fill="#111">7</text>
<polygon points="144.9,798.7 145.4,798.5 146,798.4 146.5,798 147.1,797.8 147.6,798 148.2,798.1 148.7,797.4 149.2,797.4 149.8,797.3 150.3,796.5 150.9,796.4 151.4,796 152,795.9 152.5,795.7 153,795.9 153.6,795.5 154.1,795 154.7,794.9 155.2,794.5 155.8,794.3 156.3,794.5 156.8,794.1 157.4,793.8 157.9,793.8 158.5,793.9 159,793.2 159.6,793 160.1,792.6 160.6,792.2 161.2,791.9 161.7,791.6 162.3,791.6 162.8,791.2 163.4,791.1 163.9,790.6 164.4,790.2 165,790.4 165.5,790.3 166.1,790 166.6,789.3 167.2,789 167.7,788.5 168.2,788.2 168.8,787.7 169.3,787.3 169.9,786.7 170.4,786 171,785.3 171.5,784.4 172,783.6 172.6,782.7 173.1,781.8 173.7,780.7 174.2,779.8 174.8,779 175.3,777.7 175.8,776.4 176.4,775.1 176.9,773.9 177.5,772.6 178,771.5 178.6,770.1 179.1,768.9 179.6,767.7 180.2,766.7 180.7,765.4 181.3,764.1 181.8,763.3 182.4,762.3 182.9,761.5 183.4,762.5 184,763.4 184.5,764.3 185.1,765.2 185.6,766.6 186.2,767.7 186.7,769.1 187.2,770.3 187.8,771.6 188.3,772.7 188.9,773.9 189.4,775.3 190,776.4 190.5,777.7 191,779.1 191.6,780.1 192.1,781.4 192.7,782.4 193.2,783.2 193.8,783.9 194.3,784.9 194.8,785.7 195.4,786 195.9,786.7 196.5,787 197,787.4 197.6,788 198.1,788.5 198.6,789 199.2,789.3 199.7,789.6 200.3,790 200.8,790.2 201.4,790.3 201.9,790.8 202.4,791.2 203,791.3 203.5,791.8 204.1,792.2 204.6,792.1 205.2,792.4 205.7,792.7 206.2,793.3 206.8,793.5 207.3,793.6 207.9,794.1 208.4,794.1 209,794.2 209.5,794.7 210,794.7 210.6,794.9 211.1,795 211.7,795.3 212.2,795.4 212.8,795.4 213.3,796.1 213.8,796.6 214.4,796.5 214.9,796.2 215.5,796.8 216,797 216.6,797.1 217.1,797.4 217.6,797.7 218.2,798 218.7,798.2 219.3,798.1 219.8,798.4 220.4,798.6 220.9,798.4 220.9,798.4 220.4,798.6 219.8,798.4 219.3,798.1 218.7,798.1 218.2,798 217.6,797.7 217.1,797.4 216.6,797.1 216,797 215.5,796.8 214.9,796.3 214.4,796.5 213.8,796.7 213.3,796.2 212.8,795.5 212.2,795.4 211.7,795.4 211.1,795.1 210.6,795 210,794.8 209.5,794.8 209,794.3 208.4,794.2 207.9,794.2 207.3,793.7 206.8,793.6 206.2,793.4 205.7,792.8 205.2,792.6 204.6,792.3 204.1,792.4 203.5,792.1 203,791.6 202.4,791.4 201.9,791 201.4,790.6 200.8,790.5 200.3,790.3 199.7,789.9 199.2,789.6 198.6,789.3 198.1,788.9 197.6,788.5 197,787.8 196.5,787.5 195.9,787.3 195.4,786.6 194.8,786.3 194.3,785.5 193.8,784.7 193.2,784 192.7,783.3 192.1,782.3 191.6,781.2 191,780.3 190.5,779 190,777.8 189.4,776.8 188.9,775.6 188.3,774.6 187.8,773.6 187.2,772.5 186.7,771.5 186.2,770.3 185.6,769.4 185.1,768.3 184.5,767.6 184,767 183.4,766.3 182.9,765.6 182.4,766.1 181.8,766.9 181.3,767.4 180.7,768.4 180.2,769.5 179.6,770.3 179.1,771.3 178.6,772.3 178,773.6 177.5,774.5 176.9,775.6 176.4,776.6 175.8,777.8 175.3,779 174.8,780.1 174.2,780.9 173.7,781.7 173.1,782.7 172.6,783.5 172,784.4 171.5,785.1 171,786 170.4,786.6 169.9,787.3 169.3,787.7 168.8,788.2 168.2,788.6 167.7,788.9 167.2,789.4 166.6,789.6 166.1,790.3 165.5,790.6 165,790.7 164.4,790.5 163.9,790.9 163.4,791.3 162.8,791.4 162.3,791.8 161.7,791.8 161.2,792.1 160.6,792.4 160.1,792.8 159.6,793.2 159,793.4 158.5,794 157.9,793.9 157.4,793.9 156.8,794.2 156.3,794.6 155.8,794.4 155.2,794.6 154.7,794.9 154.1,795.1 153.6,795.5 153,795.9 152.5,795.7 152,796 151.4,796 150.9,796.5 150.3,796.6 149.8,797.3 149.2,797.4 148.7,797.4 148.2,798.1 147.6,798 147.1,797.7 146.5,798 146,798.4 145.4,798.4 144.9,798.7" fill="#888" opacity=".2"/>
<polygon points="144.9,798.8 145.4,799 146,798.8 146.5,798.8 147.1,798.9 147.6,798.5 148.2,797.8 148.7,797.4 149.2,797.2 149.8,797.4 150.3,797.3 150.9,797.3 151.4,797.3 152,797.3 152.5,797.2 153,796.4 153.6,795.9 154.1,795.6 154.7,795.3 155.2,795.5 155.8,795.4 156.3,795 156.8,794.6 157.4,794.1 157.9,793.7 158.5,794 159,793.6 159.6,793.2 160.1,793 160.6,793 161.2,792.6 161.7,792.5 162.3,791.8 162.8,791.3 163.4,791.1 163.9,791 164.4,790.4 165,790.2 165.5,789.7 166.1,789.4 166.6,789.2 167.2,789.1 167.7,788.7 168.2,788.5 168.8,788.4 169.3,788.1 169.9,787.5 170.4,787.3 171,787 171.5,786.3 172,785.8 172.6,785 173.1,784.2 173.7,783.2 174.2,781.8 174.8,780.7 175.3,779.2 175.8,777.5 176.4,775.3 176.9,773.1 177.5,770.6 178,767.7 178.6,764.9 179.1,761.8 179.6,758.6 180.2,755.8 180.7,753 181.3,750.2 181.8,747.5 182.4,745.3 182.9,743.4 183.4,745.4 184,747.7 184.5,750.2 185.1,753.1 185.6,756 186.2,758.9 186.7,761.9 187.2,765 187.8,767.9 188.3,771 188.9,773.7 189.4,775.9 190,778 190.5,780 191,781.4 191.6,782.9 192.1,784 192.7,785.2 193.2,786.2 193.8,786.9 194.3,787.7 194.8,788.1 195.4,788.3 195.9,788.8 196.5,789.3 197,789.8 197.6,790.1 198.1,790 198.6,790.2 199.2,790.5 199.7,790.9 200.3,790.6 200.8,790.9 201.4,791.3 201.9,791.6 202.4,791.9 203,792.1 203.5,792 204.1,792.3 204.6,792.7 205.2,792.6 205.7,792.9 206.2,792.6 206.8,793.1 207.3,793.2 207.9,793.1 208.4,793.5 209,793.3 209.5,793.7 210,794.2 210.6,794.5 211.1,795.1 211.7,795.2 212.2,795.5 212.8,795.3 213.3,795.3 213.8,795.7 214.4,796.4 214.9,796.7 215.5,797.1 216,797.4 216.6,797.6 217.1,797.3 217.6,797.8 218.2,798.3 218.7,797.9 219.3,798 219.8,797.8 220.4,798.2 220.9,798 220.9,798 220.4,798.2 219.8,797.7 219.3,798 218.7,797.9 218.2,798.3 217.6,797.8 217.1,797.3 216.6,797.6 216,797.4 215.5,797.1 214.9,796.8 214.4,796.5 213.8,795.8 213.3,795.4 212.8,795.4 212.2,795.7 211.7,795.4 211.1,795.2 210.6,794.7 210,794.5 209.5,794 209,793.6 208.4,793.8 207.9,793.4 207.3,793.5 206.8,793.4 206.2,792.9 205.7,793.2 205.2,793 204.6,793 204.1,792.7 203.5,792.4 203,792.5 202.4,792.4 201.9,792.1 201.4,791.7 200.8,791.4 200.3,791.2 199.7,791.4 199.2,791.1 198.6,790.9 198.1,790.6 197.6,790.7 197,790.5 196.5,790.1 195.9,789.6 195.4,789.2 194.8,789.1 194.3,788.7 193.8,788 193.2,787.4 192.7,786.6 192.1,785.5 191.6,784.6 191,783.4 190.5,782.2 190,780.5 189.4,778.8 188.9,777.1 188.3,774.9 187.8,772.4 187.2,770.1 186.7,767.7 186.2,765.4 185.6,763.2 185.1,761.2 184.5,759.2 184,757.5 183.4,756.1 182.9,755 182.4,756 181.8,757.4 181.3,759.2 180.7,761.1 180.2,763.1 179.6,765.1 179.1,767.6 178.6,770 178,772.2 177.5,774.5 176.9,776.5 176.4,778.3 175.8,780.1 175.3,781.5 174.8,782.8 174.2,783.7 173.7,784.9 173.1,785.6 172.6,786.3 172,787 171.5,787.4 171,788.1 170.4,788.3 169.9,788.4 169.3,789 168.8,789.2 168.2,789.3 167.7,789.5 167.2,789.8 166.6,789.9 166.1,790 165.5,790.4 165,790.8 164.4,791 163.9,791.5 163.4,791.6 162.8,791.8 162.3,792.2 161.7,792.9 161.2,793 160.6,793.3 160.1,793.3 159.6,793.5 159,793.9 158.5,794.2 157.9,794 157.4,794.4 156.8,794.8 156.3,795.2 155.8,795.5 155.2,795.6 154.7,795.4 154.1,795.7 153.6,796 153,796.5 152.5,797.2 152,797.4 151.4,797.4 150.9,797.3 150.3,797.3 149.8,797.4 149.2,797.2 148.7,797.4 148.2,797.8 147.6,798.5 147.1,798.8 146.5,798.7 146,798.7 145.4,798.9 144.9,798.7" fill="#f01818" opacity=".3"/>
<polyline points="144.9,798.7 145.4,798.4 146,798.4 146.5,798 147.1,797.7 147.6,798 148.2,798.1 148.7,797.4 149.2,797.4 149.8,797.3 150.3,796.5 150.9,796.4 151.4,796 152,796 152.5,795.7 153,795.9 153.6,795.5 154.1,795 154.7,794.9 155.2,794.6 155.8,794.4 156.3,794.6 156.8,794.1 157.4,793.9 157.9,793.9 158.5,793.9 159,793.3 159.6,793.1 160.1,792.7 160.6,792.3 161.2,792 161.7,791.7 162.3,791.7 162.8,791.3 163.4,791.2 163.9,790.7 164.4,790.4 165,790.5 165.5,790.4 166.1,790.2 166.6,789.5 167.2,789.2 167.7,788.7 168.2,788.4 168.8,787.9 169.3,787.5 169.9,787 170.4,786.3 171,785.6 171.5,784.8 172,784 172.6,783.1 173.1,782.2 173.7,781.2 174.2,780.3 174.8,779.5 175.3,778.3 175.8,777.1 176.4,775.9 176.9,774.8 177.5,773.6 178,772.5 178.6,771.2 179.1,770.1 179.6,769 180.2,768.1 180.7,766.9 181.3,765.8 181.8,765.1 182.4,764.2 182.9,763.6 183.4,764.4 184,765.2 184.5,765.9 185.1,766.8 185.6,768 186.2,769 186.7,770.3 187.2,771.4 187.8,772.6 188.3,773.7 188.9,774.7 189.4,776 190,777.1 190.5,778.4 191,779.7 191.6,780.7 192.1,781.8 192.7,782.8 193.2,783.6 193.8,784.3 194.3,785.2 194.8,786 195.4,786.3 195.9,787 196.5,787.3 197,787.6 197.6,788.2 198.1,788.7 198.6,789.1 199.2,789.4 199.7,789.8 200.3,790.1 200.8,790.4 201.4,790.5 201.9,790.9 202.4,791.3 203,791.4 203.5,791.9 204.1,792.3 204.6,792.2 205.2,792.5 205.7,792.7 206.2,793.4 206.8,793.6 207.3,793.6 207.9,794.2 208.4,794.2 209,794.2 209.5,794.8 210,794.8 210.6,795 211.1,795 211.7,795.4 212.2,795.4 212.8,795.5 213.3,796.2 213.8,796.6 214.4,796.5 214.9,796.2 215.5,796.8 216,797 216.6,797.1 217.1,797.4 217.6,797.7 218.2,798 218.7,798.2 219.3,798.1 219.8,798.4 220.4,798.6 220.9,798.4" fill="none" stroke="#111" stroke-width="1.05" stroke-linejoin="round"/>
<polyline points="144.9,798.8 145.4,798.9 146,798.7 146.5,798.8 147.1,798.8 147.6,798.5 148.2,797.8 148.7,797.4 149.2,797.2 149.8,797.4 150.3,797.3 150.9,797.3 151.4,797.3 152,797.3 152.5,797.2 153,796.4 153.6,796 154.1,795.6 154.7,795.3 155.2,795.5 155.8,795.5 156.3,795.1 156.8,794.7 157.4,794.2 157.9,793.9 158.5,794.1 159,793.7 159.6,793.4 160.1,793.2 160.6,793.1 161.2,792.8 161.7,792.7 162.3,792 162.8,791.5 163.4,791.3 163.9,791.2 164.4,790.7 165,790.5 165.5,790 166.1,789.7 166.6,789.6 167.2,789.4 167.7,789.1 168.2,788.9 168.8,788.8 169.3,788.5 169.9,787.9 170.4,787.8 171,787.5 171.5,786.9 172,786.4 172.6,785.7 173.1,784.9 173.7,784.1 174.2,782.8 174.8,781.7 175.3,780.3 175.8,778.8 176.4,776.8 176.9,774.8 177.5,772.5 178,769.9 178.6,767.4 179.1,764.7 179.6,761.9 180.2,759.4 180.7,757 181.3,754.7 181.8,752.5 182.4,750.6 182.9,749.2 183.4,750.7 184,752.6 184.5,754.7 185.1,757.2 185.6,759.6 186.2,762.1 186.7,764.8 187.2,767.5 187.8,770.1 188.3,773 188.9,775.4 189.4,777.4 190,779.2 190.5,781.1 191,782.4 191.6,783.7 192.1,784.8 192.7,785.9 193.2,786.8 193.8,787.5 194.3,788.2 194.8,788.6 195.4,788.7 195.9,789.2 196.5,789.7 197,790.1 197.6,790.4 198.1,790.3 198.6,790.6 199.2,790.8 199.7,791.2 200.3,790.9 200.8,791.2 201.4,791.5 201.9,791.9 202.4,792.2 203,792.3 203.5,792.2 204.1,792.5 204.6,792.8 205.2,792.8 205.7,793 206.2,792.7 206.8,793.2 207.3,793.3 207.9,793.3 208.4,793.6 209,793.5 209.5,793.9 210,794.4 210.6,794.6 211.1,795.2 211.7,795.3 212.2,795.6 212.8,795.4 213.3,795.4 213.8,795.7 214.4,796.4 214.9,796.8 215.5,797.1 216,797.4 216.6,797.6 217.1,797.3 217.6,797.8 218.2,798.3 218.7,797.9 219.3,798 219.8,797.7 220.4,798.2 220.9,798" fill="none" stroke="#f01818" stroke-width="1.05" stroke-linejoin="round"/>
<path d="M140.5 653.3V805.7H221.4M140.5 797.5h-3.2M140.5 755.1h-3.2M140.5 712.7h-3.2M140.5 670.3h-3.2M144.9 805.7v3.4M155.8 805.7v3.4M166.6 805.7v3.4M177.5 805.7v3.4M188.3 805.7v3.4M199.2 805.7v3.4M210 805.7v3.4M220.9 805.7v3.4" stroke="#000" stroke-width="1.3" fill="none"/>
<text x="144.9" y="660.1" font-size="8.6" font-weight="bold" fill="#111" textLength="16" lengthAdjust="spacingAndGlyphs">Inh.</text>
<text x="181.1" y="829.9" font-size="11.5" text-anchor="middle" fill="#111" textLength="72.3" lengthAdjust="spacingAndGlyphs">Distance (µm)</text>
<text x="220.6" y="661.1" font-size="8.6" font-weight="bold" text-anchor="end" fill="#111" textLength="21.2" lengthAdjust="spacingAndGlyphs">-HEX</text>
<text x="220.6" y="672.7" font-size="8.6" font-weight="bold" text-anchor="end" fill="#ff2828" textLength="23.8" lengthAdjust="spacingAndGlyphs">+HEX</text>
<text x="259.4" y="795.2" font-size="9.2" text-anchor="end" fill="#111">1.0</text>
<text x="259.4" y="725.9" font-size="9.2" text-anchor="end" fill="#111">1.5</text>
<text x="259.4" y="656.5" font-size="9.2" text-anchor="end" fill="#111">2.0</text>
<text x="269.1" y="818.2" font-size="9.3" text-anchor="middle" fill="#111">0</text>
<text x="280" y="818.2" font-size="9.3" text-anchor="middle" fill="#111">1</text>
<text x="290.8" y="818.2" font-size="9.3" text-anchor="middle" fill="#111">2</text>
<text x="301.7" y="818.2" font-size="9.3" text-anchor="middle" fill="#111">3</text>
<text x="312.6" y="818.2" font-size="9.3" text-anchor="middle" fill="#111">4</text>
<text x="323.5" y="818.2" font-size="9.3" text-anchor="middle" fill="#111">5</text>
<text x="334.3" y="818.2" font-size="9.3" text-anchor="middle" fill="#111">6</text>
<text x="345.2" y="818.2" font-size="9.3" text-anchor="middle" fill="#111">7</text>
<polygon points="269.1,793.6 269.6,793.3 270.2,792.9 270.7,792.5 271.3,792.3 271.8,792 272.4,792.3 272.9,792.1 273.4,791.5 274,791.2 274.5,790.8 275.1,790.9 275.6,790.7 276.2,790.5 276.7,790.1 277.3,789.7 277.8,789.7 278.3,789.4 278.9,789.1 279.4,788.4 280,787.9 280.5,787.8 281.1,787.3 281.6,787.2 282.1,786.7 282.7,786.6 283.2,786.4 283.8,785.6 284.3,785.4 284.9,785.1 285.4,784.4 286,783.8 286.5,783.6 287,783 287.6,782.7 288.1,782.2 288.7,782 289.2,781.3 289.8,780.9 290.3,780.3 290.8,779.7 291.4,779.5 291.9,779.1 292.5,778.7 293,778.2 293.6,777.6 294.1,776.9 294.6,775.9 295.2,775.2 295.7,774 296.3,772.9 296.8,771.5 297.4,769.7 297.9,767.7 298.5,765.3 299,762.4 299.5,758.8 300.1,754.9 300.6,750 301.2,744.8 301.7,738.6 302.3,731.9 302.8,725 303.3,717.5 303.9,710.1 304.4,702.6 305,695.6 305.5,689.1 306.1,683.1 306.6,677.9 307.2,673.8 307.7,677.9 308.2,682.8 308.8,688.7 309.3,695.4 309.9,702.6 310.4,710.1 311,717.5 311.5,725 312,732 312.6,738.5 313.1,744.5 313.7,750.1 314.2,754.6 314.8,758.9 315.3,762.4 315.8,765.3 316.4,767.5 316.9,769.7 317.5,771.2 318,772.6 318.6,773.9 319.1,775 319.7,776 320.2,776.9 320.7,777.6 321.3,778 321.8,778.4 322.4,779.1 322.9,779.9 323.5,780 324,780.5 324.5,781.1 325.1,781.7 325.6,782 326.2,782.3 326.7,782.8 327.3,783.3 327.8,783.9 328.3,784 328.9,784.7 329.4,785 330,785.1 330.5,785.7 331.1,785.9 331.6,786 332.2,786.4 332.7,786.7 333.2,787.4 333.8,787.8 334.3,788.3 334.9,788.4 335.4,788.8 336,789.2 336.5,789.1 337,789.3 337.6,789.5 338.1,790 338.7,790.5 339.2,790.7 339.8,791.1 340.3,791.6 340.9,791.9 341.4,792.4 341.9,792.6 342.5,792.4 343,792.4 343.6,792.7 344.1,793.1 344.7,793.5 345.2,794 345.2,793.9 344.7,793.5 344.1,793.1 343.6,792.7 343,792.4 342.5,792.4 341.9,792.6 341.4,792.4 340.9,791.9 340.3,791.6 339.8,791.1 339.2,790.7 338.7,790.5 338.1,790.1 337.6,789.5 337,789.4 336.5,789.2 336,789.2 335.4,788.9 334.9,788.4 334.3,788.4 333.8,787.9 333.2,787.5 332.7,786.8 332.2,786.6 331.6,786.2 331.1,786.1 330.5,785.9 330,785.3 329.4,785.1 328.9,784.8 328.3,784.2 327.8,784.1 327.3,783.5 326.7,783 326.2,782.5 325.6,782.3 325.1,781.9 324.5,781.4 324,780.9 323.5,780.4 322.9,780.2 322.4,779.5 321.8,778.8 321.3,778.5 320.7,778.1 320.2,777.4 319.7,776.5 319.1,775.6 318.6,774.6 318,773.3 317.5,772 316.9,770.5 316.4,768.5 315.8,766.4 315.3,763.7 314.8,760.4 314.2,756.3 313.7,752.1 313.1,746.8 312.6,741.2 312,735.2 311.5,728.7 311,721.7 310.4,714.9 309.9,708.2 309.3,701.7 308.8,695.7 308.2,690.5 307.7,686.3 307.2,682.9 306.6,686.3 306.1,690.8 305.5,696 305,701.8 304.4,708.2 303.9,714.9 303.3,721.8 302.8,728.7 302.3,735.1 301.7,741.3 301.2,747.1 300.6,751.9 300.1,756.6 299.5,760.3 299,763.6 298.5,766.4 297.9,768.6 297.4,770.5 296.8,772.3 296.3,773.6 295.7,774.7 295.2,775.8 294.6,776.5 294.1,777.4 293.6,778.1 293,778.6 292.5,779.1 291.9,779.4 291.4,779.8 290.8,780.1 290.3,780.6 289.8,781.2 289.2,781.6 288.7,782.3 288.1,782.5 287.6,782.9 287,783.2 286.5,783.8 286,784 285.4,784.5 284.9,785.3 284.3,785.6 283.8,785.8 283.2,786.5 282.7,786.7 282.1,786.8 281.6,787.3 281.1,787.4 280.5,787.9 280,788 279.4,788.4 278.9,789.2 278.3,789.5 277.8,789.8 277.3,789.8 276.7,790.1 276.2,790.5 275.6,790.7 275.1,791 274.5,790.8 274,791.2 273.4,791.5 272.9,792.1 272.4,792.3 271.8,792 271.3,792.3 270.7,792.5 270.2,792.9 269.6,793.2 269.1,793.5" fill="#888" opacity=".2"/>
<polygon points="269.1,793.4 269.6,793 270.2,792.9 270.7,792.9 271.3,792.9 271.8,792.3 272.4,791.9 272.9,791.3 273.4,791.1 274,790.5 274.5,790.4 275.1,789.7 275.6,789.3 276.2,789 276.7,788.6 277.3,788.2 277.8,788 278.3,787.5 278.9,786.9 279.4,786.7 280,786.1 280.5,785.6 281.1,785.1 281.6,784.9 282.1,784.7 282.7,784 283.2,783.4 283.8,783.1 284.3,782.9 284.9,782.5 285.4,781.9 286,781.5 286.5,780.7 287,780.2 287.6,779.9 288.1,779.3 288.7,778.9 289.2,778.1 289.8,777.5 290.3,777 290.8,776.5 291.4,775.9 291.9,775.2 292.5,774.5 293,774.2 293.6,773.6 294.1,772.8 294.6,772.1 295.2,771.1 295.7,770.3 296.3,768.9 296.8,767.5 297.4,766 297.9,764 298.5,761.7 299,759 299.5,755.5 300.1,751.6 300.6,747 301.2,741.4 301.7,735.3 302.3,728.9 302.8,721.5 303.3,714.1 303.9,706.4 304.4,698.5 305,691 305.5,684.2 306.1,678 306.6,672.6 307.2,668.3 307.7,672.5 308.2,678 308.8,684.2 309.3,691.1 309.9,698.5 310.4,706.1 311,714 311.5,721.4 312,728.5 312.6,735.2 313.1,741.2 313.7,746.7 314.2,751.3 314.8,755.2 315.3,758.7 315.8,761.6 316.4,763.9 316.9,765.9 317.5,767.7 318,768.9 318.6,770.2 319.1,771.2 319.7,771.9 320.2,772.9 320.7,773.8 321.3,774.6 321.8,775 322.4,775.7 322.9,776.3 323.5,776.8 324,777.1 324.5,777.8 325.1,778.4 325.6,778.7 326.2,779.2 326.7,779.9 327.3,780.4 327.8,780.9 328.3,781.5 328.9,782 329.4,782.5 330,782.7 330.5,783.3 331.1,783.6 331.6,783.8 332.2,784.1 332.7,784.8 333.2,785.2 333.8,785.8 334.3,786.3 334.9,786.7 335.4,786.9 336,787.1 336.5,787.8 337,788.6 337.6,788.9 338.1,789.6 338.7,790.1 339.2,790.1 339.8,790.7 340.3,790.8 340.9,791.2 341.4,791.2 341.9,791.4 342.5,792.2 343,792.8 343.6,792.6 344.1,792.9 344.7,793.4 345.2,793.4 345.2,793.4 344.7,793.3 344.1,792.9 343.6,792.6 343,792.7 342.5,792.2 341.9,791.4 341.4,791.2 340.9,791.2 340.3,790.8 339.8,790.7 339.2,790.1 338.7,790.2 338.1,789.6 337.6,789 337,788.7 336.5,787.9 336,787.3 335.4,787.1 334.9,786.9 334.3,786.5 333.8,786 333.2,785.4 332.7,785 332.2,784.3 331.6,784 331.1,783.8 330.5,783.5 330,783 329.4,782.8 328.9,782.3 328.3,781.8 327.8,781.2 327.3,780.7 326.7,780.3 326.2,779.6 325.6,779.1 325.1,778.9 324.5,778.3 324,777.6 323.5,777.4 322.9,776.9 322.4,776.3 321.8,775.7 321.3,775.2 320.7,774.5 320.2,773.7 319.7,772.8 319.1,772.1 318.6,771.1 318,770 317.5,768.8 316.9,767.1 316.4,765.3 315.8,763.1 315.3,760.4 314.8,757.2 314.2,753.6 313.7,749.3 313.1,744.3 312.6,738.8 312,732.7 311.5,726.2 311,719.5 310.4,712.4 309.9,705.7 309.3,699.1 308.8,693.2 308.2,688 307.7,683.4 307.2,680.1 306.6,683.5 306.1,687.9 305.5,693.2 305,699.1 304.4,705.7 303.9,712.7 303.3,719.6 302.8,726.3 302.3,733 301.7,738.9 301.2,744.5 300.6,749.6 300.1,753.9 299.5,757.5 299,760.7 298.5,763.3 297.9,765.4 297.4,767.3 296.8,768.7 296.3,769.9 295.7,771.2 295.2,772 294.6,772.9 294.1,773.6 293.6,774.3 293,774.9 292.5,775.2 291.9,775.9 291.4,776.5 290.8,777.1 290.3,777.6 289.8,778 289.2,778.6 288.7,779.3 288.1,779.7 287.6,780.3 287,780.6 286.5,781 286,781.8 285.4,782.2 284.9,782.8 284.3,783.2 283.8,783.3 283.2,783.7 282.7,784.2 282.1,784.9 281.6,785.1 281.1,785.2 280.5,785.8 280,786.2 279.4,786.9 278.9,787 278.3,787.7 277.8,788.1 277.3,788.3 276.7,788.7 276.2,789.1 275.6,789.3 275.1,789.8 274.5,790.4 274,790.5 273.4,791.1 272.9,791.3 272.4,791.9 271.8,792.3 271.3,792.9 270.7,792.8 270.2,792.9 269.6,793 269.1,793.4" fill="#f01818" opacity=".3"/>
<polyline points="269.1,793.6 269.6,793.2 270.2,792.9 270.7,792.5 271.3,792.3 271.8,792 272.4,792.3 272.9,792.1 273.4,791.5 274,791.2 274.5,790.8 275.1,790.9 275.6,790.7 276.2,790.5 276.7,790.1 277.3,789.7 277.8,789.7 278.3,789.5 278.9,789.1 279.4,788.4 280,787.9 280.5,787.9 281.1,787.3 281.6,787.2 282.1,786.8 282.7,786.6 283.2,786.5 283.8,785.7 284.3,785.5 284.9,785.2 285.4,784.4 286,783.9 286.5,783.7 287,783.1 287.6,782.8 288.1,782.3 288.7,782.1 289.2,781.5 289.8,781 290.3,780.4 290.8,779.9 291.4,779.7 291.9,779.3 292.5,778.9 293,778.4 293.6,777.8 294.1,777.1 294.6,776.2 295.2,775.5 295.7,774.3 296.3,773.2 296.8,771.9 297.4,770.1 297.9,768.1 298.5,765.8 299,763 299.5,759.5 300.1,755.7 300.6,750.9 301.2,745.9 301.7,740 302.3,733.5 302.8,726.9 303.3,719.7 303.9,712.5 304.4,705.4 305,698.7 305.5,692.5 306.1,687 306.6,682.1 307.2,678.3 307.7,682.1 308.2,686.7 308.8,692.2 309.3,698.5 309.9,705.4 310.4,712.5 311,719.6 311.5,726.9 312,733.6 312.6,739.9 313.1,745.6 313.7,751.1 314.2,755.5 314.8,759.6 315.3,763 315.8,765.8 316.4,768 316.9,770.1 317.5,771.6 318,773 318.6,774.3 319.1,775.3 319.7,776.3 320.2,777.1 320.7,777.8 321.3,778.3 321.8,778.6 322.4,779.3 322.9,780 323.5,780.2 324,780.7 324.5,781.2 325.1,781.8 325.6,782.1 326.2,782.4 326.7,782.9 327.3,783.4 327.8,784 328.3,784.1 328.9,784.8 329.4,785.1 330,785.2 330.5,785.8 331.1,786 331.6,786.1 332.2,786.5 332.7,786.8 333.2,787.5 333.8,787.8 334.3,788.4 334.9,788.4 335.4,788.9 336,789.2 336.5,789.1 337,789.3 337.6,789.5 338.1,790 338.7,790.5 339.2,790.7 339.8,791.1 340.3,791.6 340.9,791.9 341.4,792.4 341.9,792.6 342.5,792.4 343,792.4 343.6,792.7 344.1,793.1 344.7,793.5 345.2,794" fill="none" stroke="#111" stroke-width="1.05" stroke-linejoin="round"/>
<polyline points="269.1,793.4 269.6,793 270.2,792.9 270.7,792.9 271.3,792.9 271.8,792.3 272.4,791.9 272.9,791.3 273.4,791.1 274,790.5 274.5,790.4 275.1,789.8 275.6,789.3 276.2,789.1 276.7,788.7 277.3,788.2 277.8,788.1 278.3,787.6 278.9,787 279.4,786.8 280,786.2 280.5,785.7 281.1,785.1 281.6,785 282.1,784.8 282.7,784.1 283.2,783.5 283.8,783.2 284.3,783 284.9,782.7 285.4,782 286,781.6 286.5,780.9 287,780.4 287.6,780.1 288.1,779.5 288.7,779.1 289.2,778.4 289.8,777.7 290.3,777.3 290.8,776.8 291.4,776.2 291.9,775.6 292.5,774.9 293,774.6 293.6,774 294.1,773.2 294.6,772.5 295.2,771.6 295.7,770.7 296.3,769.4 296.8,768.1 297.4,766.7 297.9,764.7 298.5,762.5 299,759.8 299.5,756.5 300.1,752.8 300.6,748.3 301.2,743 301.7,737.1 302.3,730.9 302.8,723.9 303.3,716.9 303.9,709.5 304.4,702.1 305,695.1 305.5,688.7 306.1,683 306.6,678.1 307.2,674.2 307.7,678 308.2,683 308.8,688.7 309.3,695.1 309.9,702.1 310.4,709.3 311,716.7 311.5,723.8 312,730.6 312.6,737 313.1,742.7 313.7,748 314.2,752.4 314.8,756.2 315.3,759.6 315.8,762.3 316.4,764.6 316.9,766.5 317.5,768.3 318,769.4 318.6,770.7 319.1,771.6 319.7,772.3 320.2,773.3 320.7,774.2 321.3,774.9 321.8,775.4 322.4,776 322.9,776.6 323.5,777.1 324,777.4 324.5,778.1 325.1,778.6 325.6,778.9 326.2,779.4 326.7,780.1 327.3,780.6 327.8,781 328.3,781.7 328.9,782.1 329.4,782.6 330,782.8 330.5,783.4 331.1,783.7 331.6,783.9 332.2,784.2 332.7,784.9 333.2,785.3 333.8,785.9 334.3,786.4 334.9,786.8 335.4,787 336,787.2 336.5,787.9 337,788.6 337.6,789 338.1,789.6 338.7,790.1 339.2,790.1 339.8,790.7 340.3,790.8 340.9,791.2 341.4,791.2 341.9,791.4 342.5,792.2 343,792.8 343.6,792.6 344.1,792.9 344.7,793.4 345.2,793.4" fill="none" stroke="#f01818" stroke-width="1.05" stroke-linejoin="round"/>
<path d="M264.6 653.3V805.7H345.7M264.6 792h-3.2M264.6 722.6h-3.2M264.6 653.3h-3.2M269.1 805.7v3.4M280 805.7v3.4M290.8 805.7v3.4M301.7 805.7v3.4M312.6 805.7v3.4M323.5 805.7v3.4M334.3 805.7v3.4M345.2 805.7v3.4" stroke="#000" stroke-width="1.3" fill="none"/>
<text x="269.9" y="660.1" font-size="8.6" font-weight="bold" fill="#111" textLength="17.9" lengthAdjust="spacingAndGlyphs">Exc.</text>
<text x="305.3" y="829.9" font-size="11.5" text-anchor="middle" fill="#111" textLength="72.3" lengthAdjust="spacingAndGlyphs">Distance (µm)</text>
<text x="243.8" y="730.9" font-size="11.3" text-anchor="middle" fill="#111" transform="rotate(-90 243.8 730.9)" textLength="76.5" lengthAdjust="spacingAndGlyphs">Norm. Intensity</text>
<text x="365.2" y="795.2" font-size="9.2" text-anchor="end" fill="#111">1.0</text>
<text x="365.2" y="725.9" font-size="9.2" text-anchor="end" fill="#111">1.5</text>
<text x="365.2" y="656.5" font-size="9.2" text-anchor="end" fill="#111">2.0</text>
<text x="375" y="818.2" font-size="9.3" text-anchor="middle" fill="#111">0</text>
<text x="385.8" y="818.2" font-size="9.3" text-anchor="middle" fill="#111">1</text>
<text x="396.6" y="818.2" font-size="9.3" text-anchor="middle" fill="#111">2</text>
<text x="407.4" y="818.2" font-size="9.3" text-anchor="middle" fill="#111">3</text>
<text x="418.2" y="818.2" font-size="9.3" text-anchor="middle" fill="#111">4</text>
<text x="429" y="818.2" font-size="9.3" text-anchor="middle" fill="#111">5</text>
<text x="439.8" y="818.2" font-size="9.3" text-anchor="middle" fill="#111">6</text>
<text x="450.6" y="818.2" font-size="9.3" text-anchor="middle" fill="#111">7</text>
<polygon points="375,793.9 375.5,794.1 376.1,793.2 376.6,793.3 377.2,792.6 377.7,792.2 378.2,792.2 378.8,791.3 379.3,791.3 379.9,790.6 380.4,790.4 380.9,790.1 381.5,789.3 382,788 382.6,788.1 383.1,787.8 383.6,786.8 384.2,785.7 384.7,785.3 385.3,785.2 385.8,784.1 386.3,784.5 386.9,783.6 387.4,783.5 388,783.5 388.5,783.3 389,782.8 389.6,781.7 390.1,781.7 390.7,781 391.2,780.3 391.7,780 392.3,779.4 392.8,779.4 393.4,779.2 393.9,778.7 394.4,777.7 395,777.1 395.5,776.6 396.1,775.7 396.6,775.1 397.1,774.5 397.7,773.4 398.2,772.4 398.8,771.9 399.3,770.7 399.8,769.6 400.4,768 400.9,766.5 401.5,765.1 402,762.7 402.5,760.9 403.1,758.3 403.6,755 404.2,751.8 404.7,747.8 405.2,743.6 405.8,738.3 406.3,732.6 406.9,726.6 407.4,720.1 407.9,713.6 408.5,706.6 409,699.6 409.6,692.6 410.1,685.9 410.6,679.2 411.2,673.1 411.7,667.7 412.3,662.9 412.8,659.1 413.3,663.1 413.9,667.8 414.4,673 415,678.9 415.5,685.6 416,692.4 416.6,699.2 417.1,706.5 417.7,713.2 418.2,719.9 418.7,726.3 419.3,732.3 419.8,737.3 420.4,742.4 420.9,746.8 421.4,750.6 422,753.6 422.5,757 423.1,759.5 423.6,761.6 424.1,763.2 424.7,764.8 425.2,766.1 425.8,767.9 426.3,769.2 426.8,770.4 427.4,771 427.9,771.6 428.5,773 429,774.2 429.5,775.1 430.1,776 430.6,776.5 431.2,777 431.7,777.9 432.2,779 432.8,779.5 433.3,780.1 433.9,780.5 434.4,780.5 434.9,781 435.5,781.8 436,782.3 436.6,782.8 437.1,784 437.6,784 438.2,784.3 438.7,784.5 439.3,784.9 439.8,785.9 440.3,786.6 440.9,787.6 441.4,787.7 442,788.6 442.5,789.4 443,789.8 443.6,790.2 444.1,790.4 444.7,791.1 445.2,791.7 445.7,792 446.3,792.4 446.8,792.4 447.4,793.1 447.9,792.3 448.4,792.4 449,793.3 449.5,793.8 450.1,794.1 450.6,794.3 450.6,794.2 450.1,794 449.5,793.7 449,793.2 448.4,792.4 447.9,792.3 447.4,793 446.8,792.4 446.3,792.4 445.7,792 445.2,791.7 444.7,791.1 444.1,790.5 443.6,790.3 443,789.9 442.5,789.5 442,788.8 441.4,787.9 440.9,787.8 440.3,786.9 439.8,786.2 439.3,785.3 438.7,784.9 438.2,784.7 437.6,784.4 437.1,784.5 436.6,783.3 436,782.8 435.5,782.3 434.9,781.6 434.4,781.1 433.9,781.1 433.3,780.7 432.8,780.2 432.2,779.7 431.7,778.7 431.2,777.9 430.6,777.5 430.1,777 429.5,776.2 429,775.3 428.5,774.3 427.9,773 427.4,772.4 426.8,771.9 426.3,770.8 425.8,769.6 425.2,768 424.7,766.8 424.1,765.5 423.6,764.1 423.1,762.2 422.5,759.9 422,757 421.4,754.3 420.9,751 420.4,747.1 419.8,742.7 419.3,738.4 418.7,733.3 418.2,727.9 417.7,722.3 417.1,716.7 416.6,710.7 416,705.3 415.5,699.9 415,694.7 414.4,690.3 413.9,686.6 413.3,683.5 412.8,681 412.3,683.3 411.7,686.6 411.2,690.4 410.6,695 410.1,700.1 409.6,705.4 409,711 408.5,716.8 407.9,722.6 407.4,728 406.9,733.6 406.3,738.7 405.8,743.7 405.2,748.3 404.7,751.9 404.2,755.5 403.6,758.3 403.1,761.2 402.5,763.5 402,765.1 401.5,767.2 400.9,768.4 400.4,769.8 399.8,771.2 399.3,772.2 398.8,773.2 398.2,773.8 397.7,774.6 397.1,775.7 396.6,776.2 396.1,776.7 395.5,777.5 395,778 394.4,778.5 393.9,779.5 393.4,779.9 392.8,780.1 392.3,780.1 391.7,780.7 391.2,780.9 390.7,781.6 390.1,782.2 389.6,782.3 389,783.3 388.5,783.8 388,783.9 387.4,784 386.9,784 386.3,784.9 385.8,784.5 385.3,785.5 384.7,785.7 384.2,786 383.6,787.1 383.1,788 382.6,788.2 382,788.2 381.5,789.4 380.9,790.2 380.4,790.5 379.9,790.6 379.3,791.4 378.8,791.4 378.2,792.2 377.7,792.2 377.2,792.5 376.6,793.3 376.1,793.1 375.5,794 375,793.8" fill="#888" opacity=".2"/>
<polygon points="375,794.1 375.5,792.9 376.1,793.3 376.6,792.5 377.2,792.8 377.7,792.6 378.2,791.2 378.8,791.4 379.3,790.7 379.9,790.4 380.4,790.1 380.9,789.7 381.5,789.8 382,788.8 382.6,789.1 383.1,789 383.6,789.1 384.2,788.6 384.7,788.1 385.3,787 385.8,786.9 386.3,787 386.9,786.8 387.4,785.6 388,785.9 388.5,785.3 389,785.1 389.6,784.5 390.1,784.3 390.7,783.7 391.2,783.4 391.7,782.8 392.3,782.1 392.8,781.8 393.4,781.8 393.9,781.8 394.4,780.6 395,780.1 395.5,779.9 396.1,778.8 396.6,778.2 397.1,777.5 397.7,776.6 398.2,776.3 398.8,775.8 399.3,774.6 399.8,774.2 400.4,773 400.9,772.3 401.5,770.9 402,769.4 402.5,767.5 403.1,765.6 403.6,763.7 404.2,761.5 404.7,758.7 405.2,755.1 405.8,751.1 406.3,746.7 406.9,741.2 407.4,735.6 407.9,729.3 408.5,723.1 409,716.4 409.6,709.8 410.1,703 410.6,696.5 411.2,690.4 411.7,685 412.3,680.1 412.8,676 413.3,680.1 413.9,684.9 414.4,690.4 415,696.2 415.5,702.4 416,709.3 416.6,716 417.1,722.9 417.7,729.6 418.2,735.5 418.7,741.2 419.3,746.4 419.8,750.9 420.4,755 420.9,758.4 421.4,761.3 422,763.8 422.5,765.8 423.1,767.7 423.6,769.5 424.1,771 424.7,772.3 425.2,773.1 425.8,774 426.3,774.5 426.8,775.3 427.4,775.9 427.9,776.3 428.5,777.6 429,778.7 429.5,779.5 430.1,779.9 430.6,780.3 431.2,780.5 431.7,781.2 432.2,781.2 432.8,782.4 433.3,782.5 433.9,783.3 434.4,783.3 434.9,784.3 435.5,784.1 436,784.3 436.6,784.3 437.1,784.9 437.6,785.9 438.2,785.7 438.7,786.3 439.3,787.2 439.8,787.3 440.3,787.6 440.9,787.9 441.4,788.6 442,789.2 442.5,789.1 443,789.3 443.6,790 444.1,790.1 444.7,789.9 445.2,790 445.7,790.5 446.3,791 446.8,791.5 447.4,792.2 447.9,792.8 448.4,792.9 449,793.6 449.5,793.3 450.1,793.2 450.6,793.4 450.6,793.3 450.1,793.1 449.5,793.2 449,793.6 448.4,792.9 447.9,792.7 447.4,792.2 446.8,791.5 446.3,791 445.7,790.5 445.2,790 444.7,790 444.1,790.2 443.6,790.1 443,789.4 442.5,789.2 442,789.3 441.4,788.7 440.9,788 440.3,787.7 439.8,787.5 439.3,787.4 438.7,786.5 438.2,785.9 437.6,786.1 437.1,785.2 436.6,784.6 436,784.6 435.5,784.4 434.9,784.7 434.4,783.6 433.9,783.7 433.3,782.9 432.8,782.9 432.2,781.7 431.7,781.7 431.2,781 430.6,780.8 430.1,780.5 429.5,780.1 429,779.3 428.5,778.3 427.9,777.1 427.4,776.8 426.8,776.2 426.3,775.5 425.8,775 425.2,774.2 424.7,773.5 424.1,772.3 423.6,770.9 423.1,769.3 422.5,767.5 422,765.7 421.4,763.4 420.9,760.8 420.4,757.8 419.8,754.1 419.3,750.1 418.7,745.5 418.2,740.4 417.7,735.3 417.1,729.4 416.6,723.4 416,717.8 415.5,711.9 415,706.8 414.4,702.1 413.9,697.7 413.3,694.2 412.8,691.2 412.3,694.1 411.7,697.8 411.2,702.1 410.6,707 410.1,712.4 409.6,718.2 409,723.8 408.5,729.6 407.9,735 407.4,740.5 406.9,745.5 406.3,750.4 405.8,754.3 405.2,757.9 404.7,761.2 404.2,763.6 403.6,765.6 403.1,767.4 402.5,769.1 402,770.8 401.5,772.2 400.9,773.5 400.4,774.1 399.8,775.2 399.3,775.6 398.8,776.7 398.2,777.2 397.7,777.4 397.1,778.2 396.6,778.9 396.1,779.4 395.5,780.5 395,780.7 394.4,781.1 393.9,782.2 393.4,782.3 392.8,782.2 392.3,782.5 391.7,783.2 391.2,783.7 390.7,784 390.1,784.7 389.6,784.8 389,785.4 388.5,785.6 388,786.2 387.4,785.9 386.9,787 386.3,787.2 385.8,787.1 385.3,787.2 384.7,788.2 384.2,788.8 383.6,789.2 383.1,789.1 382.6,789.2 382,789 381.5,789.9 380.9,789.8 380.4,790.2 379.9,790.5 379.3,790.7 378.8,791.4 378.2,791.2 377.7,792.6 377.2,792.8 376.6,792.5 376.1,793.3 375.5,792.9 375,794" fill="#f01818" opacity=".3"/>
<polyline points="375,793.9 375.5,794 376.1,793.1 376.6,793.3 377.2,792.5 377.7,792.2 378.2,792.2 378.8,791.4 379.3,791.4 379.9,790.6 380.4,790.5 380.9,790.2 381.5,789.3 382,788.1 382.6,788.2 383.1,787.9 383.6,787 384.2,785.9 384.7,785.5 385.3,785.3 385.8,784.3 386.3,784.7 386.9,783.8 387.4,783.7 388,783.7 388.5,783.6 389,783.1 389.6,782 390.1,781.9 390.7,781.3 391.2,780.6 391.7,780.3 392.3,779.8 392.8,779.8 393.4,779.6 393.9,779.1 394.4,778.1 395,777.5 395.5,777 396.1,776.2 396.6,775.6 397.1,775.1 397.7,774 398.2,773.1 398.8,772.5 399.3,771.5 399.8,770.4 400.4,768.9 400.9,767.4 401.5,766.1 402,763.9 402.5,762.2 403.1,759.7 403.6,756.7 404.2,753.7 404.7,749.9 405.2,745.9 405.8,741 406.3,735.7 406.9,730.1 407.4,724 407.9,718.1 408.5,711.7 409,705.3 409.6,699 410.1,693 410.6,687.1 411.2,681.7 411.7,677.2 412.3,673.1 412.8,670 413.3,673.3 413.9,677.2 414.4,681.7 415,686.8 415.5,692.7 416,698.8 416.6,705 417.1,711.6 417.7,717.7 418.2,723.9 418.7,729.8 419.3,735.4 419.8,740 420.4,744.7 420.9,748.9 421.4,752.5 422,755.3 422.5,758.4 423.1,760.8 423.6,762.8 424.1,764.4 424.7,765.8 425.2,767.1 425.8,768.7 426.3,770 426.8,771.1 427.4,771.7 427.9,772.3 428.5,773.6 429,774.7 429.5,775.6 430.1,776.5 430.6,777 431.2,777.5 431.7,778.3 432.2,779.4 432.8,779.8 433.3,780.4 433.9,780.8 434.4,780.8 434.9,781.3 435.5,782.1 436,782.6 436.6,783.1 437.1,784.2 437.6,784.2 438.2,784.5 438.7,784.7 439.3,785.1 439.8,786 440.3,786.7 440.9,787.7 441.4,787.8 442,788.7 442.5,789.4 443,789.8 443.6,790.3 444.1,790.5 444.7,791.1 445.2,791.7 445.7,792 446.3,792.4 446.8,792.4 447.4,793.1 447.9,792.3 448.4,792.4 449,793.3 449.5,793.7 450.1,794 450.6,794.2" fill="none" stroke="#111" stroke-width="1.05" stroke-linejoin="round"/>
<polyline points="375,794.1 375.5,792.9 376.1,793.3 376.6,792.5 377.2,792.8 377.7,792.6 378.2,791.2 378.8,791.4 379.3,790.7 379.9,790.4 380.4,790.2 380.9,789.8 381.5,789.9 382,788.9 382.6,789.2 383.1,789 383.6,789.1 384.2,788.7 384.7,788.2 385.3,787.1 385.8,787 386.3,787.1 386.9,786.9 387.4,785.8 388,786.1 388.5,785.5 389,785.2 389.6,784.6 390.1,784.5 390.7,783.9 391.2,783.5 391.7,783 392.3,782.3 392.8,782 393.4,782.1 393.9,782 394.4,780.9 395,780.4 395.5,780.2 396.1,779.1 396.6,778.6 397.1,777.9 397.7,777 398.2,776.8 398.8,776.2 399.3,775.1 399.8,774.7 400.4,773.5 400.9,772.9 401.5,771.5 402,770.1 402.5,768.3 403.1,766.5 403.6,764.6 404.2,762.5 404.7,759.9 405.2,756.5 405.8,752.7 406.3,748.6 406.9,743.4 407.4,738 407.9,732.2 408.5,726.3 409,720.1 409.6,714 410.1,707.7 410.6,701.8 411.2,696.3 411.7,691.4 412.3,687.1 412.8,683.6 413.3,687.2 413.9,691.3 414.4,696.2 415,701.5 415.5,707.1 416,713.6 416.6,719.7 417.1,726.1 417.7,732.5 418.2,737.9 418.7,743.3 419.3,748.3 419.8,752.5 420.4,756.4 420.9,759.6 421.4,762.3 422,764.7 422.5,766.6 423.1,768.5 423.6,770.2 424.1,771.7 424.7,772.9 425.2,773.6 425.8,774.5 426.3,775 426.8,775.8 427.4,776.3 427.9,776.7 428.5,778 429,779 429.5,779.8 430.1,780.2 430.6,780.5 431.2,780.8 431.7,781.5 432.2,781.5 432.8,782.6 433.3,782.7 433.9,783.5 434.4,783.5 434.9,784.5 435.5,784.3 436,784.5 436.6,784.5 437.1,785.1 437.6,786 438.2,785.8 438.7,786.4 439.3,787.3 439.8,787.4 440.3,787.6 440.9,788 441.4,788.7 442,789.3 442.5,789.2 443,789.4 443.6,790.1 444.1,790.2 444.7,790 445.2,790 445.7,790.5 446.3,791 446.8,791.5 447.4,792.2 447.9,792.8 448.4,792.9 449,793.6 449.5,793.2 450.1,793.2 450.6,793.4" fill="none" stroke="#f01818" stroke-width="1.05" stroke-linejoin="round"/>
<path d="M370.4 653.3V805.7H451.1M370.4 792h-3.2M370.4 722.6h-3.2M370.4 653.3h-3.2M375 805.7v3.4M385.8 805.7v3.4M396.6 805.7v3.4M407.4 805.7v3.4M418.2 805.7v3.4M429 805.7v3.4M439.8 805.7v3.4M450.6 805.7v3.4" stroke="#000" stroke-width="1.3" fill="none"/>
<text x="374.8" y="660.1" font-size="8.6" font-weight="bold" fill="#111" textLength="16" lengthAdjust="spacingAndGlyphs">Inh.</text>
<text x="411" y="829.9" font-size="11.5" text-anchor="middle" fill="#111" textLength="72.3" lengthAdjust="spacingAndGlyphs">Distance (µm)</text>
<text x="450.3" y="661.1" font-size="8.6" font-weight="bold" text-anchor="end" fill="#111" textLength="21.2" lengthAdjust="spacingAndGlyphs">-HEX</text>
<text x="450.3" y="672.7" font-size="8.6" font-weight="bold" text-anchor="end" fill="#ff2828" textLength="23.8" lengthAdjust="spacingAndGlyphs">+HEX</text>
<text x="491" y="795.9" font-size="9.2" text-anchor="end" fill="#111">1.0</text>
<text x="491" y="732.5" font-size="9.2" text-anchor="end" fill="#111">1.5</text>
<text x="491" y="669.1" font-size="9.2" text-anchor="end" fill="#111">2.0</text>
<text x="500.7" y="818.2" font-size="9.3" text-anchor="middle" fill="#111">0</text>
<text x="511.5" y="818.2" font-size="9.3" text-anchor="middle" fill="#111">1</text>
<text x="522.3" y="818.2" font-size="9.3" text-anchor="middle" fill="#111">2</text>
<text x="533.1" y="818.2" font-size="9.3" text-anchor="middle" fill="#111">3</text>
<text x="544" y="818.2" font-size="9.3" text-anchor="middle" fill="#111">4</text>
<text x="554.8" y="818.2" font-size="9.3" text-anchor="middle" fill="#111">5</text>
<text x="565.6" y="818.2" font-size="9.3" text-anchor="middle" fill="#111">6</text>
<text x="576.4" y="818.2" font-size="9.3" text-anchor="middle" fill="#111">7</text>
<polygon points="500.7,794.3 501.2,794.2 501.8,794.3 502.3,793.5 502.9,793.8 503.4,793.3 503.9,792.6 504.5,792.8 505,792.4 505.6,791.9 506.1,792.1 506.6,791.8 507.2,791.2 507.7,790.9 508.3,790.4 508.8,790.5 509.4,790.3 509.9,790.2 510.4,789.7 511,788.9 511.5,788.5 512.1,788.1 512.6,788 513.1,787.5 513.7,787.6 514.2,787.4 514.8,786.8 515.3,786.3 515.8,786.1 516.4,786.1 516.9,785.8 517.5,785.5 518,785.1 518.5,784.3 519.1,784.2 519.6,783.4 520.2,782.8 520.7,782.9 521.2,782.5 521.8,782 522.3,781.8 522.9,781.2 523.4,780.3 524,780 524.5,779.3 525,778.8 525.6,777.9 526.1,776.7 526.7,776 527.2,775.1 527.7,773.8 528.3,772.1 528.8,770.5 529.4,768.5 529.9,766 530.4,763.1 531,760.2 531.5,757 532.1,753.3 532.6,749.7 533.1,745.5 533.7,741.3 534.2,736.8 534.8,732.1 535.3,727.9 535.8,723.5 536.4,719.4 536.9,715.7 537.5,712.3 538,709 538.5,706.2 539.1,709.1 539.6,712 540.2,715.4 540.7,719.4 541.3,723.4 541.8,727.9 542.3,732.4 542.9,736.7 543.4,741.1 544,745.3 544.5,749.6 545,753.5 545.6,756.9 546.1,760.1 546.7,763.1 547.2,765.8 547.7,767.9 548.3,770 548.8,772.1 549.4,773.4 549.9,774.8 550.4,776 551,777.1 551.5,777.9 552.1,778.8 552.6,779.6 553.1,780 553.7,780.8 554.2,781 554.8,781.8 555.3,781.9 555.9,782.1 556.4,782.6 556.9,783 557.5,783.6 558,783.8 558.6,784.3 559.1,784.9 559.6,784.8 560.2,785.3 560.7,785.8 561.3,785.9 561.8,786.4 562.3,786.6 562.9,787.3 563.4,787.3 564,787.9 564.5,788.5 565,788.3 565.6,788.9 566.1,788.8 566.7,788.8 567.2,789.2 567.7,790.1 568.3,790.8 568.8,791.1 569.4,791.3 569.9,791.3 570.5,791.1 571,791.6 571.5,792.3 572.1,792.4 572.6,793 573.2,793.5 573.7,793.4 574.2,793.3 574.8,794 575.3,794.1 575.9,794 576.4,793.9 576.4,793.9 575.9,794 575.3,794.1 574.8,794 574.2,793.3 573.7,793.4 573.2,793.5 572.6,793 572.1,792.4 571.5,792.3 571,791.7 570.5,791.1 569.9,791.4 569.4,791.4 568.8,791.2 568.3,790.8 567.7,790.2 567.2,789.3 566.7,788.9 566.1,788.9 565.6,789.1 565,788.5 564.5,788.7 564,788.1 563.4,787.5 562.9,787.5 562.3,786.9 561.8,786.7 561.3,786.2 560.7,786.2 560.2,785.7 559.6,785.2 559.1,785.3 558.6,784.7 558,784.3 557.5,784.1 556.9,783.5 556.4,783.2 555.9,782.7 555.3,782.5 554.8,782.4 554.2,781.7 553.7,781.5 553.1,780.8 552.6,780.4 552.1,779.6 551.5,778.9 551,778.2 550.4,777.1 549.9,776.1 549.4,774.8 548.8,773.6 548.3,771.7 547.7,769.8 547.2,768 546.7,765.6 546.1,762.9 545.6,760.1 545,757.1 544.5,753.7 544,750 543.4,746.4 542.9,742.7 542.3,739.1 541.8,735.4 541.3,731.7 540.7,728.5 540.2,725.4 539.6,723 539.1,720.9 538.5,719 538,720.9 537.5,723.2 536.9,725.7 536.4,728.5 535.8,731.8 535.3,735.4 534.8,738.8 534.2,742.7 533.7,746.6 533.1,750.2 532.6,753.8 532.1,757 531.5,760.2 531,763 530.4,765.6 529.9,768.2 529.4,770.4 528.8,772.2 528.3,773.6 527.7,775.2 527.2,776.3 526.7,777.1 526.1,777.8 525.6,778.8 525,779.7 524.5,780.1 524,780.8 523.4,781.1 522.9,781.9 522.3,782.4 521.8,782.6 521.2,783 520.7,783.4 520.2,783.3 519.6,783.9 519.1,784.6 518.5,784.8 518,785.5 517.5,785.8 516.9,786.1 516.4,786.4 515.8,786.4 515.3,786.6 514.8,787.1 514.2,787.6 513.7,787.9 513.1,787.7 512.6,788.2 512.1,788.3 511.5,788.7 511,789 510.4,789.8 509.9,790.3 509.4,790.4 508.8,790.6 508.3,790.5 507.7,791 507.2,791.2 506.6,791.8 506.1,792.2 505.6,792 505,792.4 504.5,792.8 503.9,792.6 503.4,793.3 502.9,793.7 502.3,793.4 501.8,794.2 501.2,794.1 500.7,794.2" fill="#888" opacity=".2"/>
<polygon points="500.7,794.2 501.2,794.1 501.8,793.8 502.3,793.8 502.9,793.2 503.4,792.8 503.9,792.6 504.5,792.6 505,792.3 505.6,792.2 506.1,792 506.6,791.3 507.2,790.8 507.7,790.9 508.3,790.4 508.8,790.1 509.4,790 509.9,789.8 510.4,789.4 511,789.1 511.5,788.7 512.1,788.4 512.6,788.3 513.1,787.8 513.7,787.3 514.2,786.8 514.8,786.6 515.3,786.7 515.8,786.6 516.4,786.3 516.9,785.6 517.5,785.4 518,785.1 518.5,784.5 519.1,784.3 519.6,783.9 520.2,783.6 520.7,783.4 521.2,782.9 521.8,782.3 522.3,782.1 522.9,781.7 523.4,781.3 524,780.9 524.5,780.3 525,779.6 525.6,778.9 526.1,778.3 526.7,777.4 527.2,776.7 527.7,775.7 528.3,774.7 528.8,773.3 529.4,772 529.9,770.2 530.4,768.4 531,766.4 531.5,763.8 532.1,761.1 532.6,758.4 533.1,755.5 533.7,752.4 534.2,749.2 534.8,745.9 535.3,742.7 535.8,739.6 536.4,736.5 536.9,733.7 537.5,731.1 538,728.7 538.5,726.8 539.1,728.7 539.6,731 540.2,733.6 540.7,736.5 541.3,739.4 541.8,742.6 542.3,745.9 542.9,749.3 543.4,752.4 544,755.5 544.5,758.5 545,761.2 545.6,763.7 546.1,766.2 546.7,768.3 547.2,770.1 547.7,771.8 548.3,773.2 548.8,774.7 549.4,775.8 549.9,776.8 550.4,777.6 551,778.4 551.5,779 552.1,779.6 552.6,780.1 553.1,780.8 553.7,781.2 554.2,781.4 554.8,781.9 555.3,782.6 555.9,783.1 556.4,783.4 556.9,783.9 557.5,784.3 558,784.7 558.6,784.9 559.1,784.9 559.6,785.3 560.2,785.6 560.7,786 561.3,786.3 561.8,786.7 562.3,786.9 562.9,787 563.4,787.3 564,787.8 564.5,788.1 565,788.2 565.6,788.8 566.1,789.3 566.7,789.5 567.2,789.6 567.7,789.9 568.3,790.2 568.8,790.3 569.4,790.7 569.9,790.9 570.5,791 571,791.5 571.5,791.6 572.1,791.9 572.6,792.1 573.2,792.8 573.7,792.8 574.2,793 574.8,793 575.3,793.2 575.9,793.8 576.4,793.9 576.4,793.9 575.9,793.8 575.3,793.1 574.8,793 574.2,793 573.7,792.8 573.2,792.8 572.6,792.1 572.1,791.9 571.5,791.7 571,791.5 570.5,791 569.9,790.9 569.4,790.8 568.8,790.4 568.3,790.3 567.7,790 567.2,789.7 566.7,789.6 566.1,789.4 565.6,789 565,788.3 564.5,788.2 564,787.9 563.4,787.5 562.9,787.2 562.3,787.1 561.8,786.9 561.3,786.6 560.7,786.2 560.2,785.9 559.6,785.5 559.1,785.2 558.6,785.2 558,785 557.5,784.6 556.9,784.2 556.4,783.7 555.9,783.5 555.3,783 554.8,782.4 554.2,781.9 553.7,781.7 553.1,781.3 552.6,780.7 552.1,780.2 551.5,779.7 551,779.1 550.4,778.4 549.9,777.6 549.4,776.7 548.8,775.7 548.3,774.4 547.7,773 547.2,771.4 546.7,769.8 546.1,767.9 545.6,765.7 545,763.4 544.5,761 544,758.3 543.4,755.6 542.9,752.8 542.3,749.9 541.8,747 541.3,744.3 540.7,741.9 540.2,739.5 539.6,737.4 539.1,735.7 538.5,734.2 538,735.7 537.5,737.5 536.9,739.6 536.4,741.8 535.8,744.4 535.3,747.1 534.8,749.8 534.2,752.7 533.7,755.5 533.1,758.3 532.6,760.9 532.1,763.3 531.5,765.8 531,768.1 530.4,770 529.9,771.6 529.4,773.2 528.8,774.4 528.3,775.7 527.7,776.6 527.2,777.6 526.7,778.2 526.1,779 525.6,779.6 525,780.2 524.5,780.9 524,781.5 523.4,781.8 522.9,782.2 522.3,782.5 521.8,782.7 521.2,783.3 520.7,783.8 520.2,783.9 519.6,784.2 519.1,784.6 518.5,784.8 518,785.4 517.5,785.7 516.9,785.9 516.4,786.6 515.8,786.8 515.3,786.9 514.8,786.8 514.2,787 513.7,787.5 513.1,788 512.6,788.5 512.1,788.5 511.5,788.9 511,789.3 510.4,789.5 509.9,789.9 509.4,790.1 508.8,790.2 508.3,790.5 507.7,791 507.2,790.8 506.6,791.4 506.1,792 505.6,792.2 505,792.3 504.5,792.6 503.9,792.6 503.4,792.8 502.9,793.2 502.3,793.7 501.8,793.7 501.2,794 500.7,794.1" fill="#f01818" opacity=".3"/>
<polyline points="500.7,794.2 501.2,794.2 501.8,794.3 502.3,793.5 502.9,793.8 503.4,793.3 503.9,792.6 504.5,792.8 505,792.4 505.6,792 506.1,792.1 506.6,791.8 507.2,791.2 507.7,790.9 508.3,790.4 508.8,790.5 509.4,790.4 509.9,790.3 510.4,789.7 511,788.9 511.5,788.6 512.1,788.2 512.6,788.1 513.1,787.6 513.7,787.7 514.2,787.5 514.8,786.9 515.3,786.4 515.8,786.2 516.4,786.2 516.9,785.9 517.5,785.7 518,785.3 518.5,784.6 519.1,784.4 519.6,783.7 520.2,783.1 520.7,783.1 521.2,782.8 521.8,782.3 522.3,782.1 522.9,781.5 523.4,780.7 524,780.4 524.5,779.7 525,779.2 525.6,778.4 526.1,777.3 526.7,776.6 527.2,775.7 527.7,774.5 528.3,772.9 528.8,771.4 529.4,769.5 529.9,767.1 530.4,764.3 531,761.6 531.5,758.6 532.1,755.2 532.6,751.7 533.1,747.8 533.7,743.9 534.2,739.7 534.8,735.4 535.3,731.6 535.8,727.7 536.4,724 536.9,720.7 537.5,717.7 538,714.9 538.5,712.6 539.1,715 539.6,717.5 540.2,720.4 540.7,723.9 541.3,727.6 541.8,731.7 542.3,735.7 542.9,739.7 543.4,743.7 544,747.6 544.5,751.7 545,755.3 545.6,758.5 546.1,761.5 546.7,764.4 547.2,766.9 547.7,768.8 548.3,770.8 548.8,772.8 549.4,774.1 549.9,775.4 550.4,776.6 551,777.6 551.5,778.4 552.1,779.2 552.6,780 553.1,780.4 553.7,781.1 554.2,781.3 554.8,782.1 555.3,782.2 555.9,782.4 556.4,782.9 556.9,783.2 557.5,783.8 558,784 558.6,784.5 559.1,785.1 559.6,785 560.2,785.5 560.7,786 561.3,786 561.8,786.6 562.3,786.8 562.9,787.4 563.4,787.4 564,788 564.5,788.6 565,788.4 565.6,789 566.1,788.9 566.7,788.8 567.2,789.3 567.7,790.2 568.3,790.8 568.8,791.2 569.4,791.3 569.9,791.3 570.5,791.1 571,791.7 571.5,792.3 572.1,792.4 572.6,793 573.2,793.5 573.7,793.4 574.2,793.3 574.8,794 575.3,794.1 575.9,794 576.4,793.9" fill="none" stroke="#111" stroke-width="1.05" stroke-linejoin="round"/>
<polyline points="500.7,794.1 501.2,794 501.8,793.8 502.3,793.7 502.9,793.2 503.4,792.8 503.9,792.6 504.5,792.6 505,792.3 505.6,792.2 506.1,792 506.6,791.3 507.2,790.8 507.7,791 508.3,790.5 508.8,790.2 509.4,790 509.9,789.9 510.4,789.4 511,789.2 511.5,788.8 512.1,788.4 512.6,788.4 513.1,787.9 513.7,787.4 514.2,786.9 514.8,786.7 515.3,786.8 515.8,786.7 516.4,786.4 516.9,785.8 517.5,785.5 518,785.2 518.5,784.7 519.1,784.4 519.6,784.1 520.2,783.7 520.7,783.6 521.2,783.1 521.8,782.5 522.3,782.3 522.9,782 523.4,781.5 524,781.2 524.5,780.6 525,779.9 525.6,779.2 526.1,778.6 526.7,777.8 527.2,777.2 527.7,776.2 528.3,775.2 528.8,773.9 529.4,772.6 529.9,770.9 530.4,769.2 531,767.2 531.5,764.8 532.1,762.2 532.6,759.6 533.1,756.9 533.7,754 534.2,751 534.8,747.8 535.3,744.9 535.8,742 536.4,739.2 536.9,736.6 537.5,734.3 538,732.2 538.5,730.5 539.1,732.2 539.6,734.2 540.2,736.5 540.7,739.2 541.3,741.9 541.8,744.8 542.3,747.9 542.9,751 543.4,754 544,756.9 544.5,759.7 545,762.3 545.6,764.7 546.1,767.1 546.7,769.1 547.2,770.8 547.7,772.4 548.3,773.8 548.8,775.2 549.4,776.3 549.9,777.2 550.4,778 551,778.7 551.5,779.3 552.1,779.9 552.6,780.4 553.1,781.1 553.7,781.5 554.2,781.7 554.8,782.2 555.3,782.8 555.9,783.3 556.4,783.5 556.9,784 557.5,784.5 558,784.8 558.6,785 559.1,785 559.6,785.4 560.2,785.8 560.7,786.1 561.3,786.4 561.8,786.8 562.3,787 562.9,787.1 563.4,787.4 564,787.9 564.5,788.1 565,788.3 565.6,788.9 566.1,789.3 566.7,789.5 567.2,789.7 567.7,789.9 568.3,790.2 568.8,790.4 569.4,790.8 569.9,790.9 570.5,791 571,791.5 571.5,791.7 572.1,791.9 572.6,792.1 573.2,792.8 573.7,792.8 574.2,793 574.8,793 575.3,793.1 575.9,793.8 576.4,793.9" fill="none" stroke="#f01818" stroke-width="1.05" stroke-linejoin="round"/>
<path d="M496.2 653.3V805.7H576.9M496.2 792.7h-3.2M496.2 729.3h-3.2M496.2 665.9h-3.2M500.7 805.7v3.4M511.5 805.7v3.4M522.3 805.7v3.4M533.1 805.7v3.4M544 805.7v3.4M554.8 805.7v3.4M565.6 805.7v3.4M576.4 805.7v3.4" stroke="#000" stroke-width="1.3" fill="none"/>
<text x="501.5" y="660.1" font-size="8.6" font-weight="bold" fill="#111" textLength="17.9" lengthAdjust="spacingAndGlyphs">Exc.</text>
<text x="536.8" y="829.9" font-size="11.5" text-anchor="middle" fill="#111" textLength="72.3" lengthAdjust="spacingAndGlyphs">Distance (µm)</text>
<text x="474.4" y="732.5" font-size="11.3" text-anchor="middle" fill="#111" transform="rotate(-90 474.4 732.5)" textLength="76.5" lengthAdjust="spacingAndGlyphs">Norm. Intensity</text>
<text x="596.4" y="795.9" font-size="9.2" text-anchor="end" fill="#111">1.0</text>
<text x="596.4" y="732.5" font-size="9.2" text-anchor="end" fill="#111">1.5</text>
<text x="596.4" y="669.1" font-size="9.2" text-anchor="end" fill="#111">2.0</text>
<text x="606.2" y="818.2" font-size="9.3" text-anchor="middle" fill="#111">0</text>
<text x="617.1" y="818.2" font-size="9.3" text-anchor="middle" fill="#111">1</text>
<text x="627.9" y="818.2" font-size="9.3" text-anchor="middle" fill="#111">2</text>
<text x="638.8" y="818.2" font-size="9.3" text-anchor="middle" fill="#111">3</text>
<text x="649.6" y="818.2" font-size="9.3" text-anchor="middle" fill="#111">4</text>
<text x="660.5" y="818.2" font-size="9.3" text-anchor="middle" fill="#111">5</text>
<text x="671.3" y="818.2" font-size="9.3" text-anchor="middle" fill="#111">6</text>
<text x="682.2" y="818.2" font-size="9.3" text-anchor="middle" fill="#111">7</text>
<polygon points="606.2,794.3 606.7,793.9 607.3,793 607.8,793 608.4,792.7 608.9,792.2 609.5,792.3 610,791.7 610.5,791 611.1,790.1 611.6,790.3 612.2,789.9 612.7,789.7 613.3,788.4 613.8,787.5 614.3,787.6 614.9,786.2 615.4,785.1 616,784.5 616.5,784 617.1,784 617.6,783.8 618.1,782.8 618.7,782.5 619.2,781.8 619.8,781.1 620.3,780.6 620.9,779.5 621.4,778.5 621.9,777.2 622.5,776.4 623,775.5 623.6,774.8 624.1,773.9 624.7,773.2 625.2,772.6 625.7,771.2 626.3,770 626.8,769 627.4,768.1 627.9,767.5 628.5,766.8 629,765.8 629.5,764.8 630.1,762.9 630.6,761.5 631.2,759.5 631.7,757.9 632.3,755.5 632.8,753.1 633.3,751.2 633.9,748.6 634.4,745.1 635,741.8 635.5,737.8 636.1,734 636.6,730.1 637.1,725.2 637.7,720.1 638.2,715.1 638.8,710 639.3,704.4 639.9,698.3 640.4,692.4 640.9,687 641.5,681.5 642,676.1 642.6,670.8 643.1,665.4 643.7,660.7 644.2,656 644.7,660.5 645.3,665.5 645.8,670.4 646.4,676 646.9,681.4 647.5,687.3 648,693 648.5,698.8 649.1,704.6 649.6,709.7 650.2,715 650.7,720.5 651.3,725.2 651.8,730.2 652.3,734.6 652.9,738.3 653.4,742 654,745.8 654.5,748.4 655.1,751.5 655.6,754.2 656.1,756.2 656.7,758.4 657.2,760.3 657.8,762.2 658.3,763.9 658.9,764.9 659.4,766.2 659.9,767.1 660.5,768.2 661,769.2 661.6,769.6 662.1,770.6 662.7,771.5 663.2,772 663.7,773.4 664.3,774.5 664.8,774.7 665.4,775.2 665.9,776.4 666.5,777.5 667,777.8 667.5,778.1 668.1,779.4 668.6,779.5 669.2,780 669.7,780.9 670.3,781.9 670.8,783.2 671.3,784.3 671.9,784.1 672.4,785.1 673,785.4 673.5,786.4 674.1,786.6 674.6,787.2 675.1,788.2 675.7,789.2 676.2,789.2 676.8,790.4 677.3,791.1 677.9,791.3 678.4,791.1 678.9,791.6 679.5,792.5 680,792.3 680.6,793.4 681.1,794.4 681.7,794.8 682.2,794.8 682.2,794.5 681.7,794.5 681.1,794.2 680.6,793.3 680,792.4 679.5,792.5 678.9,791.7 678.4,791.4 677.9,791.5 677.3,791.3 676.8,790.7 676.2,789.8 675.7,789.7 675.1,788.8 674.6,788 674.1,787.5 673.5,787.4 673,786.5 672.4,786.3 671.9,785.4 671.3,785.6 670.8,784.7 670.3,783.6 669.7,782.8 669.2,782.1 668.6,781.7 668.1,781.6 667.5,780.5 667,780.3 666.5,780.1 665.9,779.2 665.4,778.2 664.8,777.9 664.3,777.7 663.7,776.8 663.2,775.8 662.7,775.4 662.1,774.8 661.6,774 661,773.7 660.5,773.1 659.9,772.3 659.4,771.7 658.9,770.7 658.3,770 657.8,768.9 657.2,767.5 656.7,766.2 656.1,764.7 655.6,763.4 655.1,761.6 654.5,759.5 654,757.9 653.4,755.4 652.9,753.2 652.3,750.9 651.8,748.2 651.3,745.3 650.7,742.6 650.2,739.6 649.6,736.9 649.1,734.3 648.5,731.6 648,729 647.5,726.6 646.9,724.4 646.4,722.7 645.8,721.1 645.3,720.2 644.7,719.4 644.2,719.1 643.7,719.5 643.1,720.1 642.6,721.4 642,722.8 641.5,724.5 640.9,726.5 640.4,728.6 639.9,731.2 639.3,734.2 638.8,737 638.2,739.7 637.7,742.4 637.1,745.3 636.6,748.2 636.1,750.5 635.5,752.8 635,755.3 634.4,757.4 633.9,759.7 633.3,761.4 632.8,762.6 632.3,764.1 631.7,765.8 631.2,766.9 630.6,768.3 630.1,769.3 629.5,770.6 629,771.3 628.5,772 627.9,772.5 627.4,772.9 626.8,773.5 626.3,774.2 625.7,775.2 625.2,776.3 624.7,776.7 624.1,777.2 623.6,778 623,778.5 622.5,779.2 621.9,779.8 621.4,780.9 620.9,781.6 620.3,782.6 619.8,783 619.2,783.6 618.7,784.1 618.1,784.4 617.6,785.2 617.1,785.3 616.5,785.4 616,785.8 615.4,786.2 614.9,787.2 614.3,788.4 613.8,788.3 613.3,789 612.7,790.2 612.2,790.3 611.6,790.7 611.1,790.5 610.5,791.2 610,791.9 609.5,792.4 608.9,792.3 608.4,792.7 607.8,792.9 607.3,793 606.7,793.8 606.2,794.1" fill="#888" opacity=".2"/>
<polygon points="606.2,794.3 606.7,794 607.3,793.7 607.8,793.8 608.4,793.8 608.9,793.4 609.5,793.2 610,792.5 610.5,792.1 611.1,791.7 611.6,791.5 612.2,791.1 612.7,791 613.3,790.7 613.8,790.5 614.3,789.8 614.9,789.8 615.4,789.1 616,789 616.5,788.5 617.1,788.2 617.6,787.8 618.1,787.2 618.7,787.1 619.2,786.9 619.8,786.1 620.3,785.7 620.9,785.6 621.4,784.8 621.9,784.2 622.5,784.1 623,783.7 623.6,783.5 624.1,783.1 624.7,782.5 625.2,782.2 625.7,781.5 626.3,781.3 626.8,780.9 627.4,780.1 627.9,779.7 628.5,779.2 629,778.6 629.5,778 630.1,777.5 630.6,777.1 631.2,776.2 631.7,775.4 632.3,774.5 632.8,773.7 633.3,773 633.9,772.1 634.4,771 635,769.8 635.5,768.7 636.1,767.4 636.6,765.9 637.1,764.2 637.7,762.4 638.2,760.6 638.8,758.9 639.3,756.8 639.9,754.8 640.4,752.8 640.9,750.9 641.5,748.9 642,747.1 642.6,745.2 643.1,743.7 643.7,742.1 644.2,740.8 644.7,742.1 645.3,743.7 645.8,745.4 646.4,747.1 646.9,748.9 647.5,751 648,752.9 648.5,754.9 649.1,756.9 649.6,758.8 650.2,760.5 650.7,762.4 651.3,764 651.8,765.7 652.3,767.1 652.9,768.6 653.4,770 654,771 654.5,771.9 655.1,773.1 655.6,774.1 656.1,774.7 656.7,775.6 657.2,776.3 657.8,777.1 658.3,777.8 658.9,778.2 659.4,778.5 659.9,778.8 660.5,779.4 661,780.2 661.6,780.7 662.1,781 662.7,781.3 663.2,781.8 663.7,782.4 664.3,782.8 664.8,783.3 665.4,783.6 665.9,784.2 666.5,784.4 667,784.6 667.5,785.3 668.1,785.9 668.6,786 669.2,786.6 669.7,786.7 670.3,787.2 670.8,787.5 671.3,787.8 671.9,788.5 672.4,789 673,789.4 673.5,789.6 674.1,789.8 674.6,790.4 675.1,790.4 675.7,790.9 676.2,791.4 676.8,791.7 677.3,791.7 677.9,792 678.4,792.3 678.9,792.4 679.5,792.5 680,792.8 680.6,793.3 681.1,793.6 681.7,793.6 682.2,793.8 682.2,793.7 681.7,793.6 681.1,793.6 680.6,793.3 680,792.8 679.5,792.5 678.9,792.4 678.4,792.3 677.9,792 677.3,791.7 676.8,791.7 676.2,791.4 675.7,791 675.1,790.5 674.6,790.5 674.1,789.9 673.5,789.7 673,789.6 672.4,789.1 671.9,788.7 671.3,788.1 670.8,787.7 670.3,787.4 669.7,787 669.2,786.9 668.6,786.3 668.1,786.2 667.5,785.7 667,785 666.5,784.8 665.9,784.6 665.4,784.1 664.8,783.8 664.3,783.3 663.7,783 663.2,782.4 662.7,781.9 662.1,781.6 661.6,781.4 661,780.9 660.5,780.2 659.9,779.6 659.4,779.3 658.9,779.1 658.3,778.7 657.8,778.1 657.2,777.4 656.7,776.7 656.1,776 655.6,775.4 655.1,774.5 654.5,773.5 654,772.7 653.4,771.7 652.9,770.5 652.3,769.2 651.8,768.1 651.3,766.5 650.7,765.2 650.2,763.6 649.6,762.2 649.1,760.6 648.5,759 648,757.3 647.5,755.8 646.9,754.2 646.4,752.8 645.8,751.5 645.3,750.4 644.7,749.2 644.2,748.4 643.7,749.3 643.1,750.3 642.6,751.4 642,752.8 641.5,754.2 640.9,755.7 640.4,757.2 639.9,758.9 639.3,760.5 638.8,762.2 638.2,763.7 637.7,765.2 637.1,766.7 636.6,768.2 636.1,769.5 635.5,770.6 635,771.6 634.4,772.6 633.9,773.6 633.3,774.4 632.8,775.1 632.3,775.7 631.7,776.5 631.2,777.3 630.6,778 630.1,778.4 629.5,778.9 629,779.4 628.5,780 627.9,780.4 627.4,780.8 626.8,781.5 626.3,781.9 625.7,782.1 625.2,782.7 624.7,783 624.1,783.5 623.6,783.9 623,784.2 622.5,784.6 621.9,784.6 621.4,785.2 620.9,785.9 620.3,786.1 619.8,786.4 619.2,787.2 618.7,787.4 618.1,787.4 617.6,788 617.1,788.4 616.5,788.7 616,789.2 615.4,789.3 614.9,789.9 614.3,789.9 613.8,790.6 613.3,790.8 612.7,791.1 612.2,791.1 611.6,791.5 611.1,791.8 610.5,792.1 610,792.5 609.5,793.1 608.9,793.4 608.4,793.7 607.8,793.7 607.3,793.6 606.7,793.9 606.2,794.2" fill="#f01818" opacity=".3"/>
<polyline points="606.2,794.2 606.7,793.9 607.3,793 607.8,792.9 608.4,792.7 608.9,792.3 609.5,792.3 610,791.8 610.5,791.1 611.1,790.3 611.6,790.5 612.2,790.1 612.7,789.9 613.3,788.7 613.8,787.9 614.3,788 614.9,786.7 615.4,785.6 616,785.2 616.5,784.7 617.1,784.6 617.6,784.5 618.1,783.6 618.7,783.3 619.2,782.7 619.8,782 620.3,781.6 620.9,780.5 621.4,779.7 621.9,778.5 622.5,777.8 623,777 623.6,776.4 624.1,775.6 624.7,775 625.2,774.4 625.7,773.2 626.3,772.1 626.8,771.3 627.4,770.5 627.9,770 628.5,769.4 629,768.5 629.5,767.7 630.1,766.1 630.6,764.9 631.2,763.2 631.7,761.8 632.3,759.8 632.8,757.8 633.3,756.3 633.9,754.2 634.4,751.3 635,748.6 635.5,745.3 636.1,742.3 636.6,739.1 637.1,735.3 637.7,731.2 638.2,727.4 638.8,723.5 639.3,719.3 639.9,714.8 640.4,710.5 640.9,706.7 641.5,703 642,699.4 642.6,696.1 643.1,692.7 643.7,690.1 644.2,687.5 644.7,690 645.3,692.8 645.8,695.8 646.4,699.3 646.9,702.9 647.5,706.9 648,711 648.5,715.2 649.1,719.5 649.6,723.3 650.2,727.3 650.7,731.6 651.3,735.2 651.8,739.2 652.3,742.7 652.9,745.7 653.4,748.7 654,751.8 654.5,754 655.1,756.6 655.6,758.8 656.1,760.4 656.7,762.3 657.2,763.9 657.8,765.5 658.3,766.9 658.9,767.8 659.4,768.9 659.9,769.7 660.5,770.6 661,771.5 661.6,771.8 662.1,772.7 662.7,773.5 663.2,773.9 663.7,775.1 664.3,776.1 664.8,776.3 665.4,776.7 665.9,777.8 666.5,778.8 667,779.1 667.5,779.3 668.1,780.5 668.6,780.6 669.2,781 669.7,781.8 670.3,782.8 670.8,783.9 671.3,785 671.9,784.8 672.4,785.7 673,786 673.5,786.9 674.1,787 674.6,787.6 675.1,788.5 675.7,789.4 676.2,789.5 676.8,790.6 677.3,791.2 677.9,791.4 678.4,791.3 678.9,791.7 679.5,792.5 680,792.3 680.6,793.3 681.1,794.3 681.7,794.7 682.2,794.7" fill="none" stroke="#111" stroke-width="1.05" stroke-linejoin="round"/>
<polyline points="606.2,794.2 606.7,793.9 607.3,793.6 607.8,793.7 608.4,793.8 608.9,793.4 609.5,793.1 610,792.5 610.5,792.1 611.1,791.8 611.6,791.5 612.2,791.1 612.7,791.1 613.3,790.7 613.8,790.6 614.3,789.9 614.9,789.8 615.4,789.2 616,789.1 616.5,788.6 617.1,788.3 617.6,787.9 618.1,787.3 618.7,787.3 619.2,787 619.8,786.3 620.3,785.9 620.9,785.7 621.4,785 621.9,784.4 622.5,784.3 623,784 623.6,783.7 624.1,783.3 624.7,782.7 625.2,782.4 625.7,781.8 626.3,781.6 626.8,781.2 627.4,780.5 627.9,780 628.5,779.6 629,779 629.5,778.5 630.1,778 630.6,777.6 631.2,776.8 631.7,775.9 632.3,775.1 632.8,774.4 633.3,773.7 633.9,772.9 634.4,771.8 635,770.7 635.5,769.7 636.1,768.4 636.6,767 637.1,765.5 637.7,763.8 638.2,762.1 638.8,760.5 639.3,758.6 639.9,756.8 640.4,755 640.9,753.3 641.5,751.6 642,749.9 642.6,748.3 643.1,747 643.7,745.7 644.2,744.6 644.7,745.7 645.3,747 645.8,748.4 646.4,750 646.9,751.5 647.5,753.4 648,755.1 648.5,757 649.1,758.8 649.6,760.5 650.2,762.1 650.7,763.8 651.3,765.3 651.8,766.9 652.3,768.2 652.9,769.5 653.4,770.9 654,771.8 654.5,772.7 655.1,773.8 655.6,774.7 656.1,775.3 656.7,776.1 657.2,776.9 657.8,777.6 658.3,778.3 658.9,778.6 659.4,778.9 659.9,779.2 660.5,779.8 661,780.6 661.6,781.1 662.1,781.3 662.7,781.6 663.2,782.1 663.7,782.7 664.3,783.1 664.8,783.5 665.4,783.9 665.9,784.4 666.5,784.6 667,784.8 667.5,785.5 668.1,786 668.6,786.2 669.2,786.7 669.7,786.9 670.3,787.3 670.8,787.6 671.3,787.9 671.9,788.6 672.4,789 673,789.5 673.5,789.6 674.1,789.9 674.6,790.5 675.1,790.5 675.7,790.9 676.2,791.4 676.8,791.7 677.3,791.7 677.9,792 678.4,792.3 678.9,792.4 679.5,792.5 680,792.8 680.6,793.3 681.1,793.6 681.7,793.6 682.2,793.7" fill="none" stroke="#f01818" stroke-width="1.05" stroke-linejoin="round"/>
<path d="M601.6 653.3V805.7H682.7M601.6 792.7h-3.2M601.6 729.3h-3.2M601.6 665.9h-3.2M606.2 805.7v3.4M617.1 805.7v3.4M627.9 805.7v3.4M638.8 805.7v3.4M649.6 805.7v3.4M660.5 805.7v3.4M671.3 805.7v3.4M682.2 805.7v3.4" stroke="#000" stroke-width="1.3" fill="none"/>
<text x="606" y="660.1" font-size="8.6" font-weight="bold" fill="#111" textLength="16" lengthAdjust="spacingAndGlyphs">Inh.</text>
<text x="642.4" y="829.9" font-size="11.5" text-anchor="middle" fill="#111" textLength="72.3" lengthAdjust="spacingAndGlyphs">Distance (µm)</text>
<text x="681.9" y="661.1" font-size="8.6" font-weight="bold" text-anchor="end" fill="#111" textLength="21.2" lengthAdjust="spacingAndGlyphs">-HEX</text>
<text x="681.9" y="672.7" font-size="8.6" font-weight="bold" text-anchor="end" fill="#ff2828" textLength="23.8" lengthAdjust="spacingAndGlyphs">+HEX</text>
</svg></body></html>
